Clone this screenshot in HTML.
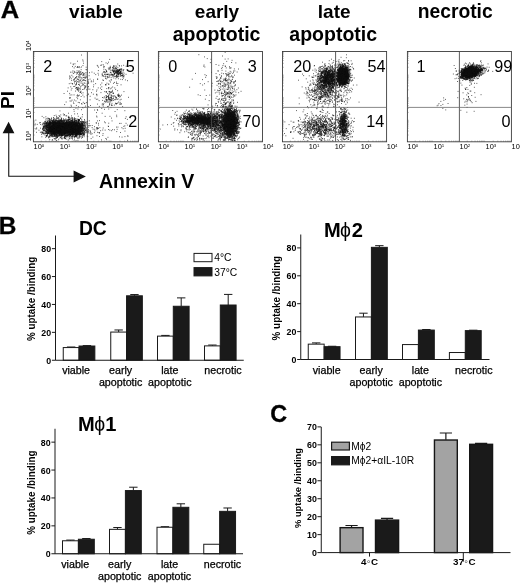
<!DOCTYPE html>
<html lang="en"><head><meta charset="utf-8"><title>Figure</title>
<style>html,body{margin:0;padding:0;background:#fff}svg{display:block}text{font-family:"Liberation Sans", sans-serif;fill:#000}.b{font-weight:bold}</style></head><body>
<svg width="520" height="583" viewBox="0 0 520 583">
<rect width="520" height="583" fill="#fff"/>
<text class="b" x="0.7" y="18" font-size="24.6" textLength="18.4" lengthAdjust="spacingAndGlyphs" stroke="#000" stroke-width="0.3">A</text>
<text class="b" x="-1.3" y="233.8" font-size="24.4" stroke="#000" stroke-width="0.3">B</text>
<text class="b" x="270.2" y="421.8" font-size="23.4" stroke="#000" stroke-width="0.3">C</text>
<text class="b" x="96.00" y="17.60" font-size="19" text-anchor="middle">viable</text>
<text class="b" x="217.00" y="17.60" font-size="19" text-anchor="middle">early</text>
<text class="b" x="216.60" y="41.30" font-size="19.5" text-anchor="middle">apoptotic</text>
<text class="b" x="334.20" y="17.60" font-size="19" text-anchor="middle">late</text>
<text class="b" x="333.20" y="41.30" font-size="19.5" text-anchor="middle">apoptotic</text>
<text class="b" x="455.20" y="17.60" font-size="19.3" text-anchor="middle">necrotic</text>
<path d="M71.8 127.1h.9M77.2 133.9h.9M72.9 128.9h.9M51.2 131.0h.9M61.0 126.4h.9M72.5 123.3h.9M49.5 129.4h.9M69.5 128.8h.9M77.8 126.0h.9M59.2 134.3h.9M60.5 126.1h.9M51.0 134.8h.9M54.3 132.4h.9M66.4 126.3h.9M61.3 120.4h.9M66.0 136.3h.9M78.6 125.6h.9M65.3 130.1h.9M69.1 129.1h.9M81.7 127.2h.9M50.6 119.6h.9M54.9 127.0h.9M64.8 119.6h.9M45.3 131.5h.9M48.7 130.2h.9M62.0 127.3h.9M71.1 128.1h.9M72.2 125.8h.9M70.9 129.7h.9M68.0 124.0h.9M56.8 121.3h.9M49.4 128.5h.9M49.9 133.6h.9M52.1 130.1h.9M71.7 127.8h.9M58.2 130.3h.9M58.4 125.0h.9M43.8 125.6h.9M65.1 135.5h.9M53.3 122.7h.9M53.0 127.8h.9M77.7 131.5h.9M65.2 128.4h.9M70.5 130.0h.9M74.8 134.2h.9M75.9 122.8h.9M53.6 129.5h.9M61.1 125.5h.9M62.8 123.1h.9M74.3 126.0h.9M57.9 132.4h.9M63.2 122.8h.9M51.0 127.3h.9M61.1 125.2h.9M59.5 129.5h.9M50.6 131.1h.9M79.1 132.1h.9M60.7 135.2h.9M69.9 132.4h.9M64.7 128.4h.9M67.3 124.6h.9M72.0 120.1h.9M68.7 126.6h.9M51.6 130.6h.9M59.6 120.1h.9M57.8 131.9h.9M59.2 135.1h.9M48.5 128.6h.9M76.8 123.4h.9M56.6 131.5h.9M67.7 127.2h.9M51.4 126.0h.9M78.6 122.0h.9M66.8 132.2h.9M53.1 123.9h.9M76.7 130.5h.9M83.0 121.8h.9M81.1 123.2h.9M64.2 121.9h.9M51.7 124.9h.9M49.2 123.4h.9M84.2 129.7h.9M67.3 136.8h.9M58.5 132.8h.9M75.5 125.4h.9M61.3 136.2h.9M71.8 131.9h.9M60.3 126.5h.9M61.5 132.6h.9M55.6 120.5h.9M51.1 122.7h.9M78.3 126.3h.9M57.2 127.8h.9M69.5 131.7h.9M56.2 131.7h.9M70.6 125.3h.9M54.6 126.1h.9M63.1 125.4h.9M47.3 133.1h.9M44.9 125.4h.9M80.0 128.2h.9M71.1 122.9h.9M61.3 130.4h.9M60.3 131.7h.9M73.5 127.7h.9M54.3 124.9h.9M67.8 126.7h.9M73.0 132.9h.9M62.9 126.4h.9M62.0 130.0h.9M73.6 127.1h.9M79.5 132.8h.9M50.6 123.6h.9M77.8 132.3h.9M55.3 124.2h.9M73.1 126.2h.9M77.4 133.5h.9M50.4 121.6h.9M61.5 128.7h.9M68.2 125.2h.9M47.9 130.3h.9M72.5 134.0h.9M81.2 121.7h.9M68.7 126.9h.9M73.9 122.2h.9M55.2 122.6h.9M51.9 130.6h.9M58.9 130.3h.9M55.6 129.3h.9M56.1 127.9h.9M82.1 123.4h.9M62.9 132.2h.9M52.3 133.6h.9M52.8 126.5h.9M72.9 122.5h.9M57.2 123.3h.9M83.9 122.9h.9M63.8 132.5h.9M65.5 124.2h.9M81.3 131.9h.9M76.5 125.1h.9M64.8 125.4h.9M66.4 123.6h.9M77.9 134.2h.9M61.1 130.5h.9M79.5 128.7h.9M44.6 135.1h.9M58.9 130.4h.9M64.3 133.4h.9M81.1 130.9h.9M54.4 127.3h.9M73.6 125.9h.9M73.3 127.8h.9M76.2 127.3h.9M71.0 126.1h.9M84.1 131.2h.9M57.0 125.4h.9M59.5 126.8h.9M55.3 124.9h.9M48.1 124.5h.9M52.7 128.0h.9M83.7 128.7h.9M74.5 131.6h.9M47.7 129.6h.9M69.2 134.0h.9M69.9 125.7h.9M67.4 126.5h.9M73.7 131.4h.9M56.0 136.3h.9M77.5 132.2h.9M60.4 135.6h.9M67.7 124.2h.9M75.1 136.0h.9M49.4 129.2h.9M55.4 127.0h.9M57.4 128.8h.9M71.9 134.7h.9M77.4 132.3h.9M73.9 128.4h.9M52.3 130.0h.9M71.7 131.2h.9M75.3 127.5h.9M72.8 121.5h.9M74.0 123.1h.9M76.9 126.3h.9M49.7 131.4h.9M44.4 122.6h.9M46.4 128.1h.9M51.2 133.3h.9M59.2 132.0h.9M52.7 122.7h.9M68.2 132.3h.9M46.3 125.1h.9M65.2 131.9h.9M57.6 121.9h.9M66.4 127.8h.9M41.7 124.9h.9M59.2 123.4h.9M74.4 127.4h.9M63.7 123.7h.9M77.6 130.8h.9M66.3 132.0h.9M70.8 129.3h.9M51.4 128.1h.9M71.8 130.0h.9M53.6 120.6h.9M72.3 134.8h.9M78.4 129.1h.9M72.7 126.8h.9M49.9 126.2h.9M62.8 128.7h.9M52.8 124.9h.9M54.5 131.4h.9M63.4 132.6h.9M70.7 128.7h.9M51.4 133.1h.9M83.6 132.0h.9M74.0 130.2h.9M52.6 132.4h.9M70.4 125.9h.9M80.5 131.0h.9M46.4 123.8h.9M66.5 121.5h.9M76.5 131.1h.9M66.2 131.2h.9M50.7 129.9h.9M71.7 126.7h.9M65.4 131.8h.9M74.8 132.5h.9M77.5 132.1h.9M59.0 127.6h.9M72.7 124.6h.9M74.9 131.4h.9M78.1 122.1h.9M53.0 129.5h.9M53.6 129.5h.9M71.6 128.1h.9M53.7 129.7h.9M57.3 129.0h.9M81.3 125.5h.9M62.7 125.6h.9M52.5 133.6h.9M55.4 133.4h.9M65.1 124.7h.9M54.2 129.1h.9M56.2 126.0h.9M50.3 125.7h.9M70.2 128.1h.9M79.3 128.0h.9M59.9 128.7h.9M59.4 122.9h.9M63.3 131.3h.9M60.5 133.5h.9M59.5 127.6h.9M58.0 132.9h.9M57.6 134.0h.9M47.3 125.5h.9M74.4 131.2h.9M64.0 125.9h.9M60.6 125.3h.9M51.4 123.2h.9M73.7 130.2h.9M54.2 129.2h.9M53.7 128.6h.9M48.7 125.6h.9M49.0 131.2h.9M85.8 122.9h.9M52.0 123.8h.9M55.9 127.0h.9M78.8 120.2h.9M67.4 132.8h.9M50.8 126.8h.9M57.1 128.1h.9M78.6 123.9h.9M63.6 129.7h.9M76.0 124.9h.9M50.9 128.1h.9M75.3 127.2h.9M69.4 130.2h.9M75.4 129.7h.9M67.3 133.3h.9M60.4 124.5h.9M52.3 123.5h.9M68.5 122.3h.9M68.9 129.7h.9M58.4 123.0h.9M54.6 128.9h.9M61.5 133.8h.9M71.6 128.7h.9M71.8 135.0h.9M51.7 135.7h.9M54.6 126.1h.9M73.2 131.4h.9M70.7 133.6h.9M70.2 135.0h.9M80.4 130.3h.9M73.3 130.5h.9M75.5 135.7h.9M70.1 131.5h.9M58.9 127.1h.9M68.3 128.4h.9M54.3 130.1h.9M66.6 133.6h.9M66.9 130.0h.9M70.2 122.6h.9M63.9 128.2h.9M61.3 127.2h.9M64.6 134.5h.9M53.3 126.2h.9M77.1 128.4h.9M65.3 130.0h.9M56.6 131.9h.9M62.2 127.5h.9M69.6 134.2h.9M61.1 129.0h.9M75.7 126.6h.9M77.9 121.4h.9M59.7 127.4h.9M54.3 132.8h.9M73.3 129.5h.9M81.3 128.9h.9M53.5 123.8h.9M69.1 126.9h.9M71.0 121.3h.9M79.6 134.1h.9M53.1 125.4h.9M49.7 120.3h.9M78.6 120.2h.9M59.6 131.6h.9M50.6 126.3h.9M65.7 123.3h.9M63.2 133.2h.9M68.1 132.6h.9M54.2 132.4h.9M84.1 121.9h.9M58.0 126.2h.9M75.2 125.6h.9M51.9 121.7h.9M63.5 134.1h.9M52.0 124.0h.9M57.3 129.9h.9M56.3 129.8h.9M71.6 129.0h.9M65.8 126.5h.9M50.6 131.7h.9M82.8 129.6h.9M69.5 126.7h.9M82.0 126.9h.9M64.1 124.4h.9M65.3 132.0h.9M53.9 131.7h.9M48.6 127.7h.9M49.6 126.1h.9M60.6 137.0h.9M54.2 126.5h.9M51.4 128.3h.9M79.4 127.6h.9M68.4 125.4h.9M46.2 131.8h.9M70.7 126.1h.9M53.8 127.2h.9M59.8 121.4h.9M54.6 130.9h.9M63.7 120.9h.9M72.0 135.0h.9M59.7 126.6h.9M64.3 123.9h.9M80.9 133.7h.9M78.5 126.9h.9M55.4 121.6h.9M51.9 122.6h.9M47.0 130.0h.9M81.8 130.0h.9M80.0 126.9h.9M57.7 127.5h.9M88.8 120.8h.9M57.0 130.7h.9M65.7 127.1h.9M69.5 132.1h.9M72.9 128.2h.9M44.7 126.5h.9M56.6 124.6h.9M64.9 125.9h.9M52.2 128.2h.9M54.2 124.2h.9M69.1 125.4h.9M82.0 131.0h.9M75.4 125.9h.9M73.5 130.0h.9M74.8 128.4h.9M73.8 128.9h.9M71.7 127.5h.9M71.2 130.5h.9M74.3 131.5h.9M58.2 139.3h.9M58.7 120.9h.9M76.8 129.1h.9M50.0 123.0h.9M78.3 130.0h.9M64.2 120.2h.9M60.5 129.0h.9M75.3 131.7h.9M55.9 132.3h.9M65.9 130.8h.9M54.0 128.9h.9M78.8 123.4h.9M61.2 127.1h.9M80.4 128.0h.9M56.2 125.7h.9M78.9 120.3h.9M72.2 127.8h.9M71.2 127.3h.9M85.5 123.8h.9M63.0 126.9h.9M66.2 132.6h.9M65.0 129.5h.9M78.2 132.8h.9M57.7 124.2h.9M69.1 131.2h.9M54.4 128.3h.9M67.0 132.6h.9M78.8 125.9h.9M43.0 133.8h.9M71.7 136.5h.9M45.4 126.1h.9M83.3 134.0h.9M61.4 135.5h.9M62.6 132.9h.9M69.8 122.7h.9M67.2 123.2h.9M75.3 118.5h.9M48.9 128.0h.9M66.2 123.1h.9M60.8 132.9h.9M79.4 125.2h.9M51.9 129.2h.9M60.4 127.2h.9M72.4 126.7h.9M58.2 125.2h.9M43.3 126.2h.9M62.1 120.8h.9M53.1 124.2h.9M54.0 127.2h.9M76.2 133.8h.9M53.8 123.6h.9M65.1 128.8h.9M70.6 131.0h.9M66.3 124.0h.9M61.3 134.4h.9M81.7 124.0h.9M54.4 124.1h.9M67.3 123.1h.9M79.8 131.2h.9M71.6 122.8h.9M65.7 128.1h.9M60.9 130.7h.9M69.0 122.0h.9M64.9 133.4h.9M68.8 124.9h.9M62.8 129.4h.9M63.8 132.8h.9M76.4 125.2h.9M69.1 128.1h.9M57.4 130.5h.9M69.6 132.4h.9M61.5 120.3h.9M81.8 124.1h.9M75.9 123.9h.9M63.1 128.6h.9M79.7 125.1h.9M44.9 133.5h.9M63.6 123.5h.9M73.8 125.6h.9M66.8 129.2h.9M66.2 128.2h.9M74.9 123.9h.9M66.5 128.4h.9M64.8 123.2h.9M55.6 124.4h.9M55.3 127.2h.9M55.5 128.7h.9M58.7 131.4h.9M57.9 130.6h.9M79.2 125.0h.9M62.9 125.4h.9M61.6 126.7h.9M62.0 126.1h.9M68.6 129.8h.9M77.5 131.1h.9M71.2 129.0h.9M63.5 130.6h.9M56.9 137.6h.9M80.2 133.9h.9M56.6 128.4h.9M64.2 133.3h.9M42.2 128.7h.9M72.9 131.5h.9M61.6 126.9h.9M65.9 132.5h.9M53.9 124.7h.9M61.8 130.6h.9M77.6 134.2h.9M73.7 130.6h.9M64.6 129.7h.9M73.3 132.8h.9M54.7 129.5h.9M58.4 131.9h.9M70.4 132.7h.9M52.7 123.1h.9M57.4 132.6h.9M68.6 126.5h.9M71.2 133.3h.9M53.4 131.5h.9M70.7 129.5h.9M70.8 125.0h.9M51.0 133.8h.9M47.5 126.1h.9M63.0 132.7h.9M49.1 126.2h.9M71.6 129.6h.9M62.5 129.7h.9M61.6 129.8h.9M59.1 126.3h.9M64.9 135.8h.9M62.0 126.2h.9M71.0 127.7h.9M48.3 122.9h.9M74.9 129.5h.9M51.9 131.3h.9M53.6 128.7h.9M59.1 125.9h.9M44.9 123.4h.9M57.3 128.8h.9M69.5 132.5h.9M71.6 125.2h.9M52.7 124.3h.9M55.1 125.0h.9M55.5 132.5h.9M68.2 127.3h.9M61.8 127.1h.9M78.1 125.9h.9M65.8 127.6h.9M69.0 121.5h.9M79.4 130.1h.9M70.1 125.9h.9M59.0 123.9h.9M60.8 127.6h.9M59.6 131.0h.9M60.6 128.2h.9M48.2 133.0h.9M63.5 126.8h.9M70.4 134.1h.9M51.4 128.8h.9M52.2 129.9h.9M57.8 124.3h.9M59.9 126.3h.9M74.1 125.7h.9M48.2 137.8h.9M53.9 129.5h.9M55.5 130.0h.9M62.3 129.4h.9M45.6 122.7h.9M60.9 123.1h.9M46.4 135.7h.9M56.2 121.8h.9M71.4 133.7h.9M55.2 123.3h.9M64.1 124.8h.9M59.2 135.6h.9M57.6 130.3h.9M70.5 125.9h.9M55.2 130.0h.9M76.2 123.8h.9M78.5 131.8h.9M65.4 127.1h.9M49.4 131.8h.9M63.2 120.0h.9M65.5 129.8h.9M71.0 126.4h.9M56.5 123.3h.9M79.5 133.9h.9M76.0 131.2h.9M54.1 128.5h.9M58.4 122.1h.9M50.4 127.3h.9M77.5 137.7h.9M77.3 124.2h.9M79.0 129.7h.9M68.7 128.0h.9M67.8 135.7h.9M71.1 127.4h.9M70.1 135.9h.9M81.8 125.6h.9M66.0 130.4h.9M53.8 121.4h.9M64.1 124.5h.9M47.5 130.7h.9M75.2 130.0h.9M68.9 134.8h.9M60.5 129.3h.9M78.1 123.3h.9M70.5 129.8h.9M57.9 128.4h.9M56.0 134.6h.9M57.0 131.6h.9M55.7 130.8h.9M58.3 126.8h.9M58.6 126.3h.9M80.0 125.7h.9M56.7 122.3h.9M77.8 133.6h.9M67.9 125.6h.9M75.5 121.9h.9M60.0 125.5h.9M48.6 133.5h.9M78.4 128.1h.9M56.7 128.9h.9M46.1 135.8h.9M70.2 131.7h.9M64.3 125.3h.9M51.5 120.7h.9M58.2 126.2h.9M79.8 124.8h.9M54.0 127.8h.9M71.5 132.8h.9M48.9 128.0h.9M69.1 134.2h.9M46.2 133.5h.9M61.3 126.6h.9M53.6 133.6h.9M60.7 128.7h.9M79.7 128.1h.9M54.9 136.3h.9M55.7 129.5h.9M72.4 122.6h.9M65.2 128.1h.9M57.6 125.3h.9M70.4 131.2h.9M62.4 123.9h.9M79.4 128.0h.9M61.2 131.2h.9M73.6 130.1h.9M69.5 123.8h.9M71.5 125.9h.9M61.0 130.1h.9M67.2 135.5h.9M71.8 131.4h.9M60.8 126.8h.9M45.1 121.5h.9M86.8 136.0h.9M67.4 135.3h.9M50.9 118.4h.9M72.4 124.5h.9M49.5 126.8h.9M60.0 126.1h.9M70.2 131.6h.9M58.6 123.6h.9M56.3 131.2h.9M58.5 128.5h.9M53.8 130.1h.9M57.4 126.9h.9M60.5 123.6h.9M55.1 121.2h.9M47.7 123.5h.9M66.7 130.3h.9M52.6 121.0h.9M69.5 130.3h.9M83.2 127.3h.9M59.1 130.0h.9M67.0 124.5h.9M66.7 130.3h.9M52.9 130.1h.9M46.5 126.7h.9M76.2 124.9h.9M58.7 129.6h.9M74.3 129.9h.9M47.1 132.3h.9M71.8 118.1h.9M77.7 120.0h.9M73.0 132.0h.9M47.4 122.4h.9M60.2 130.1h.9M59.6 124.9h.9M74.3 119.9h.9M50.7 130.3h.9M49.1 123.7h.9M72.9 131.8h.9M64.6 133.8h.9M63.4 129.2h.9M83.4 135.1h.9M53.2 118.1h.9M50.6 129.6h.9M57.9 123.7h.9M53.1 128.8h.9M51.5 129.6h.9M68.5 129.2h.9M76.7 133.1h.9M67.1 130.9h.9M64.4 128.2h.9M52.9 130.9h.9M68.1 135.1h.9M71.9 122.5h.9M60.9 118.9h.9M70.7 126.2h.9M65.5 133.0h.9M59.4 127.8h.9M70.3 126.9h.9M66.4 125.7h.9M46.3 126.6h.9M67.4 126.9h.9M76.0 132.1h.9M53.2 132.1h.9M66.8 135.0h.9M70.7 130.2h.9M66.9 132.3h.9M61.5 125.8h.9M59.2 129.0h.9M61.6 129.3h.9M77.3 124.7h.9M63.8 137.8h.9M55.1 124.1h.9M81.2 130.9h.9M74.4 124.8h.9M51.7 131.9h.9M54.3 127.6h.9M54.9 133.0h.9M76.5 129.5h.9M84.3 120.7h.9M50.9 129.9h.9M58.2 127.2h.9M57.7 130.9h.9M61.8 128.2h.9M76.4 122.3h.9M57.7 126.0h.9M50.0 130.9h.9M61.6 123.4h.9M64.7 129.3h.9M68.1 131.2h.9M54.1 127.7h.9M55.7 135.5h.9M56.1 133.9h.9M77.7 132.7h.9M70.7 130.2h.9M47.6 120.5h.9M70.1 126.5h.9M58.1 126.9h.9M81.7 123.7h.9M50.4 128.5h.9M78.7 131.4h.9M47.2 134.9h.9M62.2 128.6h.9M64.9 128.7h.9M66.8 122.7h.9M51.9 136.6h.9M52.0 135.2h.9M56.4 130.5h.9M46.9 130.0h.9M49.0 136.1h.9M53.7 127.8h.9M57.6 122.4h.9M54.8 129.9h.9M65.6 121.8h.9M54.0 131.5h.9M49.3 126.6h.9M61.9 130.8h.9M73.1 126.2h.9M56.4 131.6h.9M60.7 132.9h.9M75.3 128.5h.9M54.1 124.1h.9M77.9 124.8h.9M74.2 121.1h.9M53.1 125.2h.9M71.6 127.6h.9M54.2 125.7h.9M54.0 121.3h.9M65.7 132.4h.9M58.8 127.4h.9M77.9 131.8h.9M59.2 125.0h.9M73.9 118.7h.9M68.2 130.8h.9M52.0 130.9h.9M74.2 128.1h.9M66.2 135.2h.9M54.1 133.2h.9M80.6 126.2h.9M48.1 125.0h.9M49.4 125.0h.9M59.2 130.0h.9M71.9 131.8h.9M47.1 124.9h.9M83.4 134.2h.9M75.3 124.1h.9M49.1 133.0h.9M72.6 125.3h.9M60.5 137.0h.9M63.0 124.5h.9M63.6 134.9h.9M73.1 127.3h.9M78.9 124.5h.9M60.9 121.0h.9M75.3 124.9h.9M61.5 128.4h.9M66.6 136.1h.9M82.1 132.9h.9M78.7 122.5h.9M55.5 127.6h.9M54.3 126.6h.9M81.7 124.4h.9M82.1 128.2h.9M57.4 130.4h.9M78.7 129.1h.9M62.1 132.8h.9M63.1 124.6h.9M72.6 129.3h.9M69.0 128.5h.9M61.2 133.6h.9M57.9 133.3h.9M59.9 125.0h.9M42.8 129.3h.9M46.4 129.0h.9M75.8 134.7h.9M66.9 131.3h.9M66.5 124.2h.9M75.0 127.6h.9M47.6 132.8h.9M54.0 132.3h.9M58.4 126.2h.9M59.8 132.2h.9M69.6 125.4h.9M62.9 121.6h.9M64.7 134.3h.9M66.8 130.6h.9M56.1 120.5h.9M45.2 128.2h.9M63.2 124.6h.9M74.5 128.2h.9M57.2 124.8h.9M69.0 125.4h.9M46.3 129.5h.9M59.6 132.6h.9M69.3 130.3h.9M61.9 135.4h.9M58.0 134.0h.9M61.5 128.6h.9M71.4 125.9h.9M54.6 136.1h.9M73.1 125.4h.9M50.6 128.6h.9M87.7 131.2h.9M54.3 126.3h.9M57.5 130.7h.9M47.3 134.8h.9M77.9 119.5h.9M54.3 133.0h.9M67.2 128.8h.9M81.3 123.3h.9M76.0 130.0h.9M54.9 128.7h.9M60.7 129.1h.9M65.5 130.2h.9M71.4 130.1h.9M53.9 130.8h.9M60.2 124.4h.9M49.7 126.3h.9M47.4 124.3h.9M72.3 128.8h.9M50.1 123.2h.9M55.0 132.6h.9M54.9 127.7h.9M43.6 128.2h.9M46.1 123.2h.9M76.7 131.9h.9M60.0 127.8h.9M56.8 126.5h.9M62.1 128.5h.9M43.5 123.4h.9M48.8 124.9h.9M83.9 125.4h.9M74.9 123.0h.9M66.4 123.5h.9M46.4 132.4h.9M61.1 130.4h.9M46.8 119.0h.9M55.3 130.8h.9M40.8 132.2h.9M55.7 133.7h.9M69.6 125.8h.9M52.6 122.7h.9M56.9 128.4h.9M76.4 128.0h.9M57.8 132.7h.9M60.9 127.3h.9M51.7 126.9h.9M72.7 122.2h.9M69.8 122.8h.9M63.6 122.4h.9M70.3 125.0h.9M54.0 126.7h.9M55.9 134.0h.9M73.4 131.6h.9M73.2 134.2h.9M73.4 126.6h.9M74.6 131.7h.9M62.9 131.2h.9M42.1 132.1h.9M81.8 135.4h.9M51.5 130.7h.9M47.3 127.4h.9M73.0 129.2h.9M70.4 127.0h.9M68.4 123.0h.9M61.7 122.6h.9M51.4 134.7h.9M44.5 130.2h.9M74.1 133.1h.9M76.0 120.8h.9M55.6 135.7h.9M75.8 124.0h.9M63.3 120.5h.9M56.0 123.2h.9M59.2 125.1h.9M42.8 126.5h.9M61.1 133.7h.9M59.5 129.1h.9M73.9 125.3h.9M61.6 128.5h.9M79.4 128.1h.9M72.7 124.4h.9M61.4 123.1h.9M55.2 123.3h.9M81.1 121.1h.9M66.2 124.2h.9M49.5 129.3h.9M50.0 122.6h.9M76.2 121.2h.9M66.2 135.4h.9M53.0 123.9h.9M79.0 129.4h.9M66.5 132.4h.9M62.0 128.7h.9M75.1 134.5h.9M82.5 125.1h.9M45.5 122.3h.9M49.4 121.7h.9M62.1 131.2h.9M70.5 125.3h.9M73.5 132.2h.9M75.4 130.6h.9M64.3 132.5h.9M52.3 128.5h.9M69.6 134.6h.9M42.7 132.0h.9M72.0 132.7h.9M56.0 117.0h.9M64.1 137.0h.9M80.5 132.5h.9M63.1 126.2h.9M50.5 128.9h.9M56.2 130.4h.9M69.2 123.7h.9M54.5 122.8h.9M60.4 132.1h.9M46.3 126.7h.9M63.9 121.7h.9M64.9 129.9h.9M70.4 129.7h.9M51.7 125.9h.9M67.5 130.1h.9M53.9 127.7h.9M81.7 125.3h.9M76.0 129.8h.9M65.9 126.6h.9M61.6 128.2h.9M84.3 127.4h.9M58.5 132.4h.9M73.4 132.1h.9M55.6 127.0h.9M74.9 131.5h.9M60.8 124.6h.9M63.3 126.8h.9M78.7 127.6h.9M44.3 121.4h.9M71.2 123.8h.9M60.5 132.0h.9M55.1 131.3h.9M56.4 134.5h.9M46.1 127.1h.9M57.8 130.2h.9M70.8 123.8h.9M49.7 131.3h.9M65.4 133.2h.9M82.0 132.9h.9M72.4 125.8h.9M69.7 124.7h.9M76.6 131.6h.9M55.6 121.5h.9M82.9 130.6h.9M53.2 133.1h.9M71.5 128.5h.9M74.5 124.2h.9M69.9 132.8h.9M61.8 131.9h.9M51.4 123.2h.9M59.4 125.2h.9M52.7 132.7h.9M54.5 124.3h.9M53.2 120.4h.9M69.6 121.9h.9M73.9 131.7h.9M50.0 124.7h.9M49.8 121.3h.9M51.8 128.2h.9M51.2 131.4h.9M45.8 129.1h.9M62.0 132.8h.9M62.8 131.6h.9M64.7 124.7h.9M49.9 127.3h.9M66.5 124.8h.9M59.8 124.2h.9M59.1 129.1h.9M60.7 125.4h.9M79.1 126.0h.9M56.2 128.9h.9M75.1 134.0h.9M60.4 124.2h.9M74.8 135.2h.9M59.9 123.5h.9M63.8 132.3h.9M71.4 132.6h.9M66.0 121.4h.9M54.0 131.9h.9M46.1 130.2h.9M83.6 126.6h.9M49.3 121.3h.9M56.8 126.6h.9M80.9 130.9h.9M49.6 127.4h.9M57.0 132.9h.9M52.9 127.1h.9M49.4 129.7h.9M62.0 126.4h.9M73.7 129.4h.9M61.3 129.9h.9M47.6 125.6h.9M72.9 122.3h.9M71.3 122.1h.9M65.9 127.0h.9M52.7 128.6h.9M73.5 129.6h.9M61.5 133.9h.9M65.2 129.6h.9M77.4 119.1h.9M57.7 126.4h.9M63.7 127.1h.9M49.3 126.8h.9M66.1 131.8h.9M76.3 133.6h.9M66.0 122.9h.9M60.6 130.2h.9M78.7 120.6h.9M76.5 134.5h.9M62.8 130.0h.9M65.5 125.0h.9M75.1 127.4h.9M57.1 125.7h.9M68.7 123.5h.9M68.1 131.4h.9M66.8 123.9h.9M78.8 135.2h.9M70.4 134.0h.9M55.5 137.1h.9M56.1 127.2h.9M81.5 132.3h.9M53.3 124.2h.9M69.5 131.2h.9M68.5 126.5h.9M83.4 129.3h.9M75.5 120.5h.9M53.5 127.6h.9M84.5 123.0h.9M70.1 123.1h.9M51.2 126.0h.9M64.6 123.7h.9M45.9 132.2h.9M63.6 127.9h.9M56.2 127.1h.9M60.0 131.1h.9M64.1 129.6h.9M66.1 122.3h.9M65.9 129.4h.9M77.1 125.7h.9M59.2 130.8h.9M67.6 134.1h.9M47.8 124.1h.9M56.7 133.2h.9M84.5 133.0h.9M48.9 122.6h.9M78.7 133.0h.9M67.9 122.2h.9M52.8 124.8h.9M78.2 128.6h.9M47.9 128.3h.9M73.9 125.5h.9M51.7 130.0h.9M50.0 129.0h.9M74.9 130.1h.9M61.9 125.7h.9M50.6 134.4h.9M72.1 133.3h.9M56.4 129.9h.9M65.0 130.9h.9M68.1 126.9h.9M73.0 133.7h.9M51.7 128.5h.9M69.0 128.3h.9M79.9 123.2h.9M60.1 126.6h.9M75.3 130.0h.9M44.5 128.8h.9M75.0 130.2h.9M65.7 133.4h.9M73.7 131.2h.9M74.0 133.9h.9M73.7 130.0h.9M46.4 123.5h.9M77.5 123.3h.9M56.6 123.6h.9M60.5 128.7h.9M58.3 129.9h.9M70.4 135.2h.9M71.0 125.0h.9M82.6 128.8h.9M56.4 132.7h.9M53.0 133.3h.9M60.3 129.2h.9M74.3 129.1h.9M53.0 126.6h.9M59.3 134.8h.9M72.6 127.4h.9M71.4 130.8h.9M55.0 125.3h.9M54.4 125.6h.9M67.4 132.6h.9M75.0 129.4h.9M72.3 127.5h.9M55.5 122.6h.9M63.7 133.0h.9M56.6 137.5h.9M72.0 130.2h.9M66.3 127.8h.9M77.5 128.2h.9M59.1 133.1h.9M59.0 134.5h.9M71.6 131.1h.9M79.5 134.3h.9M75.2 123.1h.9M65.1 125.9h.9M71.5 136.1h.9M62.9 131.5h.9M82.4 130.7h.9M55.4 122.9h.9M62.2 129.5h.9M74.0 124.4h.9M55.2 128.3h.9M79.6 134.3h.9M70.3 127.9h.9M64.2 131.6h.9M49.5 127.1h.9M75.0 133.8h.9M52.7 129.2h.9M82.1 126.8h.9M75.4 130.7h.9M59.1 124.1h.9M54.8 122.8h.9M79.5 125.1h.9M52.2 125.8h.9M48.4 122.1h.9M61.2 125.2h.9M54.8 122.9h.9M61.6 130.2h.9M71.9 128.3h.9M79.9 118.2h.9M73.5 120.6h.9M52.9 122.1h.9M69.6 131.1h.9M61.5 135.5h.9M81.2 128.4h.9M56.0 125.4h.9M65.6 131.0h.9M70.3 134.5h.9M62.0 135.3h.9M54.7 131.4h.9M65.4 127.6h.9M61.8 128.2h.9M79.8 126.7h.9M49.3 120.4h.9M57.5 129.5h.9M51.8 125.6h.9M71.4 132.0h.9M58.3 129.8h.9M78.1 131.0h.9M75.8 120.7h.9M76.7 129.1h.9M56.0 134.3h.9M44.1 127.3h.9M55.8 129.2h.9M83.9 125.2h.9M71.8 125.3h.9M49.4 127.9h.9M70.2 128.3h.9M77.8 128.4h.9M79.5 133.9h.9M71.4 128.2h.9M73.1 135.0h.9M78.6 123.3h.9M56.8 130.1h.9M54.5 122.4h.9M64.6 128.6h.9M48.2 127.4h.9M63.8 127.4h.9M79.8 121.5h.9M63.6 131.2h.9M66.1 124.8h.9M75.0 135.3h.9M57.2 122.1h.9M72.5 129.7h.9M76.0 132.9h.9M57.2 135.1h.9M60.2 124.7h.9M54.8 125.6h.9M74.6 127.0h.9M59.4 125.1h.9M45.7 123.6h.9M69.5 128.2h.9M58.7 128.9h.9M75.2 132.2h.9M71.4 127.1h.9M46.6 133.8h.9M47.8 123.8h.9M60.1 129.5h.9M54.0 125.3h.9M63.8 126.8h.9M78.2 125.8h.9M68.5 130.8h.9M59.4 123.1h.9M52.1 123.9h.9M54.0 124.2h.9M76.3 134.4h.9M57.2 129.0h.9M64.1 132.0h.9M53.3 131.7h.9M78.5 130.0h.9M50.5 125.3h.9M62.9 130.3h.9M63.4 129.7h.9M75.6 127.7h.9M81.9 130.6h.9M72.0 127.2h.9M61.2 123.5h.9M52.0 133.4h.9M69.9 129.0h.9M82.8 121.6h.9M47.2 127.9h.9M75.3 123.9h.9M49.9 132.3h.9M63.0 123.4h.9M66.2 129.9h.9M64.9 127.4h.9M78.7 128.5h.9M68.3 132.6h.9M63.1 127.1h.9M68.5 120.1h.9M64.5 130.2h.9M66.6 125.2h.9M60.9 131.9h.9M58.0 132.2h.9M57.3 131.0h.9M59.3 129.5h.9M51.4 127.4h.9M66.0 123.4h.9M59.4 124.6h.9M76.7 120.8h.9M74.6 125.0h.9M57.0 123.7h.9M67.0 126.0h.9M77.5 131.4h.9M61.3 138.4h.9M67.4 131.2h.9M61.1 132.7h.9M69.2 132.3h.9M80.6 133.4h.9M46.3 129.0h.9M76.6 130.0h.9M66.6 124.8h.9M73.1 129.2h.9M67.5 135.5h.9M75.3 120.3h.9M55.2 132.8h.9M73.3 127.4h.9M57.3 118.1h.9M58.4 129.5h.9M70.1 129.3h.9M50.1 131.6h.9M55.7 129.0h.9M72.0 128.3h.9M72.8 130.2h.9M69.8 127.7h.9M57.4 128.1h.9M69.1 129.1h.9M55.9 132.4h.9M70.2 130.4h.9M69.6 135.7h.9M72.0 129.9h.9M58.8 132.9h.9M61.1 127.6h.9M74.0 136.5h.9M66.3 125.4h.9M69.1 123.2h.9M62.5 124.5h.9M51.9 131.2h.9M63.5 131.6h.9M76.3 134.5h.9M80.0 134.0h.9M76.0 131.4h.9M50.2 132.5h.9M76.3 133.8h.9M60.3 129.2h.9M72.7 131.6h.9M64.5 133.3h.9M63.5 124.4h.9M59.2 126.2h.9M63.3 135.5h.9M67.1 128.3h.9M69.0 125.6h.9M75.1 135.7h.9M62.6 122.8h.9M66.2 129.6h.9M57.9 125.5h.9M71.3 126.5h.9M60.8 129.9h.9M65.8 124.4h.9M49.2 124.6h.9M57.5 124.9h.9M57.6 130.1h.9M61.5 129.2h.9M52.1 127.6h.9M65.7 130.6h.9M74.3 132.1h.9M57.1 126.9h.9M51.9 134.1h.9M68.3 118.9h.9M52.2 131.1h.9M83.4 125.4h.9M56.3 127.1h.9M56.9 132.1h.9M61.5 126.5h.9M57.6 130.3h.9M56.9 125.8h.9M61.6 127.6h.9M76.9 129.0h.9M78.2 119.8h.9M58.6 131.9h.9M74.0 128.1h.9M49.1 129.6h.9M63.2 132.7h.9M60.4 128.3h.9M60.2 132.0h.9M73.1 127.5h.9M71.5 126.5h.9M50.3 131.5h.9M52.3 126.4h.9M80.0 126.8h.9M71.9 137.3h.9M65.4 129.9h.9M78.3 132.8h.9M75.0 125.1h.9M74.2 132.3h.9M73.4 125.3h.9M51.8 130.8h.9M60.5 133.1h.9M64.2 135.2h.9M80.0 133.6h.9M57.8 130.4h.9M61.4 123.7h.9M53.2 128.1h.9M72.3 124.9h.9M67.1 125.9h.9M76.2 135.2h.9M51.0 123.9h.9M70.3 130.4h.9M71.5 126.6h.9M57.7 133.1h.9M58.6 132.8h.9M61.1 134.3h.9M73.5 132.6h.9M50.6 128.5h.9M50.8 128.3h.9M63.9 125.5h.9M54.1 136.0h.9M74.3 125.1h.9M66.9 124.4h.9M83.7 124.3h.9M71.3 125.9h.9M61.1 123.6h.9M50.3 130.3h.9M71.7 126.6h.9M73.6 132.5h.9M68.9 124.8h.9M71.6 130.9h.9M71.5 133.8h.9M65.3 128.7h.9M71.7 127.4h.9M71.7 129.4h.9M55.1 128.4h.9M60.7 129.8h.9M49.3 123.4h.9M65.9 134.3h.9M62.2 135.4h.9M55.7 124.8h.9M71.6 127.8h.9M65.9 128.2h.9M64.6 125.9h.9M77.4 126.1h.9M51.3 126.2h.9M59.1 129.0h.9M51.0 128.8h.9M62.5 128.2h.9M74.2 127.7h.9M48.4 131.3h.9M72.6 127.6h.9M75.3 130.1h.9M61.8 127.0h.9M76.8 128.5h.9M65.2 130.2h.9M61.7 133.9h.9M63.5 125.4h.9M61.1 125.7h.9M64.0 137.5h.9M56.2 135.0h.9M79.7 123.3h.9M62.9 125.3h.9M52.2 131.7h.9M80.0 125.6h.9M52.3 124.1h.9M76.9 125.6h.9M74.9 131.1h.9M63.2 128.5h.9M59.7 134.1h.9M46.9 133.1h.9M59.2 129.7h.9M56.4 128.6h.9M63.5 134.2h.9M62.1 124.3h.9M81.6 134.8h.9M69.8 131.0h.9M83.9 128.8h.9M74.6 128.8h.9M49.1 123.3h.9M67.3 131.7h.9M50.9 130.0h.9M44.6 122.2h.9M74.6 125.9h.9M60.2 125.7h.9M57.6 121.7h.9M46.0 126.6h.9M75.3 130.0h.9M68.0 130.1h.9M46.5 135.4h.9M69.4 131.2h.9M55.7 127.4h.9M76.8 126.3h.9M62.3 126.8h.9M61.2 129.9h.9M63.8 134.0h.9M62.4 128.9h.9M80.7 131.5h.9M78.0 125.6h.9M50.9 132.1h.9M66.6 121.6h.9M57.0 129.9h.9M53.5 127.6h.9M54.5 134.6h.9M52.7 136.7h.9M78.4 133.2h.9M71.8 121.2h.9M80.2 124.8h.9M76.4 129.3h.9M59.4 121.5h.9M57.7 130.9h.9M59.4 132.2h.9M56.5 127.3h.9M66.4 122.5h.9M74.2 127.6h.9M49.8 131.1h.9M53.9 125.7h.9M66.5 130.2h.9M70.9 131.5h.9M68.6 134.7h.9M71.8 123.3h.9M57.0 130.1h.9M52.9 121.9h.9M63.8 127.8h.9M61.3 134.0h.9M72.6 128.7h.9M83.5 130.0h.9M69.6 134.7h.9M45.6 132.6h.9M56.4 125.1h.9M70.7 130.7h.9M79.8 132.4h.9M67.2 128.2h.9M61.1 126.2h.9M62.2 129.7h.9M57.2 130.6h.9M77.1 129.3h.9M52.3 121.1h.9M54.4 131.9h.9M44.4 133.4h.9M52.4 129.5h.9M80.5 124.1h.9M62.0 131.5h.9M80.9 134.2h.9M49.5 123.3h.9M52.8 128.6h.9M76.1 130.1h.9M69.4 127.1h.9M47.9 133.1h.9M58.1 130.9h.9M80.1 131.3h.9M68.8 129.0h.9M55.9 138.6h.9M50.4 130.1h.9M78.1 126.2h.9M61.5 128.1h.9M70.9 125.9h.9M61.4 131.9h.9M52.1 132.5h.9M53.6 126.3h.9M44.7 126.1h.9M50.9 123.9h.9M52.7 131.9h.9M64.2 133.0h.9M59.9 125.9h.9M58.2 126.3h.9M74.5 129.0h.9M49.0 126.4h.9M58.3 129.9h.9M71.9 127.4h.9M66.8 125.9h.9M64.6 127.5h.9M52.9 133.3h.9M66.1 130.2h.9M55.4 123.7h.9M74.1 134.0h.9M76.7 129.8h.9M61.8 134.1h.9M52.4 132.2h.9M76.1 130.4h.9M58.0 123.3h.9M77.6 133.8h.9M71.8 126.1h.9M74.6 122.1h.9M79.2 125.8h.9M64.2 129.8h.9M77.7 130.2h.9M63.3 127.2h.9M58.9 129.5h.9M68.0 129.7h.9M57.8 130.9h.9M73.5 127.7h.9M74.7 129.6h.9M50.7 119.3h.9M52.9 133.4h.9M56.1 126.7h.9M65.5 124.1h.9M85.2 127.6h.9M84.7 126.1h.9M84.0 119.5h.9M68.1 133.0h.9M75.3 127.6h.9M53.8 123.8h.9M59.6 131.4h.9M54.2 134.5h.9M71.1 120.7h.9M59.6 134.6h.9M51.1 133.8h.9M57.4 134.5h.9M55.0 132.9h.9M72.9 126.0h.9M46.0 124.9h.9M58.9 132.9h.9M81.5 127.9h.9M70.7 130.2h.9M66.4 128.7h.9M64.8 138.5h.9M50.6 130.4h.9M72.4 121.4h.9M72.9 131.7h.9M63.7 128.9h.9M46.9 128.9h.9M52.7 125.6h.9M61.9 125.9h.9M54.1 126.9h.9M46.2 129.1h.9M66.6 129.9h.9M67.0 123.6h.9M51.1 127.2h.9M55.3 128.1h.9M59.8 123.2h.9M55.6 127.9h.9M67.0 135.2h.9M62.3 126.2h.9M56.0 128.3h.9M64.6 130.2h.9M56.5 129.4h.9M58.2 125.3h.9M74.7 128.4h.9M71.8 129.4h.9M69.4 132.7h.9M76.0 122.9h.9M72.1 126.4h.9M70.4 128.8h.9M51.5 128.0h.9M72.2 127.9h.9M60.3 134.8h.9M56.6 125.4h.9M53.4 129.7h.9M60.4 128.9h.9M46.8 122.1h.9M65.9 125.6h.9M73.1 133.3h.9M72.0 133.7h.9M50.9 131.6h.9M72.0 134.1h.9M76.9 127.3h.9M51.8 123.4h.9M48.2 125.9h.9M58.3 124.9h.9M60.6 124.0h.9M50.3 126.7h.9M62.2 129.5h.9M63.2 132.5h.9M72.1 134.0h.9M62.5 126.4h.9M66.1 127.2h.9M55.7 125.9h.9M69.2 127.2h.9M77.7 128.1h.9M66.1 132.0h.9M43.2 127.6h.9M77.8 128.5h.9M66.6 133.3h.9M57.0 130.8h.9M64.5 127.9h.9M72.0 125.3h.9M63.4 119.8h.9M53.7 127.6h.9M49.9 129.1h.9M60.4 131.1h.9M76.3 125.9h.9M61.0 121.8h.9M53.0 122.3h.9M62.5 124.3h.9M59.6 135.0h.9M49.1 125.6h.9M75.9 132.4h.9M54.9 125.8h.9M59.7 128.6h.9M53.1 133.5h.9M50.2 129.7h.9M80.4 127.4h.9M85.4 129.4h.9M53.5 122.8h.9M60.4 126.1h.9M55.8 127.6h.9M56.6 133.4h.9M70.7 122.9h.9M71.2 129.9h.9M75.0 125.5h.9M71.8 128.5h.9M41.3 132.1h.9M57.8 123.9h.9M65.0 128.1h.9M69.3 130.0h.9M58.8 131.2h.9M68.6 125.0h.9M80.8 130.2h.9M54.9 123.8h.9M52.2 122.3h.9M54.7 120.2h.9M83.5 135.1h.9M50.7 124.4h.9M46.5 136.1h.9M54.7 127.8h.9M75.6 129.5h.9M56.4 130.7h.9M76.9 127.9h.9M54.8 130.4h.9M69.2 122.0h.9M51.4 132.2h.9M78.8 120.1h.9M51.6 125.8h.9M76.1 132.0h.9M73.4 130.3h.9M52.8 127.5h.9M55.2 127.6h.9M66.3 125.2h.9M66.0 125.4h.9M61.8 125.5h.9M65.2 123.9h.9M64.8 135.5h.9M59.1 133.1h.9M67.5 124.9h.9M56.9 126.9h.9M54.2 133.6h.9M53.9 131.4h.9M58.8 129.0h.9M56.6 132.7h.9M51.3 129.0h.9M76.5 130.0h.9M46.0 126.2h.9M52.6 121.2h.9M62.0 129.1h.9M56.5 130.0h.9M58.5 123.2h.9M57.5 128.2h.9M66.1 135.9h.9M72.3 129.3h.9M73.4 122.5h.9M71.4 122.2h.9M60.3 131.6h.9M60.3 125.3h.9M62.3 128.3h.9M48.4 126.6h.9M81.5 125.6h.9M52.4 126.0h.9M53.7 128.0h.9M64.4 127.1h.9M67.0 125.6h.9M54.8 123.4h.9M80.5 130.1h.9M60.7 128.0h.9M69.8 126.2h.9M48.9 119.1h.9M82.1 127.3h.9M42.6 124.6h.9M56.8 137.1h.9M78.5 128.7h.9M73.2 124.7h.9M80.0 125.4h.9M70.4 120.7h.9M55.5 126.4h.9M45.3 120.0h.9M60.8 132.1h.9M50.2 123.8h.9M78.8 133.2h.9M46.4 125.7h.9M66.0 132.7h.9M54.2 134.5h.9M44.5 126.7h.9M67.3 128.7h.9M53.0 130.0h.9M81.6 131.3h.9M76.6 125.2h.9M56.3 125.8h.9M79.1 123.7h.9M77.9 129.1h.9M58.3 124.3h.9M76.3 128.4h.9M67.4 128.1h.9M65.9 124.9h.9M65.5 127.0h.9M70.8 124.9h.9M76.7 127.8h.9M60.0 120.5h.9M52.4 128.1h.9M82.0 125.6h.9M63.1 129.2h.9M55.3 133.9h.9M69.3 132.5h.9M52.9 119.9h.9M77.7 132.9h.9M65.6 132.6h.9M58.7 133.4h.9M50.9 122.6h.9M49.4 131.2h.9M79.7 126.8h.9M56.1 124.6h.9M61.5 130.3h.9M79.3 128.6h.9M58.8 127.2h.9M56.5 131.6h.9M71.1 123.1h.9M51.5 128.8h.9M77.0 124.4h.9M73.9 132.8h.9M51.9 124.3h.9M69.8 125.7h.9M66.7 125.7h.9M66.1 130.6h.9M57.1 129.6h.9M61.9 131.0h.9M53.8 119.6h.9M61.3 125.0h.9M56.1 129.1h.9M73.8 125.6h.9M77.9 134.6h.9M66.5 128.5h.9M76.0 131.5h.9M63.5 123.8h.9M60.0 131.7h.9M56.6 124.9h.9M74.1 126.1h.9M60.8 126.2h.9M67.5 124.0h.9M80.5 128.4h.9M57.2 128.2h.9M75.4 135.7h.9M49.4 134.5h.9M73.4 130.4h.9M77.1 132.4h.9M74.9 123.8h.9M82.6 127.6h.9M64.6 124.9h.9M76.9 130.9h.9M61.9 128.5h.9M71.1 123.3h.9M55.5 125.5h.9M49.9 127.7h.9M57.4 126.3h.9M72.6 124.1h.9M76.0 123.8h.9M42.7 127.9h.9M80.6 127.1h.9M57.4 120.5h.9M58.7 128.7h.9M70.9 133.5h.9M79.0 133.0h.9M66.4 128.2h.9M63.8 130.4h.9M63.3 131.2h.9M70.9 127.8h.9M64.1 127.0h.9M78.2 131.0h.9M71.0 123.0h.9M70.9 131.4h.9M73.5 131.0h.9M61.3 131.2h.9M76.5 131.6h.9M60.4 126.2h.9M62.0 123.4h.9M64.8 126.1h.9M67.4 124.7h.9M61.3 132.4h.9M52.3 131.3h.9M76.2 132.4h.9M75.9 129.3h.9M47.1 125.4h.9M74.2 123.8h.9M70.7 131.4h.9M46.9 126.8h.9M71.9 124.4h.9M60.6 128.4h.9M71.0 124.6h.9M77.7 130.6h.9M68.2 125.9h.9M48.0 128.9h.9M73.3 128.3h.9M70.5 129.6h.9M80.5 126.0h.9M58.9 125.1h.9M71.6 127.2h.9M68.9 128.7h.9M66.9 131.8h.9M64.5 131.8h.9M59.5 127.5h.9M48.9 130.5h.9M53.3 128.8h.9M54.8 132.3h.9M49.9 123.7h.9M72.0 132.1h.9M59.3 131.4h.9M61.0 121.6h.9M55.8 137.6h.9M61.5 125.1h.9M70.6 127.3h.9M63.1 124.1h.9M59.7 127.4h.9M60.7 125.4h.9M65.4 129.5h.9M72.7 127.6h.9M50.1 126.7h.9M66.1 130.0h.9M67.3 126.0h.9M52.1 129.1h.9M77.7 126.0h.9M66.2 134.0h.9M54.4 126.2h.9M67.2 132.2h.9M74.1 117.8h.9M67.1 131.5h.9M80.1 125.1h.9M48.8 130.0h.9M63.5 124.6h.9M75.1 131.3h.9M82.0 121.7h.9M71.4 117.6h.9M71.1 133.5h.9M61.9 127.7h.9M69.1 132.8h.9M69.0 130.5h.9M78.8 123.5h.9M75.0 127.2h.9M72.3 127.6h.9M86.6 131.8h.9M49.7 122.2h.9M72.0 132.4h.9M61.5 124.3h.9M72.2 132.5h.9M58.2 129.8h.9M58.9 123.7h.9M67.6 127.5h.9M49.7 128.3h.9M51.3 130.3h.9M64.6 133.2h.9M76.1 126.0h.9M60.6 120.6h.9M80.7 127.2h.9M56.9 125.1h.9M55.5 126.4h.9M61.5 122.8h.9M66.2 126.6h.9M76.7 133.5h.9M69.1 123.9h.9M56.0 131.1h.9M72.1 121.2h.9M70.8 129.8h.9M59.0 132.2h.9M73.5 131.4h.9M74.5 128.1h.9M61.6 128.5h.9M71.3 122.8h.9M52.2 131.4h.9M58.6 124.0h.9M73.3 132.0h.9M58.9 131.8h.9M63.3 125.3h.9M69.1 125.7h.9M49.5 123.4h.9M75.3 128.6h.9M72.4 130.0h.9M48.8 119.0h.9M59.8 125.4h.9M74.0 124.6h.9M78.2 129.6h.9M77.8 131.4h.9M64.0 135.1h.9M58.3 131.3h.9M63.9 132.7h.9M51.9 125.8h.9M64.1 129.1h.9M52.7 126.8h.9M47.5 118.0h.9M57.6 126.1h.9M47.8 127.5h.9M63.1 130.6h.9M74.7 125.9h.9M62.9 130.6h.9M80.1 134.1h.9M68.8 128.4h.9M64.6 123.0h.9M75.3 135.2h.9M54.1 129.1h.9M67.2 130.9h.9M57.4 125.8h.9M65.2 130.6h.9M79.4 123.1h.9M64.4 129.3h.9M72.0 128.1h.9M72.9 131.0h.9M54.7 122.5h.9M81.0 129.1h.9M50.3 122.0h.9M54.0 128.8h.9M57.6 122.0h.9M56.6 126.6h.9M81.0 134.0h.9M49.1 130.8h.9M53.7 122.8h.9M70.0 125.2h.9M71.3 129.4h.9M69.4 128.3h.9M57.4 120.9h.9M58.2 132.1h.9M74.3 125.4h.9M51.7 131.6h.9M52.0 130.5h.9M55.6 132.2h.9M58.3 122.7h.9M80.9 128.9h.9M74.9 126.7h.9M69.2 133.5h.9M70.5 128.2h.9M71.7 128.0h.9M71.0 130.4h.9M64.3 127.0h.9M49.5 129.6h.9M60.4 130.3h.9M79.6 127.2h.9M71.3 131.3h.9M80.4 127.9h.9M52.0 121.3h.9M74.1 122.1h.9M64.2 136.4h.9M79.2 135.0h.9M68.6 131.4h.9M66.1 129.5h.9M79.4 129.4h.9M70.1 126.6h.9M67.3 121.0h.9M54.4 122.8h.9M70.1 127.9h.9M56.7 128.3h.9M48.4 124.9h.9M50.5 123.2h.9M61.1 129.7h.9M57.4 118.3h.9M76.4 130.4h.9M58.4 127.3h.9M52.3 133.5h.9M84.1 128.3h.9M61.9 129.4h.9M69.1 130.2h.9M53.1 132.2h.9M56.9 123.2h.9M61.9 123.4h.9M73.1 128.4h.9M47.1 123.2h.9M73.3 131.1h.9M79.2 124.5h.9M61.5 123.1h.9M61.3 125.1h.9M55.1 127.0h.9M53.9 134.9h.9M59.4 120.8h.9M78.2 125.9h.9M45.5 125.1h.9M73.1 129.0h.9M63.7 131.9h.9M40.1 128.2h.9M42.8 127.9h.9M77.3 128.2h.9M63.1 132.0h.9M59.5 132.4h.9M81.2 126.9h.9M52.8 130.0h.9M67.5 128.1h.9M57.9 122.6h.9M72.2 132.0h.9M58.9 124.4h.9M55.7 126.1h.9M70.2 125.0h.9M65.9 130.9h.9M67.8 132.1h.9M67.0 130.4h.9M62.9 131.1h.9M62.4 129.7h.9M68.6 131.5h.9M51.3 132.4h.9M54.0 130.6h.9M62.8 131.2h.9M50.4 127.9h.9M49.6 130.3h.9M64.7 131.2h.9M66.9 131.9h.9M57.1 131.8h.9M61.5 129.3h.9M61.9 124.4h.9M68.6 125.0h.9M73.3 126.1h.9M80.1 134.2h.9M48.6 120.2h.9M72.8 124.4h.9M80.3 131.8h.9M51.3 135.0h.9M70.4 133.5h.9M80.6 134.4h.9M70.2 131.0h.9M61.2 124.6h.9M66.7 129.6h.9M71.6 127.8h.9M49.4 127.8h.9M62.0 127.2h.9M52.7 120.1h.9M82.6 132.5h.9M70.6 127.6h.9M47.8 132.5h.9M71.7 127.1h.9M69.1 124.2h.9M47.3 129.6h.9M65.3 128.6h.9M71.6 124.6h.9M60.0 122.4h.9M59.9 124.4h.9M79.4 133.9h.9M62.3 131.0h.9M67.4 126.2h.9M46.1 135.4h.9M50.6 129.0h.9M74.1 127.9h.9M70.0 129.1h.9M71.3 131.4h.9M60.3 126.3h.9M72.8 124.6h.9M66.0 125.5h.9M72.8 130.4h.9M66.1 130.7h.9M63.6 128.9h.9M65.1 128.9h.9M69.5 137.7h.9M59.0 122.5h.9M50.2 122.7h.9M51.7 129.4h.9M52.6 131.3h.9M76.9 129.0h.9M75.5 129.8h.9M64.9 125.6h.9M61.8 125.8h.9M49.5 134.8h.9M61.9 130.4h.9M69.0 128.0h.9M67.1 129.3h.9M65.4 129.6h.9M59.1 123.0h.9M50.8 129.5h.9M62.3 126.4h.9M62.0 127.8h.9M52.4 128.1h.9M52.8 125.4h.9M69.5 127.6h.9M58.1 124.7h.9M66.8 130.9h.9M55.7 132.4h.9M80.2 129.5h.9M61.6 138.3h.9M59.0 122.1h.9M76.0 130.3h.9M69.0 124.8h.9M71.3 127.8h.9M56.6 129.8h.9M72.3 127.0h.9M66.3 123.5h.9M80.4 126.7h.9M76.0 132.9h.9M68.5 125.5h.9M74.3 121.6h.9M70.6 134.0h.9M73.5 125.9h.9M55.8 128.5h.9M69.0 136.5h.9M75.2 131.8h.9M56.1 125.7h.9M62.7 131.3h.9M66.7 127.8h.9M66.6 126.5h.9M54.7 127.8h.9M77.2 123.4h.9M52.6 132.1h.9M78.2 129.6h.9M76.3 126.2h.9M68.0 134.1h.9M62.2 130.6h.9M47.0 121.6h.9M59.6 132.4h.9M64.2 121.0h.9M72.9 125.4h.9M72.4 122.5h.9M64.4 133.2h.9M80.2 127.6h.9M60.6 128.2h.9M79.0 125.5h.9M77.7 122.9h.9M53.4 128.7h.9M69.2 128.0h.9M74.4 128.1h.9M74.1 123.2h.9M74.0 119.4h.9M65.3 129.8h.9M65.4 133.9h.9M65.4 128.4h.9M77.8 127.3h.9M77.5 129.7h.9M51.1 132.3h.9M67.7 123.9h.9M54.6 129.1h.9M54.0 129.8h.9M53.3 124.9h.9M66.8 127.3h.9M59.6 130.4h.9M57.2 130.4h.9M51.9 128.1h.9M60.7 124.3h.9M73.9 130.5h.9M48.3 121.2h.9M65.3 129.8h.9M61.3 127.5h.9M53.8 122.1h.9M52.7 130.0h.9M80.6 126.7h.9M80.5 127.7h.9M79.7 136.7h.9M53.4 131.2h.9M69.5 126.4h.9M66.4 128.8h.9M54.0 126.3h.9M64.0 129.9h.9M78.4 127.3h.9M80.2 118.1h.9M63.5 122.3h.9M50.6 127.9h.9M71.8 133.6h.9M78.8 131.6h.9M64.9 135.2h.9M61.6 122.6h.9M67.0 122.6h.9M70.3 134.3h.9M67.9 130.4h.9M58.9 125.8h.9M55.8 130.9h.9M58.1 135.3h.9M43.9 129.6h.9M59.6 133.3h.9M80.7 124.1h.9M46.9 125.0h.9M67.6 129.6h.9M74.5 120.0h.9M66.1 128.0h.9M65.0 128.8h.9M51.2 126.8h.9M71.3 126.9h.9M65.3 129.3h.9M63.9 129.9h.9M62.3 132.6h.9M77.2 124.2h.9M75.3 128.3h.9M64.6 129.4h.9M71.4 131.5h.9M56.0 127.9h.9M76.7 130.9h.9M67.3 131.2h.9M79.5 129.3h.9M60.7 129.4h.9M83.4 128.8h.9M53.7 138.4h.9M53.3 132.9h.9M47.7 129.3h.9M52.8 130.1h.9M73.7 126.0h.9M44.1 124.0h.9M65.5 127.4h.9M55.1 130.0h.9M73.5 129.6h.9M51.0 129.5h.9M57.6 122.5h.9M73.2 119.8h.9M72.2 122.3h.9M69.3 126.8h.9M75.3 130.6h.9M46.2 127.4h.9M69.2 124.9h.9M68.4 129.7h.9M76.9 124.6h.9M67.4 132.0h.9M56.4 134.5h.9M53.7 122.2h.9M69.8 130.9h.9M68.4 132.9h.9M60.6 133.3h.9M47.3 130.5h.9M61.0 127.2h.9M51.1 125.1h.9M79.6 129.9h.9M53.6 127.9h.9M76.4 130.7h.9M50.9 129.0h.9M63.6 132.9h.9M49.6 129.3h.9M72.3 127.5h.9M70.0 124.4h.9M57.6 122.2h.9M75.9 126.0h.9M75.9 125.9h.9M54.2 134.3h.9M78.4 125.5h.9M60.9 124.0h.9M83.2 133.4h.9M58.8 127.4h.9M84.0 133.7h.9M49.7 130.1h.9M75.5 134.5h.9M58.6 124.2h.9M69.5 121.5h.9M66.2 127.3h.9M53.6 132.3h.9M56.8 126.2h.9M51.8 131.2h.9M70.1 131.4h.9M56.7 129.8h.9M58.9 134.6h.9M53.7 127.7h.9M58.1 129.7h.9M73.0 128.6h.9M69.7 126.9h.9M68.2 129.8h.9M71.9 133.6h.9M75.1 131.0h.9M58.0 132.3h.9M49.4 123.8h.9M61.9 127.0h.9M52.9 126.7h.9M52.2 130.3h.9M82.2 126.1h.9M73.0 133.9h.9M62.8 121.2h.9M51.6 121.2h.9M66.8 127.5h.9M67.7 125.6h.9M56.6 123.1h.9M78.7 127.8h.9M82.1 127.3h.9M83.0 125.4h.9M75.4 132.9h.9M69.1 131.0h.9M58.8 134.1h.9M63.0 131.5h.9M51.1 131.5h.9M66.7 130.6h.9M51.9 130.2h.9M45.1 128.0h.9M69.8 130.8h.9M55.6 127.5h.9M70.6 120.6h.9M73.8 131.4h.9M78.8 128.4h.9M71.0 128.9h.9M76.3 126.1h.9M70.4 130.2h.9M78.8 130.5h.9M77.8 132.4h.9M54.8 122.1h.9M47.7 126.6h.9M60.0 130.3h.9M57.2 127.2h.9M57.7 132.0h.9M72.7 131.2h.9M49.9 136.0h.9M56.9 127.9h.9M71.3 129.9h.9M48.3 132.3h.9M55.0 129.9h.9M75.4 133.9h.9M75.3 125.9h.9M59.5 123.9h.9M58.7 124.3h.9M57.2 126.3h.9M77.3 126.1h.9M72.1 134.5h.9M46.2 136.2h.9M72.5 127.1h.9M65.6 125.3h.9M70.8 133.1h.9M60.9 128.8h.9M48.7 123.2h.9M49.5 123.8h.9M65.8 124.9h.9M71.1 126.9h.9M81.6 134.0h.9M74.5 127.8h.9M65.7 125.2h.9M49.0 136.9h.9M56.0 123.6h.9M80.9 127.3h.9M78.8 131.7h.9M61.8 132.8h.9M75.9 132.2h.9M79.0 127.2h.9M81.5 124.4h.9M56.4 131.6h.9M73.4 134.5h.9M57.8 132.3h.9M69.2 130.1h.9M61.8 131.9h.9M54.1 131.4h.9M50.7 130.7h.9M74.7 132.8h.9M63.6 123.7h.9M76.3 123.1h.9M48.0 133.5h.9M52.6 126.2h.9M70.3 126.4h.9M75.6 127.3h.9M64.6 132.1h.9M53.0 122.1h.9M74.3 126.6h.9M79.0 127.6h.9M72.2 125.7h.9M73.4 130.4h.9M58.0 132.7h.9M56.9 122.9h.9M76.5 125.6h.9M77.2 134.0h.9M76.4 130.9h.9M61.1 128.8h.9M58.4 126.5h.9M55.2 123.1h.9M77.5 126.1h.9M80.9 127.8h.9M62.7 127.7h.9M74.6 124.0h.9M54.0 129.9h.9M59.6 132.8h.9M67.4 126.9h.9M46.1 125.0h.9M54.8 130.1h.9M58.1 121.2h.9M54.3 126.6h.9M60.7 123.9h.9M57.4 130.3h.9M78.5 122.3h.9M52.6 131.7h.9M67.1 132.0h.9M73.6 122.5h.9M48.2 137.3h.9M70.9 125.8h.9M62.9 123.4h.9M64.9 136.1h.9M73.2 131.6h.9M73.9 121.7h.9M47.0 130.7h.9M75.2 127.3h.9M69.7 130.1h.9M70.9 137.8h.9M52.0 135.8h.9M68.8 125.5h.9M67.6 132.8h.9M77.5 126.9h.9M73.2 128.5h.9M55.6 130.8h.9M75.3 125.5h.9M66.9 130.5h.9M69.6 123.9h.9M73.0 123.9h.9M59.0 130.5h.9M79.6 131.1h.9M76.4 133.5h.9M70.1 124.7h.9M57.7 130.7h.9M62.6 127.8h.9M53.2 127.1h.9M73.4 124.5h.9M77.4 134.7h.9M50.6 132.4h.9M72.3 128.3h.9M65.6 124.7h.9M38.5 130.2h.9M77.7 127.6h.9M57.5 129.9h.9M53.1 130.4h.9M44.3 124.2h.9M75.7 129.2h.9M54.4 124.8h.9M65.6 132.5h.9M52.3 131.6h.9M63.2 127.4h.9M55.1 130.7h.9M75.9 127.5h.9M71.0 128.2h.9M74.2 127.1h.9M62.5 135.0h.9M50.7 127.5h.9M77.6 131.3h.9M78.0 127.7h.9M69.2 129.8h.9M76.7 133.1h.9M67.7 121.9h.9M74.7 132.0h.9M54.7 120.7h.9M60.2 130.8h.9M65.3 125.0h.9M55.4 131.4h.9M58.2 132.1h.9M63.6 129.6h.9M46.9 127.2h.9M56.7 130.5h.9M56.8 124.8h.9M67.0 132.1h.9M72.3 123.2h.9M70.3 132.1h.9M65.6 130.1h.9M69.4 129.1h.9M53.8 125.4h.9M61.5 127.9h.9M75.6 128.8h.9M79.6 133.5h.9M50.0 129.6h.9M45.1 128.1h.9M76.1 129.4h.9M76.5 119.3h.9M70.2 131.4h.9M78.3 129.7h.9M65.3 132.9h.9M77.6 128.8h.9M49.7 124.1h.9M54.2 126.7h.9M66.5 129.0h.9M52.2 132.1h.9M65.5 124.4h.9M49.7 127.9h.9M72.8 128.6h.9M71.1 133.5h.9M55.4 121.3h.9M88.5 130.7h.9M68.9 129.3h.9M71.3 127.4h.9M50.6 127.6h.9M48.4 123.7h.9M76.6 124.7h.9M73.0 132.9h.9M63.5 126.6h.9M77.1 129.0h.9M46.6 122.4h.9M81.9 128.5h.9M70.6 125.3h.9M65.5 125.5h.9M62.4 126.7h.9M72.7 126.0h.9M59.1 124.1h.9M70.7 130.3h.9M78.2 122.9h.9M63.5 121.2h.9M56.6 125.3h.9M50.5 125.7h.9M52.7 131.7h.9M73.8 118.8h.9M52.7 126.0h.9M47.5 124.6h.9M51.5 130.2h.9M62.5 132.9h.9M61.2 127.6h.9M77.7 129.7h.9M69.9 135.4h.9M86.7 124.6h.9M82.6 128.8h.9M66.2 126.0h.9M51.3 126.7h.9M76.8 130.4h.9M59.3 125.1h.9M68.5 128.1h.9M58.1 128.3h.9M71.7 136.4h.9M57.8 129.6h.9M58.4 128.4h.9M55.0 134.3h.9M69.5 132.2h.9M65.4 122.0h.9M69.9 125.5h.9M56.1 134.9h.9M51.6 133.9h.9M78.4 131.2h.9M72.3 127.8h.9M76.0 132.6h.9M71.6 130.3h.9M67.8 132.1h.9M55.0 133.2h.9M61.9 126.1h.9M52.1 126.6h.9M67.4 127.5h.9M58.6 115.6h.9M63.6 125.9h.9M79.9 132.9h.9M72.9 129.4h.9M62.7 123.0h.9M71.2 129.3h.9M76.8 126.2h.9M76.7 128.7h.9M66.7 127.1h.9M69.1 123.5h.9M65.9 130.1h.9M51.0 129.8h.9M53.0 130.4h.9M74.0 130.0h.9M53.6 124.9h.9M68.0 129.3h.9M58.3 133.3h.9M59.3 127.0h.9M50.2 123.6h.9M44.2 125.2h.9M69.8 126.9h.9M59.2 128.8h.9M64.3 129.8h.9M82.0 124.6h.9M64.8 128.0h.9M75.8 129.0h.9M75.1 131.4h.9M77.8 128.7h.9M46.2 122.6h.9M56.6 130.1h.9M81.3 133.7h.9M65.5 127.6h.9M75.6 131.0h.9M48.6 130.2h.9M53.7 126.3h.9M71.3 127.1h.9M61.4 127.8h.9M61.2 127.7h.9M71.9 124.1h.9M55.0 130.8h.9M78.6 126.8h.9M65.5 123.0h.9M63.6 123.1h.9M54.3 130.2h.9M68.1 134.3h.9M66.5 123.5h.9M74.7 133.7h.9M45.9 129.0h.9M54.5 128.6h.9M51.0 131.4h.9M67.2 129.3h.9M72.0 134.3h.9M62.7 134.7h.9M65.4 124.3h.9M71.2 128.3h.9M52.4 134.3h.9M54.1 132.7h.9M75.3 124.8h.9M58.4 126.9h.9M73.2 128.1h.9M61.3 124.9h.9M59.1 134.7h.9M55.7 128.5h.9M55.8 125.9h.9M54.1 133.5h.9M64.6 127.7h.9M54.0 133.0h.9M62.9 123.1h.9M68.4 124.5h.9M51.1 134.0h.9M51.2 130.7h.9M73.1 127.8h.9M51.3 126.3h.9M71.4 121.7h.9M60.9 128.5h.9M72.1 133.8h.9M56.2 125.4h.9M52.6 128.3h.9M67.2 135.8h.9M75.0 126.8h.9M54.5 122.0h.9M45.4 131.9h.9M49.5 131.7h.9M73.5 132.3h.9M59.9 124.3h.9M50.3 125.7h.9M70.9 133.4h.9M73.8 127.2h.9M64.7 130.9h.9M45.3 127.3h.9M56.8 131.3h.9M58.7 127.6h.9M58.8 126.1h.9M74.7 131.3h.9M58.7 130.0h.9M53.0 123.8h.9M78.2 123.4h.9M77.4 132.6h.9M74.5 132.2h.9M49.9 131.4h.9M52.5 127.9h.9M67.9 122.7h.9M72.4 132.0h.9M75.7 133.2h.9M78.3 129.1h.9M79.0 126.1h.9M62.6 128.7h.9M68.4 126.3h.9M48.7 128.0h.9M65.7 126.9h.9M53.1 131.1h.9M48.4 128.9h.9M46.5 131.6h.9M59.1 125.8h.9M58.8 124.7h.9M74.0 132.5h.9M50.1 122.3h.9M48.7 127.4h.9M67.4 129.5h.9M65.8 131.3h.9M67.4 133.5h.9M69.1 119.8h.9M67.5 134.5h.9M69.5 125.3h.9M67.4 122.0h.9M49.8 133.4h.9M52.2 134.9h.9M77.1 126.6h.9M54.6 133.5h.9M63.5 131.0h.9M58.8 122.1h.9M61.8 130.9h.9M73.1 132.9h.9M74.6 126.5h.9M64.6 125.7h.9M62.5 128.9h.9M78.0 122.3h.9M71.8 127.9h.9M62.3 124.3h.9M72.1 119.4h.9M72.7 123.6h.9M79.9 130.3h.9M71.7 120.3h.9M77.0 126.2h.9M63.0 122.5h.9M67.2 126.8h.9M77.6 121.0h.9M54.9 129.8h.9M62.0 124.1h.9M69.0 122.5h.9M54.2 121.1h.9M70.4 130.9h.9M69.7 134.4h.9M74.2 130.4h.9M63.8 132.5h.9M63.8 129.2h.9M75.8 122.3h.9M55.0 131.9h.9M74.2 129.6h.9M64.8 138.8h.9M57.4 130.8h.9M55.0 131.9h.9M56.7 132.7h.9M57.2 130.6h.9M52.9 126.3h.9M76.8 131.4h.9M76.7 132.9h.9M47.6 126.4h.9M50.1 130.8h.9M47.1 125.5h.9M77.3 127.8h.9M50.5 128.3h.9M70.6 130.3h.9M54.1 125.2h.9M51.5 136.7h.9M57.1 124.0h.9M74.1 121.6h.9M52.8 124.6h.9M72.9 127.6h.9M70.0 134.7h.9M57.9 136.5h.9M54.1 135.9h.9M70.7 123.5h.9M71.1 134.0h.9M64.3 124.1h.9M54.6 129.6h.9M64.8 130.5h.9M76.9 128.8h.9M64.4 124.7h.9M79.2 128.0h.9M71.4 131.3h.9M62.3 127.3h.9M62.5 122.9h.9M70.7 124.3h.9M58.6 131.9h.9M74.4 129.5h.9M53.1 135.8h.9M58.6 126.0h.9M77.4 126.6h.9M66.9 129.4h.9M75.3 127.6h.9M77.1 129.4h.9M72.7 130.5h.9M49.0 127.3h.9M70.5 127.7h.9M64.4 126.0h.9M60.8 124.7h.9M76.8 122.1h.9M65.0 128.9h.9M49.9 123.4h.9M49.2 131.4h.9M52.1 128.8h.9M64.7 123.6h.9M75.8 132.1h.9M51.1 128.8h.9M53.9 135.9h.9M65.2 126.5h.9M59.2 126.0h.9M58.3 129.1h.9M79.4 127.0h.9M73.3 126.3h.9M82.1 136.3h.9M78.2 130.0h.9M47.0 124.7h.9M54.9 126.5h.9M59.2 131.6h.9M77.5 122.1h.9M44.2 126.4h.9M65.0 133.3h.9M60.5 125.2h.9M58.1 129.2h.9M59.6 129.4h.9M57.6 124.3h.9M53.4 127.7h.9M49.0 121.8h.9M60.5 123.5h.9M61.5 125.9h.9M78.5 126.3h.9M66.0 127.7h.9M80.3 128.9h.9M56.7 131.9h.9M79.4 133.1h.9M61.7 128.1h.9M68.4 122.1h.9M67.6 126.2h.9M58.7 129.7h.9M66.4 128.1h.9M67.4 132.7h.9M53.3 125.6h.9M63.2 127.4h.9M43.9 126.4h.9M56.3 129.4h.9M69.1 133.5h.9M77.4 138.5h.9M79.1 127.2h.9M57.0 133.8h.9M50.1 127.2h.9M65.8 132.0h.9M61.3 126.6h.9M51.5 132.9h.9M72.3 126.0h.9M68.7 130.7h.9M63.0 130.4h.9M69.4 130.3h.9M64.9 128.8h.9M71.7 125.7h.9M81.9 124.5h.9M79.2 137.2h.9M74.2 129.9h.9M73.2 123.8h.9M54.1 135.7h.9M61.4 135.9h.9M70.3 126.5h.9M56.8 128.3h.9M69.2 128.9h.9M50.2 127.3h.9M56.4 128.3h.9M57.7 129.4h.9M48.8 132.8h.9M60.5 131.9h.9M54.9 125.4h.9M68.4 132.2h.9M57.1 130.1h.9M55.2 129.9h.9M78.8 133.2h.9M71.4 124.0h.9M55.1 122.8h.9M57.5 128.5h.9M65.9 124.5h.9M57.4 124.1h.9M54.9 129.6h.9M70.2 135.9h.9M60.5 127.7h.9M54.2 133.4h.9M67.5 125.7h.9M74.7 127.5h.9M48.6 124.4h.9M64.5 126.0h.9M67.4 132.6h.9M71.9 130.1h.9M49.0 127.2h.9M55.5 132.9h.9M53.4 127.2h.9M68.5 126.3h.9M74.0 132.2h.9M52.8 128.5h.9M79.3 124.7h.9M71.3 131.3h.9M54.6 128.3h.9M78.1 130.7h.9M57.6 132.9h.9M75.5 136.4h.9M49.9 124.7h.9M64.3 132.7h.9M59.5 124.8h.9M79.9 131.2h.9M81.3 119.6h.9M66.1 131.9h.9M44.1 130.5h.9M66.4 128.7h.9M58.7 123.8h.9M69.7 127.3h.9M69.1 132.7h.9M63.0 124.9h.9M60.9 127.9h.9M77.2 125.7h.9M52.8 133.6h.9M74.9 134.1h.9M62.6 124.7h.9M57.8 117.8h.9M71.5 127.9h.9M63.0 132.0h.9M48.5 126.0h.9M59.0 131.4h.9M50.8 129.1h.9M43.5 123.6h.9M55.0 127.9h.9M73.9 120.3h.9M55.1 133.9h.9M62.3 127.1h.9M71.6 125.5h.9M74.8 136.3h.9M72.5 128.6h.9M72.1 127.4h.9M66.5 131.5h.9M67.6 130.4h.9M69.6 134.8h.9M60.9 125.0h.9M62.3 128.9h.9M59.8 125.9h.9M51.0 132.4h.9M64.4 124.2h.9M70.6 129.7h.9M69.0 127.7h.9M53.8 131.7h.9M70.8 132.7h.9M48.5 131.0h.9M76.3 123.5h.9M67.0 130.0h.9M66.1 128.5h.9M64.9 123.1h.9M73.6 135.1h.9M48.1 129.5h.9M42.8 133.7h.9M65.0 128.3h.9M61.4 121.7h.9M63.6 123.7h.9M66.9 122.3h.9M47.0 133.4h.9M76.4 131.2h.9M69.5 131.7h.9M46.0 126.4h.9M67.4 127.1h.9M68.4 127.3h.9M66.9 133.0h.9M78.2 127.4h.9M75.1 127.7h.9M52.9 124.2h.9M76.2 131.5h.9M63.8 132.4h.9M50.4 128.3h.9M59.9 132.2h.9M58.9 129.6h.9M75.4 130.2h.9M66.6 125.0h.9M55.0 126.1h.9M68.9 122.9h.9M67.0 122.8h.9M74.6 133.5h.9M48.9 128.2h.9M83.8 131.9h.9M69.2 125.2h.9M45.3 130.8h.9M56.7 126.7h.9M50.4 130.9h.9M64.1 123.7h.9M64.0 124.2h.9M78.0 120.6h.9M59.9 126.1h.9M74.1 125.9h.9M67.5 129.5h.9M59.8 133.1h.9M60.5 129.9h.9M78.3 121.4h.9M49.5 137.1h.9M57.6 133.5h.9M52.9 133.0h.9M63.8 128.6h.9M60.8 126.2h.9M53.1 125.7h.9M63.0 128.2h.9M70.2 122.8h.9M70.3 123.1h.9M63.1 132.1h.9M60.1 123.6h.9M48.2 133.5h.9M65.6 126.1h.9M63.1 130.1h.9M58.3 127.3h.9M80.3 121.7h.9M48.4 123.1h.9M75.3 129.3h.9M68.8 119.9h.9M74.2 121.2h.9M80.3 124.4h.9M52.8 125.5h.9M74.8 126.3h.9M58.3 131.2h.9M70.1 126.6h.9M88.7 123.7h.9M59.5 130.5h.9M66.6 128.0h.9M48.9 125.4h.9M70.5 126.7h.9M54.1 129.6h.9M51.4 127.4h.9M64.6 131.5h.9M75.7 133.2h.9M68.3 126.5h.9M66.5 128.8h.9M49.2 126.9h.9M55.7 136.9h.9M79.4 130.4h.9M54.4 132.7h.9M76.7 132.9h.9M63.3 132.8h.9M59.0 127.8h.9M64.8 130.0h.9M62.6 129.3h.9M65.2 133.5h.9M59.2 133.7h.9M70.1 123.3h.9M57.3 122.9h.9M53.2 134.0h.9M58.9 129.6h.9M56.5 134.1h.9M60.5 124.5h.9M66.4 139.2h.9M74.0 121.8h.9M55.4 127.0h.9M52.7 130.3h.9M80.5 134.8h.9M57.8 126.8h.9M70.6 128.5h.9M71.6 126.8h.9M56.8 126.1h.9M61.9 125.6h.9M68.3 127.3h.9M63.1 128.5h.9M74.4 126.0h.9M75.0 129.3h.9M69.0 129.0h.9M64.4 133.0h.9M83.1 126.2h.9M60.5 120.3h.9M52.4 128.6h.9M54.0 123.2h.9M64.1 132.4h.9M82.3 123.1h.9M69.7 129.7h.9M50.6 126.1h.9M82.5 130.3h.9M62.9 127.3h.9M52.7 128.3h.9M66.4 125.9h.9M59.7 128.7h.9M49.3 128.5h.9M68.8 123.9h.9M67.8 120.6h.9M78.5 128.7h.9M47.1 131.9h.9M77.3 128.4h.9M68.3 132.4h.9M56.0 128.2h.9M62.9 128.3h.9M64.5 122.8h.9M60.8 119.6h.9M57.9 126.2h.9M79.7 125.7h.9M47.9 126.9h.9M68.1 123.7h.9M62.6 124.1h.9M77.0 132.3h.9M63.7 125.1h.9M61.4 127.7h.9M84.6 128.4h.9M61.0 129.8h.9M69.9 126.5h.9M52.7 126.7h.9M70.9 122.8h.9M74.3 123.7h.9M81.4 123.0h.9M59.6 135.1h.9M54.7 138.5h.9M66.9 128.9h.9M74.7 136.0h.9M59.0 120.8h.9M50.0 131.6h.9M48.4 136.5h.9M74.5 128.0h.9M51.8 131.2h.9M50.3 129.9h.9M52.5 128.0h.9M75.0 135.6h.9M58.7 131.1h.9M71.8 125.2h.9M68.9 126.4h.9M57.7 131.9h.9M71.5 127.6h.9M65.8 135.6h.9M61.6 127.2h.9M61.3 134.3h.9M49.9 129.4h.9M63.9 128.7h.9M56.2 130.2h.9M56.3 127.7h.9M78.6 128.0h.9M61.7 126.0h.9M46.1 131.4h.9M63.4 126.3h.9M68.8 122.9h.9M49.7 127.7h.9M60.4 128.0h.9M68.7 134.4h.9M62.1 125.3h.9M75.6 134.6h.9M77.6 128.4h.9M61.1 130.9h.9M80.2 133.6h.9M53.3 132.3h.9M49.9 135.2h.9M79.0 130.9h.9M63.2 124.4h.9M52.0 122.2h.9M66.3 121.5h.9M67.7 129.1h.9M63.9 136.9h.9M51.2 131.0h.9M51.6 127.4h.9M58.8 125.0h.9M42.7 128.7h.9M58.4 129.2h.9M72.5 125.9h.9M63.1 129.6h.9M46.5 133.5h.9M74.2 125.3h.9M60.4 129.8h.9M73.1 126.6h.9M73.2 127.5h.9M68.4 130.1h.9M62.8 128.0h.9M65.9 126.3h.9M52.2 127.0h.9M53.1 132.8h.9M77.2 132.4h.9M53.2 123.5h.9M59.1 123.7h.9M73.1 128.6h.9M59.1 128.6h.9M64.7 129.7h.9M76.7 131.4h.9M50.6 128.0h.9M55.3 130.5h.9M81.8 129.8h.9M54.5 123.7h.9M58.5 133.5h.9M75.2 127.8h.9M59.4 126.7h.9M81.2 124.6h.9M71.6 127.8h.9M74.5 127.6h.9M58.2 125.8h.9M58.4 128.2h.9M75.5 131.4h.9M77.7 132.8h.9M53.6 127.4h.9M52.9 127.1h.9M58.7 121.5h.9M47.8 123.3h.9M61.1 118.2h.9M57.4 132.3h.9M66.8 127.5h.9M46.7 127.6h.9M49.5 130.0h.9M53.3 129.2h.9M53.7 125.3h.9M52.2 128.0h.9M77.4 131.6h.9M57.1 127.8h.9M57.0 122.6h.9M67.6 133.1h.9M80.2 129.1h.9M69.0 124.0h.9M67.1 124.5h.9M58.7 127.1h.9M59.6 129.3h.9M55.3 120.5h.9M74.5 134.3h.9M79.4 124.4h.9M63.1 128.4h.9M75.3 133.2h.9M67.5 120.0h.9M79.0 133.8h.9M62.0 133.7h.9M57.3 125.1h.9M57.4 127.1h.9M75.0 127.6h.9M73.3 124.1h.9M77.8 125.3h.9M75.0 128.9h.9M70.9 134.3h.9M59.0 133.0h.9M74.5 131.6h.9M54.0 124.4h.9M61.6 128.1h.9M49.1 128.0h.9M83.7 121.9h.9M74.1 127.6h.9M53.7 135.7h.9M67.6 127.1h.9M77.5 122.4h.9M44.8 124.1h.9M61.6 130.8h.9M60.1 130.8h.9M76.2 131.3h.9M74.5 123.0h.9M66.8 129.3h.9M56.0 123.5h.9M66.5 126.8h.9M71.8 126.3h.9M43.3 130.5h.9M46.1 125.6h.9M58.1 120.9h.9M54.6 121.2h.9M56.5 128.3h.9M73.5 123.0h.9M73.8 131.9h.9M59.6 131.1h.9M68.2 122.9h.9M75.5 126.4h.9M71.3 126.0h.9M67.6 130.4h.9M43.8 128.2h.9M79.2 131.4h.9M56.1 123.8h.9M62.9 129.1h.9M63.6 131.6h.9M72.5 129.7h.9M68.1 129.0h.9M55.1 123.1h.9M76.2 132.8h.9M66.5 127.0h.9M72.2 134.8h.9M61.2 126.2h.9M49.5 124.3h.9M46.2 129.1h.9M70.9 122.9h.9M61.2 132.1h.9M61.9 127.9h.9M63.3 133.8h.9M54.4 131.7h.9M63.6 124.0h.9M55.7 129.1h.9M77.1 126.9h.9M55.3 123.7h.9M76.5 137.2h.9M79.8 128.3h.9M65.6 137.3h.9M77.0 129.3h.9M64.8 127.5h.9M57.2 132.0h.9M72.6 129.9h.9M75.4 128.6h.9M57.0 121.7h.9M76.6 121.8h.9M47.4 131.2h.9M52.9 131.0h.9M61.0 127.0h.9M61.1 134.8h.9M64.5 126.7h.9M58.5 126.9h.9M63.8 123.8h.9M75.4 133.3h.9M74.4 131.2h.9M52.3 130.5h.9M51.4 127.4h.9M70.4 126.6h.9M52.6 125.5h.9M61.6 126.7h.9M67.3 124.0h.9M46.5 135.7h.9M71.9 130.3h.9M66.2 128.0h.9M54.3 118.4h.9M57.1 130.7h.9M65.7 129.7h.9M53.9 132.1h.9M74.1 128.3h.9M69.2 131.8h.9M64.0 127.4h.9M70.9 129.3h.9M69.6 134.1h.9M59.2 119.2h.9M61.3 133.9h.9M68.7 124.6h.9M69.5 123.7h.9M63.1 129.3h.9M62.2 128.1h.9M73.0 132.3h.9M64.2 131.1h.9M78.4 127.2h.9M54.9 127.5h.9M64.6 125.9h.9M53.4 126.7h.9M73.9 124.8h.9M64.0 123.6h.9M54.5 127.6h.9M51.9 130.9h.9M59.6 130.3h.9M50.7 123.0h.9M66.5 127.6h.9M72.6 125.6h.9M65.7 122.2h.9M60.5 124.2h.9M55.3 122.5h.9M50.9 133.0h.9M70.6 129.2h.9M46.5 120.9h.9M73.8 130.2h.9M54.9 122.8h.9M67.7 124.6h.9M71.9 123.1h.9M54.7 130.2h.9M71.1 129.4h.9M77.3 123.9h.9M69.4 134.1h.9M70.3 126.6h.9M59.7 122.7h.9M56.5 129.9h.9M68.4 121.8h.9M75.2 123.1h.9M52.0 131.8h.9M54.8 132.5h.9M61.9 127.6h.9M64.4 127.1h.9M64.2 125.8h.9M75.1 122.0h.9M77.7 131.2h.9M78.4 119.6h.9M64.1 126.5h.9M68.4 134.7h.9M77.7 122.3h.9M48.5 131.7h.9M63.9 134.2h.9M55.6 129.2h.9M68.7 129.1h.9M55.0 130.0h.9M71.9 134.6h.9M51.7 120.9h.9M70.0 123.5h.9M65.3 124.1h.9M68.5 137.0h.9M74.0 127.8h.9M61.0 127.0h.9M73.3 131.2h.9M51.7 126.1h.9M55.8 124.2h.9M76.1 135.7h.9M81.2 128.5h.9M76.7 127.7h.9M65.7 126.3h.9M66.2 131.6h.9M73.8 125.4h.9M69.6 125.6h.9M60.2 126.7h.9M74.6 129.4h.9M54.0 127.2h.9M79.6 129.9h.9M75.0 129.8h.9M68.9 134.0h.9M75.3 122.8h.9M82.5 122.5h.9M79.7 133.5h.9M66.7 126.8h.9M62.5 124.5h.9M66.3 134.8h.9M78.3 120.1h.9M69.9 121.7h.9M51.5 134.4h.9M53.7 134.0h.9M55.9 127.7h.9M73.1 125.9h.9M79.2 132.5h.9M64.1 124.5h.9M70.5 125.5h.9M61.0 125.9h.9M49.2 127.7h.9M43.7 123.3h.9M67.6 130.6h.9M59.3 128.5h.9M80.1 132.1h.9M56.7 127.4h.9M77.3 133.4h.9M48.6 122.8h.9M62.8 125.3h.9M73.4 123.4h.9M47.1 134.1h.9M77.8 121.2h.9M78.6 130.8h.9M82.6 133.6h.9M48.5 130.9h.9M69.6 128.3h.9M68.0 121.2h.9M76.4 132.7h.9M53.6 125.6h.9M54.1 127.0h.9M73.5 131.3h.9M59.7 121.4h.9M43.5 132.6h.9M54.7 135.0h.9M68.1 124.7h.9M69.1 123.0h.9M72.4 133.2h.9M77.1 122.9h.9M52.8 125.0h.9M76.2 132.3h.9M76.7 136.1h.9M77.6 128.7h.9M73.5 127.3h.9M54.3 132.2h.9M55.0 127.7h.9M76.6 124.9h.9M58.5 123.9h.9M62.8 125.2h.9M64.9 129.7h.9M75.1 128.7h.9M71.9 126.9h.9M74.7 126.5h.9M61.1 125.7h.9M68.5 124.0h.9M61.4 126.7h.9M50.1 122.7h.9M78.2 126.7h.9M72.8 126.5h.9M69.9 126.4h.9M53.8 132.0h.9M49.0 119.2h.9M84.4 126.2h.9M80.7 136.7h.9M51.8 127.8h.9M71.6 135.0h.9M43.2 126.4h.9M60.7 130.0h.9M66.2 124.6h.9M56.3 135.6h.9M78.7 136.3h.9M75.5 133.9h.9M49.6 122.3h.9M68.1 133.0h.9M58.7 128.0h.9M58.3 129.5h.9M54.7 130.6h.9M58.9 127.2h.9M79.0 132.0h.9M67.0 128.5h.9M46.2 126.8h.9M53.3 129.2h.9M80.2 126.2h.9M64.0 125.7h.9M65.0 129.3h.9M55.7 125.1h.9M72.7 128.9h.9M66.2 130.0h.9M71.3 124.1h.9M59.0 123.2h.9M71.0 128.5h.9M51.8 127.9h.9M54.3 127.4h.9M60.6 130.4h.9M73.2 123.9h.9M55.9 134.7h.9M53.4 125.9h.9M48.7 128.6h.9M68.5 125.1h.9M66.9 135.3h.9M48.2 124.0h.9M62.7 127.0h.9M65.4 127.3h.9M46.0 123.9h.9M68.7 125.0h.9M55.2 128.6h.9M53.0 130.5h.9M78.5 129.5h.9M47.9 131.6h.9M55.1 133.3h.9M71.8 129.2h.9M61.4 126.5h.9M47.5 130.7h.9M79.4 129.8h.9M52.6 125.9h.9M63.1 118.8h.9M77.3 129.4h.9M76.1 126.6h.9M80.2 126.1h.9M55.5 127.3h.9M74.1 132.7h.9M72.1 128.2h.9M55.2 131.4h.9M84.1 124.0h.9M52.6 126.8h.9M66.8 129.3h.9M55.0 133.2h.9M53.0 126.5h.9M47.6 127.3h.9M74.4 132.2h.9M51.6 130.8h.9M79.3 129.6h.9M46.4 123.0h.9M57.8 121.5h.9M56.0 123.0h.9M80.2 130.1h.9M46.7 128.1h.9M79.3 126.5h.9M52.8 133.8h.9M80.9 129.0h.9M77.6 128.7h.9M48.7 127.8h.9M64.9 130.5h.9M53.6 133.0h.9M61.4 126.5h.9M45.3 123.4h.9M68.6 125.8h.9M61.8 124.4h.9M56.6 126.5h.9M49.5 126.8h.9M75.8 130.9h.9M48.0 130.1h.9M56.3 125.7h.9M48.0 125.6h.9M60.0 133.0h.9M60.1 129.7h.9M65.0 122.3h.9M53.2 127.4h.9M45.8 130.0h.9M75.3 125.4h.9M61.4 123.1h.9M53.1 127.8h.9M61.0 132.1h.9M57.3 129.6h.9M74.5 128.9h.9M52.2 126.4h.9M62.3 133.6h.9M60.9 126.2h.9M57.1 128.0h.9M76.3 130.5h.9M57.3 132.8h.9M65.3 129.4h.9M64.8 123.9h.9M78.0 119.8h.9M53.0 126.9h.9M78.1 131.7h.9M74.7 132.9h.9M57.3 125.6h.9M43.5 130.3h.9M69.6 131.0h.9M60.1 125.2h.9M53.1 120.1h.9M50.3 124.5h.9M61.7 130.1h.9M83.5 123.1h.9M78.3 130.8h.9M66.5 123.1h.9M63.1 132.1h.9M80.5 131.2h.9M73.9 127.4h.9M79.5 133.9h.9M64.7 122.7h.9M69.2 128.5h.9M74.8 129.8h.9M53.3 130.0h.9M54.0 123.2h.9M51.5 124.0h.9M78.3 129.7h.9M82.1 133.1h.9M61.5 122.7h.9M49.1 128.6h.9M53.6 130.0h.9M61.1 127.7h.9M61.3 128.1h.9M60.5 134.9h.9M49.0 129.2h.9M69.4 127.1h.9M71.3 130.3h.9M47.0 130.1h.9M57.1 127.4h.9M51.9 123.7h.9M57.6 125.4h.9M71.9 132.1h.9M60.3 121.7h.9M79.7 126.8h.9M60.5 128.3h.9M57.7 126.5h.9M74.8 129.1h.9M77.5 123.8h.9M71.9 132.9h.9M57.0 133.3h.9M50.2 133.6h.9M63.1 127.2h.9M88.1 129.6h.9M67.9 124.3h.9M73.6 126.6h.9M56.7 129.9h.9M82.0 128.6h.9M53.3 119.3h.9M67.1 131.4h.9M66.4 129.0h.9M70.6 120.8h.9M75.2 123.7h.9M54.4 134.1h.9M53.1 133.8h.9M81.7 126.0h.9M63.2 126.2h.9M53.3 136.3h.9M47.8 127.8h.9M74.2 127.4h.9M73.9 128.5h.9M66.5 135.4h.9M59.2 130.8h.9M75.4 122.8h.9M78.0 127.9h.9M59.3 133.4h.9M73.5 125.3h.9M76.3 123.3h.9M72.7 123.0h.9M57.6 128.1h.9M57.0 137.1h.9M70.0 130.9h.9M74.4 130.0h.9M73.4 126.8h.9M53.8 125.2h.9M50.7 129.0h.9M72.9 130.0h.9M73.0 124.1h.9M45.3 125.0h.9M67.9 130.8h.9M52.7 129.4h.9M81.6 127.4h.9M55.3 135.9h.9M49.4 124.8h.9M72.2 129.1h.9M57.0 130.3h.9M59.2 129.6h.9M48.6 131.1h.9M57.9 123.3h.9M49.5 123.9h.9M56.2 126.8h.9M65.3 130.7h.9M49.1 131.4h.9M69.0 130.5h.9M81.7 131.3h.9M67.2 125.7h.9M50.2 130.6h.9M80.4 128.0h.9M52.0 121.0h.9M53.9 129.8h.9M67.4 127.7h.9M71.3 132.3h.9M60.4 126.6h.9M63.2 127.9h.9M69.2 123.9h.9M62.1 130.7h.9M57.5 123.1h.9M60.7 130.1h.9M61.0 126.8h.9M53.5 130.0h.9M64.8 132.9h.9M66.0 128.9h.9M59.6 125.3h.9M62.1 132.1h.9M74.4 121.9h.9M60.6 135.1h.9M65.1 133.2h.9M80.6 125.2h.9M52.9 130.2h.9M71.4 120.8h.9M57.1 123.2h.9M59.5 138.0h.9M75.1 123.8h.9M66.1 132.9h.9M79.8 131.2h.9M78.5 134.1h.9M53.1 128.4h.9M60.2 133.5h.9M65.0 133.2h.9M49.9 132.6h.9M62.8 135.1h.9M81.5 129.1h.9M60.7 125.6h.9M56.7 129.5h.9M57.7 132.3h.9M62.4 132.9h.9M62.3 134.5h.9M61.6 129.9h.9M75.6 124.0h.9M67.2 129.1h.9M66.5 130.6h.9M49.1 128.0h.9M46.7 131.3h.9M78.6 127.7h.9M56.5 124.5h.9M81.2 125.5h.9M57.1 131.1h.9M73.3 123.7h.9M73.2 129.9h.9M45.9 123.6h.9M53.3 131.7h.9M60.4 120.2h.9M56.1 127.9h.9M58.7 135.9h.9M53.5 127.6h.9M59.9 132.5h.9M60.3 127.2h.9M58.6 135.7h.9M59.6 122.7h.9M62.8 123.9h.9M71.1 130.0h.9M45.2 126.6h.9M82.1 129.2h.9M57.3 125.7h.9M79.8 132.3h.9M49.1 122.0h.9M51.6 131.1h.9M48.6 124.8h.9M87.8 131.8h.9M60.1 120.5h.9M75.7 121.2h.9M67.6 126.0h.9M55.1 127.7h.9M57.6 126.1h.9M61.6 139.1h.9M59.0 132.5h.9M73.2 123.8h.9M48.8 125.2h.9M81.0 123.6h.9M62.0 128.3h.9M56.4 128.6h.9M71.9 124.7h.9M52.3 133.7h.9M67.5 125.2h.9M63.6 130.4h.9M56.7 124.5h.9M56.1 124.4h.9M52.6 125.5h.9M72.6 131.3h.9M67.2 128.4h.9M63.4 134.2h.9M70.9 131.6h.9M76.8 129.7h.9M55.3 135.7h.9M82.8 124.9h.9M47.6 128.0h.9M65.0 131.4h.9M52.8 131.0h.9M53.6 122.7h.9M66.0 128.3h.9M69.3 124.9h.9M62.8 127.4h.9M75.7 132.8h.9M77.7 129.8h.9M51.6 122.4h.9M53.9 122.9h.9M74.0 121.7h.9M53.9 124.8h.9M58.8 129.0h.9M65.5 115.8h.9M70.6 122.5h.9M85.3 130.6h.9M82.4 123.2h.9M77.0 129.8h.9M55.8 122.6h.9M78.2 125.4h.9M69.6 123.7h.9M53.3 121.9h.9M79.5 133.3h.9M53.9 132.9h.9M72.1 121.0h.9M75.9 132.5h.9M80.9 129.7h.9M70.1 131.1h.9M73.3 133.1h.9M53.1 134.2h.9M52.3 131.7h.9M53.2 134.3h.9M64.8 128.1h.9M63.7 134.4h.9M47.4 123.4h.9M56.8 129.1h.9M62.9 128.7h.9M57.6 129.7h.9M72.7 126.2h.9M60.8 129.6h.9M57.0 127.8h.9M55.3 119.4h.9M77.0 127.0h.9M92.4 137.1h.9M81.6 130.8h.9M71.3 134.5h.9M74.4 124.3h.9M60.8 119.8h.9M58.9 124.2h.9M50.6 135.4h.9M82.9 122.5h.9M60.9 123.6h.9M56.2 134.1h.9M57.2 126.6h.9M67.4 126.9h.9M58.3 130.1h.9M65.3 128.5h.9M67.1 126.3h.9M81.6 129.4h.9M49.8 124.1h.9M68.7 127.8h.9M56.5 131.6h.9M59.8 122.2h.9M85.1 126.8h.9M72.8 121.7h.9M60.3 132.1h.9M71.2 131.4h.9M64.8 133.2h.9M78.8 133.7h.9M59.1 133.6h.9M71.1 131.9h.9M62.5 123.7h.9M65.2 133.1h.9M63.2 123.0h.9M66.4 129.6h.9M77.2 131.3h.9M57.6 121.2h.9M60.3 133.9h.9M69.7 134.5h.9M55.8 119.4h.9M75.8 124.9h.9M73.8 125.4h.9M36.8 124.4h.9M57.0 135.6h.9M51.8 139.9h.9M75.3 122.1h.9M76.7 133.8h.9M50.3 126.6h.9M56.6 135.5h.9M64.1 114.5h.9M60.6 125.6h.9M74.0 134.7h.9M77.2 123.8h.9M72.4 134.5h.9M78.6 125.2h.9M76.7 134.3h.9M64.2 131.2h.9M59.8 125.7h.9M56.0 123.8h.9M75.2 127.1h.9M76.1 134.4h.9M77.7 127.9h.9M61.1 124.3h.9M68.4 119.3h.9M80.6 126.7h.9M69.5 131.0h.9M67.9 122.2h.9M55.0 127.9h.9M70.6 125.7h.9M71.8 119.8h.9M53.4 130.5h.9M86.8 121.7h.9M53.8 123.8h.9M76.6 134.8h.9M62.6 121.8h.9M67.1 131.3h.9M55.5 134.5h.9M58.2 133.4h.9M73.8 130.6h.9M62.8 126.7h.9M61.0 120.3h.9M76.1 128.8h.9M73.9 130.4h.9M67.2 125.2h.9M68.0 122.5h.9M86.4 132.7h.9M63.1 122.2h.9M70.0 130.4h.9M70.4 125.3h.9M47.9 118.7h.9M41.4 136.8h.9M66.7 131.3h.9M75.9 130.9h.9M67.7 120.2h.9M58.6 127.2h.9M57.1 129.5h.9M75.2 123.8h.9M61.5 137.0h.9M45.4 116.8h.9M73.6 131.8h.9M68.1 117.5h.9M69.9 119.3h.9M78.0 120.8h.9M81.5 131.0h.9M72.1 123.9h.9M63.0 124.2h.9M39.1 122.9h.9M68.8 119.7h.9M63.3 122.9h.9M81.4 122.4h.9M80.9 126.0h.9M71.0 125.7h.9M82.0 114.6h.9M64.3 124.2h.9M64.6 134.4h.9M54.8 125.1h.9M61.3 127.3h.9M67.8 123.7h.9M78.2 123.9h.9M56.1 127.3h.9M75.0 120.2h.9M94.0 126.7h.9M48.6 118.5h.9M62.0 129.5h.9M65.4 118.9h.9M77.5 131.2h.9M89.6 133.2h.9M80.3 118.6h.9M64.7 131.3h.9M54.7 125.3h.9M64.5 133.9h.9M64.7 124.6h.9M68.2 126.0h.9M54.2 125.9h.9M83.9 134.4h.9M56.3 116.8h.9M73.5 131.7h.9M67.8 128.0h.9M51.7 124.8h.9M66.0 126.2h.9M65.4 132.6h.9M62.8 132.0h.9M75.1 136.8h.9M59.3 123.9h.9M96.5 117.0h.9M79.1 124.4h.9M53.9 126.4h.9M34.5 125.0h.9M80.6 134.2h.9M68.2 140.0h.9M66.1 129.5h.9M53.1 117.6h.9M47.4 133.2h.9M42.2 123.9h.9M96.8 127.7h.9M84.9 132.1h.9M58.3 129.5h.9M88.3 127.1h.9M42.3 129.0h.9M73.7 131.6h.9M73.8 130.9h.9M54.5 138.8h.9M59.5 110.9h.9M52.2 123.1h.9M65.6 124.2h.9M81.3 132.0h.9M77.4 128.6h.9M70.2 132.1h.9M78.9 119.6h.9M43.0 126.2h.9M90.1 131.0h.9M64.5 127.1h.9M48.8 125.2h.9M60.3 128.9h.9M57.0 136.5h.9M66.2 115.8h.9M68.9 136.1h.9M36.2 128.9h.9M80.7 122.7h.9M86.5 131.0h.9M52.2 127.6h.9M83.4 134.1h.9M80.7 123.0h.9M77.6 132.7h.9M85.3 122.4h.9M47.8 129.2h.9M74.1 131.2h.9M52.5 127.0h.9M94.5 130.9h.9M53.0 124.1h.9M49.8 133.2h.9M79.0 124.6h.9M72.8 123.5h.9M65.4 126.8h.9M66.7 127.1h.9M72.7 122.8h.9M86.5 131.8h.9M56.2 126.7h.9M58.1 130.7h.9M57.9 119.2h.9M64.1 120.2h.9M65.2 125.9h.9M49.0 122.0h.9M68.8 126.7h.9M49.3 130.5h.9M61.2 133.5h.9M61.9 135.5h.9M62.0 131.7h.9M83.5 123.5h.9M85.4 130.4h.9M78.5 124.5h.9M84.8 130.4h.9M61.5 121.6h.9M82.6 134.8h.9M64.4 129.7h.9M67.9 125.8h.9M68.4 119.9h.9M48.4 129.0h.9M57.4 124.5h.9M63.0 128.8h.9M69.6 123.5h.9M63.4 124.4h.9M54.4 130.8h.9M50.6 135.6h.9M65.1 120.5h.9M50.3 126.4h.9M50.3 129.6h.9M63.7 126.6h.9M67.2 125.0h.9M54.7 139.3h.9M42.8 122.8h.9M68.6 129.4h.9M75.2 124.8h.9M59.9 126.9h.9M60.3 114.9h.9M36.0 132.3h.9M76.3 126.3h.9M51.3 122.1h.9M74.0 136.6h.9M57.6 125.9h.9M63.2 124.1h.9M62.7 122.8h.9M42.5 133.3h.9M99.4 127.6h.9M45.5 125.7h.9M66.4 120.2h.9M54.8 122.5h.9M62.0 129.3h.9M82.2 127.3h.9M41.7 116.4h.9M63.2 122.6h.9M71.2 128.7h.9M70.0 123.3h.9M55.6 115.2h.9M44.5 131.7h.9M48.6 124.8h.9M59.9 120.2h.9M74.3 130.5h.9M66.0 126.2h.9M85.0 122.1h.9M66.3 120.2h.9M67.4 126.8h.9M67.5 127.9h.9M43.4 117.7h.9M72.2 132.9h.9M51.1 120.5h.9M60.3 135.1h.9M94.3 129.3h.9M49.5 126.4h.9M66.5 129.3h.9M68.6 124.2h.9M66.6 127.1h.9M65.0 136.5h.9M58.0 124.3h.9M89.9 131.9h.9M39.9 122.5h.9M52.2 127.3h.9M83.5 132.7h.9M71.9 120.8h.9M55.4 129.3h.9M53.8 115.6h.9M61.9 121.1h.9M98.0 125.1h.9M71.2 132.3h.9M52.1 131.4h.9M68.0 122.4h.9M57.2 126.7h.9M83.7 128.5h.9M68.7 118.8h.9M80.8 129.8h.9M67.0 134.9h.9M90.5 134.3h.9M70.1 124.2h.9M68.5 125.2h.9M52.3 122.3h.9M59.7 124.7h.9M69.9 126.1h.9M58.8 131.2h.9M96.1 127.9h.9M64.9 122.3h.9M55.5 132.0h.9M77.3 132.3h.9M58.4 124.1h.9M70.1 126.1h.9M63.8 126.9h.9M56.0 118.4h.9M82.4 128.2h.9M66.1 131.1h.9M78.6 138.2h.9M60.8 128.5h.9M47.2 125.9h.9M49.5 126.6h.9M58.5 130.8h.9M62.7 131.8h.9M65.7 122.7h.9M71.4 128.5h.9M49.5 131.1h.9M67.9 116.4h.9M49.8 135.0h.9M56.5 126.3h.9M97.1 132.3h.9M80.9 127.2h.9M60.5 126.1h.9M87.4 127.1h.9M82.7 129.1h.9M76.1 132.3h.9M83.3 126.0h.9M61.9 121.3h.9M63.4 123.6h.9M54.3 122.1h.9M72.3 131.7h.9M49.3 122.2h.9M58.7 135.8h.9M70.7 128.2h.9M58.7 127.0h.9M69.3 134.7h.9M87.8 125.5h.9M52.7 125.9h.9M82.5 131.8h.9M56.5 131.6h.9M53.3 122.0h.9M77.9 130.6h.9M56.1 120.6h.9M55.9 126.6h.9M59.5 132.6h.9M56.0 128.7h.9M67.4 132.2h.9M56.1 140.5h.9M61.8 132.6h.9M69.4 138.6h.9M59.8 131.3h.9M79.4 123.9h.9M56.5 135.9h.9M55.4 123.7h.9M90.5 132.8h.9M83.8 131.2h.9M65.9 122.9h.9M75.4 123.7h.9M69.3 126.6h.9M58.6 129.8h.9M73.4 134.9h.9M68.8 128.0h.9M81.0 138.1h.9M42.0 132.5h.9M75.1 124.1h.9M67.1 124.3h.9M56.4 128.1h.9M59.6 124.8h.9M59.9 127.2h.9M48.5 132.0h.9M57.8 129.2h.9M74.8 133.1h.9M46.0 123.9h.9M60.3 123.0h.9M35.4 120.1h.9M57.8 118.0h.9M69.9 125.3h.9M64.4 128.1h.9M65.6 126.7h.9M51.0 127.8h.9M72.1 139.0h.9M53.7 121.8h.9M76.4 126.3h.9M67.6 125.1h.9M60.2 122.8h.9M83.6 135.2h.9M60.1 127.6h.9M77.8 134.7h.9M66.3 121.6h.9M65.0 138.1h.9M77.5 140.3h.9M70.5 123.0h.9M64.9 127.8h.9M63.5 127.1h.9M67.7 130.9h.9M66.1 120.7h.9M60.9 130.4h.9M52.1 131.8h.9M63.6 115.4h.9M62.0 124.1h.9M80.2 125.7h.9M70.6 132.1h.9M79.3 124.5h.9M86.7 121.5h.9M63.7 131.3h.9M54.5 129.9h.9M75.2 131.9h.9M57.6 128.1h.9M61.8 133.7h.9M83.0 130.7h.9M71.9 118.1h.9M78.7 129.0h.9M48.2 132.1h.9M65.5 128.1h.9M79.0 135.9h.9M49.0 125.4h.9M67.5 131.7h.9M70.1 121.1h.9M36.2 127.9h.9M85.0 124.9h.9M56.1 122.4h.9M63.3 120.7h.9M86.0 129.1h.9M42.7 130.3h.9M70.8 124.4h.9M59.4 121.1h.9M65.6 123.1h.9M54.8 132.1h.9M82.1 121.3h.9M51.0 134.2h.9M69.6 118.7h.9M71.8 129.4h.9M63.9 131.6h.9M61.6 134.6h.9M61.7 125.6h.9M77.8 123.7h.9M70.7 120.1h.9M64.0 132.9h.9M51.4 127.2h.9M67.0 125.4h.9M71.7 125.6h.9M64.6 129.3h.9M83.0 128.1h.9M41.2 134.4h.9M96.2 116.1h.9M62.8 132.6h.9M50.8 125.0h.9M43.2 127.5h.9M75.9 126.2h.9M72.2 127.5h.9M62.3 132.1h.9M64.4 129.2h.9M67.2 120.0h.9M59.8 127.6h.9M79.5 127.4h.9M72.9 130.0h.9M63.6 128.2h.9M44.6 127.5h.9M82.2 133.6h.9M59.1 122.0h.9M52.1 139.9h.9M81.2 124.9h.9M71.3 122.3h.9M39.9 132.3h.9M44.3 133.9h.9M60.1 134.8h.9M49.3 136.0h.9M63.1 130.6h.9M97.8 128.3h.9M102.3 130.0h.9M64.6 128.0h.9M75.1 125.0h.9M76.2 136.8h.9M63.6 138.0h.9M46.6 128.0h.9M78.5 126.7h.9M62.9 125.3h.9M70.8 118.7h.9M74.0 124.3h.9M55.0 125.1h.9M86.2 127.9h.9M66.0 122.5h.9M67.9 117.5h.9M59.7 131.6h.9M74.0 137.5h.9M77.8 116.3h.9M58.1 127.2h.9M72.4 132.7h.9M59.7 121.6h.9M49.7 120.1h.9M61.0 128.2h.9M72.7 126.7h.9M72.0 124.5h.9M78.6 137.1h.9M56.7 136.3h.9M61.3 131.6h.9M66.0 127.7h.9M72.9 126.2h.9M63.7 132.9h.9M53.2 126.8h.9M45.7 136.2h.9M79.9 134.9h.9M78.5 124.7h.9M56.8 132.3h.9M83.7 136.7h.9M64.4 131.7h.9M70.8 122.9h.9M81.0 126.6h.9M59.1 126.3h.9M55.4 128.8h.9M43.4 128.3h.9M69.0 126.2h.9M70.8 132.9h.9M76.0 135.6h.9M72.7 125.1h.9M66.5 120.1h.9M79.6 130.2h.9M52.3 128.2h.9M70.1 130.5h.9M71.6 124.5h.9M63.7 129.8h.9M86.8 123.2h.9M70.7 134.3h.9M82.1 137.5h.9M76.4 123.2h.9M62.9 114.0h.9M89.5 125.6h.9M79.1 125.4h.9M65.4 129.4h.9M63.7 128.4h.9M52.2 131.0h.9M62.2 125.3h.9M67.8 126.3h.9M59.9 130.7h.9M72.4 118.2h.9M64.2 132.7h.9M45.4 124.9h.9M58.8 120.5h.9M53.9 123.7h.9M49.2 131.2h.9M62.0 133.0h.9M76.7 135.3h.9M51.2 130.8h.9M40.1 124.4h.9M63.2 131.5h.9M102.7 128.0h.9M68.6 117.1h.9M60.1 137.3h.9M76.0 132.7h.9M83.3 130.7h.9M63.2 128.0h.9M80.1 125.4h.9M51.6 123.2h.9M67.9 119.9h.9M49.3 139.7h.9M67.6 133.6h.9M57.6 132.2h.9M68.3 130.5h.9M51.2 118.0h.9M68.2 127.0h.9M66.7 129.2h.9M58.1 134.9h.9M55.2 123.0h.9M50.4 130.0h.9M60.3 127.2h.9M70.3 128.7h.9M63.6 124.3h.9M67.2 130.5h.9M81.2 129.0h.9M61.2 118.3h.9M69.0 135.2h.9M75.7 140.7h.9M71.8 123.7h.9M70.1 134.9h.9M66.3 123.2h.9M89.5 125.7h.9M64.3 138.3h.9M60.4 129.7h.9M72.7 136.9h.9M85.8 130.2h.9M83.1 134.2h.9M65.7 127.7h.9M75.8 136.5h.9M71.6 138.5h.9M66.3 132.4h.9M73.5 125.5h.9M73.1 126.6h.9M67.1 123.5h.9M87.0 132.0h.9M60.6 131.5h.9M82.8 124.8h.9M91.7 133.7h.9M91.8 125.5h.9M68.8 138.7h.9M63.0 133.2h.9M45.3 137.4h.9M64.6 124.8h.9M95.9 123.2h.9M45.7 118.7h.9M45.9 132.3h.9M75.8 122.5h.9M73.1 136.1h.9M42.4 129.5h.9M64.6 132.9h.9M69.6 121.7h.9M46.3 125.5h.9M77.4 129.8h.9M48.7 132.8h.9M79.5 121.7h.9M67.9 130.6h.9M56.6 124.2h.9M45.1 133.2h.9M61.0 127.5h.9M64.1 127.1h.9M63.7 131.2h.9M57.9 135.1h.9M62.7 127.4h.9M76.2 135.5h.9M53.9 123.3h.9M62.7 130.3h.9M71.1 122.6h.9M65.0 129.9h.9M76.1 123.8h.9M84.8 129.0h.9M60.9 132.2h.9M68.0 123.5h.9M60.9 127.8h.9M73.7 131.6h.9M51.2 130.0h.9M82.0 123.8h.9M41.7 133.3h.9M82.2 127.2h.9M58.8 132.9h.9M52.5 123.9h.9M59.2 131.2h.9M61.9 135.2h.9M52.5 125.1h.9M47.9 127.1h.9M58.7 132.1h.9M77.1 131.6h.9M70.3 130.7h.9M82.1 128.1h.9M57.6 120.2h.9M60.8 128.7h.9M61.0 121.6h.9M67.0 129.2h.9M71.0 115.9h.9M87.3 136.6h.9M74.0 139.1h.9M67.3 131.1h.9M82.2 124.1h.9M55.4 127.0h.9M48.7 133.5h.9M73.6 132.3h.9M67.3 124.9h.9M66.7 135.2h.9M76.9 132.6h.9M61.0 131.6h.9M63.8 126.8h.9M69.9 128.7h.9M73.3 124.8h.9M77.5 129.7h.9M66.7 125.1h.9M68.5 135.1h.9M34.8 128.9h.9M80.5 129.8h.9M45.5 130.5h.9M64.6 130.4h.9M97.0 120.9h.9M61.1 135.6h.9M45.3 129.2h.9M85.4 125.7h.9M58.2 123.4h.9M63.1 124.9h.9M63.1 125.3h.9M74.4 128.7h.9M74.9 124.0h.9M63.6 129.2h.9M79.1 129.4h.9M53.8 124.9h.9M73.6 140.7h.9M57.3 128.0h.9M73.9 130.5h.9M56.8 129.2h.9M59.6 127.8h.9M83.6 132.3h.9M51.0 136.1h.9M50.4 128.2h.9M72.3 123.9h.9M61.7 131.6h.9M59.7 116.9h.9M63.3 129.4h.9M91.7 127.6h.9M52.1 130.4h.9M61.7 120.3h.9M67.2 126.2h.9M53.3 123.0h.9M64.6 125.6h.9M71.2 131.7h.9M53.7 127.5h.9M79.1 125.3h.9M50.8 135.0h.9M63.3 128.6h.9M69.3 117.5h.9M104.9 122.8h.9M43.2 130.7h.9M68.6 130.8h.9M96.6 129.6h.9M57.6 129.8h.9M78.7 123.5h.9M67.7 127.9h.9M47.2 121.9h.9M70.0 123.8h.9M53.9 123.4h.9M66.1 123.8h.9M46.3 126.5h.9M74.2 127.1h.9M34.8 124.0h.9M62.9 134.2h.9M81.1 125.8h.9M71.5 136.6h.9M60.7 133.7h.9M62.1 121.7h.9M59.7 133.1h.9M99.0 120.6h.9M64.4 136.1h.9M64.9 130.0h.9M55.8 122.8h.9M59.1 116.3h.9M72.6 126.0h.9M57.4 120.8h.9M54.9 134.1h.9M58.1 121.4h.9M60.6 126.9h.9M67.2 130.8h.9M58.9 128.1h.9M62.6 129.5h.9M55.6 126.7h.9M80.5 132.0h.9M66.1 123.0h.9M61.1 131.1h.9M72.5 76.9h.9M80.0 92.4h.9M72.8 64.7h.9M77.9 67.3h.9M82.2 80.7h.9M85.7 67.2h.9M69.2 93.4h.9M74.8 66.4h.9M73.7 67.9h.9M85.6 74.1h.9M74.3 86.5h.9M82.8 84.4h.9M76.2 82.6h.9M71.2 80.4h.9M79.6 88.3h.9M72.8 63.9h.9M82.9 80.3h.9M83.5 89.3h.9M86.2 69.8h.9M73.5 80.6h.9M87.5 87.7h.9M84.2 87.9h.9M69.2 77.0h.9M91.0 92.7h.9M88.1 82.1h.9M73.3 86.5h.9M80.7 69.7h.9M71.7 72.2h.9M78.2 72.2h.9M79.9 91.9h.9M82.3 59.9h.9M74.5 63.8h.9M78.8 84.3h.9M73.9 79.3h.9M81.0 55.0h.9M82.5 75.0h.9M79.3 75.7h.9M85.2 87.6h.9M83.0 63.2h.9M81.0 74.0h.9M85.2 86.4h.9M72.2 84.1h.9M78.7 71.0h.9M69.3 75.9h.9M78.8 66.6h.9M76.4 88.8h.9M83.4 74.8h.9M76.5 88.0h.9M75.5 84.4h.9M78.4 71.2h.9M78.2 77.0h.9M81.7 83.2h.9M74.2 81.6h.9M70.8 90.0h.9M70.3 86.8h.9M85.2 80.7h.9M72.1 83.5h.9M76.4 72.6h.9M72.9 73.5h.9M83.7 82.9h.9M75.9 80.8h.9M85.6 69.6h.9M75.1 77.6h.9M80.6 72.0h.9M83.1 73.9h.9M84.2 88.2h.9M72.5 70.9h.9M76.9 73.1h.9M78.5 82.6h.9M69.0 78.8h.9M82.8 79.5h.9M81.1 67.0h.9M81.7 78.0h.9M71.4 75.3h.9M80.0 71.9h.9M81.3 73.9h.9M84.6 75.9h.9M76.1 84.7h.9M82.6 92.8h.9M89.6 79.1h.9M76.6 89.7h.9M76.7 79.1h.9M77.2 66.7h.9M70.8 78.7h.9M77.0 88.2h.9M87.8 89.1h.9M73.9 71.4h.9M77.9 95.6h.9M85.5 72.6h.9M82.1 72.6h.9M80.2 74.2h.9M77.2 89.5h.9M78.4 81.4h.9M79.0 85.3h.9M82.7 61.1h.9M79.4 77.9h.9M84.1 77.4h.9M68.8 83.7h.9M83.4 74.7h.9M76.1 87.5h.9M79.1 73.0h.9M76.7 67.5h.9M82.5 65.6h.9M78.3 88.1h.9M82.4 84.2h.9M74.6 72.3h.9M80.0 86.9h.9M85.7 77.0h.9M85.1 77.4h.9M77.1 67.0h.9M79.8 74.1h.9M77.0 79.2h.9M78.4 79.9h.9M79.1 74.0h.9M85.6 86.0h.9M82.2 89.5h.9M86.9 72.1h.9M87.4 81.5h.9M72.1 66.6h.9M80.7 81.6h.9M76.6 70.9h.9M70.2 77.2h.9M73.2 79.7h.9M76.3 76.5h.9M88.1 86.5h.9M79.5 72.4h.9M78.0 74.8h.9M78.9 80.9h.9M75.0 78.1h.9M80.0 80.4h.9M78.5 76.8h.9M70.2 72.2h.9M76.1 83.5h.9M97.2 79.0h.9M82.4 85.4h.9M78.5 88.7h.9M82.6 75.7h.9M73.8 72.7h.9M79.5 74.9h.9M83.8 73.4h.9M70.3 63.1h.9M75.1 91.1h.9M76.9 81.6h.9M77.5 96.4h.9M76.3 74.1h.9M80.5 83.0h.9M84.5 80.5h.9M80.9 77.9h.9M84.6 86.0h.9M84.7 78.5h.9M75.8 77.8h.9M80.5 79.7h.9M77.0 61.2h.9M82.6 72.9h.9M77.2 72.8h.9M78.0 91.2h.9M88.2 83.0h.9M78.1 84.5h.9M70.6 83.3h.9M79.7 77.0h.9M80.6 91.2h.9M76.3 76.9h.9M79.4 67.6h.9M84.5 83.3h.9M76.3 87.5h.9M78.0 79.3h.9M75.2 81.3h.9M80.8 85.9h.9M78.4 90.3h.9M74.1 83.0h.9M122.2 75.6h.9M117.9 74.4h.9M123.4 76.9h.9M112.7 75.7h.9M119.9 76.0h.9M117.9 74.0h.9M117.4 72.8h.9M113.1 71.2h.9M120.3 72.3h.9M116.4 69.4h.9M113.9 73.5h.9M115.1 72.1h.9M116.3 66.1h.9M117.3 64.0h.9M114.2 70.1h.9M114.2 70.9h.9M118.3 71.4h.9M116.8 76.3h.9M123.1 70.4h.9M115.7 68.4h.9M119.3 73.5h.9M122.4 75.4h.9M116.4 77.4h.9M120.0 69.2h.9M117.9 71.5h.9M117.2 71.0h.9M121.9 76.9h.9M113.9 74.4h.9M115.1 72.4h.9M111.5 74.5h.9M116.6 71.2h.9M120.0 71.7h.9M116.2 72.2h.9M119.5 70.7h.9M114.7 71.5h.9M120.5 73.4h.9M116.6 73.0h.9M115.5 76.8h.9M122.0 74.9h.9M117.0 72.0h.9M118.8 65.6h.9M117.4 67.7h.9M119.2 70.7h.9M117.4 71.1h.9M113.3 68.2h.9M117.9 71.1h.9M118.5 72.6h.9M118.2 70.3h.9M116.3 71.8h.9M122.6 72.0h.9M114.8 70.1h.9M117.4 69.6h.9M117.6 71.8h.9M113.7 73.1h.9M113.3 69.0h.9M119.0 66.0h.9M119.1 69.3h.9M117.4 73.8h.9M112.1 67.3h.9M116.1 75.1h.9M117.7 70.4h.9M118.9 72.6h.9M120.6 69.9h.9M118.4 74.0h.9M119.9 72.4h.9M122.1 73.3h.9M109.8 66.3h.9M120.0 74.4h.9M115.6 67.1h.9M118.5 71.2h.9M117.6 73.8h.9M113.9 71.6h.9M114.2 73.7h.9M118.3 72.7h.9M116.4 72.5h.9M119.2 69.7h.9M115.8 75.3h.9M123.6 75.6h.9M116.2 70.6h.9M123.3 69.5h.9M114.7 72.8h.9M118.7 69.9h.9M120.4 72.6h.9M113.0 74.7h.9M114.0 74.2h.9M118.2 76.7h.9M120.5 73.6h.9M121.2 69.0h.9M118.7 69.6h.9M120.2 73.8h.9M113.4 78.0h.9M115.7 71.1h.9M121.4 69.4h.9M115.3 76.4h.9M116.2 71.8h.9M111.6 74.3h.9M116.4 75.5h.9M112.1 69.2h.9M118.1 71.1h.9M121.5 70.5h.9M117.9 73.8h.9M117.5 74.2h.9M115.7 70.7h.9M118.7 73.9h.9M113.6 66.8h.9M115.5 73.2h.9M123.6 73.2h.9M113.0 72.2h.9M115.2 67.8h.9M112.7 71.9h.9M120.7 68.9h.9M116.2 76.6h.9M113.1 71.3h.9M113.1 71.6h.9M120.3 71.8h.9M119.0 73.8h.9M119.4 72.4h.9M116.7 73.8h.9M119.7 69.4h.9M121.0 75.5h.9M119.0 70.7h.9M112.0 74.5h.9M110.9 72.9h.9M112.4 75.4h.9M117.7 72.0h.9M112.3 67.7h.9M113.6 68.7h.9M117.0 71.5h.9M114.2 76.3h.9M113.0 70.9h.9M119.8 72.3h.9M118.4 76.0h.9M119.3 70.5h.9M119.7 73.1h.9M121.3 73.0h.9M116.8 70.4h.9M116.3 72.9h.9M111.5 75.3h.9M116.1 75.3h.9M115.0 71.2h.9M132.6 73.2h.9M113.3 71.8h.9M108.6 69.0h.9M105.3 69.5h.9M103.3 67.3h.9M116.8 69.7h.9M89.0 72.7h.9M109.5 75.6h.9M100.4 65.4h.9M109.4 67.9h.9M110.4 69.9h.9M100.9 65.0h.9M103.3 71.4h.9M120.2 71.6h.9M106.5 71.9h.9M110.6 74.8h.9M108.3 77.3h.9M116.9 76.6h.9M119.9 74.1h.9M117.6 75.6h.9M114.8 69.0h.9M114.9 68.3h.9M101.8 75.9h.9M120.5 75.5h.9M106.5 83.2h.9M104.0 71.7h.9M107.9 68.1h.9M104.7 74.2h.9M113.8 70.7h.9M116.1 68.6h.9M120.3 79.3h.9M110.0 82.0h.9M106.2 74.6h.9M108.6 69.7h.9M101.9 74.0h.9M105.2 72.6h.9M125.7 66.2h.9M104.9 76.8h.9M107.2 74.5h.9M115.4 78.8h.9M112.6 70.2h.9M116.4 72.7h.9M104.2 72.3h.9M102.7 64.6h.9M120.6 84.8h.9M105.6 62.9h.9M110.0 67.4h.9M112.3 71.1h.9M96.8 65.4h.9M109.2 74.8h.9M105.8 70.6h.9M114.6 73.2h.9M108.4 74.0h.9M93.8 73.2h.9M116.6 73.3h.9M91.5 72.1h.9M107.6 74.9h.9M105.5 76.7h.9M106.1 71.6h.9M110.6 70.7h.9M117.8 71.0h.9M104.1 74.3h.9M106.1 71.1h.9M116.3 71.1h.9M114.5 65.7h.9M116.1 82.1h.9M113.2 67.0h.9M108.9 80.9h.9M107.0 76.7h.9M107.1 77.8h.9M117.5 74.2h.9M121.9 75.3h.9M125.6 74.3h.9M102.9 75.8h.9M108.9 76.9h.9M110.7 80.2h.9M109.5 68.2h.9M102.2 75.3h.9M127.1 80.7h.9M122.1 79.6h.9M109.5 68.0h.9M107.3 74.5h.9M110.6 74.3h.9M101.6 74.2h.9M108.1 62.2h.9M116.5 77.1h.9M123.2 65.3h.9M117.4 83.5h.9M120.5 76.2h.9M102.8 72.5h.9M86.3 76.1h.9M121.1 73.7h.9M112.1 70.5h.9M110.1 72.6h.9M123.3 74.7h.9M103.4 69.2h.9M103.5 76.5h.9M105.1 78.4h.9M122.9 78.2h.9M117.9 78.7h.9M97.2 79.3h.9M123.2 76.5h.9M110.8 79.4h.9M113.9 73.4h.9M104.9 75.0h.9M124.9 79.9h.9M114.0 82.4h.9M120.7 71.4h.9M103.2 66.1h.9M116.0 83.4h.9M117.4 94.9h.9M121.0 95.1h.9M116.1 103.9h.9M112.6 98.5h.9M107.9 97.2h.9M106.2 92.0h.9M119.0 104.1h.9M116.5 103.5h.9M113.0 100.3h.9M105.4 102.3h.9M108.5 84.2h.9M108.0 96.4h.9M109.7 99.5h.9M95.9 99.3h.9M112.5 96.2h.9M119.6 99.9h.9M108.4 95.5h.9M111.5 95.9h.9M112.8 93.2h.9M106.0 99.4h.9M113.6 95.6h.9M107.0 96.5h.9M109.0 105.0h.9M112.7 98.6h.9M111.0 98.6h.9M111.8 91.9h.9M106.4 96.4h.9M115.2 103.2h.9M105.5 101.3h.9M115.8 99.0h.9M108.7 98.0h.9M105.0 99.1h.9M110.8 100.6h.9M105.7 97.3h.9M108.5 87.6h.9M110.5 107.6h.9M115.5 103.9h.9M115.6 98.1h.9M113.9 105.1h.9M109.8 92.9h.9M103.1 104.6h.9M110.1 99.7h.9M109.6 102.8h.9M110.6 97.2h.9M108.5 99.5h.9M108.5 101.4h.9M115.6 103.5h.9M104.2 101.1h.9M111.4 100.8h.9M118.1 96.1h.9M107.2 106.5h.9M106.0 99.7h.9M110.1 97.8h.9M109.5 97.3h.9M112.7 93.4h.9M118.6 95.5h.9M110.6 91.9h.9M114.3 99.7h.9M108.2 98.4h.9M108.7 99.8h.9M112.9 93.2h.9M107.7 96.9h.9M117.8 95.9h.9M109.1 103.3h.9M110.4 92.1h.9M105.7 92.0h.9M109.0 104.6h.9M105.9 100.4h.9M108.7 91.7h.9M101.8 104.9h.9M111.2 105.5h.9M120.7 103.9h.9M101.2 89.5h.9M120.7 99.3h.9M110.7 94.9h.9M116.1 97.6h.9M105.9 91.7h.9M122.2 106.6h.9M105.5 95.7h.9M110.9 100.0h.9M119.7 102.4h.9M104.4 101.6h.9M98.7 100.6h.9M110.9 97.0h.9M107.1 99.8h.9M106.0 97.8h.9M106.3 88.6h.9M103.4 103.3h.9M118.9 96.0h.9M117.9 96.4h.9M103.9 96.9h.9M110.7 92.5h.9M108.8 93.3h.9M117.2 90.7h.9M106.7 100.9h.9M120.1 104.1h.9M111.3 99.1h.9M107.0 93.6h.9M110.8 104.7h.9M108.1 97.3h.9M123.5 91.6h.9M112.1 90.3h.9M108.7 99.6h.9M111.8 105.3h.9M119.3 97.1h.9M106.0 95.9h.9M102.1 97.5h.9M118.4 95.0h.9M114.6 96.3h.9M108.8 99.9h.9M110.8 95.5h.9M117.3 103.0h.9M96.4 94.4h.9M118.2 102.0h.9M110.3 100.3h.9M114.9 97.0h.9M111.0 97.4h.9M128.1 97.3h.9M107.9 106.3h.9M117.3 95.1h.9M97.0 104.1h.9M111.5 103.3h.9M115.5 97.3h.9M102.8 106.1h.9M100.1 88.1h.9M111.8 99.9h.9M116.8 99.4h.9M117.7 98.9h.9M107.5 102.5h.9M113.1 97.0h.9M103.5 97.9h.9M120.8 103.9h.9M108.1 98.2h.9M118.2 94.1h.9M109.8 101.3h.9M109.4 98.4h.9M120.1 96.2h.9M106.5 101.3h.9M118.3 95.3h.9M109.3 94.4h.9M97.3 66.1h.9M98.0 75.0h.9M100.5 92.6h.9M87.9 94.0h.9M117.1 72.1h.9M106.7 74.0h.9M101.4 86.8h.9M102.2 100.4h.9M74.9 85.1h.9M109.2 59.4h.9M89.7 96.3h.9M105.0 84.7h.9M88.0 79.9h.9M109.8 72.2h.9M94.6 98.1h.9M97.8 87.9h.9M115.2 89.4h.9M109.8 88.8h.9M86.2 89.8h.9M92.9 94.2h.9M101.9 103.8h.9M97.6 73.3h.9M108.0 84.1h.9M93.1 80.0h.9M81.2 103.5h.9M90.8 81.8h.9M98.1 67.2h.9M105.4 84.7h.9M107.4 76.9h.9M112.4 76.8h.9M102.3 80.0h.9M97.9 70.6h.9M107.2 63.7h.9M98.9 106.4h.9M95.2 83.6h.9M95.3 74.6h.9M109.2 91.8h.9M114.8 99.6h.9M113.1 65.7h.9M83.9 80.0h.9M110.9 88.0h.9M88.7 75.7h.9M96.5 89.9h.9M105.8 71.3h.9M86.6 77.6h.9M87.7 83.6h.9M92.4 89.7h.9M116.8 85.4h.9M110.7 77.4h.9M90.9 80.9h.9M101.3 61.6h.9M101.3 108.4h.9M103.1 80.4h.9M92.8 81.7h.9M114.3 87.9h.9M96.1 91.2h.9M108.1 88.7h.9M83.1 77.5h.9M103.9 66.7h.9M101.4 83.0h.9M113.5 76.1h.9M74.0 78.8h.9M105.5 84.9h.9M108.1 87.6h.9M97.3 99.2h.9M113.1 83.3h.9M121.0 65.9h.9M108.8 91.4h.9M108.0 95.1h.9M113.4 66.8h.9M104.3 91.6h.9M112.2 87.0h.9M105.9 78.9h.9M93.1 86.8h.9M89.4 89.2h.9M111.7 91.4h.9M105.9 97.5h.9M93.3 84.8h.9M100.2 84.8h.9M114.6 111.5h.9M71.4 94.9h.9M77.0 94.9h.9M76.5 97.3h.9M84.3 103.4h.9M86.7 95.6h.9M69.7 107.4h.9M87.6 94.6h.9M70.6 105.2h.9M97.2 110.4h.9M74.2 113.9h.9M86.7 84.0h.9M77.1 113.8h.9M83.9 85.8h.9M73.7 111.3h.9M79.9 99.8h.9M79.1 102.7h.9M79.6 92.4h.9M84.5 107.4h.9M75.9 105.4h.9M76.7 95.5h.9M69.7 95.0h.9M78.0 106.8h.9M75.5 108.2h.9M85.1 106.1h.9M83.7 96.9h.9M73.9 100.0h.9M82.1 107.5h.9M88.2 106.7h.9M77.5 109.0h.9M70.7 101.1h.9M96.2 94.3h.9M82.8 102.3h.9M83.9 103.6h.9M96.5 95.7h.9M73.4 103.5h.9M81.1 93.2h.9M65.7 102.0h.9M82.4 95.1h.9M81.7 116.9h.9M73.5 109.5h.9M73.0 102.1h.9M77.7 89.4h.9M77.3 90.1h.9M90.1 105.5h.9M77.2 98.7h.9M77.8 102.4h.9M77.7 87.3h.9M67.7 87.9h.9M75.5 100.9h.9M69.5 98.3h.9M79.8 89.3h.9M63.6 93.5h.9M71.1 106.2h.9M80.7 96.5h.9M64.2 104.6h.9M68.0 113.2h.9M85.9 102.6h.9M69.6 101.0h.9M78.9 95.2h.9M81.1 109.7h.9M71.5 88.4h.9M67.1 91.2h.9M89.6 99.8h.9M75.0 88.2h.9M82.6 107.8h.9M73.6 94.9h.9M81.5 104.2h.9M69.7 97.5h.9M69.3 97.9h.9M71.6 100.1h.9M123.4 126.4h.9M121.6 137.1h.9M126.9 125.1h.9M124.4 110.7h.9M96.4 128.1h.9M126.9 119.4h.9M98.4 132.6h.9M111.1 118.1h.9M112.2 129.6h.9M116.2 115.2h.9M114.1 129.8h.9M97.6 128.3h.9M124.5 131.1h.9M94.2 110.0h.9M119.2 123.4h.9M88.2 132.9h.9M125.6 123.3h.9M124.9 118.4h.9M99.0 133.1h.9M111.2 130.7h.9M108.3 123.2h.9M127.2 135.9h.9M100.2 130.7h.9M104.7 130.1h.9M101.0 139.9h.9M99.0 132.6h.9M120.6 123.4h.9M104.1 109.3h.9M93.9 132.6h.9M95.8 122.7h.9M124.5 136.6h.9M107.5 137.3h.9M96.5 135.7h.9M108.1 126.5h.9M92.6 129.2h.9M108.2 129.5h.9M98.0 123.3h.9M104.1 121.9h.9M127.1 140.3h.9M108.3 109.0h.9M119.0 136.8h.9M101.7 113.2h.9M96.1 112.6h.9M102.6 133.6h.9M96.9 109.5h.9M109.4 130.2h.9M116.3 116.7h.9M99.1 136.5h.9M117.5 127.1h.9M109.5 116.3h.9M121.4 127.7h.9M120.0 132.5h.9M127.6 136.2h.9M116.8 109.6h.9M90.7 138.6h.9M102.4 135.4h.9M104.7 116.4h.9M124.7 128.3h.9M124.4 125.8h.9M97.1 128.4h.9M125.7 116.8h.9M105.4 138.5h.9M116.3 131.6h.9M116.1 127.1h.9M106.1 139.3h.9M111.6 120.9h.9M107.8 126.2h.9M116.7 129.3h.9M122.7 128.7h.9" stroke="#111" stroke-width="0.9" stroke-opacity="0.8" fill="none"/>
<rect x="33.40" y="51.50" width="105.00" height="90.30" fill="none" stroke="#3c3c3c" stroke-width="0.9"/>
<path d="M87.40 51.50V141.80" stroke="#4a4a4a" stroke-width="0.9" fill="none"/><path d="M33.40 107.40H138.40" stroke="#6a6a6a" stroke-width="0.8" fill="none"/>
<path d="M41.30 141.80v-1.2M33.40 135.00h1.2M45.92 141.80v-1.2M33.40 131.03h1.2M49.20 141.80v-1.2M33.40 128.21h1.2M51.75 141.80v-1.2M33.40 126.02h1.2M53.83 141.80v-1.2M33.40 124.23h1.2M55.58 141.80v-1.2M33.40 122.72h1.2M57.11 141.80v-1.2M33.40 121.41h1.2M58.45 141.80v-1.2M33.40 120.26h1.2M67.55 141.80v-1.2M33.40 112.43h1.2M72.17 141.80v-1.2M33.40 108.45h1.2M75.45 141.80v-1.2M33.40 105.63h1.2M78.00 141.80v-1.2M33.40 103.45h1.2M80.08 141.80v-1.2M33.40 101.66h1.2M81.83 141.80v-1.2M33.40 100.15h1.2M83.36 141.80v-1.2M33.40 98.84h1.2M84.70 141.80v-1.2M33.40 97.68h1.2M93.80 141.80v-1.2M33.40 89.85h1.2M98.42 141.80v-1.2M33.40 85.88h1.2M101.70 141.80v-1.2M33.40 83.06h1.2M104.25 141.80v-1.2M33.40 80.87h1.2M106.33 141.80v-1.2M33.40 79.08h1.2M108.08 141.80v-1.2M33.40 77.57h1.2M109.61 141.80v-1.2M33.40 76.26h1.2M110.95 141.80v-1.2M33.40 75.11h1.2M120.05 141.80v-1.2M33.40 67.28h1.2M124.67 141.80v-1.2M33.40 63.30h1.2M127.95 141.80v-1.2M33.40 60.48h1.2M130.50 141.80v-1.2M33.40 58.30h1.2M132.58 141.80v-1.2M33.40 56.51h1.2M134.33 141.80v-1.2M33.40 55.00h1.2M135.86 141.80v-1.2M33.40 53.69h1.2M137.20 141.80v-1.2M33.40 52.53h1.2" stroke="#555" stroke-width="0.5" fill="none"/>
<text x="33.60" y="149.4" font-size="7.4" fill="#222">10<tspan dy="-2.6" font-size="4.4">0</tspan></text>
<text x="59.85" y="149.4" font-size="7.4" fill="#222">10<tspan dy="-2.6" font-size="4.4">1</tspan></text>
<text x="86.10" y="149.4" font-size="7.4" fill="#222">10<tspan dy="-2.6" font-size="4.4">2</tspan></text>
<text x="112.35" y="149.4" font-size="7.4" fill="#222">10<tspan dy="-2.6" font-size="4.4">3</tspan></text>
<text x="138.60" y="149.4" font-size="7.4" fill="#222">10<tspan dy="-2.6" font-size="4.4">4</tspan></text>
<path d="M185.3 118.2h.9M190.3 120.9h.9M193.3 120.3h.9M203.3 116.3h.9M204.0 118.8h.9M199.0 124.6h.9M195.0 118.0h.9M189.4 123.5h.9M192.8 118.1h.9M205.4 119.5h.9M201.5 120.8h.9M197.9 118.3h.9M192.0 122.0h.9M204.7 118.3h.9M199.7 118.4h.9M189.9 114.7h.9M206.6 122.5h.9M202.6 120.8h.9M200.3 124.2h.9M192.3 125.3h.9M209.9 116.4h.9M196.6 120.5h.9M204.6 114.5h.9M201.8 120.2h.9M199.4 121.0h.9M206.1 118.2h.9M197.4 122.9h.9M206.3 119.9h.9M199.7 123.8h.9M201.7 115.9h.9M212.6 118.1h.9M185.9 116.5h.9M201.4 119.0h.9M207.4 112.0h.9M196.6 117.3h.9M199.6 117.7h.9M183.6 118.4h.9M197.6 119.5h.9M183.2 117.3h.9M201.0 119.4h.9M205.3 117.4h.9M204.3 120.3h.9M200.4 122.1h.9M191.3 117.9h.9M193.0 119.9h.9M191.4 120.3h.9M205.1 118.4h.9M195.7 121.9h.9M177.9 123.6h.9M203.1 120.6h.9M206.5 118.3h.9M215.2 120.7h.9M207.7 122.0h.9M202.1 122.5h.9M210.9 117.5h.9M197.6 121.9h.9M204.0 115.8h.9M189.9 118.6h.9M189.3 121.8h.9M204.2 119.3h.9M184.1 118.9h.9M179.4 116.1h.9M193.0 119.5h.9M201.6 116.6h.9M196.8 125.1h.9M202.7 116.2h.9M208.4 119.4h.9M205.5 119.5h.9M207.5 117.8h.9M198.4 119.0h.9M186.7 116.4h.9M201.8 117.5h.9M196.1 116.6h.9M195.6 117.5h.9M200.9 120.3h.9M197.2 117.4h.9M198.8 122.0h.9M200.8 123.9h.9M198.1 119.8h.9M193.9 120.9h.9M204.3 118.8h.9M204.8 116.7h.9M205.9 122.0h.9M200.8 120.9h.9M185.9 121.1h.9M188.7 116.3h.9M183.0 122.9h.9M196.6 124.5h.9M196.5 114.6h.9M193.3 117.8h.9M193.9 121.0h.9M188.5 114.1h.9M202.6 120.1h.9M192.8 121.8h.9M190.9 120.0h.9M192.2 123.3h.9M176.1 115.3h.9M206.9 123.6h.9M192.0 127.0h.9M203.9 115.1h.9M208.3 118.3h.9M187.1 120.1h.9M204.5 118.9h.9M188.1 114.5h.9M205.7 118.9h.9M209.1 118.0h.9M190.2 116.8h.9M188.9 120.9h.9M204.7 122.1h.9M202.2 122.0h.9M193.6 118.6h.9M193.3 116.5h.9M194.9 121.1h.9M197.1 112.1h.9M197.0 118.1h.9M206.4 118.2h.9M197.2 122.3h.9M195.2 119.3h.9M196.9 120.7h.9M194.9 115.0h.9M200.1 115.5h.9M193.1 118.1h.9M197.0 117.9h.9M193.5 120.2h.9M206.4 126.8h.9M206.4 120.2h.9M184.5 118.0h.9M197.2 118.2h.9M190.7 120.0h.9M203.9 118.5h.9M197.6 118.8h.9M189.5 114.6h.9M194.8 121.5h.9M199.7 121.4h.9M182.4 123.1h.9M191.6 118.4h.9M208.0 120.4h.9M197.0 119.9h.9M209.3 116.0h.9M203.9 118.5h.9M197.5 118.6h.9M190.5 117.2h.9M187.9 114.7h.9M198.9 121.7h.9M189.0 115.2h.9M189.0 117.2h.9M200.5 119.6h.9M182.6 126.2h.9M194.9 113.4h.9M205.6 121.9h.9M200.6 111.8h.9M207.3 121.8h.9M186.8 118.4h.9M209.8 113.4h.9M203.9 120.1h.9M207.9 119.5h.9M189.2 115.4h.9M203.0 122.4h.9M208.6 118.5h.9M196.3 119.5h.9M194.0 117.4h.9M207.7 117.5h.9M206.7 115.1h.9M199.8 121.0h.9M208.3 118.4h.9M200.9 117.8h.9M196.5 122.3h.9M208.7 119.9h.9M209.0 121.1h.9M197.6 123.2h.9M198.3 116.7h.9M201.5 116.2h.9M211.4 121.6h.9M195.8 122.8h.9M197.5 123.7h.9M206.6 121.9h.9M196.0 122.1h.9M207.0 118.9h.9M199.1 115.8h.9M203.5 127.8h.9M191.3 124.4h.9M210.0 113.8h.9M190.4 119.0h.9M186.5 122.3h.9M204.7 116.4h.9M205.4 120.1h.9M196.5 121.9h.9M187.5 124.4h.9M197.4 122.9h.9M209.2 118.1h.9M197.5 117.7h.9M197.8 118.1h.9M190.2 120.7h.9M203.1 121.9h.9M200.3 119.0h.9M192.8 120.7h.9M200.1 118.4h.9M189.5 115.9h.9M199.3 117.2h.9M207.7 122.9h.9M181.7 123.0h.9M188.3 123.0h.9M202.8 113.5h.9M199.2 119.1h.9M205.8 128.4h.9M188.1 120.7h.9M204.7 116.0h.9M194.6 122.9h.9M204.7 118.8h.9M202.1 120.5h.9M195.4 121.1h.9M205.4 121.6h.9M189.2 120.6h.9M201.6 117.7h.9M204.2 117.0h.9M200.0 120.9h.9M206.4 119.4h.9M190.5 120.8h.9M210.3 119.2h.9M195.1 114.4h.9M187.4 121.4h.9M190.8 118.7h.9M188.4 123.3h.9M205.7 120.5h.9M193.9 119.9h.9M196.2 123.3h.9M188.6 118.9h.9M214.3 109.4h.9M208.4 115.4h.9M201.1 115.2h.9M191.0 118.4h.9M207.3 118.9h.9M207.3 127.0h.9M202.5 122.4h.9M195.8 119.2h.9M195.8 122.9h.9M201.5 119.4h.9M195.1 120.0h.9M203.9 122.4h.9M190.4 115.7h.9M197.3 123.8h.9M209.8 126.3h.9M192.1 119.4h.9M188.1 122.2h.9M199.0 122.3h.9M188.5 118.4h.9M205.0 120.4h.9M201.8 121.2h.9M201.2 118.4h.9M203.4 118.4h.9M208.5 123.4h.9M196.8 124.1h.9M200.6 123.2h.9M187.5 118.1h.9M199.6 115.5h.9M192.2 121.8h.9M191.9 117.4h.9M195.0 119.2h.9M186.5 120.2h.9M211.1 122.9h.9M185.7 121.3h.9M204.1 117.8h.9M195.7 118.4h.9M193.7 122.1h.9M196.0 115.0h.9M201.6 116.6h.9M187.2 121.7h.9M201.3 121.8h.9M196.0 118.4h.9M191.4 118.8h.9M201.1 118.0h.9M206.2 115.4h.9M193.8 117.1h.9M199.5 124.2h.9M194.8 120.9h.9M207.9 124.9h.9M189.4 119.9h.9M188.5 117.7h.9M198.2 120.6h.9M201.0 118.4h.9M190.3 121.7h.9M191.2 120.5h.9M194.5 118.4h.9M198.1 119.3h.9M202.4 118.4h.9M186.1 121.6h.9M196.4 115.5h.9M188.5 121.0h.9M183.5 117.7h.9M183.9 124.3h.9M193.7 117.2h.9M207.6 122.3h.9M204.8 118.9h.9M206.9 121.8h.9M200.2 118.2h.9M204.1 118.9h.9M193.1 120.0h.9M190.5 119.9h.9M195.9 118.1h.9M196.7 116.8h.9M181.1 117.8h.9M191.6 117.7h.9M199.6 121.5h.9M197.5 113.6h.9M203.7 125.4h.9M202.5 117.5h.9M197.8 120.5h.9M202.3 119.5h.9M196.4 117.4h.9M207.6 122.2h.9M183.2 124.7h.9M199.8 118.1h.9M202.1 120.2h.9M203.4 117.9h.9M200.5 124.6h.9M199.9 122.8h.9M190.9 124.3h.9M179.9 117.6h.9M204.3 112.4h.9M193.1 120.2h.9M195.3 113.8h.9M198.7 117.8h.9M204.1 123.4h.9M196.6 118.0h.9M191.6 117.2h.9M189.0 114.5h.9M189.4 122.6h.9M202.4 122.8h.9M207.7 119.1h.9M201.4 122.6h.9M188.7 113.3h.9M203.9 118.4h.9M202.6 118.6h.9M203.1 120.9h.9M197.9 121.8h.9M191.3 118.4h.9M202.6 117.7h.9M208.1 124.1h.9M185.6 117.9h.9M190.9 118.9h.9M207.6 119.0h.9M210.7 117.6h.9M195.1 118.8h.9M203.4 115.1h.9M207.0 118.7h.9M189.4 121.9h.9M194.4 121.2h.9M188.2 124.3h.9M186.0 119.5h.9M176.0 120.3h.9M196.2 117.4h.9M193.7 118.1h.9M191.3 119.2h.9M213.3 119.1h.9M177.3 118.2h.9M193.5 116.0h.9M212.0 126.1h.9M185.3 121.8h.9M193.1 123.1h.9M199.5 120.9h.9M199.7 125.9h.9M204.1 113.1h.9M197.8 119.5h.9M212.0 118.7h.9M204.1 121.1h.9M192.2 117.7h.9M197.6 116.9h.9M192.4 124.3h.9M189.9 120.5h.9M210.6 120.2h.9M194.6 119.1h.9M199.4 118.4h.9M183.0 118.8h.9M207.9 116.1h.9M190.8 119.5h.9M203.4 119.6h.9M189.5 123.1h.9M202.6 121.3h.9M188.5 118.0h.9M195.0 123.0h.9M201.5 123.1h.9M195.9 116.4h.9M197.4 115.3h.9M215.5 118.6h.9M195.9 121.4h.9M184.3 122.3h.9M203.1 118.1h.9M205.2 119.5h.9M214.0 120.1h.9M207.0 120.6h.9M198.5 119.4h.9M185.9 118.6h.9M203.1 120.9h.9M198.4 125.1h.9M202.9 120.2h.9M204.2 119.8h.9M184.2 124.5h.9M195.2 124.7h.9M193.3 119.0h.9M207.8 121.7h.9M198.8 117.9h.9M198.4 121.4h.9M199.4 119.8h.9M205.5 122.9h.9M186.8 118.1h.9M208.0 114.2h.9M195.9 120.0h.9M204.1 119.5h.9M191.6 115.9h.9M206.9 120.4h.9M210.1 116.5h.9M201.1 117.6h.9M196.8 120.4h.9M205.1 122.1h.9M203.9 116.2h.9M216.3 118.7h.9M205.1 117.0h.9M199.6 123.5h.9M207.7 120.6h.9M200.9 119.2h.9M202.3 121.3h.9M200.4 118.6h.9M195.4 114.8h.9M193.9 113.4h.9M200.9 116.6h.9M190.7 120.1h.9M189.8 120.7h.9M190.6 119.9h.9M190.2 118.0h.9M203.2 114.0h.9M192.2 117.8h.9M193.1 118.7h.9M205.3 116.3h.9M188.2 120.0h.9M189.3 116.2h.9M193.0 116.7h.9M202.4 122.2h.9M191.5 116.6h.9M207.8 121.6h.9M188.8 123.4h.9M202.8 119.3h.9M203.7 119.4h.9M194.1 117.1h.9M203.3 117.8h.9M195.9 117.3h.9M192.1 115.3h.9M199.1 119.2h.9M195.3 118.5h.9M197.9 117.1h.9M191.8 120.1h.9M195.5 120.3h.9M205.6 123.1h.9M189.4 120.0h.9M201.2 121.4h.9M192.5 115.8h.9M195.8 117.8h.9M200.9 122.5h.9M200.9 119.9h.9M203.8 122.5h.9M185.1 117.6h.9M194.3 123.1h.9M187.3 120.6h.9M207.0 123.4h.9M183.9 120.7h.9M207.7 123.6h.9M188.9 118.9h.9M207.8 117.7h.9M187.6 120.6h.9M206.0 117.6h.9M197.5 118.8h.9M201.0 120.7h.9M197.7 121.4h.9M200.7 119.0h.9M196.7 119.9h.9M184.1 114.0h.9M202.9 123.4h.9M194.9 119.4h.9M187.2 117.5h.9M194.8 116.2h.9M180.5 116.5h.9M198.2 123.4h.9M204.9 118.4h.9M194.1 116.4h.9M194.8 122.5h.9M200.8 114.2h.9M197.2 116.5h.9M210.3 123.7h.9M199.8 117.7h.9M208.8 122.4h.9M208.9 119.9h.9M188.5 116.9h.9M194.9 122.5h.9M202.1 116.0h.9M196.5 118.9h.9M205.0 119.6h.9M201.7 117.8h.9M207.6 117.0h.9M195.9 113.5h.9M200.4 122.2h.9M193.0 126.4h.9M198.5 123.4h.9M196.7 117.5h.9M203.7 116.7h.9M199.1 115.4h.9M199.3 119.7h.9M206.5 123.6h.9M182.4 120.7h.9M195.0 120.9h.9M209.4 111.4h.9M198.3 122.4h.9M199.2 116.5h.9M179.6 119.0h.9M204.8 122.5h.9M185.2 121.2h.9M202.6 122.9h.9M206.8 123.1h.9M208.0 113.7h.9M187.5 113.6h.9M210.6 125.4h.9M187.2 119.8h.9M197.2 118.3h.9M198.7 116.7h.9M194.1 118.9h.9M212.3 120.8h.9M206.1 118.1h.9M203.3 120.1h.9M214.7 116.1h.9M200.5 121.5h.9M186.6 120.8h.9M194.3 116.1h.9M195.3 115.7h.9M200.3 120.8h.9M212.3 122.3h.9M199.9 125.2h.9M195.1 125.4h.9M204.4 118.9h.9M188.1 118.0h.9M197.3 116.5h.9M188.7 121.6h.9M203.2 118.2h.9M198.3 121.8h.9M211.2 118.8h.9M193.8 122.7h.9M194.7 118.7h.9M188.9 121.2h.9M190.7 120.3h.9M191.4 115.7h.9M206.3 120.9h.9M197.5 120.1h.9M200.7 120.4h.9M191.8 122.7h.9M191.7 123.5h.9M198.5 126.3h.9M186.0 120.1h.9M185.5 122.8h.9M195.2 112.7h.9M195.6 123.1h.9M199.8 120.2h.9M205.2 122.6h.9M202.4 117.0h.9M207.9 122.4h.9M207.3 122.1h.9M204.3 117.4h.9M202.6 118.9h.9M212.8 114.1h.9M190.5 119.6h.9M203.5 120.3h.9M201.9 121.3h.9M201.2 121.2h.9M191.1 119.4h.9M199.8 119.5h.9M194.1 116.6h.9M191.8 117.9h.9M198.0 119.0h.9M202.0 121.2h.9M208.0 116.8h.9M198.0 114.1h.9M192.8 118.6h.9M210.5 123.8h.9M204.5 116.7h.9M200.4 124.5h.9M205.0 118.9h.9M210.1 113.7h.9M195.5 121.5h.9M194.7 126.0h.9M190.4 121.9h.9M207.4 117.3h.9M200.0 118.8h.9M206.5 119.5h.9M206.2 129.5h.9M209.2 121.9h.9M199.3 114.7h.9M194.2 120.4h.9M183.5 122.9h.9M196.5 118.6h.9M186.8 118.1h.9M198.6 118.3h.9M188.5 124.6h.9M203.1 119.3h.9M197.5 117.8h.9M192.5 122.6h.9M208.9 117.5h.9M200.8 117.4h.9M192.7 120.7h.9M207.3 123.4h.9M186.9 118.8h.9M190.6 120.2h.9M206.2 124.2h.9M195.5 122.7h.9M192.0 117.0h.9M212.6 115.3h.9M199.2 115.5h.9M202.9 120.2h.9M190.9 122.3h.9M199.3 118.6h.9M198.6 119.9h.9M193.5 120.2h.9M197.7 116.7h.9M197.8 115.4h.9M202.8 122.2h.9M196.5 123.8h.9M207.5 121.1h.9M192.1 117.8h.9M187.9 120.8h.9M207.7 116.8h.9M197.2 114.6h.9M179.6 117.3h.9M200.7 122.3h.9M186.5 121.1h.9M199.3 119.4h.9M186.8 117.2h.9M204.9 122.1h.9M203.2 125.1h.9M199.7 119.6h.9M189.7 118.5h.9M187.1 120.9h.9M195.6 119.9h.9M194.6 118.8h.9M206.4 117.1h.9M192.9 122.1h.9M193.5 122.1h.9M189.1 126.1h.9M194.0 122.8h.9M186.4 120.1h.9M195.0 120.4h.9M192.3 119.4h.9M207.5 124.5h.9M210.6 119.7h.9M208.2 118.6h.9M200.9 119.2h.9M189.4 117.5h.9M196.3 116.8h.9M194.8 118.5h.9M182.7 119.4h.9M196.5 120.4h.9M187.9 117.8h.9M189.7 121.9h.9M186.9 117.3h.9M201.6 118.6h.9M190.1 123.0h.9M199.3 115.5h.9M196.9 124.9h.9M191.8 121.0h.9M195.6 121.4h.9M201.2 122.4h.9M188.2 118.6h.9M194.6 119.5h.9M194.1 121.7h.9M189.3 116.0h.9M193.6 116.5h.9M197.7 121.7h.9M207.1 119.6h.9M199.4 118.4h.9M191.6 118.7h.9M195.3 119.8h.9M207.1 114.9h.9M195.7 120.0h.9M200.5 118.1h.9M208.7 114.7h.9M181.1 117.8h.9M191.6 120.6h.9M198.9 126.0h.9M191.3 117.7h.9M191.8 121.7h.9M212.9 116.4h.9M196.7 123.2h.9M204.7 119.6h.9M206.4 123.2h.9M208.8 121.5h.9M200.0 119.0h.9M208.7 114.3h.9M189.2 122.3h.9M216.8 113.9h.9M199.6 118.4h.9M189.4 126.4h.9M201.5 120.0h.9M203.5 119.9h.9M197.2 119.1h.9M198.1 121.9h.9M200.9 120.6h.9M190.8 121.0h.9M201.2 119.0h.9M210.0 117.3h.9M200.2 121.5h.9M204.9 120.0h.9M201.9 119.7h.9M180.8 121.6h.9M201.2 123.7h.9M201.6 125.2h.9M186.3 120.6h.9M205.0 118.5h.9M206.2 124.1h.9M208.3 121.5h.9M200.2 120.7h.9M200.7 119.2h.9M185.1 123.7h.9M192.1 117.3h.9M210.0 119.2h.9M201.6 117.2h.9M206.8 124.6h.9M197.9 119.7h.9M208.9 115.7h.9M190.0 123.4h.9M197.6 122.2h.9M201.9 123.4h.9M198.7 117.5h.9M192.9 122.7h.9M205.5 123.3h.9M191.3 120.0h.9M200.7 121.7h.9M204.2 120.6h.9M196.0 117.2h.9M203.1 123.8h.9M191.6 116.1h.9M208.1 117.8h.9M203.1 119.8h.9M193.8 122.1h.9M194.7 122.6h.9M202.9 115.9h.9M200.7 123.3h.9M204.8 117.3h.9M189.0 118.6h.9M198.9 119.7h.9M193.6 120.1h.9M200.4 119.6h.9M202.4 118.8h.9M195.6 121.9h.9M197.5 123.7h.9M195.2 118.3h.9M190.1 117.1h.9M199.8 116.2h.9M191.2 117.8h.9M200.3 114.9h.9M197.3 120.6h.9M194.0 121.8h.9M191.6 117.9h.9M195.0 115.6h.9M198.5 117.4h.9M207.8 118.6h.9M200.5 127.9h.9M209.1 123.3h.9M183.2 121.5h.9M213.5 114.4h.9M190.7 118.5h.9M198.3 115.8h.9M187.5 116.8h.9M182.8 115.1h.9M190.1 118.1h.9M196.6 117.2h.9M200.5 118.1h.9M197.1 117.9h.9M185.1 121.2h.9M208.8 116.5h.9M205.2 115.6h.9M195.6 115.3h.9M197.8 123.1h.9M202.6 122.7h.9M193.9 116.9h.9M190.0 118.3h.9M183.7 120.2h.9M191.7 120.7h.9M209.6 118.8h.9M206.4 121.6h.9M192.3 116.4h.9M216.8 114.0h.9M192.2 122.2h.9M203.2 121.7h.9M200.1 120.9h.9M194.7 119.4h.9M200.2 117.6h.9M190.4 117.0h.9M200.7 120.8h.9M193.5 114.9h.9M191.1 125.2h.9M190.7 127.1h.9M204.6 114.9h.9M198.5 120.9h.9M195.8 118.3h.9M189.1 119.5h.9M190.0 120.6h.9M198.1 117.9h.9M193.3 123.6h.9M187.8 120.2h.9M194.1 122.5h.9M189.9 121.0h.9M196.3 115.5h.9M194.4 120.1h.9M200.7 121.5h.9M211.7 116.1h.9M204.5 115.5h.9M186.5 126.6h.9M189.9 117.9h.9M206.4 120.0h.9M208.9 117.5h.9M213.0 120.0h.9M186.8 121.3h.9M207.2 121.6h.9M197.4 124.6h.9M188.6 118.9h.9M194.4 116.0h.9M185.9 124.5h.9M205.1 124.1h.9M186.0 118.5h.9M196.7 121.7h.9M194.6 120.9h.9M205.5 119.1h.9M199.9 119.5h.9M198.8 113.4h.9M191.3 119.8h.9M203.5 120.1h.9M208.5 118.1h.9M191.5 117.3h.9M195.5 122.6h.9M182.7 123.5h.9M198.4 120.9h.9M184.1 118.6h.9M182.8 122.1h.9M208.2 117.9h.9M182.5 119.2h.9M201.9 121.1h.9M201.1 119.3h.9M188.6 121.9h.9M199.7 117.5h.9M193.8 115.4h.9M183.1 119.7h.9M201.6 119.3h.9M195.8 123.8h.9M203.4 119.1h.9M185.1 124.5h.9M196.3 122.3h.9M200.6 122.1h.9M201.8 124.4h.9M194.6 122.8h.9M185.3 115.7h.9M200.2 120.9h.9M193.6 122.2h.9M190.4 123.8h.9M196.9 121.1h.9M200.6 127.9h.9M187.4 122.2h.9M201.6 118.3h.9M192.7 119.6h.9M198.2 118.8h.9M184.1 121.7h.9M196.7 120.6h.9M200.2 117.8h.9M202.1 123.6h.9M190.3 118.5h.9M203.4 120.0h.9M214.9 120.5h.9M208.9 122.5h.9M193.5 119.8h.9M198.0 120.3h.9M198.7 119.5h.9M203.3 122.4h.9M201.6 120.2h.9M190.1 115.0h.9M189.0 115.0h.9M188.1 121.6h.9M197.4 116.9h.9M188.8 118.3h.9M195.6 118.3h.9M196.0 116.6h.9M196.9 120.0h.9M210.1 123.3h.9M188.9 115.8h.9M208.8 114.4h.9M205.5 118.4h.9M185.9 122.9h.9M203.4 117.1h.9M198.3 123.3h.9M208.2 118.2h.9M210.7 123.2h.9M196.2 117.0h.9M203.8 119.2h.9M203.3 117.1h.9M210.0 121.8h.9M208.7 118.7h.9M196.4 120.4h.9M190.4 112.6h.9M207.4 117.7h.9M205.7 122.4h.9M185.8 122.0h.9M208.7 117.8h.9M218.7 122.1h.9M200.1 122.1h.9M187.0 117.1h.9M187.2 116.2h.9M190.7 118.6h.9M209.8 118.2h.9M199.2 120.3h.9M191.7 123.1h.9M207.9 118.7h.9M204.5 118.6h.9M193.9 121.3h.9M193.4 124.7h.9M201.9 119.8h.9M211.1 122.8h.9M201.5 117.3h.9M203.4 117.9h.9M207.3 120.7h.9M199.5 116.2h.9M201.6 115.1h.9M189.5 115.2h.9M196.5 116.2h.9M196.9 120.8h.9M196.9 120.2h.9M209.7 123.5h.9M184.9 115.8h.9M204.2 121.4h.9M195.8 115.3h.9M189.2 118.1h.9M199.5 121.2h.9M190.9 117.5h.9M200.1 122.7h.9M200.3 120.5h.9M199.8 117.2h.9M184.5 118.5h.9M200.2 114.7h.9M213.6 125.0h.9M198.2 122.9h.9M193.7 129.6h.9M207.8 124.2h.9M191.5 118.5h.9M204.2 117.5h.9M189.7 113.5h.9M206.1 120.9h.9M192.6 120.5h.9M199.7 113.7h.9M209.7 121.3h.9M203.3 120.5h.9M208.6 114.8h.9M190.0 118.6h.9M196.6 117.9h.9M188.0 120.8h.9M194.7 119.5h.9M213.3 116.4h.9M191.2 113.6h.9M182.3 118.9h.9M208.2 114.2h.9M200.6 121.0h.9M196.1 123.3h.9M205.8 118.3h.9M195.9 118.6h.9M208.5 120.7h.9M206.3 119.8h.9M191.1 118.4h.9M191.1 122.9h.9M199.5 121.3h.9M196.0 123.6h.9M199.5 112.4h.9M190.9 116.4h.9M204.2 120.6h.9M192.1 118.7h.9M197.1 117.0h.9M207.0 116.5h.9M196.8 119.3h.9M193.5 118.0h.9M204.7 123.9h.9M191.9 120.7h.9M200.6 123.5h.9M199.7 112.9h.9M184.9 118.9h.9M204.5 125.2h.9M186.8 126.7h.9M198.3 121.4h.9M195.8 123.7h.9M204.6 117.5h.9M198.8 122.4h.9M191.7 125.1h.9M188.1 120.6h.9M204.7 120.6h.9M190.0 121.0h.9M194.2 120.5h.9M204.8 120.3h.9M191.1 119.0h.9M211.3 121.3h.9M196.0 114.4h.9M208.9 118.1h.9M192.0 118.9h.9M194.9 119.0h.9M203.8 123.6h.9M199.8 123.5h.9M193.1 124.5h.9M204.7 119.5h.9M194.2 121.5h.9M192.3 118.3h.9M197.7 117.3h.9M202.1 120.6h.9M182.7 121.6h.9M204.4 118.9h.9M205.7 120.8h.9M206.1 121.6h.9M189.3 122.9h.9M194.3 124.7h.9M196.6 120.3h.9M204.3 121.8h.9M198.6 118.4h.9M202.2 113.9h.9M183.9 120.1h.9M203.0 108.9h.9M179.3 118.5h.9M198.3 115.4h.9M187.7 121.0h.9M191.9 115.6h.9M188.8 120.6h.9M191.3 117.1h.9M192.1 119.9h.9M187.2 122.0h.9M217.6 118.4h.9M198.6 115.7h.9M190.6 121.5h.9M203.9 123.5h.9M193.3 118.1h.9M207.9 118.1h.9M199.3 119.9h.9M201.5 119.9h.9M195.5 123.5h.9M203.4 117.0h.9M196.2 119.6h.9M204.8 119.7h.9M188.0 118.5h.9M209.4 119.5h.9M193.7 116.1h.9M210.1 116.5h.9M182.4 121.0h.9M209.6 117.4h.9M202.5 122.7h.9M180.9 121.7h.9M190.0 121.7h.9M183.1 113.0h.9M209.1 120.9h.9M193.1 120.2h.9M194.2 113.6h.9M192.7 118.4h.9M194.2 119.9h.9M186.7 116.8h.9M192.3 115.4h.9M198.4 114.3h.9M203.6 118.0h.9M205.2 121.3h.9M203.7 118.9h.9M202.1 126.2h.9M212.3 120.9h.9M199.8 121.7h.9M204.4 115.8h.9M208.5 122.1h.9M198.9 120.6h.9M188.7 115.9h.9M198.8 126.0h.9M198.0 117.6h.9M201.9 118.7h.9M209.7 118.1h.9M193.0 118.2h.9M200.9 113.6h.9M200.0 121.7h.9M207.3 115.5h.9M197.6 121.7h.9M211.9 118.3h.9M209.5 119.7h.9M204.5 125.0h.9M192.4 118.3h.9M193.5 120.4h.9M216.8 117.6h.9M193.8 121.0h.9M212.4 120.6h.9M204.7 123.9h.9M208.5 111.5h.9M179.9 119.5h.9M201.4 123.2h.9M202.2 122.7h.9M210.4 119.0h.9M212.1 121.6h.9M202.6 125.3h.9M198.5 120.9h.9M206.3 124.1h.9M201.1 116.8h.9M208.4 118.3h.9M195.0 117.8h.9M182.2 114.7h.9M212.3 123.6h.9M206.0 114.6h.9M186.1 122.0h.9M184.0 116.2h.9M194.0 118.9h.9M216.6 120.6h.9M191.3 121.6h.9M181.3 115.8h.9M214.8 116.0h.9M201.3 123.0h.9M190.7 115.7h.9M201.1 122.7h.9M203.5 122.1h.9M204.8 122.1h.9M198.7 117.4h.9M206.1 124.5h.9M200.2 121.9h.9M190.4 118.4h.9M208.5 119.9h.9M188.9 125.7h.9M197.2 121.6h.9M208.9 122.8h.9M206.5 122.8h.9M204.6 121.7h.9M195.9 126.3h.9M194.7 123.0h.9M187.0 119.5h.9M199.5 122.2h.9M210.0 121.0h.9M185.3 125.0h.9M200.3 116.1h.9M210.3 124.2h.9M189.5 118.8h.9M203.7 113.4h.9M193.7 122.3h.9M191.4 119.2h.9M200.7 120.7h.9M195.2 120.9h.9M180.0 119.3h.9M205.4 117.5h.9M198.0 121.5h.9M187.5 123.4h.9M194.7 120.5h.9M191.2 121.7h.9M207.8 119.9h.9M200.2 121.1h.9M207.7 122.4h.9M202.0 116.8h.9M204.0 118.6h.9M202.9 120.5h.9M183.1 121.4h.9M185.1 119.2h.9M188.3 124.8h.9M203.8 122.8h.9M187.8 123.4h.9M194.0 118.7h.9M196.1 120.8h.9M205.8 121.3h.9M200.0 120.5h.9M184.3 117.2h.9M192.6 116.8h.9M208.5 117.5h.9M202.2 121.7h.9M194.6 120.5h.9M216.0 125.2h.9M201.3 119.3h.9M202.3 122.3h.9M185.7 117.4h.9M188.7 116.4h.9M203.0 119.4h.9M195.1 120.9h.9M195.2 115.0h.9M178.3 124.3h.9M209.1 124.7h.9M214.2 116.7h.9M212.7 123.3h.9M210.5 120.8h.9M205.8 121.4h.9M210.6 120.6h.9M211.9 124.2h.9M196.1 118.0h.9M197.8 119.9h.9M210.9 120.2h.9M192.1 118.2h.9M203.8 117.5h.9M200.3 122.5h.9M192.3 122.1h.9M189.0 117.3h.9M196.3 119.5h.9M212.7 123.8h.9M190.6 114.2h.9M197.2 116.2h.9M193.9 117.5h.9M207.8 119.2h.9M189.1 117.7h.9M202.0 114.6h.9M193.6 120.0h.9M204.7 126.7h.9M192.6 117.5h.9M193.1 124.9h.9M203.6 122.0h.9M205.6 121.5h.9M196.7 121.6h.9M205.0 117.8h.9M216.9 122.3h.9M197.7 115.5h.9M198.8 119.2h.9M190.8 120.4h.9M192.1 122.6h.9M198.5 114.6h.9M200.6 114.1h.9M203.9 122.9h.9M195.4 119.2h.9M209.3 120.0h.9M197.6 117.7h.9M210.0 114.1h.9M187.7 121.3h.9M188.3 120.1h.9M202.5 118.8h.9M206.9 125.4h.9M206.5 121.4h.9M190.4 125.4h.9M202.1 119.8h.9M192.4 110.2h.9M185.5 118.2h.9M204.2 113.1h.9M204.3 120.7h.9M207.3 124.2h.9M200.0 113.9h.9M207.3 123.9h.9M214.3 120.4h.9M200.3 121.6h.9M211.3 122.1h.9M189.3 116.8h.9M188.3 119.7h.9M193.6 120.4h.9M195.6 124.5h.9M209.2 125.9h.9M205.4 121.2h.9M189.5 123.0h.9M193.4 119.6h.9M190.3 120.6h.9M205.3 122.4h.9M187.1 116.5h.9M202.9 118.1h.9M190.0 118.8h.9M204.7 121.1h.9M189.1 115.7h.9M204.6 119.2h.9M207.1 121.3h.9M210.1 120.2h.9M184.3 122.2h.9M201.3 123.6h.9M207.1 122.4h.9M191.8 122.4h.9M194.8 120.4h.9M197.9 119.3h.9M196.2 121.5h.9M183.7 118.6h.9M199.8 116.4h.9M196.9 117.1h.9M195.8 121.2h.9M211.9 118.4h.9M197.6 123.3h.9M202.3 123.2h.9M207.1 120.4h.9M197.7 121.7h.9M191.9 117.5h.9M189.1 120.9h.9M206.2 119.9h.9M205.0 122.7h.9M192.1 119.2h.9M212.3 117.5h.9M198.4 117.4h.9M202.6 122.1h.9M196.5 116.4h.9M208.0 121.1h.9M201.8 120.5h.9M202.0 122.4h.9M188.8 128.3h.9M203.5 119.9h.9M197.5 120.7h.9M194.0 118.1h.9M208.7 124.4h.9M204.6 127.3h.9M197.5 125.2h.9M182.6 122.6h.9M205.0 114.4h.9M204.9 119.3h.9M205.3 115.9h.9M201.7 119.8h.9M192.7 120.3h.9M202.3 117.5h.9M188.5 118.2h.9M204.8 119.2h.9M188.1 118.4h.9M199.2 122.2h.9M196.6 120.1h.9M188.0 124.6h.9M189.8 121.7h.9M197.8 119.9h.9M192.4 120.4h.9M205.3 117.9h.9M193.2 118.3h.9M200.4 122.1h.9M201.9 117.7h.9M195.6 120.2h.9M192.1 125.8h.9M193.5 112.6h.9M196.0 128.7h.9M186.3 114.0h.9M194.1 114.2h.9M202.8 116.1h.9M195.8 117.5h.9M190.1 118.6h.9M202.7 112.8h.9M190.9 119.0h.9M192.8 121.8h.9M207.2 118.6h.9M201.2 120.1h.9M190.0 120.5h.9M198.3 124.7h.9M200.4 119.1h.9M203.2 123.3h.9M194.3 121.1h.9M195.4 119.8h.9M201.0 119.9h.9M192.5 121.0h.9M191.6 121.5h.9M203.9 114.4h.9M194.4 118.7h.9M197.9 122.4h.9M197.6 122.8h.9M207.3 122.4h.9M194.7 122.6h.9M198.9 124.5h.9M214.8 116.4h.9M206.0 125.1h.9M194.1 118.5h.9M187.0 117.6h.9M201.3 121.5h.9M198.4 118.3h.9M194.2 114.5h.9M206.5 122.8h.9M195.2 119.5h.9M198.0 119.4h.9M202.1 117.5h.9M186.9 122.8h.9M195.2 118.4h.9M206.7 120.7h.9M193.6 114.7h.9M190.5 117.9h.9M198.0 112.8h.9M202.0 119.3h.9M189.2 121.3h.9M192.8 121.0h.9M208.2 117.1h.9M205.6 122.8h.9M194.3 119.6h.9M209.3 119.8h.9M197.5 120.4h.9M197.6 121.2h.9M202.8 120.2h.9M206.6 119.6h.9M200.5 123.0h.9M193.9 123.4h.9M187.6 122.1h.9M196.2 116.7h.9M207.2 115.9h.9M202.7 118.7h.9M197.7 119.4h.9M188.9 120.6h.9M200.1 116.2h.9M187.9 120.4h.9M202.8 118.1h.9M200.2 119.6h.9M192.0 120.9h.9M194.8 119.1h.9M187.2 122.4h.9M198.2 117.6h.9M186.5 119.5h.9M208.2 122.6h.9M209.3 121.8h.9M197.1 122.7h.9M201.2 121.8h.9M185.1 120.8h.9M203.7 122.7h.9M197.0 123.8h.9M193.3 117.9h.9M198.0 123.1h.9M203.2 121.1h.9M204.8 126.0h.9M195.5 115.2h.9M184.0 118.1h.9M184.0 113.6h.9M192.2 125.6h.9M212.2 119.3h.9M201.6 121.9h.9M190.2 119.6h.9M183.0 122.3h.9M197.3 122.1h.9M197.6 118.8h.9M198.0 115.8h.9M210.4 121.5h.9M202.2 120.2h.9M192.8 119.0h.9M204.7 119.9h.9M206.8 123.0h.9M193.9 118.7h.9M187.1 116.2h.9M198.4 122.4h.9M204.6 124.0h.9M203.1 117.4h.9M193.6 117.3h.9M198.4 116.9h.9M192.2 119.0h.9M202.4 119.3h.9M203.0 125.3h.9M206.5 119.4h.9M196.6 121.2h.9M196.1 117.9h.9M202.2 121.1h.9M192.6 119.2h.9M201.1 116.7h.9M198.4 119.7h.9M197.3 117.6h.9M202.6 122.7h.9M201.4 116.6h.9M195.4 124.0h.9M202.3 124.7h.9M212.1 116.8h.9M179.1 122.1h.9M208.2 118.7h.9M195.9 118.5h.9M193.4 115.8h.9M209.0 120.1h.9M197.5 119.8h.9M199.4 119.0h.9M197.4 118.1h.9M204.6 115.4h.9M195.5 114.3h.9M195.5 121.8h.9M192.2 119.3h.9M196.7 119.6h.9M192.0 122.9h.9M195.7 117.4h.9M202.2 119.4h.9M198.5 116.9h.9M209.2 120.5h.9M204.1 114.2h.9M205.2 118.3h.9M196.5 120.3h.9M200.2 118.2h.9M195.5 117.0h.9M205.4 121.1h.9M192.5 124.1h.9M184.7 121.2h.9M197.9 120.1h.9M190.8 120.7h.9M179.3 118.6h.9M199.8 117.0h.9M202.7 118.5h.9M197.3 115.2h.9M203.0 123.5h.9M200.5 121.1h.9M204.4 122.2h.9M191.5 124.8h.9M200.2 119.9h.9M199.4 119.2h.9M212.5 121.0h.9M209.1 122.0h.9M197.2 122.8h.9M207.7 118.8h.9M206.9 115.7h.9M183.3 116.9h.9M205.8 122.8h.9M199.1 120.7h.9M194.8 119.0h.9M203.1 115.3h.9M189.0 119.9h.9M192.9 114.3h.9M191.0 115.9h.9M194.5 119.4h.9M210.9 116.4h.9M190.9 124.5h.9M192.2 116.8h.9M195.2 119.4h.9M196.5 119.5h.9M185.3 121.5h.9M192.1 120.4h.9M196.0 118.8h.9M201.6 115.6h.9M209.4 118.2h.9M183.7 118.8h.9M202.9 117.2h.9M185.0 122.1h.9M210.5 117.8h.9M200.0 118.4h.9M189.3 116.9h.9M203.1 126.0h.9M210.5 121.2h.9M204.8 118.2h.9M186.6 116.5h.9M185.2 121.1h.9M190.7 118.4h.9M221.4 116.2h.9M217.4 120.3h.9M202.0 122.0h.9M190.7 123.8h.9M176.6 111.3h.9M194.0 119.3h.9M207.0 128.9h.9M207.5 113.1h.9M205.3 122.6h.9M190.7 118.8h.9M206.8 128.3h.9M197.9 129.2h.9M211.7 123.4h.9M203.4 118.8h.9M210.3 112.3h.9M204.5 118.6h.9M193.8 116.7h.9M215.7 122.0h.9M186.3 131.1h.9M209.0 133.3h.9M194.2 123.6h.9M195.2 122.6h.9M203.7 121.0h.9M193.1 123.6h.9M186.5 120.6h.9M187.8 132.4h.9M185.1 117.3h.9M200.4 122.5h.9M204.3 118.1h.9M198.9 127.5h.9M179.4 132.7h.9M201.8 125.8h.9M212.6 123.0h.9M185.0 122.2h.9M188.1 125.3h.9M212.2 119.1h.9M197.8 131.8h.9M214.4 132.5h.9M195.6 128.0h.9M181.1 126.8h.9M199.6 119.5h.9M199.4 132.9h.9M204.0 113.7h.9M188.8 117.6h.9M194.0 134.7h.9M227.0 119.5h.9M192.7 117.1h.9M221.1 112.1h.9M185.2 128.2h.9M203.1 129.1h.9M205.0 123.3h.9M211.6 112.3h.9M200.0 121.5h.9M191.5 117.4h.9M201.5 127.5h.9M180.5 130.8h.9M167.1 124.7h.9M179.7 124.6h.9M220.9 131.3h.9M211.1 132.2h.9M224.5 115.0h.9M206.6 124.8h.9M180.7 115.1h.9M187.0 117.6h.9M204.2 128.9h.9M189.1 115.5h.9M187.5 121.2h.9M185.8 129.6h.9M190.0 124.9h.9M174.9 112.4h.9M205.7 121.6h.9M190.6 120.8h.9M216.8 116.8h.9M221.9 134.4h.9M199.2 122.6h.9M213.9 122.5h.9M214.6 128.4h.9M202.8 123.2h.9M197.7 114.4h.9M217.0 122.3h.9M208.8 124.8h.9M197.7 123.2h.9M193.5 128.6h.9M200.1 127.5h.9M212.4 125.4h.9M209.1 121.4h.9M192.3 122.6h.9M198.1 133.8h.9M202.3 112.6h.9M194.7 129.1h.9M198.9 125.0h.9M187.2 118.3h.9M189.5 122.3h.9M203.9 126.0h.9M203.2 114.1h.9M196.1 123.4h.9M228.6 125.8h.9M197.9 117.1h.9M209.3 123.2h.9M203.8 130.7h.9M193.9 123.6h.9M209.1 117.3h.9M214.5 113.0h.9M200.3 112.0h.9M206.7 128.3h.9M237.3 121.3h.9M188.6 121.9h.9M197.5 121.2h.9M207.6 118.1h.9M200.2 132.8h.9M189.5 126.6h.9M193.8 131.2h.9M197.1 115.3h.9M196.6 126.0h.9M200.9 126.3h.9M220.9 115.7h.9M203.1 117.3h.9M195.3 117.6h.9M209.2 128.5h.9M208.6 123.8h.9M186.3 118.2h.9M192.3 126.6h.9M185.9 118.5h.9M204.6 123.2h.9M211.5 122.0h.9M197.3 117.4h.9M216.3 128.1h.9M192.8 122.8h.9M196.1 108.9h.9M199.4 121.3h.9M202.6 131.3h.9M221.9 109.2h.9M185.8 127.8h.9M207.6 123.8h.9M201.3 115.2h.9M215.6 122.3h.9M182.9 115.7h.9M185.2 113.4h.9M222.5 124.7h.9M216.7 124.1h.9M214.3 111.8h.9M198.7 119.3h.9M214.1 122.6h.9M200.4 113.1h.9M186.1 128.8h.9M198.5 118.1h.9M196.8 124.8h.9M186.8 126.2h.9M192.8 116.9h.9M191.2 124.5h.9M207.1 123.1h.9M212.9 124.8h.9M214.8 119.9h.9M214.5 128.2h.9M186.4 126.6h.9M207.7 131.5h.9M210.8 128.7h.9M205.6 114.4h.9M188.0 119.1h.9M162.4 125.0h.9M202.3 128.3h.9M189.5 118.3h.9M211.9 122.5h.9M181.1 124.3h.9M207.3 121.8h.9M194.6 128.4h.9M183.0 116.6h.9M194.4 125.4h.9M198.3 117.8h.9M211.0 125.0h.9M210.6 117.0h.9M216.3 120.8h.9M210.0 127.9h.9M194.3 116.8h.9M194.5 122.9h.9M202.3 126.2h.9M195.7 121.8h.9M178.7 120.8h.9M173.4 122.5h.9M210.1 117.2h.9M201.7 126.9h.9M225.8 126.7h.9M193.5 132.6h.9M213.7 124.1h.9M202.1 128.8h.9M206.5 119.5h.9M201.1 125.3h.9M214.5 117.0h.9M206.9 123.9h.9M194.0 120.6h.9M198.8 128.1h.9M197.2 110.5h.9M201.2 121.4h.9M203.1 120.7h.9M194.6 126.3h.9M192.6 118.2h.9M200.0 119.9h.9M177.1 129.8h.9M205.4 118.8h.9M205.0 120.2h.9M159.8 129.1h.9M185.9 110.1h.9M199.9 124.8h.9M170.9 124.4h.9M205.8 124.0h.9M213.0 112.0h.9M206.3 114.1h.9M212.4 117.6h.9M198.8 117.4h.9M211.2 126.3h.9M209.2 119.8h.9M198.5 130.7h.9M201.2 122.3h.9M178.4 126.0h.9M182.5 118.5h.9M213.2 118.9h.9M213.6 125.0h.9M189.4 127.6h.9M180.2 118.6h.9M174.3 130.0h.9M215.1 121.0h.9M204.5 131.6h.9M224.9 115.2h.9M216.6 120.4h.9M226.5 126.2h.9M210.9 122.0h.9M192.8 119.1h.9M195.6 126.2h.9M214.5 128.0h.9M181.5 120.1h.9M207.5 126.9h.9M194.7 119.9h.9M216.8 117.8h.9M192.8 130.0h.9M190.5 119.1h.9M212.5 119.6h.9M213.9 116.7h.9M203.8 116.9h.9M192.2 120.9h.9M208.7 123.0h.9M193.7 127.9h.9M208.2 121.3h.9M201.2 118.6h.9M209.9 114.9h.9M187.6 120.6h.9M191.2 119.7h.9M224.0 128.9h.9M204.0 113.0h.9M197.6 112.0h.9M188.2 111.5h.9M193.2 121.0h.9M203.0 124.9h.9M184.2 131.8h.9M199.4 112.9h.9M196.6 123.3h.9M174.4 118.8h.9M200.1 131.8h.9M215.9 124.4h.9M194.3 131.3h.9M197.2 122.2h.9M203.3 128.6h.9M192.1 124.5h.9M177.2 118.6h.9M200.3 127.9h.9M194.1 120.6h.9M191.5 109.2h.9M218.0 121.7h.9M201.4 115.2h.9M190.2 125.4h.9M191.0 131.4h.9M220.7 124.1h.9M210.5 125.6h.9M176.7 115.1h.9M207.8 117.7h.9M193.4 118.9h.9M192.3 133.8h.9M214.6 119.9h.9M209.3 124.0h.9M188.9 111.6h.9M199.7 119.4h.9M208.2 123.1h.9M198.4 121.5h.9M205.3 120.6h.9M190.8 124.9h.9M216.8 125.2h.9M218.9 115.2h.9M191.3 114.5h.9M181.4 125.6h.9M193.8 127.1h.9M211.2 114.3h.9M202.6 126.3h.9M199.2 114.1h.9M202.3 121.3h.9M180.6 129.8h.9M199.4 112.7h.9M198.6 122.3h.9M191.7 121.0h.9M210.3 115.6h.9M191.4 126.8h.9M191.6 116.7h.9M209.1 118.3h.9M208.2 115.8h.9M200.9 124.8h.9M203.0 125.5h.9M205.1 130.3h.9M204.4 120.8h.9M187.2 117.3h.9M210.9 131.0h.9M226.3 118.6h.9M205.0 126.2h.9M196.5 131.8h.9M215.3 126.9h.9M208.2 111.5h.9M190.2 116.0h.9M198.7 117.6h.9M192.5 127.1h.9M213.4 117.6h.9M182.9 126.7h.9M216.4 123.5h.9M191.1 123.1h.9M203.9 122.0h.9M194.3 117.7h.9M205.0 130.3h.9M215.1 122.9h.9M208.2 131.1h.9M184.1 116.8h.9M196.6 112.1h.9M201.8 130.4h.9M224.6 115.2h.9M193.3 122.8h.9M194.8 119.9h.9M189.9 121.2h.9M199.3 120.1h.9M208.6 115.6h.9M187.1 115.0h.9M218.3 123.3h.9M216.5 117.8h.9M210.5 132.2h.9M208.2 122.5h.9M231.9 130.3h.9M186.2 119.2h.9M192.8 126.8h.9M228.1 118.5h.9M184.0 116.4h.9M204.1 120.6h.9M197.8 120.8h.9M187.8 137.4h.9M187.6 114.1h.9M197.2 118.1h.9M203.5 126.2h.9M206.4 121.0h.9M207.7 122.8h.9M200.9 126.6h.9M200.4 121.1h.9M208.0 117.7h.9M191.7 113.9h.9M182.6 121.5h.9M210.9 125.2h.9M172.8 123.2h.9M207.3 128.9h.9M216.7 119.5h.9M183.7 123.6h.9M170.8 117.0h.9M188.8 110.5h.9M204.0 125.4h.9M187.3 119.1h.9M213.5 125.7h.9M208.4 118.2h.9M187.0 112.7h.9M210.0 116.5h.9M181.1 120.1h.9M194.0 117.8h.9M202.9 120.2h.9M217.3 125.2h.9M210.3 121.8h.9M219.6 124.7h.9M181.0 121.0h.9M188.4 116.0h.9M203.6 108.8h.9M220.5 125.4h.9M206.7 128.4h.9M215.8 116.0h.9M183.9 116.2h.9M185.2 116.7h.9M194.1 123.8h.9M192.5 122.4h.9M201.4 120.4h.9M195.7 121.5h.9M184.7 111.9h.9M202.9 121.1h.9M181.5 120.7h.9M190.8 124.7h.9M204.1 117.6h.9M188.1 118.7h.9M199.7 123.1h.9M208.5 137.7h.9M219.4 118.2h.9M215.7 133.9h.9M211.6 116.3h.9M206.5 122.2h.9M183.4 116.3h.9M188.7 130.0h.9M188.5 122.6h.9M192.8 123.0h.9M198.1 128.0h.9M187.4 129.6h.9M194.2 118.0h.9M214.6 123.4h.9M194.1 119.0h.9M174.4 128.8h.9M196.2 109.4h.9M197.9 134.9h.9M195.1 120.5h.9M228.0 109.6h.9M212.1 123.6h.9M222.1 116.9h.9M191.8 122.1h.9M209.8 122.6h.9M203.1 128.3h.9M198.7 111.0h.9M188.8 124.3h.9M202.6 128.8h.9M174.4 114.2h.9M212.4 126.4h.9M236.4 126.7h.9M219.3 118.7h.9M172.3 110.5h.9M202.3 122.8h.9M189.9 119.1h.9M191.7 131.2h.9M196.2 120.5h.9M215.2 126.1h.9M209.3 124.0h.9M188.7 123.1h.9M207.1 114.6h.9M201.8 117.6h.9M226.4 122.5h.9M180.5 121.4h.9M198.2 121.3h.9M187.3 126.5h.9M199.3 122.2h.9M173.2 126.2h.9M187.5 122.5h.9M231.1 125.4h.9M227.9 130.9h.9M224.4 126.2h.9M232.8 122.2h.9M232.8 115.6h.9M232.1 129.4h.9M226.9 131.2h.9M233.7 116.5h.9M230.1 122.1h.9M230.4 125.8h.9M227.4 121.6h.9M228.0 125.2h.9M227.5 119.9h.9M231.1 118.1h.9M227.3 131.0h.9M229.7 110.8h.9M227.8 127.0h.9M225.2 117.1h.9M229.9 122.8h.9M230.2 117.9h.9M230.0 123.6h.9M219.2 118.2h.9M233.4 124.4h.9M229.7 112.7h.9M226.3 115.1h.9M236.6 121.6h.9M229.8 126.8h.9M232.4 116.7h.9M230.2 136.0h.9M221.5 119.9h.9M234.0 127.9h.9M225.7 109.9h.9M233.6 115.6h.9M229.3 115.5h.9M226.7 114.4h.9M221.0 111.5h.9M228.1 119.5h.9M226.2 116.6h.9M229.9 133.7h.9M225.8 122.0h.9M232.3 124.4h.9M227.9 108.0h.9M228.1 132.8h.9M236.8 133.1h.9M232.5 114.8h.9M227.4 115.1h.9M231.1 117.1h.9M224.0 132.3h.9M227.1 113.2h.9M229.1 115.3h.9M227.1 111.4h.9M226.2 124.4h.9M232.0 128.3h.9M227.6 115.7h.9M226.9 130.4h.9M227.6 123.5h.9M227.4 116.6h.9M232.5 126.3h.9M230.8 131.3h.9M224.4 131.3h.9M234.5 126.1h.9M233.6 131.7h.9M228.7 122.5h.9M226.2 124.7h.9M229.8 134.9h.9M227.7 121.7h.9M231.6 116.9h.9M229.6 114.1h.9M234.2 118.9h.9M224.0 109.5h.9M227.5 116.0h.9M230.7 114.6h.9M228.0 121.3h.9M228.2 113.0h.9M225.6 121.7h.9M236.5 122.5h.9M229.1 128.0h.9M232.2 129.7h.9M227.0 133.4h.9M228.1 120.8h.9M229.5 113.0h.9M235.5 127.9h.9M234.6 125.4h.9M237.1 119.5h.9M235.1 128.3h.9M235.0 136.2h.9M229.0 125.2h.9M227.3 119.7h.9M234.3 124.1h.9M227.2 116.3h.9M231.6 136.4h.9M227.6 114.2h.9M226.0 115.5h.9M229.9 129.7h.9M226.6 121.3h.9M228.6 114.1h.9M232.8 129.1h.9M229.0 130.6h.9M233.2 111.3h.9M228.1 127.1h.9M230.9 129.5h.9M226.2 135.5h.9M234.4 126.0h.9M222.5 127.9h.9M230.7 123.4h.9M231.7 127.6h.9M220.5 134.6h.9M223.9 127.7h.9M224.3 118.4h.9M229.4 122.2h.9M228.8 136.3h.9M228.5 114.0h.9M231.9 118.5h.9M237.7 118.1h.9M226.1 131.8h.9M231.0 116.6h.9M229.9 119.8h.9M233.5 122.3h.9M222.2 126.6h.9M224.0 127.0h.9M225.9 114.8h.9M225.9 114.8h.9M230.5 112.8h.9M228.0 130.6h.9M222.6 120.9h.9M227.1 123.9h.9M224.0 122.7h.9M227.0 112.4h.9M229.0 111.3h.9M226.9 114.9h.9M234.0 136.1h.9M237.6 120.0h.9M231.4 126.1h.9M224.2 115.6h.9M234.7 140.6h.9M237.1 123.3h.9M229.0 111.8h.9M231.0 119.3h.9M233.5 124.9h.9M230.4 129.6h.9M234.1 120.2h.9M231.6 127.2h.9M227.5 124.6h.9M228.0 124.1h.9M228.8 119.8h.9M227.3 125.3h.9M234.3 130.3h.9M230.8 122.6h.9M229.0 120.3h.9M229.9 127.4h.9M233.3 127.2h.9M235.4 112.6h.9M230.3 130.2h.9M227.6 111.6h.9M225.5 130.8h.9M235.9 124.9h.9M231.0 119.3h.9M227.6 117.9h.9M229.3 123.8h.9M225.7 119.9h.9M234.4 110.8h.9M230.8 130.0h.9M228.4 112.1h.9M224.5 121.4h.9M237.1 119.3h.9M230.1 133.3h.9M221.8 112.0h.9M227.6 129.4h.9M229.6 125.8h.9M230.2 102.6h.9M225.8 112.8h.9M233.7 117.8h.9M231.7 115.3h.9M229.8 124.0h.9M227.3 126.4h.9M223.4 129.8h.9M228.0 117.5h.9M228.9 126.1h.9M225.5 120.9h.9M230.7 126.1h.9M232.5 122.1h.9M228.0 122.4h.9M228.2 120.3h.9M229.6 126.1h.9M235.5 123.3h.9M234.7 115.9h.9M223.8 108.2h.9M227.9 129.4h.9M238.6 127.8h.9M228.5 122.0h.9M235.8 130.6h.9M231.4 122.2h.9M234.1 121.7h.9M228.4 119.6h.9M230.0 131.4h.9M231.6 135.0h.9M229.6 121.2h.9M229.5 118.3h.9M234.7 129.9h.9M229.1 128.8h.9M234.3 127.0h.9M227.6 112.8h.9M228.6 124.7h.9M232.2 123.9h.9M231.5 120.6h.9M233.1 125.8h.9M229.8 121.6h.9M229.6 125.4h.9M228.0 122.6h.9M224.1 120.7h.9M228.2 134.4h.9M233.3 122.4h.9M229.5 126.9h.9M230.4 129.1h.9M234.1 116.2h.9M226.5 121.4h.9M230.9 116.7h.9M227.7 121.5h.9M233.7 114.6h.9M224.5 128.7h.9M228.5 122.7h.9M227.9 114.3h.9M228.5 125.9h.9M227.7 115.9h.9M236.3 112.9h.9M228.9 125.6h.9M229.2 123.0h.9M224.6 117.7h.9M225.0 127.6h.9M227.0 125.8h.9M225.4 123.9h.9M231.5 129.7h.9M227.6 124.8h.9M228.1 131.3h.9M229.2 125.1h.9M226.5 125.0h.9M225.3 103.4h.9M227.3 120.4h.9M230.4 135.8h.9M229.3 118.8h.9M226.7 121.8h.9M235.3 119.7h.9M231.0 110.4h.9M232.0 126.8h.9M235.1 135.6h.9M226.5 134.1h.9M233.0 121.2h.9M230.6 116.6h.9M230.7 119.0h.9M224.4 126.2h.9M226.9 120.0h.9M229.7 128.1h.9M229.5 124.7h.9M235.1 114.3h.9M228.4 114.9h.9M230.6 128.5h.9M228.6 128.5h.9M225.2 122.8h.9M228.5 132.8h.9M230.1 122.3h.9M235.8 120.7h.9M234.0 122.4h.9M227.8 126.5h.9M226.6 107.1h.9M229.6 123.7h.9M227.7 123.7h.9M238.3 117.0h.9M232.7 116.9h.9M229.5 131.1h.9M227.9 119.5h.9M226.0 120.7h.9M229.4 129.0h.9M220.8 114.3h.9M228.4 139.6h.9M228.1 117.6h.9M235.0 118.4h.9M223.6 112.8h.9M232.9 118.5h.9M228.6 116.2h.9M232.5 119.5h.9M227.2 115.1h.9M231.2 106.3h.9M232.7 130.7h.9M238.6 127.8h.9M226.9 127.1h.9M229.3 126.3h.9M229.4 126.7h.9M227.7 117.8h.9M229.9 118.6h.9M228.6 114.4h.9M223.8 136.6h.9M230.7 119.9h.9M224.7 123.0h.9M229.5 115.7h.9M233.3 120.9h.9M225.3 125.9h.9M229.3 124.9h.9M230.5 114.3h.9M229.6 127.8h.9M228.1 117.3h.9M229.8 111.9h.9M232.1 128.8h.9M226.3 124.9h.9M229.2 121.0h.9M232.3 117.3h.9M227.7 127.8h.9M225.6 120.8h.9M232.4 117.9h.9M232.2 126.4h.9M233.1 124.5h.9M229.7 114.4h.9M227.5 131.1h.9M235.0 111.2h.9M234.1 117.1h.9M232.6 125.1h.9M228.1 122.0h.9M230.2 128.0h.9M226.7 126.5h.9M226.2 106.4h.9M230.1 131.7h.9M230.9 119.2h.9M231.7 122.6h.9M230.1 117.4h.9M236.9 115.2h.9M226.4 127.0h.9M234.3 125.9h.9M228.4 124.3h.9M233.0 118.2h.9M226.6 133.4h.9M237.4 125.2h.9M234.8 126.7h.9M224.3 123.2h.9M234.3 124.7h.9M230.5 130.6h.9M233.0 129.8h.9M229.8 130.3h.9M229.4 123.5h.9M225.0 123.6h.9M228.2 114.8h.9M229.8 121.4h.9M224.0 118.9h.9M226.4 117.0h.9M229.9 122.7h.9M231.4 123.2h.9M228.3 117.8h.9M234.7 111.1h.9M228.1 120.9h.9M232.0 122.7h.9M234.4 124.8h.9M227.2 116.6h.9M233.9 113.7h.9M229.4 110.1h.9M226.9 122.5h.9M235.5 118.6h.9M235.6 126.6h.9M228.8 112.9h.9M233.6 131.6h.9M233.4 121.3h.9M229.9 121.1h.9M237.6 123.6h.9M229.5 127.3h.9M227.7 128.0h.9M230.0 110.0h.9M229.6 118.7h.9M228.4 125.6h.9M229.0 126.5h.9M225.3 124.1h.9M232.1 116.5h.9M225.2 125.4h.9M233.8 121.3h.9M232.4 122.6h.9M228.6 130.9h.9M228.6 121.8h.9M227.7 125.7h.9M230.0 132.5h.9M236.1 129.4h.9M231.1 114.1h.9M228.5 115.3h.9M236.1 109.0h.9M228.6 129.8h.9M228.8 121.4h.9M237.5 118.9h.9M232.3 122.0h.9M234.2 114.6h.9M232.2 126.4h.9M231.9 116.5h.9M232.4 128.7h.9M232.7 124.3h.9M237.7 122.1h.9M225.9 126.3h.9M221.7 120.9h.9M229.0 122.4h.9M224.8 130.8h.9M230.6 134.0h.9M225.9 126.3h.9M230.1 132.1h.9M233.9 111.9h.9M228.2 123.5h.9M227.4 122.5h.9M232.8 119.4h.9M227.4 126.2h.9M229.7 135.7h.9M229.5 126.2h.9M225.5 130.3h.9M233.3 132.0h.9M226.2 131.7h.9M233.1 123.2h.9M231.3 118.6h.9M226.3 130.5h.9M228.8 128.7h.9M233.0 119.7h.9M229.0 133.7h.9M237.7 117.2h.9M226.5 114.5h.9M234.2 122.4h.9M224.2 113.9h.9M229.1 121.8h.9M233.5 122.4h.9M223.3 118.9h.9M230.9 123.3h.9M226.1 114.3h.9M225.3 107.5h.9M227.4 128.3h.9M228.0 129.0h.9M228.2 128.6h.9M227.9 120.0h.9M226.9 125.9h.9M220.8 120.6h.9M234.7 130.8h.9M237.3 114.9h.9M231.5 124.7h.9M229.0 119.7h.9M226.5 127.6h.9M230.9 123.3h.9M230.9 110.9h.9M226.8 120.7h.9M229.3 116.2h.9M232.5 125.9h.9M231.0 128.6h.9M229.8 114.8h.9M230.4 125.7h.9M227.4 116.0h.9M229.7 119.4h.9M230.2 123.9h.9M227.3 131.0h.9M229.5 126.0h.9M233.1 127.2h.9M233.6 119.6h.9M222.2 121.8h.9M224.9 127.0h.9M233.4 123.9h.9M231.4 123.9h.9M231.5 125.5h.9M225.0 133.9h.9M230.2 132.0h.9M232.0 132.4h.9M231.4 125.5h.9M227.4 117.7h.9M227.9 115.0h.9M231.0 123.9h.9M230.6 116.2h.9M234.5 109.9h.9M222.0 120.9h.9M227.8 137.8h.9M234.3 123.0h.9M225.9 123.9h.9M230.3 122.5h.9M235.0 124.0h.9M226.4 114.0h.9M231.1 124.7h.9M236.7 128.3h.9M225.4 124.7h.9M222.9 124.9h.9M233.6 123.2h.9M228.2 127.8h.9M229.7 115.4h.9M230.2 109.7h.9M234.3 119.7h.9M228.9 122.8h.9M233.4 127.1h.9M232.6 118.0h.9M229.9 124.1h.9M233.6 122.7h.9M231.0 127.8h.9M229.6 119.8h.9M222.9 127.9h.9M225.8 121.1h.9M226.3 121.9h.9M228.4 119.9h.9M230.5 118.2h.9M229.1 118.7h.9M237.9 115.7h.9M228.1 127.7h.9M226.1 125.6h.9M229.9 122.1h.9M228.4 123.6h.9M228.2 123.1h.9M233.1 132.9h.9M231.0 128.8h.9M233.9 120.7h.9M226.1 127.5h.9M232.0 111.9h.9M229.9 119.6h.9M227.7 117.7h.9M224.3 125.0h.9M229.6 119.2h.9M225.8 117.6h.9M232.4 118.0h.9M231.5 113.3h.9M231.6 114.0h.9M239.7 116.3h.9M234.3 125.3h.9M222.7 124.5h.9M232.0 127.8h.9M230.6 133.9h.9M230.6 128.8h.9M228.1 110.7h.9M233.1 118.6h.9M219.9 132.8h.9M225.1 123.8h.9M232.0 125.3h.9M230.5 124.2h.9M233.1 113.6h.9M228.5 125.5h.9M227.9 121.7h.9M232.6 116.2h.9M230.4 125.2h.9M223.7 134.1h.9M233.2 121.5h.9M226.0 114.2h.9M233.0 121.9h.9M230.5 116.7h.9M231.9 106.6h.9M233.5 119.4h.9M226.2 125.2h.9M232.2 116.3h.9M229.6 122.0h.9M228.9 121.7h.9M229.9 119.6h.9M228.0 120.0h.9M230.0 120.5h.9M230.7 120.8h.9M227.6 121.7h.9M233.7 126.0h.9M230.2 119.3h.9M225.9 117.1h.9M231.5 125.8h.9M231.7 118.1h.9M224.8 136.7h.9M230.9 120.9h.9M228.5 135.7h.9M230.7 124.3h.9M229.2 124.6h.9M231.2 128.5h.9M230.5 125.4h.9M221.8 121.7h.9M230.1 120.3h.9M231.8 116.5h.9M232.4 116.2h.9M234.2 128.2h.9M231.0 106.5h.9M234.5 133.9h.9M232.9 128.7h.9M228.2 120.5h.9M227.4 134.0h.9M234.4 135.0h.9M232.3 129.9h.9M223.6 106.5h.9M226.1 109.2h.9M234.0 126.8h.9M230.4 114.6h.9M223.7 125.1h.9M231.4 119.7h.9M233.4 125.0h.9M232.2 120.2h.9M229.7 122.4h.9M229.1 111.1h.9M228.0 122.0h.9M228.0 116.4h.9M230.8 129.2h.9M238.8 117.8h.9M229.2 126.1h.9M224.6 121.2h.9M229.5 116.7h.9M228.8 123.1h.9M228.9 121.3h.9M223.9 127.3h.9M229.6 116.0h.9M227.5 114.4h.9M230.0 126.8h.9M224.3 123.8h.9M230.0 130.0h.9M225.5 131.1h.9M226.9 109.8h.9M227.5 123.8h.9M227.9 123.1h.9M227.9 122.6h.9M227.8 128.3h.9M227.6 135.0h.9M227.3 120.9h.9M227.8 121.2h.9M228.6 126.4h.9M236.5 127.0h.9M233.1 121.2h.9M227.7 127.8h.9M225.0 131.1h.9M233.9 118.5h.9M229.8 130.4h.9M231.1 116.8h.9M234.0 130.5h.9M223.0 116.1h.9M227.7 116.3h.9M230.5 112.9h.9M234.8 119.9h.9M229.5 121.6h.9M230.1 120.9h.9M229.7 119.4h.9M229.7 120.2h.9M230.4 118.6h.9M227.8 119.3h.9M227.3 122.8h.9M228.5 118.1h.9M232.0 122.8h.9M234.0 114.6h.9M230.3 112.9h.9M228.9 126.9h.9M234.2 116.5h.9M231.8 122.4h.9M232.4 115.1h.9M229.4 111.8h.9M228.3 112.7h.9M231.6 115.8h.9M229.3 130.3h.9M234.0 117.0h.9M226.7 123.2h.9M231.0 119.1h.9M229.9 122.4h.9M226.2 113.6h.9M228.6 128.9h.9M226.1 123.0h.9M228.6 118.6h.9M228.9 127.0h.9M239.2 111.4h.9M226.1 116.9h.9M232.1 124.0h.9M228.2 132.1h.9M231.1 118.3h.9M228.6 133.7h.9M227.0 129.6h.9M234.9 115.8h.9M233.8 125.1h.9M223.7 129.3h.9M229.3 115.3h.9M228.6 131.7h.9M224.2 111.4h.9M230.4 131.0h.9M231.6 129.4h.9M230.0 132.9h.9M231.5 127.4h.9M236.1 123.7h.9M228.2 111.3h.9M234.3 133.6h.9M237.6 126.2h.9M219.5 127.5h.9M229.0 118.0h.9M234.7 107.0h.9M231.1 125.1h.9M227.7 116.0h.9M234.9 121.7h.9M233.0 125.6h.9M224.2 113.2h.9M232.8 124.9h.9M229.2 116.8h.9M230.6 118.1h.9M225.7 127.0h.9M231.8 112.1h.9M230.4 118.0h.9M226.5 120.2h.9M228.7 128.6h.9M234.9 121.3h.9M235.3 126.3h.9M224.6 114.5h.9M231.7 111.8h.9M228.8 120.8h.9M228.1 132.3h.9M230.8 125.3h.9M235.3 118.9h.9M231.8 117.6h.9M226.5 130.8h.9M230.1 126.1h.9M231.5 112.2h.9M233.8 108.7h.9M229.7 134.7h.9M230.4 122.9h.9M230.7 121.9h.9M232.2 124.2h.9M223.2 121.2h.9M234.8 120.8h.9M231.0 121.4h.9M229.9 108.5h.9M226.0 119.6h.9M230.8 118.7h.9M236.9 129.0h.9M227.8 128.4h.9M224.1 119.3h.9M231.5 121.0h.9M230.0 122.3h.9M229.7 135.0h.9M224.5 129.0h.9M231.4 117.3h.9M232.2 131.5h.9M214.6 115.6h.9M230.5 129.4h.9M232.6 122.5h.9M226.7 114.0h.9M222.3 118.9h.9M230.2 120.6h.9M237.5 129.0h.9M231.2 130.6h.9M237.9 110.1h.9M231.1 118.6h.9M229.1 129.0h.9M227.1 125.2h.9M235.0 125.3h.9M225.2 126.2h.9M227.7 126.9h.9M228.4 130.5h.9M231.0 119.2h.9M230.1 106.9h.9M224.6 125.1h.9M225.7 117.6h.9M236.0 110.7h.9M230.2 122.2h.9M229.9 116.8h.9M228.7 121.4h.9M230.9 108.1h.9M227.2 125.3h.9M233.9 121.4h.9M233.0 123.0h.9M229.9 116.9h.9M233.2 116.4h.9M229.3 128.1h.9M228.4 126.0h.9M233.5 120.0h.9M229.6 113.7h.9M227.0 125.2h.9M235.6 118.4h.9M229.3 127.4h.9M231.5 117.1h.9M235.3 122.9h.9M225.4 124.1h.9M228.8 118.1h.9M233.4 125.3h.9M228.9 112.6h.9M228.3 130.5h.9M229.4 118.9h.9M228.9 118.9h.9M228.8 120.5h.9M231.4 119.3h.9M230.3 117.0h.9M236.1 123.0h.9M231.1 117.6h.9M235.9 119.7h.9M230.4 122.8h.9M236.2 120.3h.9M229.5 116.4h.9M234.3 127.0h.9M230.5 134.7h.9M235.7 117.7h.9M227.2 127.5h.9M228.3 117.0h.9M231.4 119.9h.9M226.5 114.5h.9M235.2 117.9h.9M229.3 116.7h.9M231.9 121.0h.9M233.6 119.5h.9M232.1 136.1h.9M227.4 116.0h.9M225.2 125.8h.9M224.0 127.2h.9M226.8 110.1h.9M227.3 110.5h.9M227.1 127.5h.9M231.6 114.0h.9M225.1 119.7h.9M224.2 104.3h.9M230.6 114.7h.9M236.3 120.2h.9M226.7 129.3h.9M229.5 135.3h.9M229.8 117.8h.9M233.8 131.5h.9M233.0 121.9h.9M228.4 120.4h.9M233.2 120.5h.9M230.2 120.4h.9M232.8 111.9h.9M236.4 121.4h.9M222.2 114.5h.9M224.9 124.2h.9M225.1 140.0h.9M225.5 113.3h.9M230.3 133.0h.9M230.4 114.5h.9M236.1 119.8h.9M235.0 128.8h.9M231.0 125.4h.9M229.5 129.9h.9M232.3 131.0h.9M231.4 120.2h.9M228.2 118.5h.9M232.4 126.2h.9M228.1 125.4h.9M229.6 133.4h.9M229.4 107.8h.9M227.8 128.8h.9M227.6 125.4h.9M230.1 120.1h.9M229.5 116.7h.9M225.5 116.8h.9M235.8 116.9h.9M235.9 132.8h.9M235.7 122.2h.9M234.1 120.3h.9M229.5 122.4h.9M226.5 125.8h.9M226.3 127.1h.9M223.7 122.0h.9M228.7 120.8h.9M223.8 117.0h.9M230.3 121.8h.9M230.8 121.2h.9M228.0 118.0h.9M227.9 120.0h.9M229.6 130.4h.9M231.9 127.4h.9M228.7 124.0h.9M235.8 130.1h.9M226.7 122.9h.9M227.7 129.8h.9M228.1 122.0h.9M229.1 131.7h.9M230.6 125.7h.9M231.8 120.1h.9M228.7 114.3h.9M235.4 123.0h.9M223.3 123.1h.9M230.8 114.9h.9M230.0 120.7h.9M225.0 118.2h.9M224.8 124.0h.9M230.2 113.6h.9M233.8 122.0h.9M231.2 134.9h.9M229.5 128.6h.9M228.7 122.0h.9M228.0 132.3h.9M228.4 119.7h.9M232.0 127.7h.9M233.5 124.2h.9M231.7 119.3h.9M227.3 125.5h.9M231.8 137.9h.9M233.4 116.5h.9M223.3 116.3h.9M230.9 133.5h.9M227.8 117.9h.9M230.1 121.4h.9M225.3 119.2h.9M226.0 117.2h.9M229.3 125.4h.9M227.8 115.5h.9M228.0 115.3h.9M226.6 120.5h.9M231.2 125.8h.9M233.5 131.7h.9M226.3 122.0h.9M230.6 128.3h.9M228.2 131.3h.9M230.6 125.3h.9M233.6 127.8h.9M230.6 120.8h.9M229.3 111.5h.9M226.0 127.4h.9M233.6 114.7h.9M235.4 125.9h.9M223.0 116.7h.9M231.7 114.4h.9M229.1 121.4h.9M225.2 113.7h.9M235.7 122.7h.9M231.5 120.9h.9M237.0 120.7h.9M226.9 132.3h.9M228.1 127.6h.9M224.5 120.6h.9M229.9 127.6h.9M223.8 124.9h.9M228.6 120.0h.9M233.7 113.2h.9M231.5 117.4h.9M233.1 135.2h.9M230.1 122.5h.9M232.4 125.9h.9M229.3 133.6h.9M225.3 117.4h.9M231.4 129.4h.9M229.5 105.2h.9M226.9 115.3h.9M225.8 107.7h.9M233.9 122.1h.9M223.9 122.3h.9M226.8 117.3h.9M230.9 117.9h.9M230.5 124.9h.9M224.4 125.7h.9M233.5 116.2h.9M229.3 116.9h.9M224.5 123.5h.9M233.4 120.0h.9M229.3 121.0h.9M223.2 120.2h.9M220.4 110.6h.9M229.1 124.7h.9M227.5 123.7h.9M230.6 125.9h.9M230.2 126.9h.9M226.9 134.4h.9M231.2 119.5h.9M230.4 123.6h.9M226.0 131.3h.9M232.4 119.7h.9M230.4 129.9h.9M229.0 118.9h.9M230.9 119.2h.9M226.8 115.0h.9M226.9 121.3h.9M229.3 136.1h.9M226.4 134.5h.9M235.0 122.8h.9M230.5 125.7h.9M232.2 130.0h.9M235.9 115.1h.9M234.7 119.5h.9M237.0 121.0h.9M226.7 109.7h.9M235.5 117.0h.9M228.3 118.0h.9M229.0 120.0h.9M230.5 120.8h.9M230.0 106.9h.9M229.7 125.1h.9M230.8 118.8h.9M235.1 125.3h.9M222.1 126.1h.9M224.7 120.9h.9M225.2 134.1h.9M230.8 110.6h.9M230.2 121.7h.9M231.1 122.6h.9M236.4 131.7h.9M229.9 121.4h.9M224.8 125.7h.9M231.3 123.3h.9M236.1 135.8h.9M236.7 119.8h.9M229.6 116.0h.9M230.3 118.7h.9M231.0 124.9h.9M231.9 131.6h.9M229.3 106.2h.9M228.1 113.4h.9M235.2 131.6h.9M235.2 119.2h.9M229.9 117.1h.9M227.8 118.9h.9M227.6 116.1h.9M225.8 114.8h.9M225.5 122.6h.9M228.8 116.9h.9M227.3 133.6h.9M230.8 105.2h.9M228.0 125.6h.9M226.6 117.3h.9M228.4 133.3h.9M221.0 115.4h.9M231.1 125.4h.9M228.9 133.0h.9M234.6 125.8h.9M228.2 117.8h.9M229.3 120.8h.9M226.6 123.4h.9M237.1 131.9h.9M230.8 123.0h.9M234.1 126.2h.9M228.6 114.6h.9M231.8 122.5h.9M226.5 130.5h.9M227.6 120.1h.9M228.7 118.8h.9M226.7 119.5h.9M232.3 129.8h.9M232.7 125.5h.9M233.9 124.7h.9M226.6 117.1h.9M227.7 110.1h.9M229.6 129.2h.9M232.0 119.1h.9M225.3 127.8h.9M228.8 125.5h.9M233.3 118.1h.9M230.1 114.6h.9M229.4 128.3h.9M225.8 107.7h.9M228.6 106.3h.9M232.2 132.6h.9M233.3 116.4h.9M223.9 123.2h.9M231.1 129.2h.9M228.4 136.1h.9M226.4 115.1h.9M236.1 120.8h.9M232.0 128.1h.9M225.9 121.9h.9M226.1 116.6h.9M230.3 128.4h.9M224.5 110.4h.9M228.9 128.6h.9M231.4 121.6h.9M225.0 121.9h.9M230.3 117.3h.9M231.2 120.2h.9M227.3 129.0h.9M230.9 123.6h.9M231.9 129.5h.9M231.1 125.9h.9M227.3 119.3h.9M232.6 120.1h.9M228.5 122.2h.9M230.3 118.9h.9M229.8 131.4h.9M229.6 114.1h.9M222.6 133.5h.9M233.2 117.2h.9M231.3 115.9h.9M230.1 121.7h.9M231.7 113.2h.9M228.1 133.1h.9M229.1 133.0h.9M231.4 131.6h.9M222.1 133.8h.9M227.0 130.4h.9M227.5 109.5h.9M228.5 126.4h.9M227.7 117.1h.9M226.9 127.7h.9M230.4 120.0h.9M232.3 118.9h.9M231.2 115.7h.9M233.2 125.8h.9M231.4 129.3h.9M234.7 114.6h.9M235.1 124.4h.9M228.0 125.0h.9M226.8 121.2h.9M227.5 120.6h.9M228.4 129.9h.9M232.1 130.8h.9M231.4 126.9h.9M230.3 126.7h.9M227.3 127.1h.9M228.1 118.0h.9M228.9 121.5h.9M230.4 122.2h.9M219.1 115.7h.9M230.5 127.3h.9M231.3 134.7h.9M227.1 135.7h.9M234.6 120.4h.9M232.3 118.7h.9M232.0 116.5h.9M224.1 126.5h.9M232.4 121.4h.9M230.1 129.8h.9M230.3 114.6h.9M221.6 123.0h.9M224.2 117.9h.9M228.5 123.7h.9M224.9 120.5h.9M234.2 109.5h.9M225.7 127.5h.9M232.2 122.3h.9M230.9 123.1h.9M239.5 121.4h.9M229.8 115.6h.9M234.8 122.2h.9M228.1 127.2h.9M225.6 133.2h.9M230.9 123.4h.9M234.1 118.3h.9M227.7 129.9h.9M233.3 120.6h.9M231.7 120.4h.9M229.7 121.9h.9M230.4 126.1h.9M230.1 113.8h.9M227.5 122.7h.9M230.2 121.6h.9M231.1 119.1h.9M227.1 133.3h.9M220.5 111.4h.9M231.9 121.8h.9M227.3 123.3h.9M231.6 123.4h.9M226.7 131.9h.9M231.0 107.9h.9M228.9 119.7h.9M228.5 116.1h.9M229.5 112.5h.9M230.9 117.9h.9M223.5 124.7h.9M234.0 120.1h.9M233.2 135.0h.9M230.8 111.8h.9M223.9 124.2h.9M232.6 124.0h.9M229.7 122.8h.9M235.4 126.3h.9M228.0 120.4h.9M229.0 125.5h.9M233.1 120.5h.9M222.1 118.9h.9M228.3 116.0h.9M229.0 119.3h.9M221.5 127.0h.9M226.3 118.9h.9M230.5 127.0h.9M230.8 120.9h.9M235.5 122.2h.9M233.0 130.9h.9M225.0 114.5h.9M232.4 121.7h.9M231.0 128.3h.9M230.1 126.1h.9M225.7 124.9h.9M236.2 131.7h.9M235.9 119.4h.9M230.7 123.2h.9M226.8 134.2h.9M225.7 114.7h.9M225.7 126.1h.9M232.8 126.5h.9M223.7 124.7h.9M233.7 125.4h.9M229.1 117.0h.9M230.9 123.6h.9M232.4 121.8h.9M238.1 125.1h.9M232.3 123.7h.9M229.1 134.9h.9M231.0 129.3h.9M230.2 136.7h.9M229.8 129.4h.9M230.1 125.6h.9M226.2 127.7h.9M230.8 131.5h.9M224.9 117.4h.9M233.7 112.8h.9M228.4 113.3h.9M225.6 127.8h.9M232.0 120.5h.9M232.1 120.8h.9M230.1 123.5h.9M224.4 128.0h.9M225.1 120.1h.9M231.6 117.4h.9M237.7 119.5h.9M230.6 127.8h.9M230.8 121.5h.9M231.8 126.7h.9M226.7 129.4h.9M233.6 121.0h.9M227.5 117.3h.9M229.9 114.6h.9M226.9 119.2h.9M225.5 115.8h.9M227.0 123.9h.9M226.5 114.0h.9M228.3 123.7h.9M235.2 119.8h.9M230.8 127.8h.9M227.8 115.3h.9M231.2 123.2h.9M227.7 127.2h.9M233.7 111.9h.9M232.5 124.8h.9M228.5 118.8h.9M229.6 116.3h.9M230.0 112.4h.9M226.2 122.8h.9M225.7 118.4h.9M229.3 119.9h.9M226.6 127.2h.9M229.7 102.3h.9M232.8 128.2h.9M229.0 137.4h.9M231.8 121.8h.9M236.0 119.7h.9M228.3 121.6h.9M234.8 128.2h.9M226.9 138.5h.9M225.8 116.8h.9M230.4 102.1h.9M229.2 124.2h.9M224.6 121.7h.9M234.3 121.2h.9M232.8 120.8h.9M226.4 107.8h.9M229.1 124.3h.9M229.5 117.4h.9M225.4 124.1h.9M230.9 119.0h.9M225.0 116.2h.9M223.7 110.1h.9M234.9 131.4h.9M227.6 121.7h.9M227.1 124.5h.9M229.0 132.5h.9M227.3 125.6h.9M237.4 123.8h.9M231.4 106.9h.9M232.7 129.8h.9M232.9 128.1h.9M237.3 114.8h.9M221.9 112.1h.9M232.5 124.7h.9M230.4 121.1h.9M230.1 131.8h.9M233.9 113.4h.9M232.0 121.7h.9M223.7 126.4h.9M230.7 125.2h.9M229.2 113.9h.9M233.7 112.7h.9M222.5 119.1h.9M232.1 136.3h.9M230.3 116.8h.9M232.1 119.1h.9M231.2 127.9h.9M222.4 125.2h.9M232.2 131.3h.9M229.7 117.6h.9M227.0 117.7h.9M233.1 127.6h.9M229.6 120.6h.9M235.6 122.1h.9M233.6 115.4h.9M225.9 117.0h.9M232.6 116.9h.9M229.8 118.0h.9M229.7 117.4h.9M229.3 120.0h.9M233.4 119.8h.9M227.0 129.3h.9M231.3 133.9h.9M224.4 119.9h.9M230.9 132.5h.9M225.3 125.4h.9M225.3 107.3h.9M229.6 124.0h.9M225.8 112.6h.9M233.7 129.4h.9M225.9 118.7h.9M235.5 132.6h.9M232.7 131.6h.9M230.1 118.9h.9M232.0 115.7h.9M230.5 129.3h.9M238.2 116.4h.9M231.6 121.6h.9M227.7 128.7h.9M231.2 121.4h.9M228.6 126.9h.9M229.6 135.0h.9M227.7 124.5h.9M227.9 126.9h.9M232.8 118.4h.9M229.7 104.5h.9M232.5 123.3h.9M228.7 122.4h.9M229.5 125.8h.9M228.1 122.5h.9M234.4 118.2h.9M235.6 118.3h.9M229.5 122.8h.9M233.0 116.3h.9M224.7 113.2h.9M225.3 124.0h.9M232.4 122.1h.9M223.7 126.0h.9M233.4 121.3h.9M236.0 116.1h.9M229.5 119.6h.9M225.1 127.8h.9M226.7 133.6h.9M226.8 120.4h.9M232.9 125.2h.9M226.2 117.4h.9M227.0 112.6h.9M235.4 118.5h.9M225.5 120.7h.9M227.6 120.2h.9M234.7 117.0h.9M238.7 123.4h.9M224.0 129.8h.9M221.3 118.7h.9M227.4 124.9h.9M230.6 126.1h.9M229.7 128.9h.9M227.9 126.6h.9M225.3 128.8h.9M232.9 122.8h.9M228.0 113.9h.9M227.5 115.2h.9M230.0 119.4h.9M235.1 115.9h.9M230.5 117.3h.9M239.1 121.0h.9M228.7 122.1h.9M232.1 119.6h.9M222.2 124.6h.9M227.6 135.0h.9M229.8 115.9h.9M227.4 118.7h.9M227.1 114.7h.9M227.9 129.7h.9M226.4 128.1h.9M228.0 113.6h.9M230.2 125.5h.9M231.2 113.2h.9M226.0 124.9h.9M229.2 122.5h.9M227.0 122.8h.9M233.2 110.8h.9M236.1 123.6h.9M230.6 123.6h.9M231.4 131.1h.9M229.0 123.2h.9M231.7 122.1h.9M229.2 117.8h.9M225.4 126.0h.9M234.4 127.8h.9M238.0 127.4h.9M232.2 128.4h.9M229.9 121.4h.9M231.6 113.2h.9M236.0 123.0h.9M228.3 132.0h.9M232.6 130.7h.9M230.6 118.0h.9M222.1 136.1h.9M228.7 131.6h.9M232.0 128.1h.9M231.2 116.1h.9M229.5 127.0h.9M225.5 128.8h.9M230.9 137.1h.9M230.6 119.7h.9M231.9 120.8h.9M236.4 130.4h.9M230.1 130.2h.9M233.9 128.5h.9M231.7 119.3h.9M239.9 118.4h.9M231.8 124.3h.9M226.4 128.6h.9M225.6 117.9h.9M231.8 112.3h.9M229.5 129.9h.9M234.8 122.0h.9M233.0 121.7h.9M233.0 129.0h.9M227.2 113.2h.9M230.0 122.5h.9M233.1 120.3h.9M228.0 125.7h.9M230.2 122.4h.9M234.5 127.1h.9M230.0 114.2h.9M231.0 119.8h.9M234.5 116.9h.9M231.8 129.7h.9M224.9 131.0h.9M230.6 123.2h.9M230.2 127.3h.9M231.4 121.3h.9M238.4 118.5h.9M234.3 131.7h.9M230.7 122.0h.9M227.8 131.6h.9M233.2 138.5h.9M230.8 115.0h.9M234.9 126.6h.9M231.3 120.6h.9M233.8 125.4h.9M227.3 107.5h.9M229.5 126.7h.9M230.3 117.1h.9M227.2 124.7h.9M231.6 125.6h.9M228.8 128.3h.9M228.8 122.9h.9M227.6 124.8h.9M229.8 120.9h.9M224.2 112.8h.9M233.4 118.7h.9M231.6 119.5h.9M232.2 120.6h.9M234.6 123.8h.9M231.1 124.3h.9M229.0 129.8h.9M234.9 135.8h.9M228.7 115.9h.9M230.7 123.8h.9M222.3 125.7h.9M228.1 121.2h.9M230.0 127.3h.9M232.4 107.9h.9M232.0 127.2h.9M233.5 121.4h.9M228.0 110.3h.9M228.0 121.1h.9M230.8 135.5h.9M227.2 122.1h.9M228.6 136.4h.9M230.2 137.4h.9M222.8 124.8h.9M224.3 120.8h.9M231.5 127.4h.9M227.4 132.5h.9M232.7 134.8h.9M228.2 125.2h.9M226.2 117.1h.9M232.2 133.0h.9M229.0 110.9h.9M231.3 121.4h.9M227.5 123.4h.9M227.0 126.3h.9M228.7 119.0h.9M227.1 123.9h.9M229.2 128.9h.9M226.3 123.2h.9M231.1 117.4h.9M232.7 128.1h.9M231.6 124.0h.9M225.3 116.4h.9M234.3 118.2h.9M223.6 135.4h.9M230.6 121.8h.9M230.2 126.5h.9M232.6 119.8h.9M227.4 121.9h.9M228.1 122.6h.9M234.0 119.6h.9M233.9 128.0h.9M226.2 130.0h.9M228.9 128.4h.9M227.0 120.3h.9M220.5 118.8h.9M233.9 109.7h.9M227.5 130.1h.9M230.1 120.9h.9M230.8 114.9h.9M225.2 115.3h.9M233.1 128.3h.9M227.5 121.0h.9M224.6 128.0h.9M231.1 124.2h.9M230.4 129.2h.9M227.9 124.7h.9M229.7 103.9h.9M235.9 132.0h.9M232.4 114.4h.9M229.9 133.0h.9M228.6 123.9h.9M236.5 117.8h.9M228.3 119.5h.9M222.8 117.4h.9M234.2 125.4h.9M228.1 126.4h.9M222.0 114.1h.9M224.8 110.6h.9M225.0 131.5h.9M221.9 125.5h.9M227.1 114.1h.9M227.7 129.7h.9M235.7 130.9h.9M229.5 126.1h.9M227.7 126.4h.9M229.2 119.3h.9M230.5 103.3h.9M233.4 127.8h.9M234.6 117.6h.9M222.8 136.3h.9M224.5 120.2h.9M229.8 126.7h.9M236.7 117.8h.9M228.1 113.2h.9M233.7 119.4h.9M227.8 137.1h.9M227.8 123.0h.9M228.9 109.6h.9M234.8 129.9h.9M228.1 130.9h.9M230.1 117.4h.9M231.0 123.6h.9M233.2 122.8h.9M230.1 117.7h.9M233.1 123.5h.9M236.0 112.2h.9M232.7 125.3h.9M228.5 129.6h.9M229.4 117.1h.9M230.9 127.3h.9M228.9 128.0h.9M225.8 126.7h.9M226.5 132.6h.9M227.9 122.8h.9M222.8 117.7h.9M240.4 128.1h.9M233.0 126.3h.9M227.8 108.2h.9M227.2 123.3h.9M234.3 117.7h.9M224.8 120.2h.9M226.2 123.4h.9M233.6 133.1h.9M229.6 125.6h.9M232.7 118.2h.9M230.3 118.9h.9M229.9 124.2h.9M227.6 125.5h.9M230.8 116.3h.9M230.7 118.9h.9M228.4 129.3h.9M234.2 120.4h.9M230.1 124.0h.9M232.1 111.8h.9M225.7 111.7h.9M223.9 127.4h.9M232.5 115.9h.9M227.5 127.9h.9M226.9 119.5h.9M231.2 124.9h.9M234.7 130.8h.9M228.9 117.3h.9M228.8 117.4h.9M231.5 130.5h.9M231.9 122.9h.9M230.1 121.7h.9M223.4 128.8h.9M232.7 116.1h.9M227.1 122.5h.9M237.4 114.2h.9M227.4 113.7h.9M230.7 127.2h.9M229.7 130.9h.9M230.6 124.0h.9M238.9 112.8h.9M229.0 121.8h.9M233.6 124.9h.9M229.9 122.5h.9M228.6 130.6h.9M232.7 117.1h.9M231.1 124.8h.9M229.3 120.3h.9M226.4 122.1h.9M231.4 120.3h.9M229.4 114.5h.9M232.2 120.6h.9M227.8 125.0h.9M224.8 129.9h.9M227.8 123.9h.9M223.1 130.4h.9M232.4 131.3h.9M230.5 121.8h.9M231.5 136.0h.9M229.9 133.0h.9M235.6 120.7h.9M234.9 121.9h.9M234.2 119.5h.9M220.2 121.9h.9M226.6 125.0h.9M230.3 124.5h.9M233.1 120.0h.9M220.0 126.0h.9M235.7 130.8h.9M231.2 128.8h.9M235.7 127.1h.9M225.7 120.4h.9M227.2 120.6h.9M226.2 133.9h.9M227.7 123.0h.9M227.1 117.6h.9M223.6 128.8h.9M234.6 133.8h.9M231.9 112.6h.9M226.9 133.8h.9M222.5 116.1h.9M234.1 128.5h.9M221.6 123.2h.9M225.9 118.6h.9M225.3 116.3h.9M227.2 115.8h.9M231.5 114.3h.9M233.0 120.2h.9M231.0 129.5h.9M225.7 120.9h.9M234.6 135.7h.9M234.2 121.0h.9M232.7 118.0h.9M238.5 122.6h.9M226.0 133.7h.9M227.1 117.7h.9M227.0 122.6h.9M227.6 129.4h.9M232.2 119.3h.9M230.6 126.1h.9M228.4 121.5h.9M234.0 121.3h.9M229.6 121.7h.9M227.8 120.9h.9M227.6 127.7h.9M225.1 112.1h.9M229.0 114.0h.9M226.7 119.4h.9M229.4 112.3h.9M231.2 116.2h.9M231.5 114.4h.9M228.2 121.7h.9M236.7 111.1h.9M225.6 120.5h.9M232.4 118.0h.9M229.9 129.3h.9M230.8 111.7h.9M227.3 111.3h.9M227.0 111.8h.9M232.1 114.8h.9M223.5 116.2h.9M230.3 126.2h.9M224.5 116.7h.9M223.1 120.8h.9M230.0 121.2h.9M227.7 125.8h.9M236.8 112.7h.9M223.4 116.6h.9M230.3 121.9h.9M230.2 131.1h.9M230.4 117.5h.9M228.1 117.1h.9M223.9 126.9h.9M232.4 122.6h.9M232.5 122.0h.9M231.2 134.2h.9M230.8 117.2h.9M234.1 127.1h.9M233.3 134.8h.9M232.3 119.1h.9M227.5 137.4h.9M233.5 127.0h.9M226.6 124.4h.9M231.2 132.0h.9M226.2 123.7h.9M229.2 105.6h.9M232.7 124.1h.9M228.7 121.2h.9M233.2 112.6h.9M228.1 127.1h.9M235.8 118.7h.9M229.2 116.5h.9M239.2 137.0h.9M232.4 130.1h.9M229.7 132.7h.9M225.7 134.3h.9M228.3 113.8h.9M236.9 134.9h.9M225.3 115.5h.9M224.1 115.5h.9M230.9 124.8h.9M234.3 120.1h.9M228.4 133.9h.9M226.7 120.1h.9M229.0 126.8h.9M229.0 122.4h.9M233.9 117.5h.9M236.6 120.7h.9M229.3 119.6h.9M226.8 123.6h.9M225.5 121.5h.9M223.5 128.2h.9M229.5 120.6h.9M224.1 124.4h.9M232.4 133.5h.9M228.9 125.8h.9M235.0 123.4h.9M223.5 124.7h.9M233.1 126.6h.9M230.2 130.4h.9M230.7 127.8h.9M229.7 122.4h.9M225.7 121.3h.9M232.0 120.0h.9M234.1 122.6h.9M222.4 112.4h.9M230.1 114.4h.9M229.3 114.9h.9M228.7 132.1h.9M231.2 124.3h.9M229.0 129.4h.9M228.3 121.0h.9M234.1 124.8h.9M226.2 117.1h.9M228.3 109.6h.9M228.2 120.9h.9M226.8 119.2h.9M227.8 118.4h.9M234.8 113.3h.9M226.7 126.4h.9M238.8 127.7h.9M224.0 126.1h.9M220.9 129.7h.9M227.2 117.0h.9M225.1 126.5h.9M234.2 122.1h.9M231.4 119.3h.9M225.8 122.6h.9M229.0 116.2h.9M228.6 120.3h.9M239.2 122.4h.9M230.2 110.7h.9M230.7 132.5h.9M231.6 129.0h.9M230.5 127.8h.9M229.7 134.0h.9M226.6 127.0h.9M230.0 126.5h.9M230.4 133.5h.9M224.8 119.3h.9M230.0 113.6h.9M225.1 128.8h.9M223.6 120.9h.9M229.4 129.4h.9M231.6 126.9h.9M233.1 117.9h.9M227.6 122.1h.9M224.4 115.2h.9M226.4 122.8h.9M228.7 121.4h.9M229.3 127.9h.9M231.4 135.1h.9M229.0 124.4h.9M233.5 120.7h.9M227.3 123.4h.9M231.4 122.0h.9M232.0 119.5h.9M231.1 124.2h.9M231.6 115.1h.9M225.7 117.0h.9M232.9 124.2h.9M227.8 128.9h.9M229.0 126.0h.9M226.0 120.7h.9M231.0 130.0h.9M228.1 124.7h.9M227.2 134.1h.9M232.2 126.0h.9M226.9 122.5h.9M231.0 114.6h.9M230.4 131.1h.9M231.6 129.2h.9M229.9 131.7h.9M225.3 119.0h.9M230.2 115.4h.9M231.0 131.7h.9M236.5 122.6h.9M236.5 106.3h.9M232.9 126.9h.9M233.3 114.1h.9M220.4 131.9h.9M227.8 129.8h.9M225.8 109.4h.9M231.9 124.8h.9M231.7 122.5h.9M231.7 126.7h.9M231.9 114.5h.9M231.1 113.1h.9M229.4 128.6h.9M227.6 109.4h.9M232.3 121.9h.9M229.8 125.5h.9M233.6 127.5h.9M228.1 124.9h.9M228.8 137.8h.9M226.9 130.6h.9M232.2 121.5h.9M226.8 121.6h.9M221.2 117.7h.9M226.8 123.9h.9M227.2 136.7h.9M229.7 127.3h.9M228.5 121.9h.9M234.4 114.6h.9M230.9 105.9h.9M233.3 122.0h.9M234.8 117.4h.9M233.6 125.0h.9M233.1 115.1h.9M228.1 127.5h.9M231.4 121.0h.9M229.4 118.4h.9M232.6 124.6h.9M227.7 119.4h.9M232.2 122.2h.9M228.0 117.6h.9M232.5 125.6h.9M234.3 111.2h.9M234.3 121.8h.9M228.3 126.3h.9M234.6 128.3h.9M223.6 126.2h.9M230.4 131.2h.9M224.7 124.2h.9M229.9 139.8h.9M225.5 119.1h.9M229.7 109.0h.9M227.3 107.9h.9M234.5 109.8h.9M237.7 122.3h.9M233.0 111.0h.9M233.6 112.6h.9M231.6 127.1h.9M229.6 110.4h.9M229.1 122.9h.9M225.6 128.2h.9M227.0 130.3h.9M232.8 124.0h.9M228.4 113.1h.9M231.3 115.8h.9M226.6 132.0h.9M238.2 133.0h.9M234.8 119.5h.9M229.6 128.3h.9M236.7 127.5h.9M231.8 120.1h.9M233.9 129.4h.9M229.4 116.4h.9M228.3 126.4h.9M235.1 126.5h.9M232.6 121.4h.9M233.0 118.6h.9M233.6 132.8h.9M230.4 117.1h.9M228.3 116.5h.9M231.3 113.0h.9M223.6 120.9h.9M230.3 121.2h.9M234.0 117.0h.9M229.1 130.0h.9M236.7 123.3h.9M228.7 126.4h.9M226.2 113.1h.9M232.1 120.3h.9M229.3 133.0h.9M232.2 129.6h.9M227.6 125.7h.9M232.0 130.3h.9M230.4 127.5h.9M230.9 124.7h.9M233.4 125.4h.9M227.2 125.9h.9M229.4 120.0h.9M234.0 134.5h.9M234.4 139.0h.9M232.6 123.9h.9M225.9 122.6h.9M230.7 138.7h.9M228.5 125.9h.9M228.8 126.8h.9M224.4 126.1h.9M222.4 123.5h.9M233.5 120.6h.9M232.9 128.3h.9M224.7 113.1h.9M228.7 130.1h.9M230.2 133.1h.9M227.8 121.5h.9M231.7 120.4h.9M228.5 136.3h.9M224.9 121.9h.9M228.4 119.3h.9M231.5 129.4h.9M226.6 115.6h.9M232.6 109.0h.9M233.7 123.1h.9M232.1 119.5h.9M231.9 117.8h.9M229.6 118.0h.9M231.9 118.8h.9M227.3 121.0h.9M221.5 107.6h.9M227.4 128.3h.9M235.1 120.7h.9M233.6 120.4h.9M226.0 120.9h.9M229.1 128.5h.9M227.3 125.0h.9M225.6 138.0h.9M228.7 108.3h.9M232.7 128.5h.9M230.1 129.5h.9M229.0 103.3h.9M222.0 126.7h.9M237.7 122.1h.9M225.7 122.0h.9M229.9 122.8h.9M232.8 125.6h.9M230.5 120.3h.9M232.8 118.0h.9M221.5 129.4h.9M226.7 122.8h.9M227.4 128.5h.9M224.1 113.6h.9M233.0 116.7h.9M225.2 118.0h.9M233.7 122.1h.9M233.0 134.2h.9M228.5 125.8h.9M224.8 130.2h.9M227.7 135.7h.9M227.2 109.3h.9M227.4 120.4h.9M227.0 118.1h.9M230.0 125.6h.9M228.7 115.8h.9M229.6 133.8h.9M229.7 119.3h.9M234.2 117.5h.9M237.0 115.6h.9M229.8 113.8h.9M229.5 122.4h.9M229.2 118.7h.9M233.2 124.8h.9M232.3 119.4h.9M230.2 125.8h.9M229.3 124.1h.9M231.9 130.1h.9M233.5 127.6h.9M228.2 119.0h.9M231.3 131.1h.9M223.3 118.8h.9M227.4 116.5h.9M231.5 128.6h.9M224.1 114.1h.9M224.4 118.0h.9M230.7 112.3h.9M222.7 112.5h.9M228.6 124.6h.9M237.3 116.3h.9M231.0 134.0h.9M236.1 132.4h.9M235.4 125.0h.9M227.1 118.1h.9M229.1 122.4h.9M231.1 120.8h.9M233.8 130.2h.9M235.0 109.7h.9M232.6 121.4h.9M231.0 123.1h.9M226.0 125.3h.9M233.6 127.3h.9M227.7 119.9h.9M233.4 126.7h.9M234.6 114.5h.9M224.6 130.1h.9M237.1 125.1h.9M229.1 121.7h.9M233.7 130.1h.9M233.2 117.7h.9M236.5 111.0h.9M234.1 125.9h.9M235.7 123.1h.9M232.9 120.2h.9M227.0 117.9h.9M229.2 125.6h.9M232.3 128.5h.9M233.3 116.3h.9M230.4 113.0h.9M227.3 127.1h.9M225.3 115.2h.9M230.2 131.1h.9M229.4 118.6h.9M228.1 138.2h.9M232.0 120.7h.9M232.5 121.9h.9M230.3 121.8h.9M222.6 125.5h.9M227.4 128.2h.9M227.6 124.9h.9M232.1 117.8h.9M227.6 120.3h.9M229.0 112.0h.9M225.9 115.6h.9M227.9 123.7h.9M237.8 122.5h.9M232.8 118.7h.9M231.4 124.0h.9M226.8 117.5h.9M225.5 122.3h.9M233.6 122.9h.9M229.8 129.2h.9M232.0 129.4h.9M230.9 115.7h.9M230.3 119.9h.9M220.9 110.6h.9M233.1 136.0h.9M236.2 108.1h.9M230.2 122.0h.9M229.3 111.9h.9M230.7 122.8h.9M229.0 123.9h.9M223.3 126.6h.9M228.6 118.2h.9M229.9 127.2h.9M233.7 117.7h.9M226.4 116.0h.9M228.8 117.0h.9M230.0 117.2h.9M231.6 133.8h.9M236.9 128.4h.9M232.2 126.7h.9M232.3 108.8h.9M225.6 121.8h.9M235.7 126.7h.9M223.7 110.5h.9M234.8 129.0h.9M233.1 115.1h.9M230.3 122.3h.9M226.1 124.1h.9M231.9 121.6h.9M228.2 122.3h.9M234.8 125.6h.9M219.4 130.3h.9M230.2 132.8h.9M220.5 131.7h.9M230.2 123.4h.9M228.8 108.8h.9M232.9 114.9h.9M225.8 119.2h.9M226.4 126.7h.9M222.1 130.5h.9M228.3 119.9h.9M230.5 117.9h.9M229.0 123.1h.9M226.4 123.8h.9M229.1 127.1h.9M231.9 127.7h.9M231.0 121.0h.9M222.8 105.7h.9M228.1 119.6h.9M226.7 102.3h.9M219.8 121.3h.9M232.0 140.7h.9M231.0 130.8h.9M226.1 124.9h.9M231.8 137.6h.9M230.7 115.4h.9M228.1 125.2h.9M231.0 126.1h.9M229.1 117.8h.9M227.4 118.6h.9M233.6 127.2h.9M224.2 124.2h.9M236.7 118.6h.9M230.8 121.6h.9M228.3 127.0h.9M231.4 121.1h.9M226.5 117.5h.9M228.4 125.2h.9M237.1 121.6h.9M231.6 123.4h.9M229.3 114.5h.9M229.3 122.2h.9M233.2 120.0h.9M233.2 112.7h.9M228.7 133.0h.9M234.2 123.5h.9M229.8 124.2h.9M229.7 128.4h.9M232.6 132.0h.9M227.2 129.5h.9M224.2 117.9h.9M229.3 124.1h.9M233.1 118.5h.9M228.8 121.0h.9M233.1 125.2h.9M234.3 130.6h.9M228.6 115.3h.9M229.9 127.8h.9M229.4 125.2h.9M232.3 115.6h.9M230.6 121.8h.9M234.9 130.7h.9M231.3 122.2h.9M230.9 125.1h.9M227.3 128.7h.9M230.2 123.0h.9M234.8 122.7h.9M232.5 131.1h.9M230.3 130.2h.9M229.6 139.4h.9M226.6 124.7h.9M227.3 110.6h.9M233.6 112.9h.9M230.0 126.2h.9M230.3 115.8h.9M234.5 112.9h.9M228.5 130.5h.9M228.2 111.6h.9M235.1 111.5h.9M232.2 123.8h.9M224.3 130.8h.9M229.9 128.2h.9M227.2 114.8h.9M228.1 127.8h.9M229.1 115.7h.9M224.1 124.7h.9M227.4 101.7h.9M236.5 113.9h.9M229.2 125.1h.9M228.3 121.5h.9M233.4 125.3h.9M225.1 96.0h.9M229.2 132.1h.9M234.6 128.5h.9M230.0 136.9h.9M231.2 118.8h.9M229.2 129.0h.9M231.2 126.8h.9M232.5 121.2h.9M229.4 126.1h.9M230.4 123.3h.9M230.9 127.3h.9M223.2 121.4h.9M233.3 123.2h.9M236.5 117.5h.9M233.0 119.8h.9M230.9 124.1h.9M228.7 124.8h.9M231.3 125.3h.9M237.0 128.8h.9M235.4 117.6h.9M227.5 117.4h.9M235.5 111.2h.9M227.5 131.5h.9M227.7 135.9h.9M229.5 125.2h.9M232.3 127.0h.9M229.2 117.4h.9M233.6 123.6h.9M231.2 132.4h.9M235.7 124.9h.9M225.1 113.0h.9M230.5 124.7h.9M232.4 122.7h.9M235.6 128.7h.9M222.6 134.1h.9M229.2 123.1h.9M223.0 126.2h.9M231.6 129.5h.9M228.1 116.8h.9M231.3 121.3h.9M233.7 111.4h.9M233.2 124.6h.9M229.4 127.8h.9M232.3 125.2h.9M228.4 117.6h.9M232.1 117.1h.9M228.4 131.6h.9M233.1 127.4h.9M227.3 120.4h.9M232.3 127.0h.9M224.8 117.6h.9M230.8 116.1h.9M226.1 122.2h.9M228.1 124.9h.9M233.4 139.1h.9M226.2 125.7h.9M221.8 124.0h.9M224.2 136.9h.9M230.8 117.4h.9M234.1 121.9h.9M230.5 119.6h.9M230.4 122.3h.9M234.0 138.5h.9M230.0 109.6h.9M235.0 131.6h.9M235.5 113.8h.9M229.0 112.0h.9M234.7 121.8h.9M232.7 122.2h.9M229.7 120.7h.9M230.1 115.2h.9M234.0 127.4h.9M225.7 114.0h.9M224.5 127.2h.9M237.2 113.9h.9M231.1 124.7h.9M233.9 123.7h.9M224.3 112.3h.9M225.4 123.0h.9M228.2 129.7h.9M228.8 129.4h.9M230.7 127.7h.9M228.4 119.0h.9M229.9 122.2h.9M229.4 116.9h.9M232.3 131.0h.9M234.0 117.9h.9M233.3 115.5h.9M235.1 119.0h.9M229.4 134.7h.9M228.5 111.9h.9M223.3 129.1h.9M224.1 128.3h.9M233.0 119.2h.9M231.8 124.5h.9M230.2 112.7h.9M228.9 125.7h.9M225.6 126.2h.9M222.1 117.8h.9M227.9 124.3h.9M229.1 123.2h.9M220.8 127.0h.9M234.8 127.9h.9M227.6 130.5h.9M231.6 122.3h.9M234.7 127.1h.9M235.4 129.2h.9M228.9 134.6h.9M233.5 123.8h.9M233.3 119.9h.9M230.2 118.6h.9M231.2 122.4h.9M226.8 111.2h.9M231.0 115.7h.9M227.6 127.8h.9M229.2 137.1h.9M230.4 132.6h.9M233.4 118.9h.9M229.2 131.6h.9M229.1 125.6h.9M228.5 119.6h.9M228.5 129.5h.9M231.7 129.4h.9M224.6 127.2h.9M230.2 130.0h.9M225.7 121.2h.9M228.0 121.2h.9M232.7 119.2h.9M236.3 129.4h.9M230.6 126.6h.9M232.2 130.0h.9M230.7 121.0h.9M228.4 121.4h.9M230.3 123.2h.9M233.5 123.4h.9M230.7 121.7h.9M228.6 133.1h.9M228.3 124.6h.9M231.8 105.3h.9M228.8 119.1h.9M233.4 125.0h.9M224.9 124.4h.9M232.8 123.7h.9M227.1 121.8h.9M229.7 133.8h.9M237.7 117.8h.9M233.8 128.6h.9M228.2 129.8h.9M228.6 130.1h.9M233.3 138.5h.9M233.4 117.3h.9M229.9 119.0h.9M232.7 126.1h.9M228.5 127.1h.9M220.0 127.4h.9M234.0 118.8h.9M228.2 120.8h.9M232.2 134.3h.9M229.4 128.1h.9M229.0 128.1h.9M226.8 129.3h.9M232.8 135.9h.9M233.1 122.5h.9M234.6 125.7h.9M232.6 112.6h.9M231.6 121.2h.9M228.1 125.7h.9M230.2 127.9h.9M231.6 118.5h.9M221.0 114.2h.9M225.8 117.7h.9M229.4 109.0h.9M233.0 116.1h.9M235.1 122.4h.9M236.2 126.6h.9M227.3 133.4h.9M230.3 124.5h.9M228.1 118.1h.9M227.1 124.8h.9M228.7 120.8h.9M230.4 130.5h.9M233.0 130.6h.9M224.6 111.9h.9M229.5 121.4h.9M226.4 137.5h.9M235.1 131.6h.9M236.2 121.9h.9M228.3 102.1h.9M227.4 128.0h.9M232.2 125.9h.9M233.5 122.2h.9M226.4 128.8h.9M228.4 125.2h.9M231.0 127.2h.9M226.2 121.5h.9M235.4 122.0h.9M230.1 125.8h.9M230.2 120.9h.9M225.7 115.0h.9M234.4 114.6h.9M225.1 125.0h.9M227.3 117.3h.9M227.8 117.1h.9M229.5 118.4h.9M224.7 127.7h.9M227.1 108.5h.9M232.1 105.9h.9M229.8 124.2h.9M230.4 121.4h.9M233.5 133.1h.9M231.6 120.8h.9M233.6 112.8h.9M230.0 124.7h.9M226.7 125.0h.9M236.0 125.2h.9M223.8 125.2h.9M225.0 137.6h.9M225.8 120.4h.9M238.5 125.5h.9M230.2 122.4h.9M233.9 110.9h.9M224.3 114.4h.9M225.9 116.4h.9M231.1 120.5h.9M228.3 114.3h.9M230.4 132.3h.9M232.1 121.9h.9M230.3 115.9h.9M230.3 117.5h.9M230.7 122.9h.9M229.2 118.2h.9M231.1 115.2h.9M233.5 114.1h.9M226.6 122.3h.9M231.0 134.4h.9M233.2 103.5h.9M229.3 119.8h.9M229.6 122.6h.9M236.7 116.8h.9M234.0 137.5h.9M238.3 123.5h.9M236.7 110.7h.9M228.8 124.1h.9M227.5 114.2h.9M228.9 127.7h.9M233.1 122.4h.9M217.6 130.4h.9M230.2 115.7h.9M234.4 124.9h.9M230.2 133.4h.9M231.2 120.6h.9M229.2 115.3h.9M223.9 119.8h.9M233.4 123.8h.9M229.0 119.7h.9M231.7 125.3h.9M230.1 130.1h.9M237.1 116.5h.9M231.7 111.6h.9M231.6 116.1h.9M229.7 111.2h.9M227.1 116.9h.9M231.5 120.4h.9M233.9 110.5h.9M230.0 122.4h.9M222.2 121.6h.9M227.2 111.1h.9M237.0 119.0h.9M228.0 110.6h.9M230.7 125.8h.9M223.1 119.7h.9M227.9 124.8h.9M226.9 131.1h.9M232.9 126.1h.9M232.3 121.5h.9M232.0 123.6h.9M233.7 118.3h.9M228.3 121.2h.9M236.2 133.3h.9M229.1 117.5h.9M233.3 120.7h.9M237.7 123.0h.9M228.1 123.8h.9M231.4 126.4h.9M229.6 113.6h.9M230.5 118.0h.9M231.1 120.8h.9M229.7 123.3h.9M230.1 125.6h.9M232.6 124.1h.9M225.2 121.8h.9M227.3 115.2h.9M228.2 113.6h.9M225.0 113.4h.9M231.2 126.9h.9M228.4 131.9h.9M226.9 115.6h.9M225.1 112.0h.9M226.8 118.8h.9M231.6 122.8h.9M225.4 117.6h.9M233.3 119.7h.9M232.3 125.7h.9M231.0 123.7h.9M223.9 118.2h.9M227.2 112.6h.9M233.8 120.2h.9M228.6 128.4h.9M227.2 109.9h.9M227.4 131.5h.9M231.4 122.4h.9M223.4 131.4h.9M233.7 116.8h.9M230.8 115.9h.9M226.2 112.2h.9M232.2 122.8h.9M220.2 122.1h.9M225.5 119.9h.9M231.1 121.9h.9M235.4 124.3h.9M225.7 115.9h.9M224.8 127.5h.9M229.7 110.7h.9M230.3 118.1h.9M227.2 123.6h.9M227.1 119.5h.9M235.6 122.4h.9M226.6 110.7h.9M224.1 119.2h.9M228.4 120.9h.9M234.6 111.7h.9M232.4 125.0h.9M229.8 112.9h.9M225.2 115.6h.9M229.6 112.5h.9M232.1 115.9h.9M233.7 125.1h.9M224.2 126.7h.9M228.4 118.8h.9M227.9 124.8h.9M236.2 132.9h.9M228.9 110.0h.9M229.7 109.6h.9M228.2 133.0h.9M219.6 115.2h.9M234.0 140.4h.9M223.1 127.0h.9M227.8 105.8h.9M224.2 127.1h.9M227.7 120.3h.9M228.2 121.9h.9M228.0 126.9h.9M235.1 117.2h.9M225.6 119.2h.9M228.8 122.3h.9M231.8 109.8h.9M228.4 119.4h.9M228.0 123.1h.9M236.9 121.5h.9M232.7 122.3h.9M226.9 121.4h.9M230.8 108.2h.9M226.6 115.4h.9M231.5 108.3h.9M224.7 123.5h.9M232.8 127.9h.9M231.2 122.5h.9M231.1 107.8h.9M229.9 118.9h.9M230.7 126.8h.9M226.7 124.7h.9M230.1 126.6h.9M232.0 127.0h.9M231.4 114.3h.9M226.5 123.2h.9M231.9 123.6h.9M225.5 114.8h.9M227.2 117.7h.9M226.8 120.8h.9M227.7 134.7h.9M229.4 128.7h.9M232.3 121.8h.9M233.7 122.1h.9M231.5 111.0h.9M227.2 122.0h.9M232.6 128.4h.9M233.4 119.0h.9M227.1 125.3h.9M225.5 131.0h.9M229.3 119.7h.9M236.9 111.4h.9M228.7 121.1h.9M229.2 120.7h.9M232.4 139.9h.9M225.6 121.1h.9M225.9 121.0h.9M229.4 128.6h.9M232.9 116.8h.9M228.7 119.5h.9M227.5 120.7h.9M223.8 120.5h.9M235.6 124.3h.9M225.3 122.8h.9M234.6 106.0h.9M227.2 129.2h.9M234.0 118.7h.9M236.0 126.4h.9M226.7 122.3h.9M231.9 125.8h.9M232.5 130.7h.9M234.4 120.5h.9M228.7 118.8h.9M234.3 124.4h.9M230.2 121.1h.9M226.2 133.8h.9M233.5 120.3h.9M234.4 117.9h.9M229.8 135.2h.9M229.4 117.3h.9M232.6 127.2h.9M235.9 117.9h.9M225.3 126.4h.9M233.7 132.6h.9M237.2 131.3h.9M226.6 119.3h.9M231.9 125.8h.9M230.0 130.1h.9M231.1 122.9h.9M234.4 134.6h.9M224.0 132.6h.9M228.0 133.7h.9M224.8 122.3h.9M228.7 124.9h.9M236.6 114.0h.9M226.0 116.2h.9M228.1 126.1h.9M227.6 117.4h.9M231.3 122.5h.9M228.7 115.0h.9M227.0 117.5h.9M227.0 114.0h.9M229.2 124.3h.9M225.4 117.3h.9M221.1 123.2h.9M234.0 126.2h.9M230.3 119.8h.9M227.6 122.4h.9M229.2 137.8h.9M232.5 126.0h.9M226.7 133.0h.9M229.9 132.4h.9M227.9 128.2h.9M234.3 125.9h.9M221.0 111.3h.9M224.7 125.6h.9M234.9 115.6h.9M225.5 113.2h.9M226.9 121.8h.9M225.4 130.0h.9M221.4 126.3h.9M229.4 127.2h.9M232.3 127.6h.9M230.9 127.6h.9M225.3 115.2h.9M227.9 114.9h.9M235.7 122.9h.9M229.1 129.4h.9M226.4 122.1h.9M233.0 117.3h.9M228.7 118.7h.9M223.0 119.1h.9M226.7 117.9h.9M233.1 115.0h.9M229.2 133.2h.9M229.4 123.6h.9M232.1 111.2h.9M227.0 123.6h.9M224.3 125.9h.9M229.7 128.0h.9M227.5 115.4h.9M229.7 109.7h.9M227.1 137.9h.9M227.0 113.5h.9M224.6 112.7h.9M230.8 123.5h.9M236.8 129.8h.9M225.3 129.1h.9M234.0 116.7h.9M232.2 122.5h.9M227.4 117.3h.9M226.1 122.3h.9M231.7 117.7h.9M228.5 139.3h.9M228.7 130.4h.9M228.1 121.0h.9M236.7 121.3h.9M223.9 131.7h.9M231.4 117.6h.9M236.7 120.5h.9M230.4 119.1h.9M237.6 122.4h.9M229.8 133.9h.9M230.4 117.9h.9M232.7 113.8h.9M227.2 114.6h.9M229.9 118.0h.9M231.9 112.8h.9M227.4 113.8h.9M231.5 116.5h.9M233.8 125.6h.9M225.6 124.0h.9M229.4 119.8h.9M231.3 124.8h.9M227.2 122.5h.9M233.5 121.5h.9M234.3 116.2h.9M227.8 127.7h.9M230.8 122.0h.9M227.6 120.8h.9M229.4 119.7h.9M231.6 123.2h.9M229.3 121.6h.9M230.5 113.9h.9M228.3 118.1h.9M234.2 114.1h.9M233.3 102.3h.9M227.6 113.3h.9M231.9 139.7h.9M239.5 110.1h.9M228.2 121.4h.9M234.9 127.3h.9M229.2 121.4h.9M232.8 115.2h.9M222.0 117.2h.9M234.9 117.3h.9M232.3 114.2h.9M233.0 121.2h.9M230.7 126.5h.9M233.5 128.4h.9M234.0 133.9h.9M232.5 126.3h.9M229.4 123.5h.9M230.1 114.8h.9M229.2 112.5h.9M227.0 124.1h.9M225.4 128.2h.9M229.6 128.8h.9M226.6 122.7h.9M228.6 131.5h.9M225.3 122.9h.9M225.0 119.8h.9M228.4 121.4h.9M229.1 123.1h.9M237.8 126.7h.9M229.7 114.1h.9M233.8 115.3h.9M231.8 130.5h.9M231.1 120.0h.9M228.9 130.6h.9M232.3 127.0h.9M231.9 124.6h.9M224.9 130.8h.9M232.4 121.5h.9M229.2 127.1h.9M224.2 128.2h.9M227.2 129.8h.9M232.5 116.1h.9M233.4 122.4h.9M229.5 133.0h.9M234.4 127.5h.9M232.8 132.0h.9M224.4 133.2h.9M226.0 118.6h.9M231.2 122.5h.9M226.7 132.6h.9M227.7 126.4h.9M231.0 116.7h.9M228.9 125.8h.9M227.4 125.4h.9M224.9 119.1h.9M237.4 120.0h.9M224.9 129.0h.9M228.4 127.5h.9M233.9 115.1h.9M229.6 116.4h.9M226.5 120.5h.9M225.8 122.7h.9M234.1 122.1h.9M232.7 116.9h.9M222.8 124.8h.9M224.9 108.7h.9M232.2 116.8h.9M235.8 122.7h.9M227.9 122.5h.9M233.4 121.8h.9M224.1 125.0h.9M223.8 123.8h.9M225.4 120.4h.9M231.7 133.5h.9M230.6 121.8h.9M232.5 140.5h.9M223.5 111.1h.9M236.0 128.6h.9M228.4 113.9h.9M239.6 110.8h.9M230.8 115.8h.9M223.3 102.5h.9M229.8 118.9h.9M226.8 121.8h.9M235.5 115.5h.9M230.7 119.3h.9M234.5 125.6h.9M227.0 118.1h.9M227.1 128.9h.9M230.4 117.4h.9M230.2 135.2h.9M226.5 122.3h.9M231.8 113.3h.9M234.2 127.4h.9M228.6 124.1h.9M228.1 112.2h.9M228.1 135.9h.9M231.8 119.5h.9M229.4 126.4h.9M233.9 117.8h.9M228.8 117.6h.9M228.9 125.7h.9M228.8 106.1h.9M235.3 130.0h.9M229.4 116.5h.9M230.1 132.4h.9M228.7 131.0h.9M233.1 114.8h.9M231.3 113.5h.9M225.6 131.2h.9M233.3 114.1h.9M227.2 121.2h.9M229.9 125.7h.9M232.4 120.7h.9M227.4 110.5h.9M222.2 124.1h.9M232.2 120.8h.9M230.0 115.9h.9M233.8 124.3h.9M220.8 123.3h.9M236.6 127.2h.9M230.3 126.0h.9M225.2 127.3h.9M230.9 124.0h.9M226.5 119.9h.9M215.8 125.0h.9M223.1 125.7h.9M229.2 133.5h.9M228.8 126.2h.9M228.5 120.3h.9M222.4 132.3h.9M220.7 125.6h.9M224.4 132.4h.9M226.4 132.3h.9M229.1 115.6h.9M222.9 118.4h.9M223.4 129.9h.9M223.3 112.5h.9M225.2 122.0h.9M223.3 127.5h.9M226.6 121.8h.9M224.1 118.9h.9M235.1 125.3h.9M222.6 122.7h.9M221.2 121.5h.9M229.5 129.9h.9M237.1 120.4h.9M226.0 123.8h.9M219.6 135.7h.9M231.6 132.7h.9M220.6 125.9h.9M226.6 124.2h.9M225.3 127.8h.9M219.8 127.6h.9M231.9 115.4h.9M229.0 119.6h.9M226.0 134.6h.9M228.6 118.1h.9M219.8 139.0h.9M225.1 131.3h.9M228.9 125.6h.9M231.2 122.0h.9M215.7 126.8h.9M229.7 132.2h.9M220.5 129.6h.9M214.0 136.6h.9M231.8 129.7h.9M233.6 120.8h.9M220.6 130.4h.9M231.8 132.0h.9M227.3 125.2h.9M231.7 118.7h.9M238.4 119.8h.9M234.5 130.5h.9M228.0 118.9h.9M219.9 140.2h.9M222.6 132.0h.9M225.0 111.6h.9M223.2 117.4h.9M229.2 126.6h.9M230.6 115.9h.9M238.2 124.8h.9M234.0 133.2h.9M219.1 131.1h.9M226.9 132.0h.9M224.4 134.0h.9M216.2 120.3h.9M227.8 131.0h.9M227.0 115.3h.9M230.4 135.5h.9M229.7 135.1h.9M233.5 118.5h.9M222.6 104.9h.9M222.1 134.1h.9M231.1 121.0h.9M233.0 128.9h.9M223.0 115.3h.9M229.6 129.9h.9M233.3 134.6h.9M229.4 127.0h.9M224.5 132.4h.9M240.1 128.4h.9M236.1 133.7h.9M231.1 121.6h.9M226.2 121.3h.9M219.4 110.2h.9M224.4 122.3h.9M227.4 123.4h.9M221.2 116.7h.9M233.5 134.0h.9M219.5 123.7h.9M224.7 130.6h.9M222.3 119.3h.9M225.4 125.8h.9M230.2 131.7h.9M233.6 134.5h.9M220.4 137.9h.9M231.1 122.2h.9M224.3 133.9h.9M218.8 125.5h.9M220.0 133.5h.9M234.5 124.9h.9M218.7 125.6h.9M223.2 128.6h.9M227.2 120.7h.9M236.3 125.9h.9M213.9 129.0h.9M227.9 111.3h.9M228.0 121.7h.9M216.7 122.1h.9M224.2 134.0h.9M224.9 127.1h.9M230.4 125.8h.9M225.0 120.0h.9M223.6 129.4h.9M228.2 123.5h.9M233.6 133.7h.9M218.8 123.7h.9M227.2 125.6h.9M225.5 130.7h.9M226.5 129.6h.9M232.6 113.5h.9M223.2 127.5h.9M217.7 125.5h.9M225.5 111.1h.9M219.0 116.1h.9M237.0 133.5h.9M235.4 128.7h.9M220.2 122.2h.9M226.9 133.4h.9M216.8 112.0h.9M225.8 136.9h.9M223.9 121.3h.9M238.6 137.9h.9M229.9 122.7h.9M228.3 121.8h.9M233.8 128.3h.9M224.4 123.9h.9M231.1 134.1h.9M222.7 132.4h.9M223.2 123.2h.9M238.9 124.5h.9M209.5 126.0h.9M230.7 139.8h.9M222.3 125.7h.9M232.7 134.2h.9M222.2 125.7h.9M227.9 119.3h.9M218.6 112.8h.9M233.7 127.8h.9M222.3 129.8h.9M217.9 127.9h.9M206.9 136.2h.9M215.5 131.8h.9M231.3 140.6h.9M219.0 131.0h.9M218.6 118.7h.9M226.9 135.0h.9M225.8 117.5h.9M227.6 124.9h.9M224.9 115.6h.9M238.2 133.3h.9M219.6 137.4h.9M222.6 115.0h.9M225.2 118.7h.9M230.2 120.2h.9M236.0 110.6h.9M227.0 124.8h.9M231.8 123.5h.9M229.4 114.5h.9M222.8 113.6h.9M235.5 127.5h.9M226.7 113.2h.9M228.4 125.4h.9M231.2 127.2h.9M234.7 131.0h.9M222.7 124.8h.9M226.0 127.1h.9M221.0 137.2h.9M210.1 120.6h.9M227.8 135.6h.9M226.5 116.0h.9M221.8 130.5h.9M225.3 104.5h.9M229.1 112.5h.9M234.5 112.6h.9M228.7 123.8h.9M227.7 125.3h.9M220.1 106.9h.9M223.0 140.3h.9M215.1 135.7h.9M223.6 123.9h.9M227.0 129.4h.9M236.8 120.0h.9M216.1 121.1h.9M218.4 119.5h.9M231.8 128.1h.9M211.6 121.5h.9M240.7 121.9h.9M228.1 140.0h.9M232.5 123.0h.9M230.5 130.6h.9M216.3 128.9h.9M230.5 122.1h.9M220.9 122.4h.9M225.5 134.9h.9M226.9 121.6h.9M228.2 131.2h.9M231.7 122.4h.9M227.1 122.8h.9M233.9 137.7h.9M228.8 111.9h.9M223.4 120.1h.9M229.6 120.9h.9M224.2 129.1h.9M231.9 120.3h.9M224.5 126.6h.9M224.7 131.1h.9M215.5 133.5h.9M229.7 114.5h.9M223.7 139.6h.9M231.2 125.7h.9M230.7 117.9h.9M221.0 127.5h.9M229.7 117.8h.9M236.9 122.5h.9M224.4 118.4h.9M231.6 121.7h.9M215.0 135.8h.9M225.5 126.1h.9M238.3 132.3h.9M225.9 128.7h.9M226.0 124.8h.9M220.4 136.4h.9M209.8 136.1h.9M231.5 122.7h.9M230.8 132.1h.9M234.8 122.8h.9M230.4 121.6h.9M220.6 129.1h.9M214.9 126.2h.9M228.4 124.6h.9M235.9 109.3h.9M229.4 118.7h.9M230.2 126.3h.9M237.7 131.1h.9M223.7 130.8h.9M225.7 121.1h.9M232.7 129.3h.9M224.2 115.5h.9M222.2 129.1h.9M224.2 140.5h.9M230.9 123.7h.9M222.0 117.3h.9M224.7 134.0h.9M228.6 124.5h.9M221.4 125.6h.9M223.3 129.9h.9M228.0 122.9h.9M228.3 131.3h.9M222.0 119.8h.9M223.3 119.5h.9M232.4 127.8h.9M223.9 129.1h.9M226.6 127.3h.9M225.9 130.9h.9M222.7 125.1h.9M231.1 120.3h.9M225.0 129.3h.9M216.0 113.0h.9M236.8 125.5h.9M225.2 133.2h.9M227.6 130.0h.9M228.6 134.7h.9M224.1 123.6h.9M220.0 123.6h.9M220.9 121.8h.9M223.0 121.6h.9M230.9 127.3h.9M224.7 133.5h.9M229.6 125.3h.9M212.3 138.2h.9M220.5 129.4h.9M227.3 109.4h.9M219.7 130.9h.9M231.2 121.9h.9M225.3 126.4h.9M224.8 119.9h.9M220.4 121.4h.9M217.5 134.1h.9M232.2 122.9h.9M228.5 119.8h.9M224.7 122.8h.9M219.9 120.8h.9M229.3 130.8h.9M221.4 135.0h.9M232.9 113.4h.9M230.8 129.4h.9M222.2 125.3h.9M225.3 123.7h.9M237.5 132.2h.9M230.4 119.8h.9M232.6 119.1h.9M223.4 125.1h.9M231.3 120.1h.9M218.6 121.7h.9M230.6 132.4h.9M232.5 115.6h.9M225.2 135.9h.9M229.3 136.9h.9M224.3 123.4h.9M224.9 131.3h.9M228.1 117.6h.9M229.3 123.9h.9M227.6 122.5h.9M229.5 119.5h.9M220.4 133.8h.9M217.7 129.1h.9M229.3 133.9h.9M211.9 113.8h.9M216.5 125.3h.9M218.4 122.8h.9M231.2 114.1h.9M230.6 134.9h.9M224.8 129.3h.9M224.5 138.5h.9M225.8 122.1h.9M218.1 139.1h.9M232.7 111.8h.9M221.0 137.6h.9M221.7 132.9h.9M227.7 117.1h.9M223.4 116.3h.9M231.1 121.8h.9M231.3 136.2h.9M226.4 129.8h.9M221.3 127.6h.9M226.5 125.4h.9M219.9 116.6h.9M217.3 117.3h.9M216.9 120.0h.9M232.7 134.0h.9M218.0 111.1h.9M233.6 117.9h.9M226.1 129.9h.9M224.4 125.6h.9M226.9 122.5h.9M236.3 118.4h.9M217.8 112.3h.9M229.3 120.1h.9M223.6 116.9h.9M220.1 122.1h.9M213.8 118.5h.9M220.6 113.9h.9M220.6 136.9h.9M226.7 109.4h.9M231.8 132.4h.9M229.0 122.6h.9M225.0 121.3h.9M237.0 116.1h.9M222.8 118.3h.9M226.9 122.3h.9M224.5 109.2h.9M230.7 134.0h.9M229.5 127.1h.9M226.5 125.6h.9M230.4 125.4h.9M228.4 134.6h.9M222.6 125.6h.9M232.5 131.9h.9M223.6 120.5h.9M222.8 139.7h.9M231.1 120.4h.9M223.7 117.2h.9M226.9 120.3h.9M232.1 138.4h.9M223.6 128.7h.9M232.8 117.5h.9M229.0 119.8h.9M221.2 121.9h.9M230.8 136.3h.9M217.0 118.2h.9M234.7 125.7h.9M234.5 116.2h.9M236.9 127.3h.9M219.0 118.8h.9M238.9 132.0h.9M229.5 121.5h.9M225.8 132.5h.9M235.0 125.2h.9M218.3 120.7h.9M226.4 129.8h.9M229.6 113.7h.9M224.1 137.7h.9M227.3 135.8h.9M232.5 116.7h.9M232.0 124.6h.9M226.6 110.4h.9M219.6 130.1h.9M217.7 128.2h.9M221.4 127.5h.9M223.7 121.4h.9M222.3 125.2h.9M225.7 123.8h.9M226.1 120.2h.9M230.8 120.4h.9M219.0 120.1h.9M223.4 105.0h.9M230.5 119.1h.9M222.6 132.7h.9M233.0 137.3h.9M223.0 121.0h.9M228.3 126.0h.9M235.7 136.0h.9M233.6 112.6h.9M227.8 128.7h.9M227.8 111.8h.9M231.4 128.8h.9M224.5 123.8h.9M220.4 124.7h.9M233.0 123.7h.9M228.7 104.1h.9M225.6 114.0h.9M220.1 127.4h.9M223.2 127.6h.9M224.9 119.6h.9M228.6 128.4h.9M232.1 125.5h.9M227.3 126.4h.9M229.4 134.9h.9M219.2 118.5h.9M227.7 127.3h.9M234.0 133.1h.9M222.9 121.1h.9M215.6 135.7h.9M231.1 118.6h.9M235.9 112.1h.9M231.3 116.7h.9M224.0 126.3h.9M230.6 133.8h.9M214.4 122.4h.9M227.4 125.1h.9M222.5 125.3h.9M233.7 130.6h.9M221.0 117.5h.9M239.2 124.5h.9M238.7 129.2h.9M232.9 132.3h.9M222.5 107.0h.9M225.2 127.2h.9M232.8 123.9h.9M229.3 131.4h.9M223.2 119.5h.9M225.6 125.7h.9M222.0 115.5h.9M229.3 131.9h.9M234.7 127.6h.9M231.3 138.1h.9M224.8 138.2h.9M235.3 123.4h.9M213.1 126.3h.9M218.3 126.9h.9M223.4 134.1h.9M230.2 120.1h.9M238.4 131.6h.9M231.8 118.6h.9M228.7 130.9h.9M226.9 125.4h.9M216.3 111.6h.9M223.4 122.4h.9M233.4 129.5h.9M228.9 124.3h.9M215.3 118.4h.9M228.5 116.1h.9M205.1 119.9h.9M208.9 117.0h.9M208.6 119.5h.9M213.7 109.8h.9M210.5 121.8h.9M212.2 118.7h.9M208.2 125.8h.9M208.6 127.0h.9M226.3 125.1h.9M230.4 114.1h.9M212.6 123.1h.9M214.3 123.6h.9M202.6 116.5h.9M211.0 124.5h.9M218.6 117.9h.9M216.4 114.4h.9M212.3 124.2h.9M225.8 119.5h.9M233.3 132.7h.9M212.5 123.1h.9M206.9 119.4h.9M217.8 122.8h.9M219.5 122.1h.9M208.0 121.3h.9M213.3 117.5h.9M221.0 118.1h.9M216.4 129.9h.9M208.0 118.1h.9M219.7 130.3h.9M208.3 118.1h.9M224.0 126.2h.9M213.7 122.1h.9M201.3 129.1h.9M208.0 122.7h.9M219.0 122.4h.9M225.8 119.5h.9M216.2 123.3h.9M211.8 125.2h.9M229.1 126.6h.9M205.0 121.2h.9M220.7 121.9h.9M203.6 121.4h.9M202.1 111.7h.9M206.6 123.2h.9M219.2 116.0h.9M215.5 122.2h.9M212.5 119.2h.9M216.6 119.6h.9M209.0 121.7h.9M223.9 115.8h.9M214.5 122.1h.9M217.3 130.0h.9M205.1 130.1h.9M213.3 131.1h.9M205.7 128.0h.9M218.3 124.4h.9M203.0 131.9h.9M218.7 122.1h.9M220.7 126.8h.9M217.5 125.1h.9M222.2 123.2h.9M224.0 118.0h.9M211.8 123.8h.9M210.6 131.7h.9M210.6 124.0h.9M213.7 120.7h.9M212.4 123.4h.9M212.2 120.5h.9M225.2 122.0h.9M214.2 118.2h.9M210.9 126.0h.9M223.6 120.5h.9M206.3 121.5h.9M213.3 122.0h.9M217.4 114.2h.9M218.1 129.5h.9M205.4 130.9h.9M204.6 119.0h.9M205.7 135.1h.9M208.2 122.7h.9M221.5 120.1h.9M213.1 123.8h.9M216.0 124.5h.9M208.1 119.5h.9M210.2 124.3h.9M217.9 115.8h.9M216.0 126.0h.9M211.8 119.1h.9M220.1 114.8h.9M209.8 122.0h.9M210.0 115.8h.9M210.8 126.9h.9M209.7 129.9h.9M219.0 116.4h.9M203.9 119.6h.9M216.5 116.2h.9M201.4 116.2h.9M202.2 117.6h.9M213.6 121.6h.9M215.5 114.9h.9M212.7 126.0h.9M200.1 133.3h.9M221.4 117.1h.9M220.8 122.2h.9M208.0 119.3h.9M222.3 109.3h.9M209.6 112.2h.9M213.9 131.0h.9M208.5 121.8h.9M206.9 130.1h.9M203.6 122.5h.9M211.7 126.5h.9M218.0 127.7h.9M211.2 119.6h.9M217.7 129.2h.9M219.3 128.8h.9M223.5 120.8h.9M220.4 122.5h.9M214.0 116.4h.9M215.4 130.3h.9M212.8 117.5h.9M208.2 122.5h.9M205.8 119.4h.9M224.9 120.1h.9M207.9 126.9h.9M217.4 123.1h.9M223.4 128.0h.9M215.1 122.2h.9M210.1 127.9h.9M216.3 116.9h.9M224.0 118.5h.9M207.6 104.9h.9M207.9 128.3h.9M210.5 127.4h.9M218.9 115.4h.9M219.1 117.3h.9M210.1 121.7h.9M214.3 116.9h.9M219.7 128.7h.9M206.0 131.0h.9M212.9 123.5h.9M216.6 123.7h.9M218.3 121.0h.9M218.3 115.5h.9M204.5 114.4h.9M213.3 118.4h.9M210.0 121.5h.9M215.3 128.1h.9M216.6 118.6h.9M213.1 124.2h.9M215.4 131.9h.9M228.1 131.6h.9M225.9 127.3h.9M220.0 127.0h.9M214.2 110.1h.9M227.2 119.8h.9M209.7 123.5h.9M202.2 122.2h.9M212.6 126.1h.9M207.7 127.3h.9M198.6 124.9h.9M206.7 116.9h.9M211.1 119.8h.9M210.8 117.4h.9M216.2 127.7h.9M217.8 124.1h.9M217.7 128.6h.9M206.2 123.0h.9M218.5 116.8h.9M224.3 121.5h.9M212.1 117.1h.9M212.2 114.8h.9M216.8 113.9h.9M217.7 126.8h.9M213.9 120.5h.9M216.4 116.6h.9M207.5 118.9h.9M202.1 121.9h.9M209.8 121.2h.9M211.0 120.5h.9M213.1 119.1h.9M210.1 125.9h.9M207.5 120.1h.9M215.0 131.1h.9M216.8 117.6h.9M211.9 108.0h.9M211.1 117.6h.9M214.0 124.8h.9M210.0 123.6h.9M216.8 125.4h.9M210.1 125.9h.9M200.9 130.9h.9M225.5 119.4h.9M216.2 127.8h.9M219.5 123.1h.9M212.4 121.1h.9M212.7 130.2h.9M214.2 129.6h.9M214.6 114.3h.9M212.8 127.0h.9M208.2 126.5h.9M217.7 115.9h.9M214.1 118.5h.9M226.4 121.0h.9M208.5 121.2h.9M211.3 127.3h.9M213.4 128.2h.9M201.2 115.5h.9M208.1 108.6h.9M200.8 117.9h.9M209.5 124.0h.9M214.7 123.9h.9M214.6 129.2h.9M220.6 128.8h.9M215.2 128.2h.9M220.3 116.7h.9M217.2 129.2h.9M199.4 117.7h.9M214.8 130.7h.9M203.8 127.3h.9M218.0 125.2h.9M222.1 126.2h.9M222.7 125.4h.9M216.0 121.6h.9M213.9 115.6h.9M204.9 126.9h.9M218.7 125.3h.9M215.3 125.4h.9M212.0 121.0h.9M205.3 127.3h.9M204.9 119.3h.9M210.6 115.7h.9M219.1 127.9h.9M213.6 121.1h.9M208.1 119.1h.9M218.9 120.1h.9M220.8 130.2h.9M215.4 124.1h.9M212.2 120.1h.9M215.5 117.2h.9M212.9 118.0h.9M217.4 121.6h.9M206.7 114.8h.9M221.8 120.5h.9M214.1 120.6h.9M228.9 116.1h.9M200.1 120.2h.9M208.1 117.6h.9M204.0 122.6h.9M214.0 130.0h.9M216.4 131.3h.9M209.9 117.0h.9M215.0 121.5h.9M215.1 125.0h.9M208.6 120.4h.9M213.5 114.6h.9M206.2 118.6h.9M210.8 117.3h.9M209.9 116.5h.9M209.1 122.9h.9M206.7 121.8h.9M215.9 117.7h.9M213.5 130.0h.9M225.4 120.9h.9M199.9 130.6h.9M213.0 120.4h.9M214.2 123.2h.9M217.2 120.1h.9M215.3 120.8h.9M228.8 117.0h.9M208.8 115.5h.9M203.0 117.1h.9M217.3 125.6h.9M208.2 126.1h.9M214.7 126.2h.9M211.7 115.4h.9M227.2 129.3h.9M207.2 124.1h.9M224.1 117.1h.9M216.6 120.6h.9M214.9 121.4h.9M214.5 123.0h.9M207.0 111.8h.9M214.0 114.3h.9M214.6 125.0h.9M211.4 124.6h.9M205.6 117.1h.9M210.2 121.5h.9M212.2 126.5h.9M212.6 122.1h.9M204.4 120.4h.9M214.7 113.3h.9M221.1 116.3h.9M212.7 124.1h.9M223.1 122.1h.9M215.5 123.9h.9M210.8 116.5h.9M207.1 109.7h.9M205.8 118.7h.9M209.0 119.6h.9M212.5 120.3h.9M206.7 128.8h.9M211.9 128.5h.9M225.1 123.5h.9M201.0 122.2h.9M215.4 123.4h.9M214.7 121.0h.9M216.1 127.4h.9M215.8 113.8h.9M213.6 125.9h.9M211.5 123.6h.9M212.3 120.5h.9M207.9 114.0h.9M209.1 123.4h.9M214.3 116.3h.9M214.2 115.8h.9M214.9 121.1h.9M209.1 120.7h.9M205.9 121.7h.9M227.5 118.0h.9M217.0 121.5h.9M219.6 130.3h.9M215.4 121.7h.9M218.6 117.1h.9M220.4 117.7h.9M222.8 118.6h.9M213.5 129.1h.9M217.3 124.3h.9M219.4 129.0h.9M203.8 123.8h.9M213.9 130.2h.9M216.3 112.8h.9M208.0 113.8h.9M210.0 122.8h.9M221.3 124.3h.9M216.7 116.0h.9M213.5 119.8h.9M210.5 119.4h.9M215.1 125.1h.9M235.7 117.5h.9M214.8 116.4h.9M207.5 118.8h.9M203.2 117.5h.9M220.9 122.3h.9M217.2 121.4h.9M207.9 125.9h.9M223.0 118.9h.9M222.3 119.8h.9M209.0 117.4h.9M209.3 132.3h.9M216.6 117.8h.9M213.8 124.9h.9M217.2 124.5h.9M221.0 116.7h.9M210.1 125.7h.9M215.8 124.0h.9M205.5 118.0h.9M218.1 114.1h.9M220.9 119.8h.9M195.9 119.2h.9M206.1 116.7h.9M216.2 117.3h.9M203.5 124.1h.9M214.1 117.8h.9M217.7 116.3h.9M214.7 122.4h.9M218.4 128.5h.9M213.3 116.5h.9M220.9 115.9h.9M212.0 128.5h.9M210.8 111.3h.9M207.8 120.2h.9M202.3 128.2h.9M213.0 121.1h.9M214.1 118.7h.9M212.5 121.9h.9M207.5 125.1h.9M211.1 118.1h.9M220.2 121.6h.9M215.1 119.2h.9M221.7 124.0h.9M216.7 123.2h.9M211.0 118.4h.9M228.3 121.3h.9M207.9 122.7h.9M203.1 128.0h.9M209.8 121.6h.9M215.4 117.8h.9M219.0 122.3h.9M215.6 131.9h.9M210.2 128.3h.9M223.1 128.8h.9M216.3 115.0h.9M215.2 131.7h.9M210.8 124.4h.9M225.1 123.5h.9M222.3 122.3h.9M208.5 124.6h.9M221.9 112.0h.9M215.8 126.9h.9M212.4 115.0h.9M221.7 130.4h.9M210.0 123.4h.9M214.8 118.6h.9M222.3 116.9h.9M215.4 120.6h.9M205.2 129.6h.9M209.9 121.8h.9M215.7 122.5h.9M209.5 117.8h.9M214.3 129.7h.9M218.7 120.5h.9M210.5 118.6h.9M206.0 123.6h.9M216.4 118.8h.9M225.0 120.7h.9M213.3 113.5h.9M217.0 113.7h.9M217.8 124.5h.9M216.4 117.8h.9M206.2 124.4h.9M217.3 124.0h.9M217.9 125.3h.9M209.2 125.1h.9M217.0 127.2h.9M209.1 121.1h.9M207.3 120.1h.9M208.6 127.2h.9M221.4 116.2h.9M220.1 117.2h.9M215.3 115.5h.9M225.0 117.8h.9M209.4 128.0h.9M220.1 128.6h.9M211.3 119.6h.9M200.7 114.5h.9M219.6 118.0h.9M216.1 122.8h.9M204.9 129.7h.9M211.7 120.8h.9M217.3 126.6h.9M211.8 125.8h.9M219.2 114.6h.9M204.2 127.6h.9M228.3 128.4h.9M213.3 124.7h.9M209.3 121.5h.9M210.7 128.0h.9M209.7 124.8h.9M203.6 122.8h.9M206.7 124.2h.9M215.2 129.3h.9M219.3 117.1h.9M206.2 120.9h.9M216.6 119.6h.9M211.3 123.3h.9M228.5 122.8h.9M218.2 120.1h.9M219.0 123.3h.9M216.3 121.4h.9M217.2 128.4h.9M212.7 127.5h.9M209.0 121.8h.9M224.8 122.5h.9M223.3 120.4h.9M221.2 117.7h.9M207.3 124.2h.9M214.1 126.9h.9M218.7 112.5h.9M214.7 117.0h.9M202.6 127.4h.9M213.9 129.0h.9M205.4 117.3h.9M206.8 116.3h.9M217.6 114.8h.9M193.5 127.2h.9M221.5 122.7h.9M207.2 121.3h.9M210.8 117.8h.9M212.9 125.6h.9M211.4 119.6h.9M212.3 128.8h.9M209.0 120.9h.9M214.8 126.1h.9M206.9 124.6h.9M213.4 122.6h.9M214.0 120.4h.9M212.3 130.5h.9M221.8 128.3h.9M212.9 117.0h.9M210.4 130.3h.9M228.0 115.5h.9M223.4 124.8h.9M217.8 125.4h.9M212.2 122.0h.9M224.0 117.0h.9M216.2 117.4h.9M213.1 126.4h.9M213.2 118.1h.9M220.1 122.0h.9M216.0 123.0h.9M210.2 118.7h.9M200.1 116.6h.9M219.0 115.7h.9M214.5 119.9h.9M219.5 127.1h.9M215.6 121.4h.9M220.5 120.6h.9M217.4 130.6h.9M213.9 128.9h.9M212.9 126.2h.9M201.7 124.1h.9M204.0 124.8h.9M227.5 127.0h.9M208.4 123.4h.9M209.6 126.8h.9M227.4 123.2h.9M215.8 127.0h.9M201.0 115.2h.9M197.4 116.7h.9M202.8 129.4h.9M211.2 128.5h.9M219.3 117.9h.9M216.8 116.7h.9M210.4 127.2h.9M219.3 120.8h.9M204.7 122.4h.9M211.5 128.8h.9M221.2 124.8h.9M231.9 122.5h.9M209.5 128.5h.9M207.1 113.7h.9M215.4 118.9h.9M215.6 137.1h.9M219.0 125.8h.9M217.7 129.9h.9M224.7 117.8h.9M226.6 131.9h.9M218.6 115.6h.9M207.7 125.0h.9M212.4 123.7h.9M215.3 117.5h.9M212.7 124.9h.9M222.1 106.7h.9M218.6 126.0h.9M216.0 121.9h.9M214.4 118.7h.9M220.5 114.7h.9M218.7 92.3h.9M219.6 80.6h.9M220.1 84.4h.9M225.8 102.8h.9M217.6 70.7h.9M221.9 85.5h.9M215.9 103.5h.9M237.1 102.3h.9M228.5 73.0h.9M211.4 86.0h.9M229.5 92.7h.9M240.6 91.3h.9M227.4 84.3h.9M228.6 79.5h.9M228.8 83.8h.9M236.4 89.7h.9M237.9 88.0h.9M227.5 111.1h.9M214.9 92.9h.9M225.4 98.2h.9M216.6 96.4h.9M217.9 83.4h.9M231.5 99.8h.9M224.8 79.7h.9M223.8 102.6h.9M228.7 97.0h.9M230.4 80.6h.9M221.2 99.5h.9M234.2 81.7h.9M221.2 99.2h.9M229.7 73.5h.9M224.4 90.8h.9M225.1 106.6h.9M224.2 80.0h.9M231.6 60.3h.9M230.8 76.6h.9M226.1 94.7h.9M232.5 86.4h.9M218.4 65.3h.9M228.4 80.1h.9M218.5 80.8h.9M210.6 59.3h.9M216.9 81.2h.9M230.5 85.2h.9M225.2 80.9h.9M226.5 80.7h.9M221.0 105.6h.9M221.9 67.3h.9M219.3 79.4h.9M225.2 103.2h.9M226.9 89.4h.9M225.8 67.9h.9M225.5 93.3h.9M224.7 52.4h.9M226.4 80.2h.9M229.6 95.0h.9M221.2 68.4h.9M228.7 96.8h.9M232.0 88.2h.9M218.4 86.8h.9M221.6 123.7h.9M223.9 98.3h.9M220.1 89.3h.9M223.2 63.7h.9M222.5 65.5h.9M234.9 81.5h.9M227.5 88.0h.9M234.4 96.0h.9M225.0 73.7h.9M225.9 80.8h.9M225.1 94.3h.9M224.7 66.1h.9M232.9 100.6h.9M226.8 82.0h.9M214.4 90.1h.9M223.5 88.9h.9M231.3 93.8h.9M227.7 93.5h.9M224.4 85.1h.9M230.5 81.9h.9M227.6 83.0h.9M221.8 95.5h.9M227.1 75.0h.9M230.1 106.2h.9M225.1 95.3h.9M222.8 111.3h.9M225.6 89.2h.9M229.3 96.6h.9M227.6 92.9h.9M232.3 126.5h.9M224.0 101.1h.9M225.7 108.9h.9M225.0 80.0h.9M228.2 89.0h.9M220.0 81.5h.9M233.1 83.0h.9M224.5 78.7h.9M233.8 89.6h.9M234.1 75.2h.9M218.5 99.3h.9M227.4 89.6h.9M229.2 97.3h.9M225.8 78.3h.9M229.3 93.9h.9M221.3 122.8h.9M231.4 101.1h.9M227.5 96.9h.9M224.8 100.5h.9M212.2 106.2h.9M230.4 107.6h.9M218.1 81.1h.9M233.9 82.9h.9M231.9 92.5h.9M218.7 109.6h.9M217.8 101.3h.9M228.4 82.3h.9M233.1 96.9h.9M227.3 96.2h.9M227.6 83.0h.9M226.9 79.9h.9M235.4 62.9h.9M229.0 68.0h.9M219.2 74.7h.9M233.7 112.0h.9M231.7 90.9h.9M226.0 103.1h.9M225.2 92.0h.9M234.2 86.0h.9M229.5 110.5h.9M224.9 86.7h.9M232.9 99.9h.9M224.2 92.3h.9M225.0 79.2h.9M216.4 81.5h.9M224.1 96.9h.9M217.1 106.0h.9M218.7 83.4h.9M231.5 97.5h.9M221.8 89.1h.9M231.2 86.9h.9M235.5 94.9h.9M224.2 84.0h.9M222.9 79.2h.9M232.1 79.5h.9M229.3 91.2h.9M234.5 90.9h.9M225.1 104.8h.9M228.7 93.0h.9M222.6 100.0h.9M219.9 101.1h.9M220.4 86.2h.9M220.7 103.4h.9M235.0 80.6h.9M231.2 62.5h.9M225.4 85.5h.9M225.2 103.5h.9M233.0 82.0h.9M216.6 107.4h.9M225.3 107.1h.9M215.8 76.7h.9M223.3 93.7h.9M221.4 107.3h.9M216.1 78.2h.9M216.4 78.2h.9M225.9 92.2h.9M228.8 99.6h.9M228.5 87.3h.9M221.0 93.8h.9M220.8 93.0h.9M226.7 94.3h.9M231.2 93.9h.9M231.3 75.4h.9M226.3 61.4h.9M220.6 81.2h.9M229.6 76.9h.9M227.7 58.9h.9M222.9 107.1h.9M220.0 77.9h.9M223.0 100.7h.9M232.3 76.8h.9M233.2 91.8h.9M224.1 92.2h.9M227.0 92.6h.9M234.7 85.3h.9M218.3 84.1h.9M223.1 87.0h.9M224.7 126.5h.9M227.9 106.9h.9M216.7 77.2h.9M228.3 85.5h.9M217.7 71.2h.9M230.9 111.3h.9M225.4 99.4h.9M223.1 85.2h.9M230.6 72.1h.9M226.1 73.9h.9M220.7 82.1h.9M230.9 81.4h.9M224.3 83.0h.9M227.5 84.9h.9M233.2 71.0h.9M217.9 90.7h.9M229.8 86.9h.9M230.8 96.8h.9M238.1 69.0h.9M215.6 98.3h.9M230.3 102.5h.9M238.2 92.7h.9M228.0 76.2h.9M226.1 76.1h.9M224.0 86.3h.9M216.5 92.2h.9M233.3 94.6h.9M218.9 88.5h.9M215.6 64.5h.9M230.2 83.5h.9M231.6 87.2h.9M230.7 80.1h.9M230.5 93.2h.9M220.5 103.1h.9M225.4 71.1h.9M223.9 94.6h.9M221.0 76.0h.9M227.9 74.6h.9M220.0 83.6h.9M224.9 113.8h.9M233.9 95.8h.9M225.3 84.6h.9M224.9 103.9h.9M230.2 88.8h.9M218.9 94.0h.9M227.6 73.0h.9M232.3 73.4h.9M229.1 66.7h.9M221.6 100.3h.9M230.5 67.8h.9M223.4 107.1h.9M230.2 68.1h.9M220.3 87.2h.9M219.6 90.3h.9M234.4 70.9h.9M224.7 59.1h.9M224.7 79.8h.9M218.6 109.7h.9M222.9 107.2h.9M233.9 68.9h.9M228.6 87.9h.9M225.6 84.1h.9M215.3 103.4h.9M230.3 92.5h.9M228.1 74.9h.9M232.2 119.2h.9M223.3 98.6h.9M228.7 76.1h.9M222.4 104.4h.9M217.6 99.4h.9M215.0 105.1h.9M229.7 71.3h.9M223.7 90.2h.9M225.1 78.1h.9M216.6 85.3h.9M235.0 84.8h.9M222.4 93.5h.9M215.6 73.6h.9M218.1 102.2h.9M222.2 81.6h.9M231.0 93.4h.9M228.1 86.3h.9M228.3 91.9h.9M221.7 98.4h.9M230.2 82.6h.9M225.4 100.1h.9M231.4 81.7h.9M221.1 93.3h.9M222.0 86.2h.9M220.7 78.0h.9M222.0 56.0h.9M220.9 76.1h.9M228.4 78.2h.9M223.1 80.7h.9M216.9 105.5h.9M223.0 73.7h.9M221.7 96.1h.9M216.1 124.7h.9M226.4 74.8h.9M226.3 93.8h.9M225.3 98.1h.9M233.7 88.3h.9M217.0 90.2h.9M229.1 97.3h.9M227.0 122.1h.9M220.0 78.1h.9M232.7 95.1h.9M218.9 90.6h.9M226.5 117.7h.9M228.8 109.6h.9M223.6 115.5h.9M221.7 96.0h.9M230.6 93.6h.9M232.0 88.7h.9M222.7 83.0h.9M232.8 77.1h.9M227.4 93.2h.9M219.0 98.9h.9M230.0 92.6h.9M225.0 66.3h.9M223.2 95.5h.9M227.8 126.8h.9M227.7 87.1h.9M221.3 73.2h.9M222.6 106.4h.9M229.2 74.0h.9M229.8 89.9h.9M235.5 92.2h.9M225.5 80.6h.9M226.6 75.1h.9M221.4 92.1h.9M236.7 72.0h.9M227.2 93.4h.9M228.4 94.9h.9M233.0 72.3h.9M229.9 98.2h.9M221.6 70.3h.9M224.1 91.3h.9M232.2 77.8h.9M197.7 94.8h.9M202.0 79.6h.9M205.9 75.6h.9M209.3 95.1h.9M208.7 100.6h.9M199.8 83.6h.9M204.4 67.0h.9M189.2 87.2h.9M209.9 62.6h.9M204.9 99.2h.9M204.0 83.7h.9M203.3 66.2h.9M193.5 107.7h.9M206.8 58.6h.9M205.8 95.5h.9M204.5 74.7h.9M211.1 72.3h.9M204.1 56.9h.9M211.8 83.3h.9M203.6 65.0h.9M199.8 95.5h.9M191.8 79.2h.9M202.2 85.0h.9M202.4 108.5h.9M198.4 54.7h.9M207.7 81.7h.9M195.0 73.4h.9M204.3 90.0h.9M205.2 77.3h.9M218.8 125.6h.9M198.0 136.6h.9M226.3 138.4h.9M230.5 134.1h.9M217.1 132.1h.9M237.8 138.5h.9M235.6 132.2h.9M199.6 132.0h.9M195.4 134.6h.9M195.3 138.9h.9M198.7 131.1h.9M204.3 124.6h.9M193.5 137.3h.9M196.9 134.8h.9M232.9 133.2h.9M220.4 135.7h.9M215.3 126.6h.9M223.5 135.5h.9M218.2 124.8h.9M223.6 131.8h.9M191.7 138.8h.9M219.1 138.0h.9M194.2 139.6h.9M207.7 133.6h.9M205.0 125.3h.9M214.2 127.1h.9M222.5 134.1h.9M189.9 124.9h.9M223.3 127.3h.9M215.7 123.2h.9M195.9 126.4h.9M199.5 138.9h.9M216.2 129.2h.9M223.8 139.7h.9M219.6 126.9h.9M205.4 123.7h.9M218.6 134.2h.9M227.9 133.0h.9M230.2 123.7h.9M216.1 133.4h.9M217.5 134.3h.9M237.0 135.8h.9M220.0 139.0h.9M221.0 133.2h.9M205.5 132.4h.9M229.4 130.4h.9M203.1 131.5h.9M232.3 126.0h.9M200.9 132.4h.9M225.3 129.1h.9M201.5 138.4h.9M191.3 140.0h.9M237.2 126.0h.9M221.6 123.9h.9M199.6 126.8h.9M196.4 137.9h.9M231.5 137.3h.9M204.8 124.0h.9M225.4 138.5h.9M222.5 123.8h.9M221.3 137.0h.9M222.7 126.6h.9M228.2 134.4h.9M226.3 130.3h.9M232.4 132.4h.9M199.3 135.3h.9M194.7 135.7h.9M189.6 124.2h.9M220.6 135.9h.9M232.9 134.3h.9M206.1 124.1h.9M232.7 129.7h.9M227.8 136.5h.9M192.9 127.2h.9M212.0 127.0h.9M211.9 134.3h.9M212.6 133.8h.9M223.4 137.6h.9M206.6 133.6h.9M216.9 133.6h.9M195.8 134.2h.9M235.6 130.0h.9M210.8 126.4h.9M218.0 131.6h.9M203.9 124.3h.9M234.1 140.3h.9M234.4 138.6h.9M234.5 135.6h.9M228.0 129.3h.9M226.1 131.7h.9M193.4 138.0h.9M199.5 133.4h.9M203.2 123.0h.9M226.6 131.6h.9M193.8 139.9h.9M197.0 137.9h.9M218.2 136.6h.9M206.9 126.3h.9M234.6 138.6h.9M206.2 138.0h.9M233.8 136.0h.9M213.4 124.6h.9M202.9 130.7h.9M209.7 133.1h.9M205.8 131.6h.9M229.1 139.3h.9M232.8 132.5h.9M204.6 138.6h.9M194.7 127.4h.9M231.5 127.6h.9M207.9 135.2h.9M219.6 127.3h.9M237.2 139.8h.9M197.8 136.4h.9M209.5 125.1h.9M218.5 130.3h.9M203.0 139.0h.9M223.0 134.9h.9M212.0 130.0h.9M227.1 134.6h.9M229.4 125.6h.9M234.2 128.6h.9M200.7 131.9h.9M232.8 133.3h.9M192.1 133.0h.9M197.1 139.4h.9M210.4 126.8h.9M210.1 125.2h.9M231.2 125.7h.9M221.5 128.5h.9M214.3 124.4h.9M237.5 123.2h.9M232.8 129.0h.9M191.6 138.8h.9M220.0 126.6h.9M205.8 127.7h.9M228.5 123.6h.9M203.6 140.6h.9M234.3 137.8h.9M230.0 135.5h.9M188.7 126.9h.9M216.2 131.7h.9M209.4 132.7h.9M227.1 125.7h.9M218.7 132.7h.9M224.8 139.4h.9M217.5 132.7h.9M236.3 124.3h.9M190.3 134.6h.9M217.5 140.2h.9M227.7 126.9h.9M234.2 140.4h.9M201.5 131.4h.9M201.2 138.7h.9M212.9 138.3h.9M229.3 128.2h.9M207.4 128.2h.9M207.7 136.5h.9M202.7 139.0h.9M199.9 134.8h.9M193.4 131.4h.9M224.4 129.4h.9M192.5 138.4h.9M203.2 126.9h.9M222.3 127.9h.9M214.1 126.2h.9M209.4 125.8h.9M232.3 127.6h.9M204.1 133.6h.9M218.9 138.9h.9M232.5 129.3h.9M203.1 129.8h.9M229.6 137.1h.9M189.9 132.7h.9M217.5 136.3h.9M211.7 126.1h.9M201.6 128.1h.9M203.8 126.0h.9M191.7 138.2h.9M214.9 126.6h.9M221.4 137.5h.9M236.6 123.1h.9M219.6 131.2h.9M213.9 134.9h.9M233.0 129.9h.9M222.1 135.5h.9M208.2 129.7h.9M195.3 123.5h.9M190.4 134.4h.9M207.2 125.5h.9M228.0 132.5h.9M199.0 138.3h.9M227.8 132.2h.9M229.9 136.1h.9M219.1 135.2h.9M188.7 132.9h.9M202.9 125.7h.9M234.4 133.3h.9M234.4 128.2h.9M224.9 123.0h.9M229.7 129.4h.9M224.6 133.5h.9M211.1 129.9h.9M188.0 136.9h.9M230.0 132.9h.9M192.9 137.6h.9M197.4 135.7h.9M212.7 124.4h.9M235.7 126.6h.9M207.9 126.8h.9M214.4 136.4h.9M232.4 127.7h.9M215.4 129.5h.9M190.7 133.3h.9M216.6 137.5h.9M225.8 124.5h.9M202.0 128.3h.9M199.2 139.9h.9M236.7 132.9h.9M194.7 128.9h.9M197.2 130.2h.9M224.7 136.8h.9M228.9 129.1h.9M205.6 124.2h.9M218.9 132.4h.9M198.8 129.1h.9M199.3 138.2h.9M224.7 125.4h.9M235.9 130.9h.9M231.4 133.5h.9M219.0 136.2h.9M212.6 124.5h.9M204.1 125.0h.9M189.7 129.5h.9M220.3 134.0h.9M191.9 134.9h.9M208.1 132.6h.9M208.6 123.5h.9M211.9 135.4h.9M201.5 139.4h.9M200.8 129.1h.9M194.9 128.4h.9M204.6 133.4h.9M210.3 125.8h.9M191.5 135.5h.9M200.3 128.3h.9M219.1 135.9h.9M229.7 125.1h.9M199.8 128.2h.9M236.1 136.9h.9M227.1 137.0h.9M196.7 131.8h.9M212.9 136.9h.9M203.1 124.5h.9M202.7 135.9h.9M196.4 140.2h.9M236.0 128.6h.9M213.2 134.8h.9M223.8 129.1h.9M195.0 127.3h.9M221.2 130.9h.9M205.4 134.9h.9M203.1 126.4h.9M233.6 134.8h.9M213.8 130.3h.9M224.0 125.5h.9M192.6 124.4h.9M230.8 139.5h.9" stroke="#111" stroke-width="0.9" stroke-opacity="0.8" fill="none"/>
<rect x="158.40" y="51.50" width="104.10" height="90.30" fill="none" stroke="#3c3c3c" stroke-width="0.9"/>
<path d="M211.60 51.50V141.80" stroke="#4a4a4a" stroke-width="0.9" fill="none"/><path d="M158.40 107.40H262.50" stroke="#6a6a6a" stroke-width="0.8" fill="none"/>
<path d="M166.23 141.80v-1.2M158.40 135.00h1.2M170.82 141.80v-1.2M158.40 131.03h1.2M174.07 141.80v-1.2M158.40 128.21h1.2M176.59 141.80v-1.2M158.40 126.02h1.2M178.65 141.80v-1.2M158.40 124.23h1.2M180.39 141.80v-1.2M158.40 122.72h1.2M181.90 141.80v-1.2M158.40 121.41h1.2M183.23 141.80v-1.2M158.40 120.26h1.2M192.26 141.80v-1.2M158.40 112.43h1.2M196.84 141.80v-1.2M158.40 108.45h1.2M200.09 141.80v-1.2M158.40 105.63h1.2M202.62 141.80v-1.2M158.40 103.45h1.2M204.68 141.80v-1.2M158.40 101.66h1.2M206.42 141.80v-1.2M158.40 100.15h1.2M207.93 141.80v-1.2M158.40 98.84h1.2M209.26 141.80v-1.2M158.40 97.68h1.2M218.28 141.80v-1.2M158.40 89.85h1.2M222.87 141.80v-1.2M158.40 85.88h1.2M226.12 141.80v-1.2M158.40 83.06h1.2M228.64 141.80v-1.2M158.40 80.87h1.2M230.70 141.80v-1.2M158.40 79.08h1.2M232.44 141.80v-1.2M158.40 77.57h1.2M233.95 141.80v-1.2M158.40 76.26h1.2M235.28 141.80v-1.2M158.40 75.11h1.2M244.31 141.80v-1.2M158.40 67.28h1.2M248.89 141.80v-1.2M158.40 63.30h1.2M252.14 141.80v-1.2M158.40 60.48h1.2M254.67 141.80v-1.2M158.40 58.30h1.2M256.73 141.80v-1.2M158.40 56.51h1.2M258.47 141.80v-1.2M158.40 55.00h1.2M259.98 141.80v-1.2M158.40 53.69h1.2M261.31 141.80v-1.2M158.40 52.53h1.2" stroke="#555" stroke-width="0.5" fill="none"/>
<text x="158.60" y="149.4" font-size="7.4" fill="#222">10<tspan dy="-2.6" font-size="4.4">0</tspan></text>
<text x="184.62" y="149.4" font-size="7.4" fill="#222">10<tspan dy="-2.6" font-size="4.4">1</tspan></text>
<text x="210.65" y="149.4" font-size="7.4" fill="#222">10<tspan dy="-2.6" font-size="4.4">2</tspan></text>
<text x="236.67" y="149.4" font-size="7.4" fill="#222">10<tspan dy="-2.6" font-size="4.4">3</tspan></text>
<text x="262.70" y="149.4" font-size="7.4" fill="#222">10<tspan dy="-2.6" font-size="4.4">4</tspan></text>
<path d="M340.6 71.2h.9M341.8 78.7h.9M339.8 78.7h.9M341.9 78.7h.9M341.9 77.6h.9M343.4 72.2h.9M345.5 78.1h.9M340.0 69.8h.9M345.8 77.8h.9M345.9 78.5h.9M341.9 71.6h.9M342.7 78.3h.9M345.4 77.3h.9M340.8 69.0h.9M343.3 80.5h.9M346.3 72.7h.9M347.8 76.9h.9M340.4 80.0h.9M344.5 72.1h.9M346.7 74.4h.9M345.8 67.4h.9M342.1 75.1h.9M338.4 79.4h.9M343.4 73.0h.9M343.1 79.8h.9M342.9 79.5h.9M347.0 78.5h.9M342.3 81.2h.9M340.4 67.7h.9M339.1 68.5h.9M340.8 74.1h.9M341.4 80.4h.9M339.0 80.7h.9M344.6 80.1h.9M345.3 71.5h.9M344.4 76.5h.9M343.0 69.1h.9M339.6 84.3h.9M344.1 82.3h.9M338.7 83.1h.9M340.8 73.7h.9M339.6 82.5h.9M344.2 70.2h.9M341.5 75.3h.9M341.5 77.2h.9M345.3 75.4h.9M343.4 81.5h.9M341.0 71.9h.9M342.9 80.5h.9M340.6 71.1h.9M338.7 71.1h.9M344.7 78.4h.9M342.7 75.4h.9M342.8 79.6h.9M341.6 72.3h.9M348.2 75.5h.9M341.2 79.7h.9M341.6 73.0h.9M343.5 69.3h.9M343.9 69.1h.9M339.3 77.0h.9M347.1 73.5h.9M343.3 74.2h.9M345.3 74.8h.9M337.1 73.0h.9M349.7 74.8h.9M339.4 70.0h.9M341.8 80.0h.9M338.9 71.0h.9M343.0 85.1h.9M343.0 76.5h.9M345.1 73.8h.9M349.3 75.5h.9M345.3 75.6h.9M345.7 74.1h.9M338.7 78.1h.9M341.1 74.0h.9M345.1 78.6h.9M340.5 78.5h.9M339.5 69.7h.9M340.8 74.2h.9M345.4 79.6h.9M342.2 71.2h.9M341.3 70.8h.9M343.1 79.1h.9M344.6 71.7h.9M344.6 82.8h.9M338.2 74.5h.9M347.3 69.7h.9M342.3 79.2h.9M341.9 79.3h.9M344.4 78.7h.9M339.2 70.1h.9M345.4 71.9h.9M339.1 70.1h.9M340.6 69.3h.9M343.2 72.2h.9M347.5 75.8h.9M344.1 78.2h.9M345.1 80.4h.9M341.9 71.1h.9M348.0 74.6h.9M341.3 72.3h.9M343.5 83.4h.9M336.9 85.5h.9M344.2 81.6h.9M340.1 74.0h.9M342.2 80.6h.9M339.4 76.6h.9M338.0 79.3h.9M342.0 80.4h.9M342.8 75.5h.9M339.9 72.4h.9M344.7 78.4h.9M339.8 77.7h.9M346.1 74.6h.9M345.3 77.4h.9M341.0 82.8h.9M346.5 70.9h.9M340.8 71.5h.9M345.5 74.9h.9M344.3 76.9h.9M342.9 77.9h.9M345.0 77.1h.9M341.1 79.7h.9M341.9 67.2h.9M347.5 73.1h.9M341.1 84.5h.9M345.7 79.3h.9M343.8 77.3h.9M341.0 70.2h.9M342.9 71.4h.9M344.6 74.4h.9M342.0 71.5h.9M346.0 79.0h.9M345.7 74.2h.9M345.8 79.4h.9M341.7 74.4h.9M345.1 68.6h.9M343.7 75.2h.9M345.8 70.3h.9M341.0 75.8h.9M339.6 67.9h.9M345.7 68.8h.9M340.9 81.2h.9M340.1 76.7h.9M338.9 76.0h.9M343.6 76.0h.9M342.1 79.5h.9M344.7 81.5h.9M345.1 74.8h.9M349.0 70.1h.9M343.0 72.5h.9M341.2 82.0h.9M343.9 78.3h.9M341.4 73.8h.9M338.8 75.9h.9M342.5 73.7h.9M342.2 73.8h.9M341.6 85.2h.9M345.0 77.8h.9M339.8 70.9h.9M344.8 69.4h.9M338.9 82.9h.9M341.6 74.3h.9M339.1 79.6h.9M343.9 68.3h.9M344.3 77.0h.9M342.1 81.0h.9M347.0 78.1h.9M343.3 81.2h.9M342.8 75.3h.9M340.1 66.7h.9M341.4 74.1h.9M341.9 70.2h.9M346.5 67.2h.9M339.9 71.9h.9M339.8 76.0h.9M343.8 69.5h.9M340.4 72.8h.9M344.0 77.7h.9M345.1 73.0h.9M341.2 73.7h.9M339.5 78.9h.9M337.3 79.8h.9M343.3 71.9h.9M347.2 80.5h.9M340.8 78.0h.9M340.1 84.0h.9M345.3 71.9h.9M340.6 80.6h.9M343.5 80.6h.9M337.4 71.9h.9M343.3 72.7h.9M345.5 69.3h.9M347.5 76.9h.9M344.5 74.2h.9M342.3 85.9h.9M343.8 86.3h.9M341.5 76.0h.9M343.8 69.0h.9M341.9 73.2h.9M338.6 82.4h.9M342.8 77.8h.9M341.6 77.8h.9M344.6 80.0h.9M345.0 77.9h.9M339.3 74.2h.9M347.2 67.0h.9M339.4 73.8h.9M344.3 75.3h.9M342.7 84.0h.9M343.5 73.7h.9M341.6 71.9h.9M339.2 69.7h.9M338.1 79.6h.9M341.3 69.5h.9M343.6 83.1h.9M342.2 75.6h.9M343.3 77.8h.9M344.1 75.4h.9M344.3 75.2h.9M341.5 75.4h.9M340.2 82.5h.9M348.3 79.8h.9M339.5 75.6h.9M342.0 78.7h.9M343.4 72.0h.9M346.0 69.2h.9M337.9 81.0h.9M343.9 81.8h.9M343.3 74.9h.9M347.0 74.4h.9M344.3 73.6h.9M342.2 78.0h.9M336.8 75.2h.9M345.5 78.5h.9M340.6 80.0h.9M341.1 80.6h.9M340.4 75.4h.9M339.5 67.1h.9M337.6 70.7h.9M344.7 81.7h.9M340.6 79.6h.9M343.8 77.8h.9M343.3 78.7h.9M340.8 71.5h.9M345.5 70.7h.9M343.4 72.9h.9M341.9 70.3h.9M342.4 77.3h.9M341.1 73.5h.9M341.0 80.4h.9M343.6 71.4h.9M343.1 69.3h.9M342.5 71.4h.9M341.0 72.8h.9M344.5 75.8h.9M344.6 72.9h.9M345.9 70.5h.9M347.4 82.0h.9M337.5 80.4h.9M346.5 72.9h.9M341.5 76.6h.9M346.9 72.3h.9M348.7 74.6h.9M340.2 77.5h.9M340.3 85.3h.9M338.5 69.7h.9M340.0 79.6h.9M338.6 76.3h.9M343.9 75.9h.9M343.4 78.6h.9M341.5 69.8h.9M347.3 77.3h.9M343.7 77.7h.9M339.0 75.0h.9M343.6 69.2h.9M343.9 84.1h.9M347.2 80.6h.9M342.2 77.1h.9M347.5 75.6h.9M346.9 76.7h.9M346.0 80.3h.9M342.8 78.6h.9M341.9 72.0h.9M341.7 76.2h.9M345.0 82.3h.9M339.1 80.1h.9M346.4 73.2h.9M338.9 72.7h.9M342.0 72.2h.9M339.1 80.4h.9M340.6 76.1h.9M341.7 73.7h.9M340.6 76.8h.9M337.8 75.9h.9M344.6 81.4h.9M341.2 81.3h.9M342.5 72.5h.9M344.2 75.6h.9M343.3 81.0h.9M343.9 76.3h.9M343.7 78.4h.9M342.2 73.4h.9M338.7 74.9h.9M340.4 74.4h.9M344.6 70.6h.9M343.6 81.0h.9M346.5 71.5h.9M340.4 83.8h.9M343.6 80.2h.9M343.3 79.0h.9M348.8 83.3h.9M344.3 82.2h.9M344.1 69.6h.9M344.6 73.1h.9M344.1 80.0h.9M338.4 74.9h.9M343.1 72.5h.9M342.3 66.8h.9M344.6 74.5h.9M340.8 82.2h.9M339.6 68.8h.9M344.1 77.8h.9M339.9 69.8h.9M342.8 77.0h.9M343.9 69.8h.9M342.8 71.5h.9M339.6 73.2h.9M337.6 77.4h.9M341.7 80.9h.9M339.9 75.5h.9M343.2 70.8h.9M344.4 72.7h.9M339.8 76.4h.9M342.8 78.5h.9M339.5 77.8h.9M345.2 78.4h.9M346.2 79.1h.9M344.4 72.1h.9M347.7 73.5h.9M345.2 71.3h.9M344.5 77.3h.9M344.1 76.7h.9M342.1 72.8h.9M339.4 83.9h.9M345.4 77.5h.9M338.6 76.7h.9M339.9 81.5h.9M343.9 76.9h.9M341.8 77.3h.9M344.9 74.8h.9M341.1 81.5h.9M339.8 71.4h.9M343.0 72.9h.9M339.4 72.0h.9M340.9 77.3h.9M342.4 70.1h.9M346.1 74.8h.9M344.2 80.7h.9M343.5 75.9h.9M338.8 76.0h.9M340.6 76.1h.9M341.7 68.9h.9M346.9 72.6h.9M338.6 73.5h.9M342.1 73.6h.9M337.7 74.1h.9M342.7 76.3h.9M346.9 78.2h.9M343.8 81.4h.9M341.9 82.5h.9M343.0 77.8h.9M342.5 69.3h.9M346.3 80.8h.9M343.5 84.0h.9M345.0 71.8h.9M341.0 81.2h.9M343.9 74.1h.9M343.7 84.8h.9M338.9 78.1h.9M344.7 76.9h.9M344.5 84.4h.9M347.4 77.7h.9M343.0 78.8h.9M344.2 74.0h.9M343.5 75.5h.9M343.5 79.1h.9M343.4 69.9h.9M344.5 72.4h.9M338.9 81.3h.9M348.0 83.5h.9M337.6 75.7h.9M344.0 75.3h.9M347.5 83.1h.9M343.6 83.5h.9M347.1 81.6h.9M341.0 76.4h.9M339.4 77.6h.9M341.1 74.8h.9M339.3 76.5h.9M343.2 81.4h.9M341.3 82.1h.9M344.3 68.8h.9M340.1 77.2h.9M346.0 73.2h.9M341.4 81.6h.9M340.8 68.9h.9M338.4 70.6h.9M344.9 78.4h.9M347.3 70.2h.9M338.2 74.2h.9M342.2 67.9h.9M340.0 81.2h.9M346.1 77.7h.9M343.9 74.9h.9M342.6 66.7h.9M346.3 75.2h.9M341.6 76.7h.9M341.0 79.9h.9M340.8 70.8h.9M340.0 77.5h.9M343.7 68.4h.9M343.7 76.7h.9M340.1 82.7h.9M339.8 75.0h.9M342.2 67.3h.9M342.7 79.8h.9M344.1 81.4h.9M343.1 76.7h.9M340.8 67.0h.9M344.0 79.3h.9M343.6 71.0h.9M342.7 73.8h.9M341.3 76.7h.9M346.2 76.3h.9M345.4 79.9h.9M343.7 72.1h.9M344.7 70.7h.9M338.9 76.1h.9M343.2 71.7h.9M338.4 79.9h.9M344.7 72.8h.9M343.6 69.9h.9M345.4 71.5h.9M340.4 69.4h.9M347.0 76.4h.9M344.1 77.6h.9M341.6 69.7h.9M338.5 75.2h.9M345.7 75.9h.9M344.5 77.6h.9M340.8 75.5h.9M342.7 78.2h.9M346.4 71.8h.9M344.5 80.4h.9M340.2 66.5h.9M345.6 81.0h.9M346.7 75.1h.9M342.2 70.1h.9M340.5 77.1h.9M341.5 74.9h.9M340.9 81.6h.9M339.4 77.7h.9M343.3 76.8h.9M343.5 80.0h.9M340.7 79.2h.9M343.8 73.7h.9M346.2 76.4h.9M340.8 79.2h.9M341.7 71.0h.9M341.3 82.0h.9M343.8 73.0h.9M342.4 72.3h.9M343.9 72.8h.9M346.3 78.1h.9M347.6 73.5h.9M341.1 77.8h.9M346.8 83.0h.9M344.2 77.3h.9M340.9 81.8h.9M342.6 74.1h.9M344.7 75.8h.9M337.3 76.1h.9M338.3 70.0h.9M340.1 77.6h.9M341.5 72.5h.9M343.1 83.1h.9M347.0 69.6h.9M341.8 70.6h.9M343.9 79.2h.9M343.1 75.2h.9M340.6 77.4h.9M339.4 79.4h.9M343.5 82.6h.9M346.2 82.9h.9M341.4 68.3h.9M339.5 78.5h.9M342.0 76.2h.9M341.6 72.5h.9M340.8 74.9h.9M345.5 72.8h.9M346.7 80.9h.9M340.7 81.0h.9M345.6 71.4h.9M344.4 71.8h.9M343.8 75.8h.9M342.3 69.1h.9M346.7 71.8h.9M342.2 78.2h.9M338.2 72.7h.9M345.6 77.5h.9M342.1 75.9h.9M343.5 78.3h.9M339.5 70.7h.9M341.7 71.0h.9M337.9 75.1h.9M335.7 78.4h.9M337.0 72.7h.9M346.7 78.1h.9M339.5 73.2h.9M343.9 72.0h.9M338.8 74.3h.9M338.4 73.2h.9M343.8 77.0h.9M338.3 81.3h.9M342.3 67.8h.9M340.8 76.5h.9M348.0 77.3h.9M343.4 78.0h.9M345.6 77.6h.9M343.8 72.3h.9M339.5 74.1h.9M343.1 82.3h.9M343.0 82.8h.9M341.8 71.2h.9M343.6 71.6h.9M341.3 73.4h.9M344.7 69.4h.9M345.4 80.0h.9M338.8 80.5h.9M339.6 79.9h.9M340.0 74.4h.9M338.5 82.7h.9M337.1 69.1h.9M343.0 74.3h.9M338.7 74.8h.9M346.0 78.2h.9M340.6 79.3h.9M342.3 78.9h.9M344.9 72.0h.9M342.1 80.8h.9M341.0 76.8h.9M342.1 70.7h.9M342.2 68.3h.9M341.5 83.3h.9M339.7 74.0h.9M344.0 72.0h.9M340.5 84.8h.9M347.7 70.0h.9M345.4 76.0h.9M344.6 87.3h.9M342.0 77.3h.9M340.9 72.6h.9M337.9 75.1h.9M347.0 73.9h.9M343.4 80.1h.9M342.5 84.5h.9M348.5 71.3h.9M340.0 72.2h.9M343.6 74.1h.9M339.0 83.5h.9M341.6 77.6h.9M345.0 78.5h.9M341.9 78.6h.9M341.8 79.6h.9M342.9 71.3h.9M341.1 75.7h.9M344.1 76.5h.9M341.5 76.0h.9M344.1 73.5h.9M340.3 71.0h.9M344.7 78.9h.9M339.8 78.2h.9M341.4 76.0h.9M342.0 81.8h.9M339.5 80.7h.9M345.7 74.5h.9M344.2 72.4h.9M343.3 74.3h.9M343.0 80.5h.9M348.6 82.6h.9M339.6 70.8h.9M339.4 81.6h.9M341.7 73.8h.9M341.0 78.3h.9M343.2 71.3h.9M340.9 76.9h.9M341.4 72.1h.9M345.2 75.4h.9M340.5 77.2h.9M342.1 74.1h.9M347.0 77.6h.9M340.7 74.5h.9M345.4 78.7h.9M340.9 67.7h.9M343.6 81.1h.9M338.7 68.1h.9M341.6 77.3h.9M343.4 77.0h.9M338.7 72.6h.9M342.6 74.9h.9M343.9 70.5h.9M342.3 73.5h.9M343.0 77.9h.9M343.6 78.1h.9M342.4 77.3h.9M342.3 73.5h.9M340.9 69.4h.9M341.0 70.7h.9M337.9 75.7h.9M338.4 76.9h.9M342.6 72.6h.9M342.8 73.6h.9M341.8 77.7h.9M343.6 70.8h.9M340.7 73.5h.9M342.4 74.3h.9M342.0 72.5h.9M347.3 70.4h.9M342.9 68.4h.9M342.1 81.6h.9M344.3 78.5h.9M345.7 73.8h.9M345.1 82.4h.9M339.1 65.1h.9M340.5 75.1h.9M340.4 79.0h.9M338.5 74.9h.9M342.1 78.5h.9M342.2 79.5h.9M344.0 80.9h.9M340.9 71.1h.9M338.8 76.0h.9M340.5 81.2h.9M347.0 82.0h.9M345.5 70.7h.9M347.1 78.2h.9M340.0 83.3h.9M342.0 79.7h.9M341.8 71.1h.9M344.8 72.0h.9M341.0 71.7h.9M340.6 68.4h.9M342.1 71.8h.9M344.1 70.4h.9M345.5 75.9h.9M341.7 76.0h.9M345.7 78.8h.9M343.1 73.2h.9M342.0 84.0h.9M341.4 70.5h.9M345.3 78.1h.9M339.3 72.3h.9M343.5 81.3h.9M340.8 74.3h.9M343.8 77.9h.9M344.4 70.4h.9M341.6 74.4h.9M342.6 73.5h.9M337.0 69.6h.9M344.2 73.0h.9M341.0 77.1h.9M342.0 73.7h.9M344.4 74.6h.9M345.9 74.9h.9M340.4 80.3h.9M342.2 72.3h.9M348.4 80.0h.9M338.5 77.2h.9M342.0 76.1h.9M341.2 71.6h.9M343.9 82.1h.9M346.2 77.6h.9M340.7 74.1h.9M343.1 74.7h.9M344.4 78.6h.9M342.6 79.5h.9M346.2 78.1h.9M340.7 81.8h.9M340.2 84.1h.9M346.8 76.6h.9M340.0 82.4h.9M344.4 76.1h.9M345.7 74.8h.9M341.5 66.0h.9M342.2 84.3h.9M342.5 82.9h.9M342.9 75.6h.9M337.8 69.5h.9M341.6 66.1h.9M339.8 79.2h.9M343.0 80.4h.9M340.6 66.0h.9M342.4 70.0h.9M342.3 70.9h.9M342.7 76.9h.9M340.5 82.1h.9M340.0 70.0h.9M343.4 75.6h.9M349.3 76.8h.9M338.6 84.2h.9M347.6 77.8h.9M340.8 79.7h.9M346.0 82.7h.9M345.3 80.5h.9M345.6 81.8h.9M344.7 73.9h.9M341.3 78.1h.9M336.1 78.4h.9M346.4 79.5h.9M340.1 66.6h.9M346.9 78.6h.9M342.5 66.2h.9M344.5 71.8h.9M338.6 70.8h.9M342.1 70.0h.9M341.5 80.4h.9M343.9 69.4h.9M340.1 73.1h.9M341.4 81.4h.9M344.7 74.5h.9M340.9 78.6h.9M342.0 66.2h.9M344.1 77.5h.9M340.2 73.1h.9M344.6 81.7h.9M347.7 76.1h.9M341.5 70.6h.9M343.3 69.5h.9M340.0 80.6h.9M343.8 70.3h.9M341.7 75.0h.9M341.2 72.4h.9M346.1 77.7h.9M339.1 83.6h.9M342.6 77.7h.9M339.8 77.0h.9M338.8 80.7h.9M338.9 77.1h.9M341.3 78.4h.9M341.3 77.1h.9M343.0 71.6h.9M339.1 70.6h.9M342.3 74.9h.9M340.6 84.6h.9M344.0 78.7h.9M337.3 79.6h.9M343.4 78.6h.9M346.3 72.7h.9M345.8 75.4h.9M344.0 72.9h.9M348.3 81.2h.9M338.5 77.8h.9M342.8 76.5h.9M337.4 80.9h.9M343.5 81.8h.9M347.2 79.7h.9M342.5 82.6h.9M344.8 76.8h.9M344.3 77.2h.9M342.1 73.7h.9M342.4 75.3h.9M340.3 79.2h.9M344.8 69.7h.9M341.0 70.4h.9M344.5 79.4h.9M344.3 72.9h.9M343.2 72.7h.9M340.4 70.6h.9M340.1 76.6h.9M344.1 74.7h.9M342.9 71.0h.9M343.2 82.2h.9M344.1 71.6h.9M345.3 74.4h.9M343.0 71.8h.9M344.6 74.0h.9M344.0 79.5h.9M337.7 76.6h.9M343.4 83.7h.9M346.5 73.2h.9M337.8 75.1h.9M344.2 67.9h.9M342.0 73.6h.9M341.6 81.8h.9M341.8 72.8h.9M339.4 69.2h.9M338.9 76.9h.9M346.6 75.9h.9M340.5 82.9h.9M338.2 66.7h.9M340.5 77.2h.9M345.8 72.4h.9M342.7 80.3h.9M341.0 74.1h.9M343.2 73.1h.9M342.8 74.0h.9M341.4 80.6h.9M340.5 69.8h.9M342.6 72.7h.9M343.8 69.3h.9M344.4 77.1h.9M343.7 80.9h.9M340.8 71.3h.9M346.2 71.5h.9M341.0 75.1h.9M345.0 76.4h.9M339.6 73.5h.9M346.0 80.6h.9M341.6 70.4h.9M345.2 84.4h.9M343.7 72.7h.9M345.8 70.7h.9M345.2 81.1h.9M343.3 76.5h.9M339.5 79.5h.9M337.8 81.0h.9M345.4 72.6h.9M347.7 76.2h.9M343.0 70.3h.9M342.1 70.9h.9M344.7 70.2h.9M344.6 82.4h.9M338.4 75.9h.9M343.0 70.8h.9M343.8 72.7h.9M348.0 68.0h.9M343.2 83.2h.9M343.1 76.5h.9M342.9 70.4h.9M346.1 74.3h.9M339.8 79.7h.9M341.1 75.7h.9M342.6 76.1h.9M346.1 83.6h.9M339.1 85.6h.9M340.9 75.5h.9M341.5 72.6h.9M340.1 66.5h.9M343.0 74.1h.9M343.4 71.6h.9M340.4 72.1h.9M342.4 82.1h.9M344.0 83.7h.9M344.0 78.7h.9M343.3 71.3h.9M341.5 70.6h.9M341.5 76.8h.9M342.5 80.5h.9M344.9 80.0h.9M341.0 73.7h.9M340.3 71.7h.9M338.3 77.2h.9M347.4 83.3h.9M342.9 80.9h.9M343.9 69.2h.9M344.2 70.5h.9M341.3 74.5h.9M346.9 70.9h.9M344.7 69.8h.9M345.2 74.2h.9M342.3 74.3h.9M343.8 67.0h.9M344.9 73.0h.9M339.7 75.4h.9M346.8 75.6h.9M344.3 81.8h.9M343.6 74.4h.9M340.8 77.8h.9M345.1 74.0h.9M342.2 74.6h.9M339.8 79.1h.9M340.5 74.6h.9M339.2 82.9h.9M346.4 70.6h.9M340.8 77.2h.9M346.8 72.1h.9M347.4 75.5h.9M341.3 68.1h.9M343.6 76.6h.9M338.4 73.1h.9M340.3 79.6h.9M347.4 82.8h.9M343.1 77.3h.9M341.2 79.6h.9M344.9 72.1h.9M340.5 75.7h.9M342.2 75.7h.9M342.3 72.8h.9M344.5 77.8h.9M341.0 68.7h.9M345.9 74.5h.9M345.5 72.2h.9M342.1 69.3h.9M347.0 68.1h.9M346.0 76.5h.9M339.7 78.4h.9M344.1 70.5h.9M337.3 73.7h.9M349.7 80.6h.9M347.3 72.4h.9M339.3 77.4h.9M346.5 77.6h.9M340.0 75.9h.9M346.5 77.9h.9M343.7 84.5h.9M343.8 71.8h.9M339.9 76.0h.9M340.2 77.5h.9M343.9 73.5h.9M344.7 74.6h.9M347.1 76.5h.9M345.5 81.6h.9M343.7 76.0h.9M340.1 73.0h.9M345.1 78.3h.9M340.9 70.4h.9M339.9 74.7h.9M342.4 73.8h.9M345.1 70.8h.9M345.8 77.5h.9M343.4 78.5h.9M344.3 78.7h.9M342.7 75.1h.9M339.8 77.1h.9M340.3 73.3h.9M345.9 69.0h.9M339.8 73.0h.9M344.2 69.5h.9M338.6 75.6h.9M340.8 67.9h.9M343.2 75.0h.9M340.8 76.3h.9M348.2 76.6h.9M344.1 77.9h.9M339.3 81.5h.9M344.2 83.8h.9M343.6 73.0h.9M343.3 69.0h.9M343.0 78.8h.9M338.5 70.1h.9M342.2 75.2h.9M343.6 74.8h.9M339.5 71.6h.9M339.3 72.3h.9M347.8 71.0h.9M342.7 74.4h.9M341.6 67.1h.9M344.8 79.9h.9M341.0 72.3h.9M341.2 71.4h.9M343.5 75.6h.9M341.3 74.5h.9M343.2 77.1h.9M340.3 83.3h.9M338.9 75.6h.9M341.4 78.5h.9M342.0 77.7h.9M341.8 73.9h.9M344.5 77.6h.9M341.3 70.9h.9M342.0 72.5h.9M342.5 80.2h.9M341.3 72.7h.9M340.9 77.7h.9M348.5 69.6h.9M345.1 79.6h.9M341.3 70.0h.9M347.1 72.6h.9M340.6 80.3h.9M340.6 72.3h.9M338.8 74.2h.9M338.7 83.3h.9M344.5 80.0h.9M337.4 72.3h.9M343.7 68.4h.9M345.3 79.1h.9M347.5 70.8h.9M344.5 76.0h.9M341.3 72.3h.9M344.3 73.4h.9M337.9 73.4h.9M341.1 69.0h.9M341.4 74.1h.9M341.9 78.1h.9M347.9 83.9h.9M341.4 80.9h.9M344.8 77.5h.9M345.7 76.3h.9M343.9 76.7h.9M342.6 73.2h.9M338.8 79.4h.9M339.4 80.2h.9M344.1 81.0h.9M340.4 82.2h.9M341.7 66.0h.9M338.5 75.0h.9M342.5 76.6h.9M341.9 73.4h.9M342.2 73.1h.9M340.8 77.5h.9M346.2 82.4h.9M340.6 69.0h.9M343.1 74.8h.9M346.9 73.4h.9M342.1 70.9h.9M344.6 74.7h.9M340.3 78.9h.9M344.3 76.7h.9M343.7 64.8h.9M346.9 69.2h.9M340.1 70.2h.9M342.8 75.0h.9M341.5 70.8h.9M342.6 69.5h.9M344.6 75.0h.9M342.3 72.6h.9M342.7 81.7h.9M344.3 74.4h.9M339.3 71.3h.9M344.5 73.1h.9M342.7 77.0h.9M345.9 76.9h.9M348.2 74.6h.9M340.0 66.1h.9M344.8 70.9h.9M345.8 75.4h.9M345.6 69.6h.9M345.9 66.1h.9M344.1 77.3h.9M339.3 69.6h.9M339.9 68.3h.9M339.5 81.6h.9M343.8 76.9h.9M341.7 70.6h.9M337.6 81.5h.9M342.5 76.2h.9M342.8 77.2h.9M343.8 79.8h.9M341.1 75.5h.9M341.8 76.4h.9M345.2 76.6h.9M345.3 74.2h.9M339.5 76.1h.9M341.1 83.0h.9M344.6 73.5h.9M343.0 73.8h.9M344.6 75.7h.9M345.9 73.5h.9M345.9 73.1h.9M344.3 77.7h.9M342.7 80.2h.9M339.1 72.3h.9M345.5 76.6h.9M342.4 79.6h.9M343.5 69.9h.9M343.5 68.5h.9M344.0 71.1h.9M344.3 77.9h.9M345.3 84.5h.9M344.1 74.2h.9M343.9 68.8h.9M345.5 77.5h.9M341.8 75.4h.9M345.3 74.6h.9M345.1 67.7h.9M346.0 74.3h.9M347.2 72.1h.9M343.7 80.1h.9M342.3 69.2h.9M340.5 65.5h.9M345.4 78.2h.9M346.0 67.7h.9M340.1 72.3h.9M346.6 73.3h.9M343.6 70.2h.9M342.9 76.9h.9M345.7 82.6h.9M345.1 68.5h.9M342.1 85.3h.9M346.3 68.6h.9M339.5 76.4h.9M343.0 71.0h.9M341.2 82.3h.9M342.2 74.1h.9M341.7 79.5h.9M344.7 84.1h.9M344.6 83.9h.9M341.1 72.5h.9M342.2 78.1h.9M345.6 77.3h.9M347.9 71.9h.9M346.5 74.3h.9M340.1 71.6h.9M339.2 73.6h.9M341.3 76.2h.9M342.1 79.4h.9M344.2 84.7h.9M342.7 77.0h.9M342.7 73.6h.9M338.2 75.6h.9M345.7 74.2h.9M338.2 67.9h.9M341.1 82.1h.9M340.2 76.8h.9M340.2 77.5h.9M341.2 80.4h.9M341.4 77.8h.9M345.2 81.9h.9M345.1 65.0h.9M344.3 73.9h.9M341.3 71.1h.9M348.1 66.9h.9M345.1 78.4h.9M343.5 69.7h.9M345.9 70.2h.9M342.7 71.0h.9M346.4 70.1h.9M341.2 70.4h.9M340.0 76.8h.9M346.6 78.5h.9M337.7 80.6h.9M340.6 76.4h.9M342.7 78.0h.9M344.8 76.8h.9M344.7 80.9h.9M342.9 74.1h.9M339.4 75.9h.9M340.8 80.0h.9M342.1 70.2h.9M345.5 81.9h.9M345.4 79.8h.9M347.0 75.6h.9M339.0 77.5h.9M338.9 78.0h.9M347.5 79.4h.9M343.2 71.5h.9M348.3 79.1h.9M345.8 76.9h.9M347.4 72.6h.9M339.1 80.8h.9M342.8 72.5h.9M344.3 71.7h.9M342.9 69.4h.9M343.7 74.6h.9M339.5 74.8h.9M342.3 72.3h.9M339.2 81.0h.9M344.9 74.8h.9M341.5 79.0h.9M344.4 73.3h.9M343.2 72.4h.9M346.3 75.9h.9M338.7 72.8h.9M342.5 70.5h.9M342.1 73.0h.9M343.2 78.7h.9M340.8 74.7h.9M339.9 90.6h.9M344.0 70.0h.9M338.6 71.5h.9M342.7 72.1h.9M342.3 74.4h.9M342.8 70.1h.9M342.2 74.5h.9M343.8 78.2h.9M342.0 75.0h.9M341.4 74.3h.9M344.9 75.0h.9M341.3 75.6h.9M345.7 71.0h.9M342.3 81.2h.9M340.3 82.4h.9M341.5 64.4h.9M347.2 75.1h.9M340.7 69.8h.9M346.3 79.8h.9M341.9 75.5h.9M343.5 77.2h.9M339.0 77.9h.9M341.5 71.1h.9M343.4 81.3h.9M342.4 72.0h.9M339.2 77.3h.9M339.4 79.4h.9M343.9 79.7h.9M343.5 76.5h.9M344.1 68.9h.9M343.3 71.6h.9M345.7 67.3h.9M342.3 79.6h.9M341.4 77.7h.9M343.5 71.2h.9M341.4 72.1h.9M341.6 80.6h.9M340.2 80.5h.9M341.9 69.1h.9M343.2 81.0h.9M339.9 70.6h.9M340.0 73.8h.9M343.4 75.1h.9M343.9 83.9h.9M340.2 75.9h.9M342.5 66.7h.9M343.9 84.0h.9M343.2 75.5h.9M340.2 69.5h.9M341.2 82.7h.9M340.2 75.8h.9M344.2 77.4h.9M341.4 70.9h.9M338.4 81.2h.9M344.2 70.7h.9M340.5 77.8h.9M341.0 76.0h.9M342.6 76.9h.9M342.6 83.9h.9M342.5 73.1h.9M340.9 83.5h.9M342.5 74.8h.9M342.3 69.1h.9M343.8 78.4h.9M339.4 71.7h.9M342.3 78.5h.9M345.5 81.4h.9M344.8 74.5h.9M347.4 68.0h.9M334.9 75.1h.9M344.1 77.8h.9M339.5 84.7h.9M340.9 76.0h.9M341.6 76.7h.9M340.9 77.9h.9M342.0 70.6h.9M340.5 71.9h.9M343.0 70.8h.9M341.6 75.7h.9M339.4 74.0h.9M342.1 72.9h.9M338.1 73.8h.9M340.1 76.0h.9M343.7 78.4h.9M339.5 76.9h.9M339.6 67.5h.9M345.7 72.8h.9M342.0 73.4h.9M349.2 81.7h.9M346.2 79.8h.9M344.9 76.5h.9M342.5 81.2h.9M339.3 73.4h.9M346.3 75.3h.9M339.0 71.9h.9M341.3 81.3h.9M348.1 78.3h.9M343.7 80.5h.9M342.2 81.5h.9M342.9 73.4h.9M344.2 76.0h.9M341.8 75.9h.9M341.9 74.8h.9M341.3 68.5h.9M337.6 76.7h.9M342.5 70.0h.9M347.6 72.5h.9M347.6 71.1h.9M347.0 71.6h.9M341.6 72.2h.9M343.4 73.7h.9M342.3 79.6h.9M341.3 77.2h.9M344.9 77.5h.9M340.2 69.7h.9M339.3 78.5h.9M338.6 77.6h.9M345.5 78.6h.9M339.1 77.0h.9M339.5 79.4h.9M338.6 80.5h.9M344.4 75.1h.9M343.6 74.1h.9M341.1 80.7h.9M338.3 72.2h.9M342.0 69.9h.9M337.8 74.4h.9M344.9 77.9h.9M340.6 70.8h.9M345.3 72.5h.9M342.4 75.5h.9M346.8 71.6h.9M337.4 80.4h.9M343.7 79.4h.9M341.3 73.8h.9M340.5 75.2h.9M344.5 70.9h.9M343.6 71.2h.9M348.4 76.6h.9M341.0 76.4h.9M343.8 70.8h.9M345.0 80.8h.9M343.5 72.9h.9M343.6 75.0h.9M343.7 69.2h.9M345.5 75.9h.9M338.3 83.3h.9M337.8 76.6h.9M340.7 70.1h.9M343.0 71.6h.9M340.4 79.0h.9M338.8 71.3h.9M345.6 75.7h.9M339.8 79.2h.9M342.4 75.0h.9M340.5 78.5h.9M338.1 75.3h.9M345.2 81.8h.9M336.0 75.6h.9M339.3 67.9h.9M342.6 72.7h.9M343.0 67.6h.9M340.6 73.4h.9M343.4 74.2h.9M345.3 75.3h.9M346.8 76.9h.9M343.6 71.8h.9M343.3 69.5h.9M343.4 75.1h.9M342.8 80.2h.9M345.3 79.0h.9M340.1 73.2h.9M343.3 80.4h.9M343.6 80.6h.9M347.1 73.9h.9M342.4 69.8h.9M346.3 69.6h.9M343.4 80.4h.9M344.6 80.4h.9M344.4 82.3h.9M344.2 86.7h.9M345.2 70.4h.9M342.7 80.3h.9M338.9 83.8h.9M340.0 73.4h.9M349.5 72.1h.9M341.4 75.8h.9M340.6 80.0h.9M341.9 76.6h.9M347.4 77.1h.9M340.9 67.2h.9M341.8 81.3h.9M339.6 69.3h.9M346.6 73.6h.9M342.2 76.0h.9M341.1 71.0h.9M341.7 74.0h.9M341.8 79.7h.9M346.0 74.3h.9M341.9 72.8h.9M342.0 69.5h.9M343.7 76.7h.9M341.3 73.2h.9M344.5 79.7h.9M339.7 73.3h.9M345.0 79.4h.9M341.1 74.3h.9M340.7 73.5h.9M345.2 76.3h.9M345.0 73.8h.9M338.9 73.9h.9M339.6 78.6h.9M343.2 68.4h.9M344.3 78.7h.9M344.1 74.4h.9M345.3 68.8h.9M343.0 84.6h.9M341.5 76.2h.9M340.7 69.3h.9M342.2 72.1h.9M345.4 75.6h.9M341.2 76.3h.9M345.1 74.3h.9M337.0 79.2h.9M348.2 78.1h.9M340.4 69.8h.9M339.0 74.7h.9M338.2 70.4h.9M342.3 68.6h.9M345.0 72.9h.9M341.3 78.5h.9M344.7 71.4h.9M341.1 73.2h.9M342.4 79.8h.9M341.8 82.3h.9M341.1 83.2h.9M339.0 68.9h.9M344.9 71.2h.9M344.4 76.7h.9M345.6 73.7h.9M344.9 70.9h.9M340.6 74.1h.9M341.0 80.4h.9M342.8 72.4h.9M345.8 87.5h.9M338.2 74.2h.9M341.0 82.4h.9M347.9 81.7h.9M342.2 65.1h.9M342.9 73.3h.9M346.3 78.5h.9M341.5 80.7h.9M346.3 81.4h.9M342.1 73.8h.9M339.6 79.8h.9M340.9 78.3h.9M344.6 71.5h.9M344.6 70.3h.9M342.6 76.6h.9M339.0 79.5h.9M346.8 78.3h.9M343.2 71.1h.9M344.5 73.8h.9M341.3 73.4h.9M341.2 76.9h.9M343.9 83.2h.9M343.6 80.6h.9M345.4 72.2h.9M340.3 81.8h.9M344.8 78.6h.9M346.2 71.2h.9M338.1 74.6h.9M342.6 78.3h.9M343.9 74.3h.9M343.2 69.1h.9M342.8 66.5h.9M343.7 77.0h.9M343.2 74.7h.9M343.5 72.9h.9M337.8 79.3h.9M345.0 80.6h.9M347.1 79.1h.9M342.1 75.7h.9M339.8 74.2h.9M346.6 74.9h.9M344.2 80.7h.9M343.2 80.4h.9M343.7 76.9h.9M339.1 79.5h.9M344.0 77.5h.9M340.9 72.6h.9M347.6 70.5h.9M339.4 73.1h.9M344.7 70.4h.9M343.0 74.1h.9M344.9 74.6h.9M342.9 72.3h.9M345.2 82.4h.9M341.2 68.4h.9M344.5 75.0h.9M345.5 71.5h.9M344.4 75.0h.9M341.1 75.4h.9M345.3 84.4h.9M345.1 72.5h.9M345.1 76.0h.9M342.5 69.4h.9M342.1 75.3h.9M347.7 75.9h.9M342.8 72.4h.9M341.0 74.8h.9M347.6 77.0h.9M341.7 69.5h.9M338.9 76.6h.9M344.1 82.1h.9M344.5 75.9h.9M342.3 79.5h.9M340.8 71.1h.9M345.2 71.6h.9M342.9 77.9h.9M343.9 71.8h.9M339.0 77.4h.9M342.3 73.3h.9M342.1 76.7h.9M341.9 77.9h.9M345.9 79.7h.9M341.7 77.3h.9M342.7 77.3h.9M345.5 69.1h.9M343.5 74.1h.9M343.7 82.7h.9M346.7 72.3h.9M337.8 76.0h.9M344.2 76.2h.9M341.5 68.2h.9M346.8 71.6h.9M341.4 72.9h.9M348.3 75.4h.9M345.3 83.8h.9M344.4 80.7h.9M341.0 80.3h.9M342.6 77.3h.9M344.7 76.4h.9M343.2 70.4h.9M340.2 74.5h.9M346.9 76.4h.9M339.9 68.1h.9M339.4 76.4h.9M342.6 70.3h.9M341.7 78.1h.9M340.5 76.4h.9M343.4 73.8h.9M339.3 71.4h.9M338.2 75.4h.9M344.8 81.3h.9M340.5 76.3h.9M345.3 67.6h.9M345.4 82.4h.9M339.6 77.7h.9M342.8 78.5h.9M341.0 78.7h.9M343.9 76.2h.9M344.6 81.0h.9M342.7 76.2h.9M343.7 71.1h.9M342.5 77.6h.9M348.1 77.4h.9M342.9 79.3h.9M342.6 69.0h.9M340.5 75.5h.9M339.2 79.8h.9M337.7 74.8h.9M340.8 79.8h.9M345.3 82.0h.9M348.1 78.3h.9M342.6 76.0h.9M346.6 77.8h.9M347.0 70.9h.9M342.0 70.5h.9M344.4 77.5h.9M345.3 71.4h.9M344.6 74.0h.9M342.0 81.3h.9M341.1 75.1h.9M344.1 78.0h.9M342.8 81.1h.9M347.0 67.5h.9M341.0 68.7h.9M341.6 78.1h.9M343.1 65.5h.9M343.3 72.9h.9M341.7 86.3h.9M343.6 79.7h.9M342.0 72.5h.9M340.3 71.8h.9M340.0 71.0h.9M343.7 79.2h.9M341.9 68.9h.9M339.1 70.9h.9M345.0 75.3h.9M345.6 77.3h.9M344.8 70.1h.9M339.8 76.2h.9M344.7 79.5h.9M347.8 77.6h.9M343.9 73.5h.9M343.4 71.3h.9M338.9 81.4h.9M339.8 75.8h.9M345.7 79.2h.9M337.7 70.5h.9M344.6 76.7h.9M343.3 68.0h.9M339.9 68.7h.9M340.9 82.4h.9M345.7 82.8h.9M340.3 81.6h.9M345.5 76.3h.9M342.1 69.1h.9M342.4 76.9h.9M343.3 79.5h.9M342.7 70.5h.9M340.5 76.6h.9M340.4 69.8h.9M341.3 74.4h.9M339.7 74.6h.9M345.8 82.1h.9M342.8 85.0h.9M346.5 79.0h.9M344.9 70.3h.9M343.3 70.8h.9M344.6 74.6h.9M344.5 74.0h.9M348.3 73.9h.9M345.6 76.6h.9M341.4 76.0h.9M341.2 74.1h.9M339.4 79.8h.9M345.5 78.8h.9M343.6 77.5h.9M343.2 83.4h.9M344.4 72.4h.9M347.0 73.6h.9M340.4 70.1h.9M343.7 76.7h.9M344.7 82.8h.9M342.7 75.3h.9M338.0 78.4h.9M343.9 78.6h.9M337.9 72.0h.9M339.2 69.4h.9M340.9 78.9h.9M343.0 76.4h.9M345.4 75.4h.9M345.2 79.4h.9M340.8 76.7h.9M342.0 77.0h.9M339.8 80.5h.9M342.4 83.6h.9M340.0 71.9h.9M341.3 81.1h.9M341.2 86.9h.9M340.6 74.5h.9M342.6 72.9h.9M342.5 78.6h.9M345.3 72.5h.9M340.7 82.0h.9M348.0 75.8h.9M339.2 75.1h.9M345.3 74.1h.9M343.2 74.9h.9M344.8 74.0h.9M345.9 70.6h.9M344.3 75.1h.9M344.8 80.8h.9M346.2 71.8h.9M339.9 71.3h.9M340.7 73.4h.9M340.9 74.5h.9M345.6 77.6h.9M343.0 78.3h.9M341.8 78.5h.9M340.6 77.5h.9M346.2 70.6h.9M343.7 75.1h.9M341.8 72.4h.9M343.3 76.7h.9M342.4 82.0h.9M340.4 77.7h.9M344.9 68.3h.9M337.5 77.0h.9M345.7 77.3h.9M340.3 71.8h.9M340.1 79.0h.9M340.3 74.4h.9M338.8 73.9h.9M344.3 73.0h.9M340.5 75.6h.9M344.5 75.2h.9M347.1 73.9h.9M343.6 71.2h.9M347.2 83.5h.9M341.7 73.9h.9M339.9 77.8h.9M342.3 83.7h.9M344.0 78.7h.9M343.6 72.6h.9M345.7 80.4h.9M339.8 78.8h.9M341.8 73.0h.9M339.8 69.4h.9M341.7 70.9h.9M342.5 74.2h.9M343.8 78.9h.9M345.3 72.5h.9M339.4 77.2h.9M344.3 77.7h.9M339.9 72.1h.9M343.3 75.6h.9M343.0 78.7h.9M344.2 71.2h.9M342.6 70.9h.9M342.9 80.6h.9M341.5 72.7h.9M341.3 73.7h.9M344.5 73.4h.9M344.3 72.5h.9M340.9 77.3h.9M346.3 75.7h.9M340.6 73.7h.9M342.2 80.9h.9M345.8 72.5h.9M341.9 80.3h.9M346.9 75.9h.9M341.9 75.0h.9M346.0 73.8h.9M345.5 83.0h.9M340.8 78.8h.9M343.5 74.3h.9M340.1 74.3h.9M341.7 76.9h.9M348.2 78.8h.9M341.8 76.9h.9M348.8 72.2h.9M346.1 67.7h.9M337.5 81.7h.9M342.9 79.1h.9M341.4 76.4h.9M346.9 76.1h.9M345.4 78.4h.9M345.8 71.0h.9M345.2 77.0h.9M342.0 74.9h.9M347.0 74.7h.9M344.0 77.5h.9M346.4 74.8h.9M342.9 72.1h.9M347.6 75.0h.9M344.3 68.7h.9M340.0 76.6h.9M341.5 74.2h.9M345.7 81.1h.9M342.2 71.0h.9M345.0 85.0h.9M339.3 66.9h.9M341.2 77.6h.9M344.7 71.0h.9M345.2 72.5h.9M343.7 63.8h.9M344.8 75.4h.9M340.1 76.3h.9M340.4 69.3h.9M343.8 73.9h.9M341.0 71.0h.9M345.5 77.9h.9M345.4 75.4h.9M341.5 75.2h.9M338.2 78.7h.9M342.5 75.3h.9M343.1 74.3h.9M337.8 77.6h.9M342.8 70.7h.9M343.6 76.0h.9M341.7 75.5h.9M343.4 76.4h.9M339.9 73.6h.9M342.7 84.1h.9M345.4 74.4h.9M341.7 82.1h.9M345.8 75.8h.9M341.3 80.8h.9M347.5 75.9h.9M340.1 82.3h.9M343.9 79.5h.9M339.1 81.4h.9M341.6 72.1h.9M344.2 79.3h.9M340.3 75.2h.9M344.9 78.5h.9M344.8 68.0h.9M344.0 74.5h.9M345.3 79.3h.9M341.6 84.4h.9M342.9 81.5h.9M342.8 84.1h.9M343.4 82.7h.9M344.8 86.5h.9M343.1 78.0h.9M338.5 78.8h.9M342.6 80.5h.9M340.5 74.1h.9M343.5 78.2h.9M345.8 67.8h.9M341.5 72.6h.9M341.8 87.0h.9M342.0 78.6h.9M339.8 79.7h.9M344.0 75.1h.9M341.7 76.7h.9M346.5 78.3h.9M341.4 82.3h.9M342.5 69.0h.9M341.0 84.0h.9M337.8 78.4h.9M347.3 82.7h.9M341.2 81.5h.9M339.0 84.1h.9M339.3 76.0h.9M342.4 79.5h.9M340.5 81.0h.9M340.5 71.0h.9M346.3 73.9h.9M341.2 70.2h.9M340.3 79.0h.9M344.5 74.2h.9M337.9 73.7h.9M348.1 74.5h.9M346.4 74.4h.9M342.8 79.3h.9M337.4 75.7h.9M343.1 80.2h.9M339.3 79.8h.9M349.1 73.2h.9M347.7 75.7h.9M338.3 74.3h.9M341.8 68.9h.9M341.6 72.2h.9M346.4 77.7h.9M338.9 79.7h.9M343.4 80.1h.9M345.2 74.3h.9M347.6 86.6h.9M342.3 75.0h.9M342.1 73.4h.9M340.2 74.1h.9M342.2 83.2h.9M344.0 73.1h.9M344.5 82.3h.9M340.1 75.3h.9M341.1 75.7h.9M342.5 79.2h.9M341.7 77.6h.9M341.4 76.4h.9M341.0 83.1h.9M344.5 70.9h.9M342.5 71.9h.9M342.3 70.8h.9M346.2 76.1h.9M342.8 78.2h.9M340.6 74.6h.9M341.7 74.0h.9M345.3 74.4h.9M340.2 68.9h.9M345.3 72.8h.9M346.1 71.1h.9M340.0 74.7h.9M345.0 67.8h.9M340.1 71.9h.9M343.0 77.8h.9M339.6 84.6h.9M344.7 77.7h.9M341.4 78.7h.9M339.3 74.6h.9M345.2 73.9h.9M341.2 77.0h.9M347.2 74.7h.9M339.1 80.7h.9M341.5 73.4h.9M342.4 71.2h.9M340.6 77.4h.9M346.2 72.6h.9M341.1 79.7h.9M341.8 68.2h.9M340.5 78.5h.9M342.9 78.6h.9M341.6 71.6h.9M340.4 73.9h.9M342.4 72.1h.9M342.3 79.3h.9M345.3 78.9h.9M343.0 78.7h.9M342.2 83.6h.9M342.3 69.1h.9M343.9 80.6h.9M338.2 75.6h.9M346.4 79.6h.9M344.7 78.2h.9M336.9 76.7h.9M349.2 76.5h.9M343.5 77.7h.9M343.2 70.9h.9M341.5 71.9h.9M339.5 70.2h.9M339.1 75.6h.9M342.9 73.2h.9M339.7 71.7h.9M342.6 78.6h.9M340.3 69.6h.9M339.1 79.3h.9M345.1 77.4h.9M340.5 69.1h.9M340.6 76.9h.9M338.1 82.5h.9M340.4 74.9h.9M341.3 68.0h.9M343.2 75.2h.9M345.3 79.7h.9M336.7 80.8h.9M341.6 68.7h.9M338.2 73.8h.9M344.8 75.1h.9M343.7 75.0h.9M345.6 70.9h.9M338.2 74.6h.9M337.0 81.1h.9M341.1 83.2h.9M344.9 70.6h.9M337.7 76.7h.9M339.6 72.0h.9M346.0 71.3h.9M338.0 72.7h.9M340.6 68.7h.9M345.4 77.6h.9M345.3 78.9h.9M344.2 81.9h.9M339.0 70.7h.9M346.3 75.7h.9M341.7 78.9h.9M341.2 77.7h.9M346.7 73.9h.9M340.3 72.3h.9M343.8 77.6h.9M344.0 78.2h.9M339.0 75.7h.9M339.8 70.3h.9M339.4 73.9h.9M341.7 80.1h.9M339.2 71.2h.9M338.7 79.8h.9M343.4 82.5h.9M343.6 69.8h.9M344.5 77.4h.9M342.1 77.0h.9M339.1 80.0h.9M340.6 80.3h.9M341.1 78.4h.9M340.4 76.3h.9M346.8 71.8h.9M345.0 77.1h.9M345.1 70.6h.9M341.6 69.7h.9M338.7 76.6h.9M343.5 77.4h.9M339.2 76.9h.9M343.8 73.6h.9M339.3 75.0h.9M342.1 68.6h.9M344.0 75.0h.9M338.5 79.2h.9M337.7 71.2h.9M347.7 83.7h.9M349.7 69.4h.9M339.5 80.3h.9M344.9 77.4h.9M344.5 81.0h.9M345.3 74.4h.9M338.7 75.4h.9M346.9 76.0h.9M341.2 78.0h.9M344.6 69.0h.9M342.1 75.1h.9M340.9 72.9h.9M339.5 74.6h.9M340.9 73.2h.9M343.1 74.8h.9M341.7 75.0h.9M345.4 70.4h.9M340.8 75.3h.9M340.0 74.1h.9M344.3 78.5h.9M340.0 71.5h.9M340.9 74.4h.9M340.5 71.0h.9M343.4 72.9h.9M344.1 72.4h.9M345.3 82.1h.9M344.0 68.8h.9M341.0 83.3h.9M344.0 74.0h.9M342.7 82.5h.9M343.5 77.1h.9M345.5 81.2h.9M342.2 70.7h.9M340.8 71.1h.9M346.1 71.0h.9M340.9 72.4h.9M341.2 78.1h.9M344.6 72.1h.9M344.2 75.9h.9M340.7 79.9h.9M345.9 73.9h.9M338.8 78.1h.9M340.5 77.2h.9M343.0 75.4h.9M340.6 72.4h.9M341.3 78.5h.9M339.5 73.9h.9M337.2 81.2h.9M341.9 74.2h.9M345.3 76.9h.9M344.1 70.6h.9M345.9 72.6h.9M342.3 78.2h.9M340.9 76.1h.9M341.6 77.2h.9M339.7 74.8h.9M341.4 79.6h.9M343.4 81.9h.9M341.1 80.4h.9M339.9 73.9h.9M343.1 72.6h.9M341.9 82.5h.9M342.7 66.8h.9M342.8 84.9h.9M343.9 76.7h.9M344.5 72.8h.9M345.5 80.3h.9M343.6 68.0h.9M339.0 74.8h.9M341.5 82.1h.9M346.3 85.2h.9M338.9 78.5h.9M343.9 79.0h.9M345.5 76.6h.9M338.7 72.1h.9M343.1 74.0h.9M344.4 78.7h.9M342.9 80.5h.9M339.1 82.9h.9M343.5 74.3h.9M344.0 76.4h.9M340.9 73.2h.9M343.1 71.2h.9M340.9 74.2h.9M340.6 77.8h.9M344.8 79.4h.9M345.4 80.9h.9M338.9 78.0h.9M340.2 79.7h.9M340.3 81.0h.9M345.4 77.4h.9M342.7 79.4h.9M338.8 70.7h.9M343.7 78.9h.9M347.5 69.1h.9M344.4 72.2h.9M341.7 70.9h.9M345.6 73.3h.9M347.7 79.8h.9M345.4 81.2h.9M339.4 75.8h.9M344.0 74.4h.9M341.3 71.3h.9M347.3 70.8h.9M346.1 74.1h.9M339.3 82.7h.9M343.9 76.3h.9M341.2 76.9h.9M344.4 83.4h.9M346.1 69.8h.9M343.3 72.0h.9M341.4 71.5h.9M344.9 70.1h.9M340.1 73.0h.9M339.4 79.7h.9M340.0 76.2h.9M341.9 79.1h.9M339.5 79.7h.9M341.9 74.5h.9M343.7 77.8h.9M338.2 75.1h.9M342.6 74.1h.9M341.3 82.9h.9M342.6 74.5h.9M343.0 75.9h.9M346.5 79.0h.9M345.3 75.6h.9M342.2 65.0h.9M343.1 80.9h.9M344.6 82.1h.9M340.7 83.2h.9M342.7 81.8h.9M338.1 76.4h.9M343.4 72.7h.9M342.9 73.5h.9M340.3 72.9h.9M339.4 70.4h.9M342.3 75.7h.9M339.3 79.4h.9M345.3 66.6h.9M344.9 65.2h.9M342.3 76.3h.9M339.1 71.7h.9M342.5 81.2h.9M339.7 76.7h.9M342.3 77.7h.9M338.8 71.6h.9M343.1 70.9h.9M344.6 74.9h.9M344.8 75.3h.9M343.0 73.8h.9M345.3 73.4h.9M340.9 74.0h.9M345.8 79.0h.9M338.3 73.4h.9M347.4 71.1h.9M340.0 77.1h.9M341.8 76.6h.9M345.2 73.3h.9M341.9 74.4h.9M339.7 80.2h.9M342.8 78.5h.9M343.1 78.2h.9M337.3 72.8h.9M335.4 80.3h.9M342.1 81.5h.9M338.5 78.0h.9M343.6 72.3h.9M341.3 72.2h.9M345.1 74.5h.9M340.6 77.9h.9M345.0 78.6h.9M339.8 72.6h.9M342.0 68.3h.9M342.8 76.9h.9M341.2 76.5h.9M343.0 80.9h.9M341.3 75.2h.9M346.3 73.6h.9M340.6 75.6h.9M338.1 74.5h.9M341.0 74.8h.9M339.7 69.4h.9M342.0 82.9h.9M343.1 74.0h.9M344.0 75.8h.9M342.2 74.7h.9M344.6 66.0h.9M346.7 79.3h.9M341.2 72.8h.9M342.8 73.3h.9M339.9 74.1h.9M343.4 77.2h.9M344.3 69.1h.9M341.0 76.7h.9M342.7 69.9h.9M348.9 80.0h.9M344.2 74.1h.9M338.5 79.8h.9M341.8 75.3h.9M339.2 63.8h.9M342.4 74.5h.9M346.1 82.1h.9M341.2 74.2h.9M344.7 66.2h.9M340.8 74.6h.9M347.4 83.0h.9M344.0 78.4h.9M344.5 67.9h.9M341.7 74.5h.9M341.7 82.0h.9M340.9 75.1h.9M341.1 68.4h.9M344.1 77.4h.9M343.6 82.3h.9M342.8 71.2h.9M346.7 77.9h.9M341.4 79.3h.9M338.8 77.3h.9M342.1 74.4h.9M344.3 72.0h.9M336.8 72.6h.9M341.5 69.7h.9M343.3 78.3h.9M343.6 76.8h.9M343.3 71.0h.9M341.7 72.0h.9M348.0 77.9h.9M342.4 83.1h.9M343.3 80.4h.9M343.5 69.4h.9M343.3 74.7h.9M344.6 74.3h.9M346.6 72.4h.9M343.6 80.6h.9M339.2 74.3h.9M341.5 75.9h.9M338.7 72.0h.9M341.9 74.0h.9M345.5 68.5h.9M342.6 74.7h.9M341.7 78.5h.9M344.5 79.1h.9M341.0 87.1h.9M341.9 74.9h.9M343.9 75.7h.9M342.4 71.1h.9M343.0 75.7h.9M344.8 81.7h.9M345.9 77.7h.9M345.9 73.3h.9M342.2 71.8h.9M343.3 82.4h.9M349.3 71.1h.9M346.8 77.2h.9M342.4 82.6h.9M340.7 83.5h.9M338.2 68.4h.9M340.4 67.9h.9M346.5 74.6h.9M346.1 78.3h.9M343.0 68.8h.9M345.7 76.0h.9M344.7 82.6h.9M339.2 70.4h.9M340.4 75.9h.9M344.3 81.6h.9M346.5 70.3h.9M342.9 71.6h.9M339.4 73.1h.9M343.4 75.9h.9M344.1 73.5h.9M338.3 78.1h.9M340.9 73.8h.9M343.5 70.5h.9M345.9 73.7h.9M342.4 70.5h.9M344.4 66.6h.9M345.6 73.6h.9M344.4 73.4h.9M342.4 70.7h.9M345.4 70.3h.9M340.6 74.5h.9M345.2 72.9h.9M339.4 71.9h.9M341.5 83.3h.9M341.1 75.5h.9M346.9 74.3h.9M343.7 71.9h.9M341.0 74.6h.9M338.8 77.2h.9M341.4 70.9h.9M341.7 67.8h.9M346.6 69.1h.9M344.0 75.9h.9M341.6 75.6h.9M341.0 76.3h.9M344.8 77.0h.9M343.1 69.0h.9M340.3 79.6h.9M343.0 71.2h.9M345.8 81.3h.9M343.3 74.7h.9M338.5 78.9h.9M337.1 73.5h.9M346.4 76.8h.9M342.8 70.2h.9M340.2 85.6h.9M342.1 79.8h.9M345.1 79.1h.9M338.5 84.3h.9M341.7 77.6h.9M339.9 74.2h.9M342.9 73.3h.9M342.0 74.5h.9M337.6 69.2h.9M339.8 76.9h.9M341.1 76.1h.9M341.7 75.6h.9M337.1 79.6h.9M340.6 79.9h.9M340.3 75.7h.9M340.8 68.5h.9M344.9 65.4h.9M345.4 72.9h.9M343.8 79.2h.9M344.1 77.1h.9M346.8 74.3h.9M350.0 77.5h.9M344.7 80.2h.9M343.4 70.2h.9M347.1 76.3h.9M344.2 75.7h.9M339.2 80.6h.9M344.1 79.2h.9M343.5 75.8h.9M342.5 78.8h.9M343.2 81.7h.9M342.7 73.5h.9M347.1 78.1h.9M342.0 83.0h.9M344.9 74.2h.9M339.2 69.0h.9M346.0 79.0h.9M351.6 80.5h.9M345.2 74.3h.9M348.3 70.1h.9M346.2 72.1h.9M351.9 75.2h.9M343.1 76.2h.9M333.3 81.4h.9M346.4 77.6h.9M342.5 80.5h.9M338.1 70.4h.9M341.8 68.3h.9M340.7 68.2h.9M345.6 71.8h.9M346.5 62.6h.9M339.9 68.0h.9M340.0 76.3h.9M348.8 69.2h.9M339.5 64.5h.9M347.6 63.3h.9M342.9 65.9h.9M339.9 65.9h.9M345.4 84.9h.9M342.9 83.9h.9M332.2 86.4h.9M344.0 70.4h.9M338.1 65.7h.9M339.6 67.8h.9M331.8 63.2h.9M349.7 73.5h.9M344.6 67.2h.9M340.6 79.5h.9M346.4 66.0h.9M344.4 74.2h.9M340.4 70.4h.9M343.2 72.2h.9M345.5 73.2h.9M347.7 68.9h.9M342.5 73.0h.9M344.2 73.3h.9M346.6 73.5h.9M347.8 83.5h.9M346.1 70.6h.9M342.2 79.5h.9M345.1 83.5h.9M344.0 80.8h.9M349.3 77.3h.9M340.4 77.0h.9M346.6 82.8h.9M345.2 83.3h.9M343.4 69.2h.9M345.3 72.6h.9M341.9 84.7h.9M338.6 76.6h.9M351.4 64.5h.9M349.3 74.5h.9M343.6 79.2h.9M350.8 77.3h.9M348.3 74.0h.9M340.8 72.2h.9M346.6 71.2h.9M344.2 64.8h.9M342.0 77.2h.9M342.9 76.1h.9M345.3 68.0h.9M346.8 67.7h.9M345.4 68.1h.9M343.4 70.9h.9M338.8 86.6h.9M341.5 74.4h.9M346.6 77.4h.9M343.6 73.8h.9M343.0 74.4h.9M342.3 72.5h.9M344.3 60.6h.9M339.5 81.6h.9M342.2 78.3h.9M337.9 77.7h.9M351.5 77.4h.9M345.5 81.4h.9M341.4 70.3h.9M344.5 79.0h.9M347.3 92.9h.9M352.9 85.1h.9M348.1 76.0h.9M339.3 62.1h.9M346.0 54.8h.9M348.9 70.0h.9M345.1 78.1h.9M337.4 70.7h.9M338.5 76.6h.9M353.8 78.0h.9M345.8 80.9h.9M340.0 83.9h.9M339.0 76.8h.9M336.5 71.1h.9M341.6 72.0h.9M340.9 67.8h.9M340.5 95.4h.9M351.0 81.2h.9M351.9 79.8h.9M342.4 63.8h.9M334.5 64.7h.9M337.6 75.7h.9M345.9 78.8h.9M349.8 79.0h.9M339.0 85.2h.9M342.1 78.5h.9M343.4 72.4h.9M348.2 73.2h.9M345.3 80.0h.9M343.2 83.2h.9M339.4 84.3h.9M347.4 79.1h.9M345.3 90.3h.9M339.3 70.5h.9M336.8 76.9h.9M352.9 68.4h.9M345.5 87.5h.9M340.7 64.9h.9M340.7 73.2h.9M343.5 72.6h.9M350.7 75.4h.9M345.8 78.7h.9M341.9 67.9h.9M350.4 69.8h.9M338.7 68.9h.9M347.9 65.8h.9M348.6 72.8h.9M343.8 69.1h.9M344.8 69.8h.9M346.9 65.9h.9M351.7 63.4h.9M348.7 64.6h.9M341.8 64.5h.9M342.5 66.2h.9M341.1 62.8h.9M338.7 65.0h.9M341.3 86.2h.9M339.9 64.1h.9M339.6 77.7h.9M346.2 94.9h.9M345.3 82.9h.9M345.4 78.1h.9M346.3 71.4h.9M346.7 89.7h.9M344.5 73.1h.9M346.5 74.5h.9M337.7 61.1h.9M344.1 75.5h.9M343.0 77.4h.9M348.1 60.5h.9M343.9 75.5h.9M339.3 77.0h.9M349.4 76.1h.9M342.3 64.1h.9M346.9 70.5h.9M346.9 83.3h.9M346.8 78.6h.9M347.7 63.6h.9M340.6 75.5h.9M338.6 59.7h.9M343.2 77.8h.9M336.0 83.1h.9M348.6 90.6h.9M345.2 69.8h.9M342.8 73.1h.9M340.0 72.5h.9M337.2 66.8h.9M350.1 66.5h.9M346.3 77.2h.9M340.1 68.9h.9M340.3 72.5h.9M349.6 69.3h.9M345.2 68.9h.9M342.8 65.5h.9M345.6 70.0h.9M344.3 80.6h.9M339.0 83.5h.9M350.7 88.2h.9M348.2 61.2h.9M344.7 63.9h.9M336.2 79.6h.9M346.9 77.8h.9M342.0 68.1h.9M346.2 78.3h.9M345.9 73.7h.9M338.1 62.0h.9M345.8 76.9h.9M342.7 75.1h.9M340.3 73.6h.9M346.8 75.6h.9M343.1 60.8h.9M349.2 79.9h.9M346.1 73.7h.9M339.0 83.3h.9M344.7 75.3h.9M340.1 75.7h.9M345.7 67.8h.9M344.0 64.1h.9M349.0 75.9h.9M343.0 66.2h.9M339.0 76.2h.9M342.0 72.3h.9M340.6 57.3h.9M334.5 76.2h.9M340.2 79.9h.9M349.2 67.0h.9M337.7 65.8h.9M345.9 74.9h.9M341.0 69.4h.9M346.3 72.6h.9M344.5 63.7h.9M342.6 68.9h.9M337.1 70.2h.9M338.9 69.8h.9M340.9 82.9h.9M351.8 67.2h.9M350.7 60.8h.9M337.7 64.2h.9M344.2 66.2h.9M337.5 76.3h.9M342.3 83.3h.9M350.3 73.3h.9M347.9 81.1h.9M345.4 67.0h.9M336.3 79.6h.9M340.3 72.5h.9M339.3 72.4h.9M353.2 69.1h.9M343.5 71.6h.9M349.2 80.7h.9M345.5 70.0h.9M343.3 76.2h.9M341.3 71.2h.9M350.2 69.8h.9M343.5 73.0h.9M345.9 57.7h.9M344.3 74.8h.9M340.7 75.4h.9M346.8 63.4h.9M340.2 71.4h.9M344.6 73.9h.9M339.8 64.6h.9M348.5 78.7h.9M347.7 78.4h.9M344.5 73.7h.9M336.9 85.3h.9M338.9 80.1h.9M345.3 68.5h.9M337.8 73.8h.9M356.4 85.0h.9M339.6 77.5h.9M341.9 72.0h.9M349.3 79.6h.9M347.9 74.3h.9M346.6 68.5h.9M325.2 90.9h.9M326.6 75.2h.9M317.8 76.1h.9M326.4 94.5h.9M323.5 80.9h.9M326.5 75.2h.9M326.3 77.5h.9M330.5 71.4h.9M327.9 83.6h.9M326.9 77.8h.9M328.9 70.3h.9M330.0 70.4h.9M325.2 73.6h.9M325.4 71.5h.9M327.9 79.5h.9M330.1 65.7h.9M330.6 85.6h.9M319.3 83.8h.9M324.5 65.3h.9M326.0 71.1h.9M319.3 78.5h.9M327.9 81.7h.9M333.0 83.7h.9M323.1 77.9h.9M324.7 78.8h.9M334.2 71.7h.9M325.3 80.9h.9M326.5 73.1h.9M328.7 76.1h.9M327.6 73.9h.9M331.1 79.1h.9M330.1 87.2h.9M321.3 81.3h.9M332.0 71.9h.9M329.3 84.8h.9M336.2 84.2h.9M331.6 70.7h.9M325.3 74.5h.9M334.6 83.8h.9M326.7 74.6h.9M325.7 76.2h.9M328.2 84.9h.9M328.0 83.3h.9M325.9 85.8h.9M328.7 73.2h.9M324.5 88.8h.9M324.3 64.6h.9M338.3 80.2h.9M320.5 79.8h.9M334.5 73.6h.9M329.6 69.5h.9M321.3 77.5h.9M324.3 82.0h.9M317.9 73.1h.9M324.1 80.3h.9M334.6 80.0h.9M313.5 75.8h.9M331.4 73.8h.9M328.2 85.9h.9M321.4 72.5h.9M324.9 83.8h.9M324.8 76.9h.9M328.6 78.3h.9M322.9 85.8h.9M326.0 75.4h.9M329.6 82.9h.9M331.9 74.6h.9M320.8 86.4h.9M332.2 72.9h.9M333.8 84.5h.9M325.3 84.8h.9M331.7 71.3h.9M323.9 85.1h.9M331.6 73.3h.9M329.4 73.9h.9M327.6 71.9h.9M333.1 73.1h.9M333.4 76.7h.9M329.5 82.5h.9M327.6 90.1h.9M333.3 79.2h.9M328.1 70.6h.9M341.5 82.7h.9M314.6 69.1h.9M334.0 81.1h.9M335.9 73.7h.9M328.6 74.0h.9M318.4 70.0h.9M332.0 83.4h.9M328.5 79.3h.9M332.0 77.5h.9M336.0 67.4h.9M328.2 74.0h.9M327.1 73.4h.9M332.3 84.6h.9M325.7 86.6h.9M325.5 83.5h.9M329.5 87.0h.9M329.6 85.1h.9M333.5 75.7h.9M335.5 78.9h.9M329.6 68.3h.9M324.5 81.8h.9M340.0 81.8h.9M341.1 70.5h.9M334.1 83.1h.9M320.4 76.6h.9M319.6 66.6h.9M329.7 77.2h.9M320.4 82.6h.9M332.6 74.7h.9M330.5 78.3h.9M332.6 80.5h.9M329.2 75.2h.9M327.2 74.6h.9M322.2 68.6h.9M318.5 79.7h.9M337.4 78.5h.9M333.2 88.0h.9M318.3 81.0h.9M330.0 77.1h.9M326.3 70.0h.9M332.0 66.1h.9M331.2 75.0h.9M338.7 75.2h.9M321.6 80.8h.9M325.3 78.0h.9M326.1 84.8h.9M334.0 79.9h.9M335.0 80.4h.9M327.2 79.2h.9M327.5 80.6h.9M333.2 77.3h.9M322.1 87.3h.9M317.5 78.7h.9M330.4 81.7h.9M321.7 85.7h.9M326.7 76.4h.9M334.1 74.4h.9M334.3 81.6h.9M338.8 85.7h.9M331.4 88.4h.9M330.1 78.1h.9M323.8 88.0h.9M324.3 77.0h.9M312.1 77.5h.9M336.9 81.9h.9M325.3 77.4h.9M324.5 72.7h.9M320.8 75.5h.9M325.4 94.6h.9M326.4 81.3h.9M322.7 82.0h.9M329.8 71.9h.9M326.4 75.9h.9M326.3 77.1h.9M317.1 78.9h.9M322.7 81.9h.9M333.5 69.9h.9M324.9 79.6h.9M317.7 84.4h.9M320.8 84.9h.9M335.6 61.5h.9M332.6 84.4h.9M327.7 75.4h.9M332.5 73.7h.9M324.4 86.4h.9M331.1 87.4h.9M329.6 75.5h.9M324.8 77.9h.9M324.9 73.9h.9M329.1 75.0h.9M320.2 75.6h.9M333.9 67.2h.9M330.3 76.5h.9M318.8 86.5h.9M320.1 73.2h.9M316.7 75.0h.9M321.9 76.6h.9M328.6 76.4h.9M318.3 76.9h.9M322.1 80.1h.9M326.2 81.0h.9M326.2 79.4h.9M326.5 80.7h.9M324.2 82.2h.9M336.7 85.3h.9M324.0 76.1h.9M332.0 70.9h.9M321.2 84.7h.9M330.4 72.0h.9M337.6 72.9h.9M330.9 80.6h.9M315.8 72.3h.9M332.6 74.7h.9M331.0 81.7h.9M324.5 79.2h.9M332.8 85.2h.9M333.0 80.6h.9M325.3 70.4h.9M331.4 85.3h.9M328.9 82.4h.9M331.5 67.9h.9M328.9 74.3h.9M318.0 76.7h.9M329.5 88.3h.9M321.4 77.7h.9M321.4 78.5h.9M335.6 83.5h.9M327.8 79.4h.9M326.8 76.0h.9M312.4 79.8h.9M325.4 79.5h.9M329.9 81.8h.9M325.0 75.9h.9M323.7 78.9h.9M329.2 82.1h.9M324.7 71.6h.9M322.7 70.3h.9M320.3 87.4h.9M322.0 62.2h.9M328.2 82.5h.9M335.0 71.2h.9M325.9 80.9h.9M322.5 81.3h.9M327.3 72.2h.9M320.1 76.5h.9M324.2 75.9h.9M324.7 76.8h.9M329.7 79.8h.9M329.2 80.6h.9M329.8 80.1h.9M324.3 77.7h.9M328.2 86.0h.9M324.4 73.9h.9M328.9 89.4h.9M324.5 83.0h.9M331.4 78.2h.9M324.3 80.9h.9M328.4 78.8h.9M337.6 64.1h.9M334.3 73.4h.9M332.2 70.9h.9M326.6 82.5h.9M324.6 82.6h.9M326.2 89.1h.9M332.3 85.7h.9M333.3 83.5h.9M329.9 84.3h.9M333.5 77.5h.9M322.4 79.4h.9M334.0 84.3h.9M316.4 87.8h.9M322.4 78.9h.9M324.6 76.3h.9M325.0 82.2h.9M328.3 83.9h.9M345.0 75.0h.9M326.2 69.1h.9M338.1 74.9h.9M324.1 80.7h.9M324.6 79.6h.9M333.2 88.3h.9M329.7 67.5h.9M332.4 73.2h.9M328.3 80.9h.9M320.1 85.9h.9M323.4 67.8h.9M328.5 91.1h.9M332.7 77.0h.9M325.6 74.4h.9M326.6 73.2h.9M332.3 83.1h.9M323.5 93.8h.9M329.1 76.8h.9M328.3 88.1h.9M332.4 75.9h.9M318.5 82.6h.9M326.4 83.3h.9M336.8 78.2h.9M318.8 71.4h.9M326.9 76.7h.9M326.7 68.2h.9M323.9 75.6h.9M324.1 88.4h.9M323.1 80.4h.9M338.6 74.9h.9M328.9 72.8h.9M331.4 74.4h.9M324.9 66.0h.9M319.8 77.9h.9M333.4 74.5h.9M332.7 77.7h.9M323.2 79.6h.9M321.9 72.6h.9M336.8 86.8h.9M331.8 76.5h.9M327.7 66.4h.9M332.2 83.6h.9M338.1 76.6h.9M333.2 69.2h.9M334.6 81.6h.9M332.9 77.3h.9M327.8 79.9h.9M324.4 69.0h.9M338.8 74.2h.9M315.5 76.0h.9M324.9 72.6h.9M330.1 78.3h.9M324.8 80.6h.9M328.0 81.1h.9M328.5 83.3h.9M329.7 77.8h.9M332.0 74.8h.9M336.2 74.2h.9M339.6 73.5h.9M331.7 76.0h.9M329.8 84.7h.9M330.2 74.3h.9M325.6 87.5h.9M326.0 75.2h.9M329.1 73.7h.9M332.6 75.9h.9M334.5 71.8h.9M325.4 69.1h.9M331.3 71.0h.9M330.4 83.6h.9M339.6 84.2h.9M334.5 65.5h.9M334.7 83.0h.9M322.4 77.2h.9M322.8 77.7h.9M328.6 82.7h.9M332.0 83.2h.9M320.6 83.5h.9M330.8 79.1h.9M331.0 70.6h.9M331.6 83.6h.9M337.1 67.5h.9M320.6 81.0h.9M322.8 73.2h.9M331.5 68.4h.9M326.0 80.1h.9M331.2 76.8h.9M332.7 71.5h.9M318.6 79.8h.9M338.8 74.0h.9M337.8 80.0h.9M320.3 71.0h.9M325.6 80.0h.9M333.6 80.8h.9M326.3 71.0h.9M331.2 85.6h.9M323.7 69.2h.9M335.8 80.7h.9M321.4 73.3h.9M327.7 74.2h.9M329.8 71.3h.9M320.8 76.9h.9M330.0 76.4h.9M329.8 73.1h.9M332.3 80.1h.9M320.3 80.9h.9M336.0 76.5h.9M323.9 80.4h.9M324.2 70.0h.9M325.6 79.3h.9M332.1 78.5h.9M327.0 93.4h.9M327.2 72.6h.9M331.3 80.2h.9M327.2 74.8h.9M325.3 83.9h.9M324.7 80.4h.9M326.7 82.2h.9M329.5 80.4h.9M328.9 74.4h.9M334.4 76.8h.9M332.8 74.3h.9M336.7 74.4h.9M329.9 92.6h.9M326.6 73.4h.9M316.9 83.2h.9M327.4 78.3h.9M331.1 77.3h.9M332.1 86.8h.9M319.9 78.1h.9M324.3 70.9h.9M323.8 78.9h.9M325.8 73.9h.9M332.8 87.5h.9M331.7 81.2h.9M335.2 77.5h.9M320.3 80.5h.9M319.5 83.7h.9M328.4 72.9h.9M324.5 77.8h.9M328.4 75.7h.9M328.5 79.6h.9M333.0 77.0h.9M334.5 85.8h.9M325.4 72.8h.9M330.5 83.8h.9M331.4 75.6h.9M336.4 72.4h.9M330.3 77.9h.9M319.3 80.1h.9M330.6 75.3h.9M326.7 71.2h.9M320.7 74.2h.9M334.2 84.8h.9M325.2 80.9h.9M328.8 60.7h.9M325.4 73.0h.9M328.9 77.8h.9M330.4 76.5h.9M331.2 82.2h.9M339.8 78.8h.9M339.0 73.8h.9M325.5 76.7h.9M334.0 73.2h.9M336.1 85.6h.9M333.5 79.1h.9M331.7 74.3h.9M329.4 72.3h.9M327.0 75.9h.9M324.5 79.8h.9M324.9 80.4h.9M331.9 77.8h.9M325.8 87.4h.9M334.0 75.8h.9M323.4 85.9h.9M334.0 89.2h.9M323.9 80.5h.9M323.2 71.7h.9M326.1 82.0h.9M338.2 71.6h.9M334.8 77.3h.9M320.8 74.5h.9M337.0 77.4h.9M327.1 85.1h.9M318.8 75.9h.9M339.2 90.1h.9M327.1 78.0h.9M324.0 72.1h.9M334.4 79.5h.9M320.4 78.3h.9M333.1 90.1h.9M323.5 88.3h.9M321.6 71.2h.9M327.5 72.4h.9M329.2 71.3h.9M325.8 77.2h.9M322.9 76.1h.9M328.2 79.8h.9M326.6 77.1h.9M335.6 72.5h.9M325.5 71.0h.9M329.7 83.2h.9M329.6 74.3h.9M323.3 88.5h.9M337.8 70.8h.9M331.2 80.1h.9M329.9 79.9h.9M329.2 87.2h.9M330.2 92.2h.9M333.3 91.9h.9M330.4 83.9h.9M330.4 84.1h.9M327.1 83.6h.9M322.9 72.4h.9M331.6 67.1h.9M321.0 72.6h.9M334.2 71.3h.9M329.3 81.6h.9M322.8 82.7h.9M329.6 76.5h.9M320.7 74.1h.9M324.2 82.4h.9M317.4 84.2h.9M337.4 80.3h.9M327.0 83.4h.9M321.6 72.7h.9M331.3 73.5h.9M323.7 85.9h.9M324.3 74.4h.9M329.2 86.5h.9M334.5 92.6h.9M334.1 79.2h.9M329.7 84.4h.9M324.9 80.3h.9M326.0 79.7h.9M325.5 77.0h.9M329.7 84.2h.9M326.0 79.9h.9M322.9 79.6h.9M331.9 67.4h.9M324.7 76.5h.9M320.6 76.6h.9M335.5 75.5h.9M334.2 71.5h.9M319.6 76.3h.9M327.3 87.0h.9M323.6 78.2h.9M334.9 69.3h.9M327.1 69.5h.9M331.1 79.1h.9M321.0 81.7h.9M330.5 79.9h.9M343.2 81.7h.9M336.9 76.4h.9M335.5 82.6h.9M337.0 80.6h.9M327.2 68.1h.9M331.8 86.1h.9M330.3 82.0h.9M326.4 70.6h.9M328.6 78.8h.9M337.4 79.2h.9M334.6 72.9h.9M328.0 75.5h.9M334.2 84.1h.9M341.2 75.4h.9M325.2 78.4h.9M327.5 76.7h.9M325.5 74.8h.9M338.7 76.9h.9M325.6 81.2h.9M327.3 79.1h.9M321.1 73.5h.9M327.2 83.4h.9M331.1 76.5h.9M324.7 70.5h.9M324.3 80.8h.9M324.4 85.3h.9M336.5 78.3h.9M337.4 84.7h.9M346.9 83.5h.9M320.8 77.7h.9M333.1 83.1h.9M320.1 75.3h.9M326.3 80.3h.9M325.1 71.5h.9M326.6 78.3h.9M318.9 79.5h.9M338.7 84.6h.9M331.7 77.5h.9M328.5 77.5h.9M327.5 92.6h.9M325.7 77.7h.9M337.3 80.3h.9M330.6 79.1h.9M325.9 68.6h.9M336.4 76.7h.9M335.4 83.1h.9M327.2 78.0h.9M330.3 83.7h.9M328.3 71.4h.9M339.1 76.6h.9M337.6 81.3h.9M339.4 75.9h.9M331.8 76.6h.9M331.3 73.6h.9M333.2 86.2h.9M320.6 79.0h.9M334.5 79.4h.9M327.5 83.0h.9M331.3 73.8h.9M325.8 83.4h.9M330.8 69.9h.9M337.8 75.5h.9M331.7 83.3h.9M321.2 66.5h.9M326.6 68.9h.9M330.4 76.8h.9M331.8 83.3h.9M327.9 82.2h.9M326.2 82.1h.9M333.0 73.6h.9M328.6 76.4h.9M328.1 77.7h.9M332.0 82.3h.9M329.2 79.1h.9M325.7 75.6h.9M322.6 73.4h.9M333.6 80.6h.9M324.2 78.8h.9M334.0 73.5h.9M324.0 79.5h.9M331.3 76.1h.9M328.5 87.8h.9M323.2 72.3h.9M318.6 74.6h.9M331.7 78.0h.9M325.0 70.4h.9M332.4 72.0h.9M334.1 70.2h.9M336.3 73.4h.9M327.4 75.7h.9M331.3 90.3h.9M322.6 86.0h.9M332.4 69.9h.9M332.0 72.7h.9M332.6 84.7h.9M324.7 75.2h.9M333.2 80.3h.9M321.5 78.6h.9M332.8 86.7h.9M332.0 87.7h.9M335.9 84.3h.9M324.8 78.8h.9M336.9 79.6h.9M319.6 79.7h.9M334.3 78.5h.9M333.5 68.5h.9M330.1 74.5h.9M338.1 69.4h.9M332.4 78.4h.9M317.4 81.3h.9M333.5 81.6h.9M333.7 72.3h.9M330.2 83.3h.9M329.2 70.5h.9M326.1 80.0h.9M333.1 77.4h.9M330.3 77.2h.9M324.3 82.8h.9M330.8 83.9h.9M329.9 73.9h.9M321.6 77.6h.9M327.3 78.0h.9M325.9 81.4h.9M326.8 68.1h.9M331.1 70.1h.9M316.9 91.4h.9M336.5 82.4h.9M328.6 78.4h.9M330.2 77.7h.9M320.4 77.8h.9M327.9 71.9h.9M325.1 76.1h.9M333.8 77.4h.9M331.7 74.8h.9M327.0 74.3h.9M324.3 74.6h.9M331.1 94.9h.9M326.2 82.8h.9M323.8 71.4h.9M336.6 75.5h.9M330.4 79.4h.9M330.7 81.4h.9M330.3 89.8h.9M329.7 64.8h.9M327.9 84.3h.9M326.6 78.3h.9M337.5 70.3h.9M325.3 73.8h.9M328.5 63.6h.9M333.7 70.6h.9M338.0 87.5h.9M338.5 71.5h.9M325.2 65.8h.9M331.3 80.0h.9M329.5 85.8h.9M322.8 86.8h.9M330.3 69.5h.9M321.0 73.6h.9M322.6 76.7h.9M325.3 81.0h.9M337.5 72.4h.9M320.3 81.8h.9M311.4 77.0h.9M329.8 80.9h.9M326.7 86.7h.9M330.0 76.5h.9M328.4 84.5h.9M324.2 75.5h.9M326.5 78.4h.9M325.9 77.9h.9M324.5 76.4h.9M322.8 80.5h.9M336.8 79.8h.9M327.6 78.2h.9M337.8 79.2h.9M326.5 81.5h.9M327.4 71.7h.9M325.9 72.4h.9M325.6 77.7h.9M325.2 81.7h.9M329.0 72.8h.9M328.4 81.4h.9M327.4 75.4h.9M317.8 76.5h.9M340.6 81.2h.9M327.8 78.1h.9M328.9 75.4h.9M332.6 81.1h.9M330.7 78.8h.9M313.0 73.7h.9M324.5 63.6h.9M328.4 85.7h.9M324.6 74.4h.9M332.5 79.7h.9M321.2 68.8h.9M330.1 82.1h.9M335.9 83.4h.9M328.1 74.7h.9M319.1 78.0h.9M331.4 90.4h.9M326.0 71.3h.9M318.7 71.5h.9M324.5 77.1h.9M327.1 76.6h.9M327.8 72.2h.9M332.5 78.1h.9M330.7 74.6h.9M321.5 84.7h.9M328.2 84.7h.9M332.6 87.7h.9M324.9 89.3h.9M325.7 76.9h.9M327.0 75.7h.9M325.5 86.9h.9M321.3 84.1h.9M330.3 83.5h.9M330.0 71.7h.9M331.5 84.7h.9M327.2 82.3h.9M324.6 73.9h.9M330.8 81.6h.9M329.8 75.9h.9M327.0 79.6h.9M335.1 80.3h.9M333.5 75.0h.9M319.8 78.7h.9M327.1 74.9h.9M326.4 81.3h.9M322.5 91.6h.9M326.3 75.4h.9M328.7 76.8h.9M339.6 69.5h.9M319.8 70.3h.9M321.2 75.5h.9M321.7 80.6h.9M318.6 67.7h.9M320.1 71.8h.9M324.0 85.4h.9M323.5 87.4h.9M327.4 77.2h.9M324.6 82.7h.9M319.3 71.6h.9M331.0 89.0h.9M331.7 78.8h.9M322.1 85.0h.9M336.1 78.5h.9M323.1 76.6h.9M329.9 68.3h.9M321.8 75.9h.9M324.4 95.2h.9M330.6 82.2h.9M328.9 83.3h.9M334.2 79.0h.9M330.4 79.7h.9M325.4 85.0h.9M336.9 74.5h.9M324.0 74.6h.9M323.4 81.4h.9M330.9 81.3h.9M327.1 77.1h.9M325.1 81.2h.9M328.5 81.8h.9M320.9 77.9h.9M332.7 79.3h.9M326.2 80.2h.9M326.0 77.7h.9M331.1 78.2h.9M318.5 80.6h.9M331.8 69.5h.9M329.2 76.8h.9M330.7 79.3h.9M334.5 80.3h.9M326.7 81.9h.9M329.5 75.0h.9M330.9 83.6h.9M325.7 78.2h.9M321.5 72.6h.9M327.0 76.1h.9M333.8 76.8h.9M329.5 84.3h.9M332.3 76.1h.9M333.0 81.0h.9M326.7 74.1h.9M317.0 86.5h.9M321.3 75.0h.9M335.5 76.3h.9M323.1 82.6h.9M332.8 79.5h.9M332.0 66.0h.9M325.1 77.6h.9M320.5 85.8h.9M335.6 65.1h.9M327.7 79.8h.9M335.2 68.1h.9M327.0 72.4h.9M322.1 66.2h.9M327.4 82.9h.9M328.8 83.2h.9M328.2 82.1h.9M334.9 95.3h.9M330.2 75.4h.9M325.2 77.3h.9M323.5 83.0h.9M322.6 69.6h.9M328.1 70.0h.9M334.8 83.2h.9M331.4 83.3h.9M333.2 79.4h.9M333.2 72.6h.9M323.9 66.3h.9M322.1 73.1h.9M324.1 82.5h.9M323.3 71.1h.9M326.9 77.6h.9M324.0 74.8h.9M326.3 85.8h.9M338.4 71.7h.9M325.9 84.5h.9M331.9 71.8h.9M321.5 75.5h.9M321.8 82.3h.9M341.9 76.5h.9M330.3 74.8h.9M325.6 77.8h.9M322.6 76.5h.9M325.4 81.7h.9M340.1 80.0h.9M323.9 77.9h.9M322.7 81.1h.9M325.9 71.7h.9M327.6 75.1h.9M327.9 66.6h.9M326.4 72.1h.9M324.0 74.3h.9M325.9 68.0h.9M342.7 77.9h.9M332.6 90.9h.9M319.4 87.6h.9M336.9 78.2h.9M336.0 82.6h.9M332.4 72.9h.9M330.5 81.4h.9M339.9 75.6h.9M320.0 80.6h.9M327.8 74.0h.9M323.7 83.5h.9M336.2 84.0h.9M323.1 85.8h.9M333.0 75.8h.9M320.5 74.0h.9M336.3 84.1h.9M326.4 79.9h.9M322.8 82.8h.9M322.7 87.2h.9M324.9 72.9h.9M326.8 80.4h.9M328.9 77.0h.9M321.7 77.1h.9M337.0 80.7h.9M330.9 82.2h.9M324.2 87.2h.9M332.9 84.9h.9M330.8 80.6h.9M320.2 67.2h.9M328.3 79.3h.9M326.4 71.4h.9M320.1 78.5h.9M328.8 79.7h.9M323.0 78.0h.9M324.4 89.1h.9M330.9 73.8h.9M317.4 73.9h.9M331.9 81.1h.9M322.3 81.1h.9M325.5 78.5h.9M320.8 80.0h.9M342.6 82.9h.9M343.1 80.1h.9M315.8 80.7h.9M331.6 75.1h.9M314.0 65.5h.9M330.3 76.7h.9M325.5 81.9h.9M328.2 72.2h.9M327.5 74.4h.9M325.3 85.8h.9M321.2 82.6h.9M329.4 80.8h.9M332.0 77.2h.9M326.0 75.2h.9M336.0 79.1h.9M324.0 68.2h.9M332.8 75.1h.9M321.2 82.6h.9M331.4 72.2h.9M324.5 80.8h.9M325.4 82.7h.9M343.2 75.3h.9M332.0 80.8h.9M328.5 70.4h.9M321.5 75.3h.9M330.3 74.6h.9M326.1 86.2h.9M327.6 76.9h.9M327.4 74.9h.9M341.8 74.4h.9M332.5 78.0h.9M330.0 88.2h.9M331.5 81.8h.9M322.6 77.4h.9M332.4 78.0h.9M328.8 85.2h.9M323.0 67.2h.9M333.3 60.6h.9M315.0 75.8h.9M327.2 73.1h.9M325.0 76.6h.9M321.6 79.9h.9M325.2 68.2h.9M327.4 83.4h.9M332.5 77.4h.9M333.9 69.8h.9M331.8 79.1h.9M336.1 75.6h.9M316.0 82.1h.9M319.6 67.5h.9M329.7 70.2h.9M322.0 91.1h.9M327.9 73.5h.9M331.8 79.8h.9M337.4 85.2h.9M332.4 88.0h.9M331.5 84.6h.9M330.6 73.9h.9M323.9 80.9h.9M325.8 81.6h.9M321.3 85.9h.9M328.3 83.6h.9M329.7 74.0h.9M322.5 72.2h.9M332.2 86.8h.9M323.9 70.9h.9M337.5 81.6h.9M328.6 82.2h.9M324.1 70.9h.9M332.8 76.3h.9M336.7 72.6h.9M329.7 86.7h.9M328.3 72.5h.9M322.7 81.3h.9M322.7 76.7h.9M320.4 85.3h.9M326.9 81.4h.9M338.7 82.5h.9M326.9 79.2h.9M319.7 87.0h.9M330.0 74.8h.9M328.4 83.9h.9M334.3 80.6h.9M331.6 79.3h.9M318.8 78.6h.9M329.5 66.7h.9M329.2 83.7h.9M323.4 81.4h.9M335.6 88.1h.9M328.7 80.6h.9M325.3 73.9h.9M327.4 83.2h.9M332.4 71.8h.9M335.3 73.7h.9M331.2 80.2h.9M328.6 70.7h.9M331.5 86.1h.9M322.8 80.7h.9M327.5 76.0h.9M325.7 71.7h.9M325.9 85.5h.9M340.1 78.3h.9M332.6 91.4h.9M328.5 74.3h.9M317.6 77.2h.9M333.8 74.6h.9M329.0 71.9h.9M325.1 78.1h.9M325.2 77.6h.9M330.0 91.4h.9M317.2 76.5h.9M322.0 81.6h.9M331.5 79.0h.9M325.1 71.5h.9M324.6 75.6h.9M323.1 89.2h.9M336.7 82.9h.9M324.4 83.7h.9M329.3 72.8h.9M332.6 87.1h.9M325.6 78.2h.9M324.0 72.8h.9M340.7 74.3h.9M331.9 77.8h.9M333.3 79.9h.9M325.3 80.2h.9M344.1 86.1h.9M332.3 82.5h.9M322.8 70.5h.9M319.4 82.4h.9M335.0 63.6h.9M322.2 80.2h.9M318.5 73.5h.9M325.4 85.3h.9M336.9 78.6h.9M326.1 79.3h.9M332.3 73.5h.9M328.1 81.8h.9M334.8 74.3h.9M329.0 71.0h.9M328.4 76.4h.9M334.5 83.0h.9M327.1 75.3h.9M331.0 89.3h.9M343.0 76.7h.9M328.0 84.4h.9M335.4 82.0h.9M325.5 85.9h.9M323.9 75.6h.9M327.6 83.1h.9M334.3 85.6h.9M331.9 74.3h.9M326.4 68.1h.9M331.7 76.2h.9M328.3 72.7h.9M339.0 84.7h.9M332.5 68.5h.9M329.9 71.8h.9M328.6 67.6h.9M326.2 69.6h.9M329.0 82.3h.9M339.3 72.9h.9M321.0 75.2h.9M331.5 85.8h.9M332.0 83.0h.9M321.6 80.4h.9M333.3 80.6h.9M332.6 78.7h.9M320.1 91.5h.9M334.5 83.9h.9M327.0 81.8h.9M325.8 84.4h.9M323.7 86.0h.9M328.9 80.7h.9M335.3 79.0h.9M324.9 74.2h.9M336.4 81.8h.9M340.7 75.0h.9M324.0 77.4h.9M331.3 78.8h.9M325.9 78.2h.9M320.4 68.8h.9M330.0 69.9h.9M317.0 84.1h.9M328.8 81.0h.9M322.1 82.0h.9M319.5 69.5h.9M326.3 80.2h.9M324.7 74.8h.9M335.3 77.1h.9M340.6 76.1h.9M329.7 76.3h.9M326.5 81.3h.9M328.7 82.8h.9M334.8 68.9h.9M328.3 75.4h.9M335.8 71.9h.9M326.9 72.4h.9M325.6 81.4h.9M332.8 62.4h.9M332.1 78.8h.9M328.3 81.3h.9M327.1 93.8h.9M329.8 77.5h.9M323.0 78.4h.9M327.0 94.8h.9M323.1 82.9h.9M330.4 76.4h.9M322.8 83.8h.9M319.2 77.7h.9M325.8 76.3h.9M323.2 71.5h.9M325.1 90.1h.9M320.8 82.0h.9M343.3 77.0h.9M328.0 70.7h.9M338.2 74.6h.9M331.1 59.2h.9M328.0 88.8h.9M321.9 72.1h.9M333.8 79.3h.9M331.0 81.2h.9M329.6 83.0h.9M328.8 77.7h.9M322.9 74.7h.9M322.4 85.4h.9M329.2 88.3h.9M331.5 72.8h.9M338.2 81.2h.9M317.4 81.6h.9M331.2 75.2h.9M328.1 81.3h.9M323.9 80.9h.9M327.0 73.5h.9M332.3 78.2h.9M326.3 77.2h.9M327.6 76.5h.9M326.7 81.6h.9M327.8 82.6h.9M343.8 88.3h.9M341.7 66.2h.9M335.2 72.6h.9M318.8 76.1h.9M339.3 79.7h.9M326.9 84.2h.9M330.4 66.7h.9M325.7 78.8h.9M331.4 66.4h.9M322.5 86.3h.9M334.9 79.1h.9M331.8 75.3h.9M325.7 72.8h.9M327.9 74.7h.9M323.4 78.0h.9M328.6 77.8h.9M327.6 72.9h.9M325.7 76.1h.9M323.5 85.1h.9M328.2 84.6h.9M326.6 75.2h.9M328.1 72.4h.9M324.6 73.9h.9M336.9 87.8h.9M325.7 87.0h.9M335.6 72.7h.9M329.1 77.7h.9M333.1 83.9h.9M316.9 77.9h.9M339.2 77.6h.9M318.5 68.5h.9M326.0 79.3h.9M324.5 84.3h.9M334.3 76.5h.9M333.2 71.7h.9M322.8 81.1h.9M332.3 82.8h.9M333.6 74.5h.9M325.3 68.9h.9M326.9 79.4h.9M327.5 71.5h.9M328.3 83.1h.9M331.9 81.1h.9M332.6 76.5h.9M325.2 79.1h.9M328.8 71.0h.9M330.1 75.6h.9M328.6 68.3h.9M319.8 84.7h.9M321.9 71.6h.9M324.4 73.0h.9M326.0 70.2h.9M332.4 77.9h.9M323.2 85.7h.9M341.8 80.2h.9M321.7 77.3h.9M328.5 79.6h.9M328.3 88.3h.9M322.1 73.7h.9M333.7 75.9h.9M330.3 76.5h.9M325.4 81.6h.9M326.5 75.5h.9M321.8 77.4h.9M334.1 79.5h.9M328.9 83.2h.9M324.1 85.2h.9M333.3 73.8h.9M317.6 74.4h.9M330.7 74.9h.9M331.6 80.4h.9M328.3 77.4h.9M330.8 81.0h.9M334.0 82.5h.9M334.3 70.2h.9M324.5 81.1h.9M333.6 75.6h.9M326.0 80.3h.9M325.5 77.6h.9M330.9 76.1h.9M325.6 81.1h.9M332.5 84.3h.9M332.0 75.2h.9M332.5 80.4h.9M323.5 84.9h.9M329.9 74.9h.9M333.5 82.6h.9M334.3 82.0h.9M339.2 70.5h.9M334.9 71.4h.9M321.2 74.7h.9M328.0 74.8h.9M329.4 86.0h.9M321.3 71.7h.9M325.6 85.6h.9M321.6 72.4h.9M326.0 69.7h.9M337.0 74.9h.9M328.7 72.5h.9M322.7 76.6h.9M319.9 79.2h.9M325.2 70.8h.9M318.7 98.8h.9M330.0 90.0h.9M316.3 97.5h.9M337.7 96.4h.9M320.6 81.3h.9M314.2 100.2h.9M336.2 98.8h.9M313.8 91.0h.9M327.7 97.0h.9M331.0 89.9h.9M332.1 101.1h.9M320.4 82.1h.9M310.4 92.4h.9M328.7 87.2h.9M322.0 88.1h.9M310.3 104.7h.9M324.1 100.9h.9M314.7 90.9h.9M324.2 87.3h.9M320.3 98.1h.9M328.6 83.7h.9M324.9 85.1h.9M314.7 84.1h.9M329.7 93.2h.9M329.2 91.7h.9M340.7 81.4h.9M326.8 86.2h.9M323.4 92.0h.9M326.5 92.2h.9M320.8 97.6h.9M327.4 90.9h.9M321.0 92.7h.9M332.9 87.8h.9M320.7 89.9h.9M313.4 102.2h.9M317.6 94.9h.9M338.2 96.6h.9M331.7 86.8h.9M313.3 77.4h.9M322.2 84.4h.9M321.1 89.1h.9M340.8 99.7h.9M324.3 93.0h.9M323.2 88.5h.9M325.0 92.3h.9M309.2 94.5h.9M321.1 94.2h.9M319.4 99.0h.9M319.6 93.8h.9M310.5 85.0h.9M327.1 80.4h.9M327.3 83.7h.9M320.2 98.5h.9M326.6 103.2h.9M329.3 86.9h.9M328.2 105.0h.9M321.3 93.6h.9M306.4 91.4h.9M306.3 92.9h.9M321.9 95.3h.9M314.2 87.1h.9M326.0 91.8h.9M312.5 90.4h.9M322.4 71.4h.9M331.4 88.9h.9M321.8 103.1h.9M308.0 97.1h.9M314.8 86.9h.9M328.6 92.4h.9M320.9 96.2h.9M305.3 87.7h.9M325.4 96.3h.9M314.4 89.5h.9M331.3 81.3h.9M328.5 90.3h.9M332.3 75.8h.9M322.8 88.2h.9M320.9 81.3h.9M312.0 99.6h.9M312.4 77.1h.9M325.6 92.2h.9M319.6 97.0h.9M321.9 95.9h.9M325.5 81.3h.9M305.8 78.8h.9M319.3 98.8h.9M329.7 88.2h.9M332.0 87.5h.9M329.1 92.8h.9M343.5 88.8h.9M319.6 89.7h.9M320.5 87.2h.9M319.3 88.6h.9M320.9 71.9h.9M319.5 86.1h.9M314.9 93.4h.9M315.2 84.9h.9M321.9 87.7h.9M315.9 97.7h.9M321.4 84.7h.9M324.2 96.8h.9M321.3 97.7h.9M322.3 97.3h.9M329.1 96.1h.9M309.8 83.9h.9M319.5 82.4h.9M318.1 98.5h.9M336.1 92.3h.9M326.9 107.6h.9M327.7 100.6h.9M323.3 95.9h.9M320.1 92.8h.9M325.6 90.4h.9M307.1 92.5h.9M331.3 89.1h.9M309.1 90.8h.9M316.8 95.7h.9M330.0 94.4h.9M314.4 93.4h.9M325.5 80.4h.9M325.5 80.2h.9M313.6 84.2h.9M330.4 76.3h.9M307.3 82.2h.9M322.7 85.7h.9M315.6 79.7h.9M319.8 86.6h.9M324.0 85.8h.9M318.3 78.6h.9M340.4 90.2h.9M332.2 81.3h.9M337.5 91.4h.9M329.7 80.5h.9M322.0 86.1h.9M320.7 96.1h.9M329.0 83.3h.9M310.5 95.5h.9M313.6 104.2h.9M311.3 98.7h.9M328.0 80.8h.9M314.8 100.5h.9M324.9 104.1h.9M321.6 93.7h.9M317.3 104.2h.9M320.7 103.6h.9M324.3 78.5h.9M328.2 95.7h.9M327.1 95.0h.9M308.5 89.2h.9M320.0 88.9h.9M334.2 96.0h.9M338.5 111.7h.9M327.6 89.9h.9M331.1 100.0h.9M329.3 85.3h.9M312.0 96.4h.9M314.4 97.8h.9M321.1 81.6h.9M318.3 82.0h.9M325.1 99.5h.9M317.8 96.5h.9M306.5 98.0h.9M313.8 105.0h.9M312.0 90.7h.9M342.0 101.4h.9M330.3 93.2h.9M321.0 87.0h.9M316.7 89.2h.9M330.6 97.0h.9M319.4 86.5h.9M305.6 89.0h.9M312.6 105.6h.9M320.6 89.7h.9M319.0 97.2h.9M317.5 99.2h.9M310.8 90.3h.9M317.6 91.0h.9M327.6 86.5h.9M323.4 83.3h.9M328.5 97.8h.9M313.2 99.6h.9M319.7 87.6h.9M317.3 102.9h.9M323.7 93.0h.9M332.0 81.1h.9M317.9 85.2h.9M322.5 97.2h.9M308.8 75.8h.9M326.2 96.1h.9M321.3 95.8h.9M325.9 101.1h.9M323.6 80.2h.9M328.3 100.0h.9M326.9 100.4h.9M313.1 84.5h.9M322.6 95.8h.9M324.1 92.6h.9M331.8 80.9h.9M313.7 95.5h.9M322.2 90.8h.9M323.1 80.3h.9M320.5 94.2h.9M314.3 90.8h.9M312.6 96.3h.9M329.8 94.8h.9M318.3 87.7h.9M311.8 83.0h.9M317.7 100.4h.9M309.1 101.8h.9M316.1 85.0h.9M318.2 97.3h.9M318.0 94.0h.9M313.6 91.6h.9M321.7 97.2h.9M317.4 90.7h.9M319.7 111.5h.9M318.1 86.9h.9M316.8 94.0h.9M324.5 77.6h.9M325.1 94.3h.9M321.9 84.7h.9M312.4 70.2h.9M327.5 89.4h.9M306.7 95.7h.9M333.0 86.1h.9M324.6 92.1h.9M331.1 88.1h.9M332.4 92.0h.9M302.1 74.1h.9M316.5 94.5h.9M328.8 82.1h.9M331.4 91.0h.9M309.6 90.7h.9M316.1 89.1h.9M329.9 96.9h.9M318.0 83.6h.9M323.0 87.8h.9M321.8 109.1h.9M329.3 102.1h.9M326.9 95.7h.9M326.9 94.3h.9M324.4 99.6h.9M320.3 87.7h.9M334.8 82.0h.9M316.5 89.8h.9M309.7 84.8h.9M311.2 94.7h.9M332.0 81.4h.9M311.3 90.8h.9M328.5 90.8h.9M309.7 99.7h.9M323.6 94.6h.9M322.3 90.1h.9M316.8 84.8h.9M322.3 105.9h.9M336.6 91.7h.9M329.4 93.9h.9M329.4 92.6h.9M332.0 87.2h.9M329.5 101.5h.9M318.8 103.1h.9M326.5 90.7h.9M334.1 99.9h.9M323.4 91.2h.9M324.5 85.6h.9M325.8 93.7h.9M333.7 104.6h.9M312.5 96.8h.9M335.5 82.3h.9M315.9 100.3h.9M320.2 97.3h.9M328.3 93.9h.9M315.7 98.8h.9M330.6 86.1h.9M324.9 93.8h.9M328.1 96.7h.9M318.0 87.9h.9M315.4 85.1h.9M323.2 96.3h.9M316.5 108.6h.9M323.1 77.4h.9M340.4 89.1h.9M328.1 78.1h.9M322.1 89.3h.9M323.7 80.6h.9M331.8 90.5h.9M313.6 82.5h.9M301.7 86.9h.9M318.6 82.5h.9M322.6 101.9h.9M323.8 90.3h.9M321.2 92.1h.9M312.4 88.2h.9M322.2 91.5h.9M339.1 86.3h.9M319.5 91.5h.9M326.5 80.7h.9M313.2 99.5h.9M318.5 89.6h.9M320.7 87.9h.9M328.1 95.3h.9M323.6 93.7h.9M320.4 99.5h.9M325.2 84.1h.9M317.2 86.1h.9M323.5 73.9h.9M322.5 87.0h.9M317.3 79.7h.9M326.1 92.5h.9M323.6 73.2h.9M316.4 93.8h.9M319.3 96.1h.9M298.1 80.2h.9M320.3 96.5h.9M321.0 88.6h.9M307.6 93.3h.9M316.8 87.5h.9M332.2 67.8h.9M317.0 81.5h.9M331.9 102.4h.9M306.7 93.9h.9M324.0 86.8h.9M314.1 89.8h.9M313.4 90.9h.9M325.2 94.3h.9M326.1 92.8h.9M308.2 88.0h.9M309.8 99.0h.9M326.6 96.4h.9M318.6 85.4h.9M328.8 89.5h.9M323.4 83.4h.9M331.4 91.3h.9M331.0 78.5h.9M313.6 93.7h.9M327.3 111.9h.9M322.7 95.0h.9M322.6 89.0h.9M325.3 82.5h.9M327.2 75.8h.9M303.2 75.6h.9M325.6 83.0h.9M319.1 83.8h.9M331.5 95.8h.9M338.1 81.4h.9M321.8 85.3h.9M320.6 85.0h.9M325.0 96.1h.9M317.6 89.2h.9M332.0 93.0h.9M326.8 95.7h.9M320.2 101.5h.9M312.4 91.8h.9M331.1 87.7h.9M324.6 92.1h.9M332.2 98.2h.9M307.8 89.7h.9M327.7 103.5h.9M320.1 97.9h.9M317.8 87.2h.9M325.9 93.0h.9M335.8 86.9h.9M318.9 93.2h.9M321.5 96.7h.9M311.4 89.5h.9M324.8 98.0h.9M316.0 70.2h.9M324.3 90.0h.9M329.9 90.6h.9M328.3 75.2h.9M327.9 88.2h.9M342.3 82.0h.9M317.2 86.0h.9M314.3 88.3h.9M329.3 103.8h.9M323.5 83.9h.9M309.9 81.0h.9M326.9 98.0h.9M337.2 98.9h.9M309.1 97.7h.9M323.6 77.6h.9M314.0 92.0h.9M333.0 91.6h.9M329.0 99.9h.9M324.4 86.5h.9M329.8 94.5h.9M313.8 65.9h.9M323.5 83.2h.9M318.7 89.1h.9M312.8 83.7h.9M336.7 95.5h.9M317.2 84.2h.9M317.3 88.6h.9M315.5 94.8h.9M327.7 89.9h.9M318.3 70.7h.9M327.1 88.4h.9M320.3 90.2h.9M315.5 90.6h.9M310.8 111.9h.9M311.8 89.6h.9M298.7 98.0h.9M316.4 91.9h.9M326.8 89.8h.9M327.9 107.3h.9M329.2 86.6h.9M314.5 97.9h.9M309.2 85.6h.9M323.3 92.4h.9M319.1 88.8h.9M326.3 97.6h.9M321.3 90.9h.9M324.5 102.1h.9M314.7 91.8h.9M325.4 87.6h.9M313.3 91.1h.9M336.7 101.6h.9M319.9 97.3h.9M319.8 81.5h.9M314.1 100.2h.9M314.6 71.0h.9M324.1 94.9h.9M333.5 96.0h.9M323.0 91.7h.9M320.4 93.3h.9M315.7 90.7h.9M319.7 86.9h.9M336.5 80.2h.9M315.4 85.0h.9M322.8 87.4h.9M320.9 88.8h.9M325.9 76.0h.9M317.1 102.0h.9M308.7 100.5h.9M316.9 107.0h.9M315.8 92.6h.9M317.9 101.1h.9M307.8 87.3h.9M323.8 94.3h.9M309.3 92.1h.9M334.3 82.5h.9M330.0 89.0h.9M327.8 90.6h.9M324.9 82.9h.9M320.4 94.5h.9M334.1 92.8h.9M323.9 84.9h.9M324.2 81.3h.9M319.8 99.4h.9M315.5 97.3h.9M321.8 88.9h.9M308.5 95.7h.9M305.6 94.0h.9M319.4 82.8h.9M311.9 92.2h.9M319.4 89.1h.9M314.5 94.8h.9M334.5 85.1h.9M312.8 80.9h.9M323.6 83.3h.9M328.9 81.6h.9M303.8 93.0h.9M330.4 78.9h.9M320.8 96.4h.9M327.2 90.9h.9M329.9 101.3h.9M314.3 99.4h.9M316.3 85.8h.9M332.1 98.0h.9M322.8 101.0h.9M316.0 96.9h.9M332.4 95.5h.9M317.7 88.8h.9M332.5 92.1h.9M333.5 106.6h.9M325.7 84.1h.9M334.2 97.7h.9M323.8 90.1h.9M318.4 80.5h.9M319.1 97.1h.9M321.7 106.5h.9M323.7 101.4h.9M321.9 109.9h.9M337.6 101.4h.9M317.7 104.0h.9M319.3 92.1h.9M328.8 90.5h.9M318.2 92.1h.9M329.7 92.4h.9M331.2 90.4h.9M314.9 90.5h.9M315.8 92.6h.9M321.2 90.3h.9M324.2 81.8h.9M317.5 80.6h.9M315.2 89.8h.9M307.9 107.8h.9M320.0 101.4h.9M327.9 91.6h.9M325.0 91.9h.9M319.2 99.2h.9M335.2 76.1h.9M317.1 105.0h.9M327.5 74.4h.9M325.1 94.3h.9M319.9 82.1h.9M333.3 106.3h.9M324.9 95.6h.9M323.5 101.4h.9M322.5 76.2h.9M330.3 89.1h.9M329.1 101.2h.9M327.8 79.5h.9M324.3 103.8h.9M335.9 93.8h.9M327.9 90.8h.9M316.3 108.7h.9M319.0 85.1h.9M341.5 98.4h.9M338.9 101.2h.9M335.6 95.4h.9M350.1 97.9h.9M330.1 86.2h.9M340.6 95.8h.9M344.4 95.8h.9M331.9 94.4h.9M340.3 86.0h.9M339.0 87.6h.9M338.2 91.2h.9M352.0 89.3h.9M341.0 91.2h.9M342.3 100.9h.9M325.2 102.0h.9M334.6 96.8h.9M334.0 86.1h.9M338.3 92.9h.9M347.7 90.4h.9M338.1 97.4h.9M341.0 101.1h.9M343.0 96.8h.9M358.6 102.1h.9M337.5 97.2h.9M338.6 94.0h.9M351.2 91.8h.9M343.8 101.9h.9M337.2 96.5h.9M341.8 99.7h.9M337.4 97.7h.9M344.4 91.1h.9M333.4 115.6h.9M337.0 102.1h.9M330.4 99.8h.9M346.2 92.7h.9M347.6 85.4h.9M348.5 99.7h.9M337.1 104.7h.9M335.7 98.3h.9M340.9 99.6h.9M339.0 97.1h.9M347.0 88.2h.9M346.9 102.7h.9M328.0 96.3h.9M341.0 101.0h.9M338.8 106.8h.9M335.0 105.7h.9M338.1 94.9h.9M340.7 100.7h.9M340.7 91.6h.9M336.2 90.4h.9M326.5 87.3h.9M333.3 104.0h.9M346.6 101.0h.9M348.8 89.2h.9M338.5 101.9h.9M340.9 97.7h.9M347.3 110.0h.9M339.5 100.0h.9M334.0 100.0h.9M344.1 101.7h.9M329.8 99.2h.9M331.4 92.7h.9M339.4 85.2h.9M338.4 94.3h.9M338.5 95.5h.9M343.7 84.0h.9M350.2 90.5h.9M345.5 98.6h.9M343.4 92.7h.9M345.8 90.9h.9M342.8 95.1h.9M349.3 92.2h.9M340.4 95.1h.9M345.0 100.2h.9M347.1 98.8h.9M343.8 119.8h.9M345.0 121.6h.9M345.2 116.9h.9M341.9 116.5h.9M344.6 125.4h.9M345.1 129.6h.9M344.6 129.8h.9M347.4 139.1h.9M344.7 120.6h.9M342.6 124.4h.9M345.4 116.2h.9M345.5 129.2h.9M342.4 127.2h.9M339.2 127.7h.9M342.3 133.0h.9M344.7 118.8h.9M341.3 112.0h.9M344.1 117.2h.9M340.2 120.8h.9M346.6 115.3h.9M342.6 120.4h.9M345.6 112.4h.9M345.4 125.3h.9M342.3 123.0h.9M342.7 117.3h.9M346.9 118.6h.9M345.2 131.0h.9M341.4 124.3h.9M342.4 135.0h.9M343.1 135.8h.9M341.3 130.8h.9M347.0 135.9h.9M345.4 118.3h.9M347.0 117.5h.9M345.2 125.0h.9M344.3 126.1h.9M345.9 110.6h.9M350.7 118.2h.9M344.5 122.0h.9M342.6 121.8h.9M341.4 140.2h.9M340.8 135.4h.9M342.0 119.6h.9M343.0 120.9h.9M340.1 124.1h.9M339.4 124.9h.9M341.4 109.5h.9M341.5 118.8h.9M344.1 119.5h.9M344.9 109.5h.9M345.3 135.9h.9M339.6 127.3h.9M342.7 126.5h.9M344.4 139.5h.9M343.4 117.8h.9M340.3 132.4h.9M342.3 123.9h.9M349.8 123.6h.9M344.0 113.6h.9M339.2 113.8h.9M341.7 138.8h.9M343.7 120.7h.9M344.3 121.8h.9M341.3 129.8h.9M344.0 128.2h.9M344.8 128.8h.9M343.2 125.7h.9M338.8 133.3h.9M339.2 125.3h.9M341.9 131.9h.9M344.1 120.4h.9M342.2 135.5h.9M346.5 128.1h.9M348.1 120.7h.9M341.3 121.3h.9M342.1 126.0h.9M340.6 136.5h.9M343.3 116.1h.9M342.2 128.9h.9M344.6 119.1h.9M343.8 125.7h.9M341.9 132.3h.9M345.5 108.9h.9M343.0 113.8h.9M341.0 129.1h.9M338.1 118.3h.9M341.1 123.7h.9M345.5 126.6h.9M345.6 121.8h.9M340.2 121.7h.9M341.4 119.7h.9M339.0 132.6h.9M342.6 120.6h.9M338.0 122.2h.9M341.2 124.1h.9M345.2 123.1h.9M346.7 126.3h.9M347.3 131.5h.9M340.6 133.3h.9M344.3 117.2h.9M342.4 125.1h.9M342.5 124.4h.9M345.1 120.5h.9M341.0 112.5h.9M336.9 115.4h.9M346.5 129.2h.9M339.5 123.5h.9M343.2 122.5h.9M344.5 108.7h.9M346.2 124.9h.9M343.6 124.3h.9M342.5 122.7h.9M344.1 117.2h.9M344.8 129.5h.9M343.6 113.1h.9M344.8 115.6h.9M345.8 128.1h.9M345.1 120.6h.9M348.3 135.2h.9M345.3 127.5h.9M338.1 123.3h.9M343.5 139.0h.9M344.4 132.0h.9M343.5 135.4h.9M342.6 124.1h.9M342.0 118.0h.9M341.4 116.7h.9M343.5 122.0h.9M342.5 131.7h.9M342.6 132.7h.9M341.4 120.3h.9M342.6 133.9h.9M343.2 123.3h.9M344.1 134.5h.9M342.0 120.5h.9M339.5 124.7h.9M343.6 115.4h.9M343.4 119.0h.9M339.8 126.8h.9M339.2 121.2h.9M338.5 125.5h.9M340.7 124.3h.9M341.8 130.1h.9M337.4 120.8h.9M340.0 132.5h.9M342.4 133.9h.9M340.9 119.6h.9M340.3 131.6h.9M347.0 127.7h.9M344.6 112.1h.9M341.9 131.2h.9M343.3 122.9h.9M344.4 129.5h.9M341.0 123.8h.9M338.0 126.6h.9M346.1 131.1h.9M342.5 130.7h.9M341.9 121.3h.9M347.8 113.7h.9M344.4 123.5h.9M341.8 127.1h.9M344.0 124.8h.9M342.5 118.7h.9M339.6 127.9h.9M350.0 140.4h.9M340.1 108.8h.9M341.6 117.8h.9M342.9 124.5h.9M348.0 131.4h.9M347.2 131.5h.9M343.5 132.1h.9M344.0 135.5h.9M349.9 136.9h.9M348.0 125.8h.9M341.8 123.1h.9M343.3 111.3h.9M341.8 131.1h.9M341.7 134.3h.9M343.7 124.9h.9M347.1 132.3h.9M341.1 122.7h.9M336.9 126.8h.9M338.5 118.9h.9M338.1 140.4h.9M341.6 137.6h.9M343.0 114.1h.9M337.8 127.4h.9M343.6 126.3h.9M343.3 132.7h.9M340.5 123.5h.9M342.3 130.1h.9M342.1 122.9h.9M345.4 121.6h.9M336.5 117.1h.9M340.2 128.4h.9M345.0 116.9h.9M344.1 120.2h.9M341.2 122.9h.9M342.3 124.9h.9M342.0 126.6h.9M340.8 126.2h.9M340.8 124.8h.9M339.8 132.1h.9M339.2 124.8h.9M342.0 131.1h.9M341.3 128.4h.9M344.5 129.0h.9M341.0 115.2h.9M337.3 121.2h.9M343.6 130.8h.9M340.3 125.0h.9M343.0 117.1h.9M342.4 131.3h.9M339.8 130.0h.9M339.3 127.5h.9M344.6 122.2h.9M339.3 131.0h.9M343.6 124.1h.9M344.7 122.4h.9M340.9 129.0h.9M340.9 120.9h.9M342.0 130.5h.9M342.0 123.9h.9M342.6 129.3h.9M339.5 115.0h.9M341.6 121.7h.9M341.5 119.0h.9M343.8 114.9h.9M343.4 135.0h.9M339.3 121.9h.9M343.2 128.9h.9M339.7 116.7h.9M339.8 121.4h.9M343.1 139.0h.9M341.4 126.8h.9M342.8 129.3h.9M343.1 113.4h.9M344.9 130.7h.9M343.6 131.0h.9M342.4 131.7h.9M343.4 127.3h.9M342.2 121.0h.9M341.6 117.3h.9M342.9 118.6h.9M344.2 118.6h.9M347.2 131.2h.9M344.4 135.6h.9M344.2 114.0h.9M342.1 120.8h.9M341.2 121.5h.9M340.1 120.5h.9M342.0 129.9h.9M345.0 132.0h.9M345.2 127.4h.9M342.8 120.0h.9M340.0 126.1h.9M343.6 117.2h.9M343.6 116.3h.9M342.6 125.7h.9M345.3 128.5h.9M346.0 120.9h.9M346.4 126.4h.9M344.4 129.3h.9M348.3 133.4h.9M342.9 123.1h.9M342.8 120.7h.9M343.0 124.5h.9M340.1 128.0h.9M343.7 118.9h.9M344.6 124.1h.9M341.9 125.7h.9M341.7 115.5h.9M337.2 127.5h.9M347.3 116.5h.9M341.2 128.7h.9M343.4 115.3h.9M345.6 116.1h.9M342.4 133.8h.9M344.9 118.3h.9M344.7 117.1h.9M342.0 130.0h.9M345.3 116.2h.9M346.2 125.9h.9M343.5 131.7h.9M345.0 120.6h.9M344.2 122.8h.9M345.7 125.4h.9M343.3 133.2h.9M342.0 120.7h.9M340.5 117.8h.9M342.3 124.0h.9M346.0 125.9h.9M345.4 132.4h.9M341.6 119.4h.9M343.3 124.5h.9M340.3 116.3h.9M341.4 129.1h.9M340.5 119.7h.9M338.4 130.6h.9M339.8 130.1h.9M340.2 123.8h.9M340.7 112.7h.9M344.6 127.2h.9M342.3 131.3h.9M340.9 114.3h.9M344.5 122.3h.9M342.9 118.6h.9M338.9 111.6h.9M344.9 114.6h.9M342.3 128.8h.9M342.8 107.5h.9M342.3 126.9h.9M341.5 115.4h.9M343.5 123.7h.9M342.7 127.1h.9M339.0 121.1h.9M344.8 114.2h.9M343.9 108.0h.9M339.0 133.3h.9M343.0 116.5h.9M340.2 118.1h.9M344.7 116.8h.9M339.3 137.2h.9M345.8 130.4h.9M340.2 117.8h.9M344.3 116.5h.9M345.3 124.4h.9M347.8 122.5h.9M343.6 129.8h.9M343.4 119.6h.9M344.2 128.3h.9M346.1 123.9h.9M343.7 114.0h.9M344.6 125.5h.9M349.5 133.1h.9M346.0 125.6h.9M343.3 120.7h.9M344.3 119.5h.9M344.0 115.1h.9M343.9 125.4h.9M339.4 120.7h.9M343.5 126.8h.9M343.3 119.6h.9M346.2 136.1h.9M346.5 124.2h.9M339.3 128.7h.9M341.8 117.9h.9M341.7 123.8h.9M343.7 119.8h.9M342.3 121.3h.9M345.1 131.8h.9M337.9 132.4h.9M344.3 114.0h.9M344.1 118.9h.9M343.9 132.9h.9M346.0 118.5h.9M339.8 126.2h.9M340.2 123.4h.9M342.2 126.9h.9M344.5 117.9h.9M344.8 128.2h.9M341.1 127.2h.9M342.9 122.4h.9M342.6 124.4h.9M339.3 131.9h.9M346.3 129.2h.9M345.2 134.2h.9M339.9 121.2h.9M342.6 120.7h.9M341.9 118.8h.9M344.5 126.5h.9M338.8 126.4h.9M344.5 111.7h.9M343.0 132.8h.9M345.8 125.2h.9M341.6 118.8h.9M343.7 125.5h.9M341.7 109.7h.9M338.3 120.4h.9M341.5 125.0h.9M344.6 129.5h.9M345.3 125.9h.9M341.9 118.7h.9M341.9 119.0h.9M342.4 126.9h.9M343.2 135.7h.9M342.7 123.1h.9M341.8 117.2h.9M343.7 116.4h.9M348.9 124.8h.9M343.6 108.4h.9M345.8 116.8h.9M338.3 119.8h.9M343.8 130.6h.9M341.1 124.5h.9M347.2 130.4h.9M344.9 132.4h.9M345.9 116.6h.9M342.8 127.9h.9M344.0 117.5h.9M342.9 131.7h.9M339.9 123.8h.9M344.8 126.2h.9M342.3 132.3h.9M337.5 119.5h.9M336.3 119.5h.9M340.0 118.0h.9M344.1 126.7h.9M344.0 129.2h.9M338.8 123.6h.9M340.9 132.0h.9M346.0 115.3h.9M343.3 133.2h.9M344.1 132.8h.9M344.2 135.1h.9M345.6 112.3h.9M345.3 121.5h.9M349.6 134.6h.9M340.9 124.3h.9M342.3 111.6h.9M343.3 125.4h.9M341.5 123.4h.9M343.9 117.3h.9M341.6 124.7h.9M348.2 117.4h.9M344.0 135.0h.9M342.7 113.0h.9M344.5 130.1h.9M339.5 134.2h.9M344.3 115.6h.9M344.8 128.1h.9M342.7 109.4h.9M337.6 134.5h.9M343.3 128.0h.9M342.2 135.6h.9M342.7 122.1h.9M345.3 132.2h.9M342.6 134.4h.9M349.9 128.1h.9M344.6 129.5h.9M344.9 132.7h.9M344.4 112.5h.9M348.2 137.5h.9M342.2 123.0h.9M340.4 120.7h.9M344.1 130.6h.9M343.9 132.3h.9M339.8 121.8h.9M347.1 119.6h.9M348.8 113.7h.9M344.2 131.2h.9M345.2 132.0h.9M340.6 119.6h.9M339.7 125.4h.9M342.1 122.1h.9M345.2 127.5h.9M340.2 125.6h.9M341.8 120.9h.9M345.7 123.3h.9M342.3 116.8h.9M343.8 125.4h.9M340.4 121.9h.9M345.8 127.3h.9M344.9 118.3h.9M342.2 119.3h.9M340.3 119.3h.9M343.7 120.2h.9M343.1 124.9h.9M345.1 121.4h.9M344.1 109.9h.9M342.3 130.7h.9M341.4 116.6h.9M345.5 129.8h.9M347.1 130.8h.9M340.9 118.9h.9M345.6 128.2h.9M347.2 137.7h.9M341.1 116.4h.9M340.4 112.7h.9M342.1 123.4h.9M345.8 120.0h.9M339.8 126.0h.9M344.1 121.5h.9M341.7 122.2h.9M345.7 130.0h.9M340.2 112.4h.9M347.6 125.9h.9M344.1 120.4h.9M343.8 121.5h.9M343.5 119.5h.9M348.3 112.8h.9M339.4 128.6h.9M345.7 123.5h.9M346.7 133.0h.9M340.4 122.3h.9M342.2 115.0h.9M342.1 118.5h.9M342.1 123.2h.9M343.4 117.2h.9M349.3 114.4h.9M340.7 128.5h.9M347.9 125.5h.9M343.0 115.4h.9M340.3 109.1h.9M346.1 124.4h.9M344.8 115.9h.9M342.9 118.2h.9M342.6 135.3h.9M343.7 111.1h.9M343.9 136.5h.9M342.8 138.3h.9M347.7 123.6h.9M340.6 124.3h.9M342.1 129.4h.9M341.4 129.7h.9M343.5 121.7h.9M341.3 116.6h.9M347.7 126.8h.9M345.9 124.4h.9M346.1 111.6h.9M341.8 121.2h.9M344.2 129.6h.9M342.3 129.2h.9M346.3 123.8h.9M341.9 125.8h.9M340.5 124.0h.9M340.1 127.0h.9M343.3 129.7h.9M344.3 111.6h.9M341.9 132.4h.9M340.9 119.0h.9M348.4 122.6h.9M342.5 132.8h.9M345.5 121.3h.9M341.1 103.5h.9M340.3 131.5h.9M345.6 114.5h.9M342.6 125.5h.9M341.7 122.3h.9M340.9 127.4h.9M342.6 117.4h.9M341.9 130.8h.9M346.3 129.4h.9M343.6 121.4h.9M344.6 127.7h.9M342.5 125.8h.9M337.4 134.3h.9M344.1 130.9h.9M345.3 132.0h.9M341.4 120.3h.9M344.4 115.1h.9M340.5 127.6h.9M347.0 124.0h.9M344.1 116.3h.9M350.0 130.8h.9M345.7 127.4h.9M341.3 124.5h.9M341.0 126.4h.9M340.7 130.1h.9M346.2 130.9h.9M340.0 118.9h.9M343.2 118.5h.9M342.3 124.0h.9M341.1 108.1h.9M343.2 133.9h.9M342.5 115.4h.9M346.5 122.1h.9M344.2 125.1h.9M347.6 129.4h.9M345.5 124.4h.9M341.8 119.3h.9M342.7 124.7h.9M342.3 135.0h.9M338.5 117.8h.9M341.1 126.3h.9M343.3 123.5h.9M343.6 124.1h.9M344.2 122.7h.9M342.2 121.2h.9M344.2 123.2h.9M345.5 129.8h.9M343.7 132.7h.9M347.5 121.9h.9M341.7 136.6h.9M346.1 128.8h.9M344.1 119.4h.9M345.2 114.0h.9M347.6 127.0h.9M343.5 131.5h.9M342.3 114.3h.9M343.2 128.2h.9M341.9 127.3h.9M338.3 124.0h.9M339.4 128.3h.9M343.4 120.5h.9M340.4 108.3h.9M344.7 139.4h.9M342.9 127.8h.9M343.2 124.1h.9M348.1 124.0h.9M342.2 121.2h.9M345.8 130.6h.9M344.9 121.0h.9M345.0 126.3h.9M340.4 139.4h.9M341.5 111.0h.9M345.9 138.2h.9M340.3 127.8h.9M343.6 116.2h.9M352.6 127.3h.9M344.0 122.8h.9M345.5 118.7h.9M343.7 139.8h.9M348.8 125.0h.9M352.4 130.0h.9M341.9 134.8h.9M343.5 123.9h.9M337.1 136.9h.9M340.1 127.9h.9M345.3 121.5h.9M343.4 119.8h.9M348.5 121.3h.9M341.7 130.7h.9M343.1 125.7h.9M349.7 126.1h.9M341.6 120.6h.9M346.6 123.5h.9M339.3 122.0h.9M331.7 118.4h.9M341.0 116.4h.9M347.4 135.5h.9M348.2 139.3h.9M350.7 133.7h.9M351.6 136.9h.9M341.0 123.9h.9M339.9 125.1h.9M351.9 136.7h.9M348.0 139.3h.9M340.7 123.9h.9M346.1 136.3h.9M347.2 107.5h.9M345.7 133.5h.9M345.7 138.3h.9M351.0 123.0h.9M350.9 122.0h.9M341.2 118.1h.9M337.7 122.9h.9M341.5 122.2h.9M351.1 131.6h.9M340.3 127.9h.9M349.0 134.1h.9M353.1 131.7h.9M339.7 134.2h.9M345.4 104.3h.9M353.7 121.5h.9M344.3 121.5h.9M342.2 134.4h.9M346.5 124.6h.9M339.7 118.9h.9M342.7 114.5h.9M339.2 114.8h.9M346.4 123.9h.9M340.0 134.1h.9M343.4 117.8h.9M353.0 121.8h.9M350.9 125.8h.9M345.6 124.2h.9M339.0 121.2h.9M347.2 125.8h.9M345.8 117.7h.9M347.8 123.8h.9M343.3 136.9h.9M342.6 131.5h.9M348.7 133.3h.9M345.1 135.8h.9M328.4 130.0h.9M311.0 124.4h.9M320.2 129.5h.9M301.4 124.7h.9M317.5 124.4h.9M311.5 127.2h.9M332.7 136.9h.9M317.7 127.9h.9M320.2 140.0h.9M316.9 132.1h.9M325.6 131.0h.9M329.9 138.1h.9M315.5 130.3h.9M334.3 127.5h.9M345.9 125.5h.9M314.9 123.1h.9M310.4 137.4h.9M326.8 131.3h.9M328.6 124.5h.9M320.4 133.8h.9M304.3 134.4h.9M310.4 137.2h.9M319.5 138.9h.9M328.2 132.7h.9M335.6 132.8h.9M324.5 129.8h.9M324.5 130.6h.9M319.8 132.5h.9M331.1 122.9h.9M313.1 128.1h.9M311.9 139.5h.9M330.2 124.5h.9M297.9 131.9h.9M329.0 118.9h.9M329.1 129.8h.9M309.1 123.7h.9M309.9 126.2h.9M315.9 123.5h.9M326.6 121.8h.9M334.7 135.8h.9M314.5 126.4h.9M337.7 132.0h.9M323.9 135.4h.9M321.1 135.0h.9M312.8 135.3h.9M333.4 128.7h.9M326.1 133.0h.9M314.7 121.7h.9M317.5 131.0h.9M327.3 140.0h.9M307.8 127.6h.9M330.6 132.1h.9M319.0 115.4h.9M315.6 125.1h.9M332.8 115.7h.9M314.4 120.0h.9M313.7 122.4h.9M338.0 129.5h.9M335.2 118.9h.9M301.3 133.6h.9M324.9 133.5h.9M333.8 134.0h.9M305.4 130.1h.9M320.5 118.8h.9M321.5 118.4h.9M325.0 119.7h.9M304.6 130.1h.9M317.6 131.4h.9M313.1 115.4h.9M333.9 131.8h.9M316.4 124.5h.9M323.6 121.8h.9M322.7 126.6h.9M323.1 131.6h.9M313.5 137.1h.9M331.1 136.2h.9M308.1 124.7h.9M325.0 119.3h.9M323.5 129.9h.9M328.8 129.9h.9M305.6 134.7h.9M320.5 133.3h.9M317.8 126.6h.9M331.2 125.7h.9M334.0 128.3h.9M322.5 116.3h.9M329.9 130.3h.9M337.4 122.3h.9M304.8 124.8h.9M312.0 135.2h.9M326.8 129.9h.9M327.0 123.1h.9M325.0 131.8h.9M324.8 120.4h.9M330.2 126.9h.9M318.4 118.4h.9M312.2 122.8h.9M334.0 124.2h.9M322.9 124.1h.9M316.8 129.0h.9M328.2 118.4h.9M342.2 119.7h.9M321.8 123.2h.9M314.7 125.5h.9M324.4 134.7h.9M311.4 129.5h.9M311.8 114.9h.9M323.5 121.4h.9M320.9 129.5h.9M324.5 140.6h.9M322.1 124.2h.9M332.3 135.2h.9M324.9 133.0h.9M313.4 132.4h.9M336.1 111.9h.9M310.5 125.7h.9M330.7 124.3h.9M338.3 132.0h.9M325.3 118.6h.9M316.8 131.5h.9M292.4 129.0h.9M318.8 135.3h.9M325.4 127.4h.9M322.2 121.7h.9M315.0 134.7h.9M335.0 126.4h.9M330.0 120.6h.9M322.4 126.8h.9M312.0 126.6h.9M333.7 122.1h.9M319.0 133.9h.9M332.4 127.6h.9M316.9 124.9h.9M318.8 125.9h.9M330.5 121.3h.9M328.6 134.8h.9M317.3 118.5h.9M316.3 133.2h.9M306.7 127.4h.9M310.6 127.1h.9M332.2 140.4h.9M329.7 129.3h.9M326.5 136.1h.9M315.2 120.0h.9M314.3 120.6h.9M335.9 131.7h.9M333.1 137.5h.9M329.7 124.9h.9M299.9 132.9h.9M326.2 130.6h.9M312.2 134.5h.9M329.5 134.2h.9M313.5 124.7h.9M310.6 124.0h.9M324.1 117.4h.9M310.5 123.8h.9M326.6 132.2h.9M322.2 115.4h.9M318.7 136.3h.9M318.6 128.1h.9M328.7 121.3h.9M325.0 132.3h.9M326.1 128.6h.9M316.5 118.9h.9M332.1 123.1h.9M321.8 134.2h.9M321.3 126.5h.9M330.1 133.8h.9M322.0 125.7h.9M323.3 132.0h.9M318.7 126.9h.9M321.5 120.7h.9M321.1 128.1h.9M333.9 130.7h.9M327.9 124.2h.9M315.4 133.3h.9M318.2 127.6h.9M323.2 124.3h.9M303.9 130.9h.9M311.9 128.3h.9M318.8 129.9h.9M331.7 119.2h.9M298.9 128.3h.9M320.1 124.8h.9M321.6 126.5h.9M312.5 122.1h.9M305.8 134.2h.9M318.0 133.4h.9M311.4 123.2h.9M320.7 128.2h.9M334.6 128.8h.9M329.0 130.7h.9M309.8 124.6h.9M321.9 129.9h.9M307.0 127.0h.9M318.5 130.6h.9M310.1 123.1h.9M325.7 124.3h.9M325.4 126.5h.9M316.2 122.5h.9M325.5 121.5h.9M317.5 136.9h.9M320.2 123.5h.9M318.5 127.6h.9M318.5 122.9h.9M316.8 125.9h.9M332.0 115.0h.9M314.0 130.4h.9M321.5 123.7h.9M321.3 133.2h.9M327.5 131.2h.9M318.0 125.2h.9M326.1 120.3h.9M323.4 130.1h.9M321.3 125.6h.9M334.2 123.5h.9M325.1 126.6h.9M324.2 130.5h.9M326.1 121.8h.9M317.2 131.4h.9M326.2 129.1h.9M313.1 129.3h.9M306.9 129.5h.9M322.7 118.9h.9M307.9 125.5h.9M328.0 129.7h.9M317.0 124.8h.9M343.6 124.5h.9M321.0 137.8h.9M317.2 128.0h.9M320.5 133.6h.9M301.0 130.2h.9M336.2 132.4h.9M290.2 132.0h.9M315.0 123.2h.9M307.3 123.2h.9M322.4 126.5h.9M311.8 127.6h.9M305.2 118.5h.9M313.4 126.5h.9M319.5 123.6h.9M329.5 130.8h.9M309.8 128.7h.9M331.6 117.7h.9M319.4 139.2h.9M332.8 115.3h.9M322.1 138.8h.9M320.1 126.9h.9M313.4 128.6h.9M317.1 132.6h.9M329.1 128.0h.9M316.1 123.2h.9M320.6 116.8h.9M305.4 122.7h.9M333.4 124.4h.9M329.7 128.7h.9M316.6 132.3h.9M342.2 130.6h.9M333.8 128.5h.9M300.3 132.7h.9M324.4 130.0h.9M331.7 137.3h.9M321.5 140.7h.9M336.4 128.3h.9M336.4 129.0h.9M298.8 133.4h.9M311.2 129.9h.9M329.5 129.8h.9M334.9 122.5h.9M318.2 125.1h.9M305.6 130.6h.9M310.4 129.7h.9M338.8 121.9h.9M320.6 119.7h.9M318.1 124.5h.9M304.9 126.2h.9M304.2 126.6h.9M330.5 121.2h.9M311.6 113.4h.9M335.1 125.9h.9M323.3 127.9h.9M321.1 140.1h.9M329.2 126.1h.9M316.6 126.9h.9M324.3 134.1h.9M341.2 132.3h.9M329.2 130.7h.9M305.3 117.4h.9M319.4 128.3h.9M290.2 132.5h.9M314.1 130.4h.9M333.6 122.9h.9M336.9 119.7h.9M320.7 135.4h.9M313.8 133.4h.9M335.8 128.6h.9M317.9 129.5h.9M317.2 122.9h.9M320.3 135.7h.9M325.0 129.8h.9M310.8 139.2h.9M319.7 128.9h.9M318.7 130.3h.9M335.5 127.3h.9M325.2 128.4h.9M314.1 134.7h.9M314.4 135.1h.9M323.1 127.8h.9M318.2 131.5h.9M329.8 132.9h.9M297.4 131.9h.9M312.3 127.0h.9M335.2 122.7h.9M306.7 125.0h.9M323.2 126.3h.9M315.6 115.4h.9M327.6 128.3h.9M336.2 134.5h.9M330.6 117.4h.9M299.0 131.4h.9M313.1 122.5h.9M312.1 119.8h.9M307.7 128.2h.9M314.5 129.1h.9M322.7 127.8h.9M307.3 127.8h.9M311.9 118.3h.9M304.4 134.5h.9M302.2 129.1h.9M328.3 125.8h.9M316.9 130.2h.9M330.9 122.1h.9M319.7 121.3h.9M315.9 123.1h.9M342.8 126.3h.9M324.5 120.7h.9M298.7 125.3h.9M308.6 122.8h.9M313.1 124.9h.9M327.9 136.2h.9M321.9 125.6h.9M324.7 125.7h.9M310.6 132.9h.9M318.9 128.2h.9M335.0 135.6h.9M325.8 124.7h.9M304.5 129.2h.9M323.9 121.5h.9M334.3 128.6h.9M341.8 132.2h.9M298.7 126.1h.9M316.1 129.9h.9M322.6 131.4h.9M313.6 117.1h.9M314.6 124.9h.9M303.5 133.0h.9M315.9 128.0h.9M324.7 126.8h.9M318.3 127.8h.9M334.2 127.5h.9M315.7 124.4h.9M329.3 126.1h.9M322.3 128.4h.9M312.6 135.7h.9M326.0 127.0h.9M323.8 122.4h.9M316.5 126.8h.9M298.2 132.4h.9M343.0 130.4h.9M331.9 123.4h.9M324.6 129.6h.9M332.9 127.4h.9M301.2 130.1h.9M325.6 133.1h.9M328.1 129.3h.9M326.7 122.6h.9M328.1 119.4h.9M305.8 124.4h.9M325.1 132.0h.9M324.6 129.2h.9M336.2 120.2h.9M319.1 118.3h.9M324.9 127.4h.9M325.8 118.1h.9M330.6 128.9h.9M322.1 127.3h.9M323.2 119.0h.9M322.6 126.9h.9M323.0 123.0h.9M326.1 124.8h.9M307.1 129.6h.9M318.2 120.6h.9M319.2 133.8h.9M323.3 135.3h.9M320.7 124.8h.9M303.2 133.9h.9M326.9 112.2h.9M313.5 124.9h.9M311.0 117.2h.9M323.8 124.4h.9M328.9 139.9h.9M323.5 116.6h.9M325.6 134.1h.9M324.6 130.3h.9M326.5 116.4h.9M320.5 131.4h.9M308.9 121.6h.9M320.9 124.1h.9M313.2 134.3h.9M324.0 132.4h.9M320.7 119.8h.9M316.2 129.0h.9M301.7 126.8h.9M339.3 127.4h.9M285.4 135.8h.9M309.4 128.1h.9M327.3 136.2h.9M317.9 126.0h.9M320.4 131.8h.9M321.1 122.6h.9M325.8 125.3h.9M303.4 122.0h.9M309.8 129.1h.9M327.3 122.7h.9M335.1 122.8h.9M324.1 126.0h.9M339.9 122.6h.9M303.8 132.6h.9M322.4 116.2h.9M325.2 122.6h.9M333.1 130.1h.9M303.3 137.5h.9M314.7 131.7h.9M303.5 127.5h.9M307.2 129.6h.9M313.4 129.1h.9M293.8 126.5h.9M318.6 126.8h.9M320.0 120.9h.9M334.6 132.8h.9M305.0 125.8h.9M338.4 133.8h.9M316.5 132.4h.9M324.9 124.5h.9M320.0 118.0h.9M320.2 126.3h.9M308.8 133.7h.9M327.3 125.9h.9M333.2 129.4h.9M302.7 125.5h.9M310.2 133.0h.9M323.0 107.0h.9M325.2 134.1h.9M323.7 132.3h.9M309.1 125.8h.9M351.8 120.6h.9M333.7 127.0h.9M325.8 130.7h.9M313.4 117.8h.9M302.2 133.5h.9M314.7 129.2h.9M310.9 121.9h.9M311.2 137.9h.9M326.1 129.9h.9M317.1 132.0h.9M323.1 125.9h.9M319.0 129.3h.9M320.2 122.4h.9M325.1 116.2h.9M320.5 134.1h.9M318.2 131.1h.9M309.1 122.8h.9M312.8 125.2h.9M303.2 127.7h.9M318.2 136.4h.9M305.8 130.3h.9M317.0 132.8h.9M321.8 117.4h.9M322.1 120.9h.9M326.1 130.5h.9M318.3 133.8h.9M327.9 131.4h.9M308.5 130.7h.9M303.9 136.1h.9M312.0 128.7h.9M322.8 110.5h.9M323.6 125.7h.9M332.4 123.8h.9M330.9 123.2h.9M306.4 137.2h.9M322.2 127.0h.9M327.2 118.1h.9M315.0 121.2h.9M315.8 128.6h.9M323.1 123.6h.9M331.7 130.9h.9M337.9 131.1h.9M330.5 126.7h.9M304.6 126.9h.9M334.4 119.3h.9M353.9 118.3h.9M314.2 127.2h.9M316.8 129.3h.9M315.6 127.9h.9M316.0 119.7h.9M325.9 121.8h.9M316.0 125.7h.9M306.4 126.0h.9M314.4 131.6h.9M316.2 121.7h.9M319.2 126.1h.9M340.9 117.7h.9M320.7 127.3h.9M326.9 129.6h.9M314.1 128.5h.9M308.1 137.7h.9M307.2 120.5h.9M314.8 133.8h.9M290.7 131.8h.9M306.1 116.0h.9M340.3 125.7h.9M304.3 121.0h.9M317.8 121.1h.9M314.9 132.5h.9M307.2 131.0h.9M320.5 130.5h.9M321.8 126.3h.9M324.1 135.7h.9M318.3 129.4h.9M312.5 121.8h.9M311.4 119.8h.9M313.4 126.6h.9M337.2 139.7h.9M292.0 127.8h.9M324.0 124.5h.9M308.7 124.1h.9M338.4 125.5h.9M326.5 128.2h.9M319.4 130.5h.9M340.2 131.6h.9M326.7 126.9h.9M309.3 138.8h.9M331.4 125.6h.9M332.3 119.1h.9M323.2 132.3h.9M324.5 130.2h.9M305.0 131.9h.9M296.1 127.4h.9M300.1 131.4h.9M326.9 123.8h.9M321.6 126.5h.9M323.2 125.2h.9M324.1 138.9h.9M332.6 130.6h.9M308.7 127.8h.9M316.5 133.6h.9M312.6 128.0h.9M320.3 119.5h.9M309.1 127.9h.9M309.2 117.1h.9M332.1 119.1h.9M320.9 124.5h.9M316.7 133.4h.9M330.8 134.1h.9M318.6 119.4h.9M314.5 130.0h.9M310.3 124.9h.9M329.3 119.9h.9M313.9 122.2h.9M294.8 130.4h.9M310.3 120.2h.9M320.4 136.8h.9M305.6 129.8h.9M330.4 130.3h.9M322.7 124.6h.9M317.1 132.2h.9M343.3 129.2h.9M320.0 134.5h.9M308.9 131.4h.9M320.9 134.2h.9M329.9 126.2h.9M330.7 137.1h.9M319.4 129.5h.9M307.1 129.3h.9M333.6 136.2h.9M325.8 121.5h.9M317.6 123.0h.9M331.1 126.5h.9M340.5 130.7h.9M318.7 122.5h.9M336.6 133.1h.9M332.4 125.3h.9M318.2 130.9h.9M320.1 132.8h.9M320.2 124.4h.9M310.0 127.1h.9M315.8 115.3h.9M315.7 124.7h.9M318.3 128.9h.9M307.0 124.9h.9M313.7 123.2h.9M312.8 120.5h.9M331.0 130.7h.9M318.9 130.8h.9M303.7 124.2h.9M323.7 127.8h.9M308.2 118.6h.9M313.8 126.1h.9M323.9 133.5h.9M325.2 127.8h.9M311.5 118.9h.9M335.1 127.0h.9M319.4 134.6h.9M309.7 124.7h.9M328.7 113.5h.9M330.6 129.4h.9M308.9 120.7h.9M310.7 131.6h.9M309.8 124.3h.9M330.3 119.5h.9M321.1 132.7h.9M330.0 136.0h.9M290.3 132.0h.9M310.3 130.7h.9M316.5 123.8h.9M307.7 132.5h.9M319.0 131.3h.9M305.7 133.1h.9M322.1 130.5h.9M319.5 129.7h.9M325.9 125.9h.9M331.6 125.9h.9M314.1 125.9h.9M323.2 124.0h.9M307.6 122.1h.9M333.2 133.4h.9M300.0 134.3h.9M325.2 127.2h.9M309.5 130.1h.9M325.9 129.0h.9M327.8 133.4h.9M333.8 126.9h.9M303.1 139.3h.9M319.8 121.2h.9M316.3 122.1h.9M311.6 119.9h.9M311.0 130.8h.9M325.3 126.8h.9M320.5 130.8h.9M314.5 125.2h.9M319.0 132.9h.9M332.1 125.4h.9M331.2 130.4h.9M326.4 128.9h.9M318.5 128.5h.9M312.5 135.6h.9M323.7 139.0h.9M334.8 131.7h.9M329.1 124.0h.9M324.7 133.5h.9M331.0 128.9h.9M320.1 122.1h.9M332.0 132.6h.9M321.8 125.2h.9M324.8 121.7h.9M311.0 125.2h.9M315.6 128.7h.9M322.0 125.7h.9M312.4 127.7h.9M316.2 130.7h.9M288.6 124.6h.9M311.7 128.9h.9M290.6 121.2h.9M323.6 121.5h.9M313.8 135.3h.9M305.2 137.2h.9M317.5 117.2h.9M312.9 137.0h.9M294.9 128.8h.9M304.5 135.3h.9M306.4 128.6h.9M320.3 131.6h.9M317.5 118.8h.9M316.4 129.7h.9M303.4 109.8h.9M298.8 103.8h.9M317.0 124.7h.9M325.6 129.9h.9M293.5 122.2h.9M299.4 134.0h.9M321.0 131.7h.9M323.6 128.1h.9M321.0 126.9h.9M307.6 122.9h.9M302.5 122.1h.9M327.8 127.5h.9M306.9 113.5h.9M292.7 122.2h.9M317.7 117.0h.9M316.3 125.1h.9M317.8 130.9h.9M307.6 137.8h.9M315.5 122.6h.9M327.0 115.2h.9M292.6 138.3h.9M310.9 123.0h.9M307.4 140.6h.9M302.6 111.8h.9M298.0 124.2h.9M319.7 121.9h.9M329.6 120.6h.9M309.3 119.0h.9M313.0 126.1h.9M318.9 120.5h.9M311.8 129.9h.9M315.9 125.7h.9M324.5 125.4h.9M308.3 127.0h.9M316.1 122.6h.9M299.6 124.7h.9M303.9 123.1h.9M315.8 121.3h.9M333.6 130.9h.9M318.5 133.6h.9M309.3 135.1h.9M323.9 132.7h.9M308.1 122.1h.9M296.0 110.6h.9M309.5 126.6h.9M314.4 105.0h.9M329.5 123.1h.9M297.8 120.7h.9M320.8 125.9h.9M320.7 112.1h.9M308.9 123.3h.9M298.3 121.2h.9M320.0 114.6h.9M325.5 113.7h.9M308.8 123.6h.9M324.7 115.7h.9M328.8 97.8h.9M332.9 130.0h.9M307.5 126.4h.9M299.8 128.7h.9M321.0 140.2h.9M307.0 130.8h.9M306.9 115.8h.9M299.8 129.4h.9M319.7 127.2h.9M321.6 135.1h.9M308.9 134.2h.9M304.0 136.0h.9M325.4 127.0h.9M307.0 123.2h.9M315.4 115.7h.9M319.9 111.3h.9M313.8 126.7h.9M304.3 121.8h.9M335.7 125.4h.9M297.4 126.7h.9M300.7 122.0h.9M312.1 124.2h.9M318.2 121.6h.9M297.6 127.0h.9M308.4 131.9h.9M304.3 125.8h.9M304.7 114.7h.9M326.8 134.1h.9M298.0 120.7h.9M328.6 118.8h.9M314.9 134.5h.9M315.8 132.6h.9M304.7 115.0h.9M284.4 121.9h.9M302.2 122.7h.9M307.2 122.8h.9M300.0 119.2h.9M303.7 119.3h.9M311.4 107.1h.9M345.1 127.5h.9M302.8 122.2h.9M314.0 125.3h.9M308.0 121.4h.9M284.0 133.5h.9M318.7 126.5h.9M317.2 120.0h.9M321.9 138.5h.9M308.3 130.3h.9M309.6 126.5h.9M318.5 129.7h.9M285.8 128.6h.9M308.5 130.4h.9M300.1 128.7h.9M314.5 128.8h.9M315.9 128.7h.9M299.3 117.4h.9M316.6 116.7h.9M293.4 131.8h.9M313.4 123.9h.9M307.1 106.6h.9M306.8 128.5h.9M311.5 120.3h.9M324.0 117.7h.9M304.1 124.3h.9M292.9 126.7h.9M312.9 131.6h.9M311.1 121.3h.9M312.9 125.5h.9M320.1 126.3h.9M308.6 132.3h.9M323.9 125.3h.9M305.0 121.5h.9M320.9 135.2h.9M322.4 112.5h.9M305.1 127.8h.9M305.5 122.9h.9M314.1 121.0h.9M318.9 139.0h.9M320.4 127.9h.9M324.6 120.6h.9M313.3 120.2h.9M319.5 118.5h.9" stroke="#111" stroke-width="0.9" stroke-opacity="0.8" fill="none"/>
<rect x="282.50" y="51.50" width="104.10" height="90.30" fill="none" stroke="#3c3c3c" stroke-width="0.9"/>
<path d="M335.60 51.50V141.80" stroke="#4a4a4a" stroke-width="0.9" fill="none"/><path d="M282.50 107.40H386.60" stroke="#6a6a6a" stroke-width="0.8" fill="none"/>
<path d="M290.33 141.80v-1.2M282.50 135.00h1.2M294.92 141.80v-1.2M282.50 131.03h1.2M298.17 141.80v-1.2M282.50 128.21h1.2M300.69 141.80v-1.2M282.50 126.02h1.2M302.75 141.80v-1.2M282.50 124.23h1.2M304.49 141.80v-1.2M282.50 122.72h1.2M306.00 141.80v-1.2M282.50 121.41h1.2M307.33 141.80v-1.2M282.50 120.26h1.2M316.36 141.80v-1.2M282.50 112.43h1.2M320.94 141.80v-1.2M282.50 108.45h1.2M324.19 141.80v-1.2M282.50 105.63h1.2M326.72 141.80v-1.2M282.50 103.45h1.2M328.78 141.80v-1.2M282.50 101.66h1.2M330.52 141.80v-1.2M282.50 100.15h1.2M332.03 141.80v-1.2M282.50 98.84h1.2M333.36 141.80v-1.2M282.50 97.68h1.2M342.38 141.80v-1.2M282.50 89.85h1.2M346.97 141.80v-1.2M282.50 85.88h1.2M350.22 141.80v-1.2M282.50 83.06h1.2M352.74 141.80v-1.2M282.50 80.87h1.2M354.80 141.80v-1.2M282.50 79.08h1.2M356.54 141.80v-1.2M282.50 77.57h1.2M358.05 141.80v-1.2M282.50 76.26h1.2M359.38 141.80v-1.2M282.50 75.11h1.2M368.41 141.80v-1.2M282.50 67.28h1.2M372.99 141.80v-1.2M282.50 63.30h1.2M376.24 141.80v-1.2M282.50 60.48h1.2M378.77 141.80v-1.2M282.50 58.30h1.2M380.83 141.80v-1.2M282.50 56.51h1.2M382.57 141.80v-1.2M282.50 55.00h1.2M384.08 141.80v-1.2M282.50 53.69h1.2M385.41 141.80v-1.2M282.50 52.53h1.2" stroke="#555" stroke-width="0.5" fill="none"/>
<text x="282.70" y="149.4" font-size="7.4" fill="#222">10<tspan dy="-2.6" font-size="4.4">0</tspan></text>
<text x="308.72" y="149.4" font-size="7.4" fill="#222">10<tspan dy="-2.6" font-size="4.4">1</tspan></text>
<text x="334.75" y="149.4" font-size="7.4" fill="#222">10<tspan dy="-2.6" font-size="4.4">2</tspan></text>
<text x="360.78" y="149.4" font-size="7.4" fill="#222">10<tspan dy="-2.6" font-size="4.4">3</tspan></text>
<text x="386.80" y="149.4" font-size="7.4" fill="#222">10<tspan dy="-2.6" font-size="4.4">4</tspan></text>
<path d="M469.9 68.0h.9M465.8 76.3h.9M470.6 79.1h.9M476.7 67.8h.9M465.0 74.7h.9M467.5 74.2h.9M460.7 70.8h.9M468.3 72.6h.9M472.3 68.1h.9M469.5 74.0h.9M461.8 73.8h.9M472.9 72.4h.9M470.0 74.9h.9M471.2 69.5h.9M469.8 72.3h.9M466.1 73.1h.9M472.0 75.7h.9M472.3 66.8h.9M467.1 70.6h.9M469.0 69.0h.9M470.9 69.7h.9M466.3 74.4h.9M470.8 73.3h.9M470.2 70.1h.9M467.2 73.6h.9M464.7 70.5h.9M475.1 70.9h.9M463.8 69.0h.9M469.3 71.5h.9M472.6 73.8h.9M474.7 73.4h.9M473.9 71.2h.9M464.3 74.9h.9M475.0 69.8h.9M471.6 71.6h.9M463.7 75.6h.9M467.4 73.7h.9M466.0 68.9h.9M470.5 71.9h.9M468.3 74.4h.9M464.0 75.4h.9M476.2 73.3h.9M470.4 70.4h.9M472.6 70.4h.9M458.9 73.2h.9M471.3 67.7h.9M476.1 67.0h.9M468.9 73.8h.9M469.4 70.7h.9M459.7 71.0h.9M472.2 74.0h.9M480.8 69.3h.9M476.1 69.7h.9M462.9 70.4h.9M472.9 73.9h.9M467.7 70.4h.9M476.8 72.6h.9M475.0 71.2h.9M469.5 71.5h.9M466.7 71.3h.9M465.1 68.8h.9M472.9 73.7h.9M469.4 72.1h.9M461.5 71.9h.9M468.2 69.2h.9M463.1 70.2h.9M467.6 72.0h.9M479.0 71.8h.9M470.3 69.7h.9M475.5 70.8h.9M475.4 68.3h.9M464.7 79.1h.9M477.8 70.1h.9M468.6 69.7h.9M466.8 68.4h.9M474.2 75.0h.9M470.7 73.4h.9M473.1 74.3h.9M468.4 73.2h.9M474.4 69.5h.9M466.7 73.3h.9M469.8 71.2h.9M466.7 71.2h.9M472.3 72.2h.9M470.5 73.1h.9M473.1 75.3h.9M470.1 74.0h.9M472.2 73.3h.9M469.3 77.0h.9M474.7 70.0h.9M472.2 68.1h.9M473.9 70.9h.9M477.0 67.4h.9M474.3 70.2h.9M472.5 68.4h.9M464.9 77.2h.9M475.1 72.1h.9M467.4 73.3h.9M467.0 70.4h.9M469.0 74.3h.9M466.2 72.7h.9M473.1 74.0h.9M469.4 71.9h.9M471.3 75.2h.9M465.6 70.3h.9M469.7 69.2h.9M461.3 71.9h.9M468.4 75.3h.9M467.8 75.9h.9M464.6 73.7h.9M469.8 70.3h.9M466.6 70.1h.9M469.8 71.1h.9M466.8 79.2h.9M468.4 73.4h.9M461.9 73.2h.9M473.4 70.6h.9M471.4 75.3h.9M471.9 71.4h.9M470.8 72.6h.9M474.9 70.7h.9M469.7 78.1h.9M475.2 70.7h.9M468.0 71.0h.9M461.9 77.1h.9M468.6 70.8h.9M470.2 71.6h.9M468.2 76.8h.9M468.7 71.7h.9M460.9 74.6h.9M472.9 75.4h.9M468.5 73.3h.9M473.5 74.2h.9M465.0 70.2h.9M471.8 73.2h.9M471.8 68.7h.9M474.3 71.6h.9M467.2 75.0h.9M472.6 69.9h.9M467.8 72.4h.9M463.2 76.4h.9M474.7 69.7h.9M468.8 68.3h.9M473.7 68.9h.9M472.6 73.0h.9M468.5 73.2h.9M472.5 69.9h.9M463.4 78.4h.9M465.2 77.1h.9M463.5 73.4h.9M461.3 72.5h.9M470.5 69.2h.9M473.6 69.3h.9M474.8 72.8h.9M471.3 68.7h.9M469.7 70.0h.9M469.2 71.5h.9M468.5 74.8h.9M464.9 70.1h.9M465.7 70.5h.9M463.3 73.1h.9M468.2 71.8h.9M469.6 74.2h.9M468.6 75.9h.9M465.2 74.7h.9M465.8 72.7h.9M475.1 66.3h.9M468.2 74.5h.9M466.3 69.3h.9M461.5 71.1h.9M477.6 70.4h.9M467.2 71.9h.9M463.3 77.2h.9M460.9 71.5h.9M473.8 71.0h.9M469.5 72.5h.9M467.1 74.0h.9M467.7 68.4h.9M467.1 73.9h.9M467.5 73.3h.9M470.1 73.1h.9M470.1 73.1h.9M472.8 68.1h.9M473.9 71.4h.9M472.1 74.1h.9M467.3 69.0h.9M468.7 74.0h.9M466.5 72.1h.9M461.0 73.1h.9M461.0 71.8h.9M463.9 72.4h.9M472.9 73.9h.9M465.1 72.0h.9M466.1 72.7h.9M466.1 69.5h.9M465.1 72.4h.9M468.4 69.5h.9M473.7 71.9h.9M464.1 72.3h.9M470.5 74.5h.9M467.9 69.4h.9M472.3 74.4h.9M467.9 71.8h.9M470.9 71.7h.9M468.7 68.0h.9M474.0 70.5h.9M462.3 73.9h.9M467.4 68.3h.9M459.5 74.4h.9M472.2 72.3h.9M476.5 70.5h.9M472.3 75.8h.9M470.5 73.0h.9M469.3 70.7h.9M469.6 72.8h.9M466.4 72.0h.9M468.0 73.8h.9M471.3 70.7h.9M471.9 69.5h.9M468.9 68.9h.9M459.8 77.4h.9M468.6 72.9h.9M475.3 74.7h.9M473.2 71.9h.9M464.9 68.4h.9M463.7 70.0h.9M466.7 74.7h.9M466.2 72.5h.9M468.2 70.2h.9M468.2 71.1h.9M461.5 70.0h.9M471.0 70.9h.9M464.1 74.1h.9M468.2 72.8h.9M469.3 69.5h.9M468.4 75.2h.9M467.9 72.4h.9M470.0 72.1h.9M470.8 70.5h.9M470.0 73.8h.9M472.7 73.2h.9M467.4 68.4h.9M470.2 72.2h.9M470.4 72.1h.9M471.3 73.6h.9M475.0 74.7h.9M470.3 71.2h.9M471.1 69.6h.9M468.0 69.6h.9M462.7 74.3h.9M468.7 73.6h.9M464.8 70.7h.9M466.3 78.7h.9M470.5 69.9h.9M480.1 66.7h.9M468.5 73.6h.9M463.4 79.0h.9M465.2 76.6h.9M470.7 76.0h.9M466.3 69.5h.9M470.5 70.9h.9M465.0 70.6h.9M465.4 69.9h.9M465.9 73.0h.9M468.6 70.8h.9M471.8 72.6h.9M467.1 73.0h.9M466.3 75.1h.9M471.6 74.4h.9M461.3 76.5h.9M470.4 72.0h.9M471.9 68.5h.9M469.3 72.0h.9M468.2 71.0h.9M470.1 76.2h.9M467.6 76.6h.9M468.3 73.2h.9M467.7 76.5h.9M473.3 70.7h.9M469.4 73.7h.9M468.1 70.5h.9M471.3 74.6h.9M465.3 75.2h.9M467.7 71.0h.9M460.7 77.4h.9M475.4 74.5h.9M470.1 75.3h.9M467.8 69.0h.9M477.0 70.0h.9M478.2 71.2h.9M471.7 72.9h.9M473.4 70.9h.9M477.4 76.1h.9M468.4 73.8h.9M470.0 70.7h.9M473.1 71.8h.9M473.5 69.6h.9M459.4 80.8h.9M473.5 76.0h.9M467.0 72.5h.9M465.2 69.2h.9M464.9 71.7h.9M468.1 73.6h.9M465.6 72.6h.9M469.9 74.1h.9M470.4 67.7h.9M470.5 67.3h.9M465.3 73.5h.9M472.6 70.3h.9M466.9 76.9h.9M472.9 70.1h.9M465.8 70.0h.9M467.2 72.0h.9M470.1 69.4h.9M475.7 70.6h.9M467.3 75.8h.9M473.8 70.7h.9M470.0 68.8h.9M467.5 70.9h.9M471.1 73.6h.9M471.3 70.5h.9M474.1 72.8h.9M461.0 75.8h.9M479.4 69.0h.9M472.7 73.5h.9M472.2 74.7h.9M472.5 73.1h.9M463.9 74.7h.9M473.3 70.6h.9M468.6 72.8h.9M469.7 75.0h.9M470.7 74.8h.9M467.0 73.5h.9M470.0 78.9h.9M468.5 70.0h.9M471.6 74.1h.9M472.6 71.3h.9M468.5 71.4h.9M468.3 76.2h.9M470.0 73.0h.9M470.4 70.1h.9M463.4 71.5h.9M465.5 71.8h.9M478.2 71.2h.9M467.2 72.5h.9M471.3 71.7h.9M474.0 72.4h.9M474.0 73.8h.9M468.2 73.1h.9M466.9 77.8h.9M477.4 73.8h.9M470.1 70.6h.9M470.9 72.3h.9M467.1 74.3h.9M470.2 69.3h.9M466.1 72.9h.9M472.5 75.1h.9M464.8 70.8h.9M469.3 76.9h.9M473.0 72.4h.9M473.0 75.1h.9M463.1 73.4h.9M472.3 67.1h.9M476.7 70.0h.9M468.1 75.5h.9M468.8 75.1h.9M478.2 74.1h.9M470.0 71.1h.9M461.8 74.8h.9M471.8 74.7h.9M480.1 67.9h.9M477.6 69.4h.9M465.0 71.1h.9M469.0 76.3h.9M467.9 72.9h.9M471.0 72.1h.9M466.9 67.0h.9M467.7 75.5h.9M468.0 70.5h.9M467.1 72.7h.9M470.6 71.3h.9M465.8 73.3h.9M469.1 74.6h.9M466.9 73.1h.9M470.8 68.6h.9M477.1 71.4h.9M465.8 76.7h.9M466.5 74.5h.9M472.0 73.5h.9M467.4 70.5h.9M456.5 74.6h.9M468.9 73.9h.9M464.5 73.3h.9M470.9 75.9h.9M468.8 77.9h.9M466.3 72.5h.9M460.8 68.6h.9M471.9 64.9h.9M472.6 71.9h.9M468.6 71.2h.9M469.5 71.8h.9M469.7 72.3h.9M472.5 72.1h.9M471.7 72.7h.9M471.0 70.8h.9M470.3 74.2h.9M469.2 76.5h.9M467.5 68.9h.9M473.3 70.6h.9M470.7 72.9h.9M475.2 68.6h.9M469.1 71.5h.9M468.0 72.0h.9M471.5 72.7h.9M467.7 77.8h.9M464.8 74.3h.9M470.7 70.8h.9M463.7 75.7h.9M464.5 78.2h.9M469.0 75.5h.9M462.9 72.1h.9M466.7 70.9h.9M471.0 72.2h.9M464.1 71.7h.9M467.5 72.0h.9M466.8 66.5h.9M466.2 73.4h.9M468.2 69.6h.9M465.6 70.3h.9M467.4 71.6h.9M467.5 71.5h.9M464.2 72.7h.9M462.2 75.3h.9M472.0 72.6h.9M477.1 78.7h.9M464.0 71.3h.9M463.8 74.5h.9M472.5 72.6h.9M468.1 67.4h.9M471.8 74.6h.9M467.6 74.8h.9M471.9 69.9h.9M472.4 72.5h.9M475.6 70.9h.9M466.3 76.4h.9M466.0 71.0h.9M473.4 71.4h.9M470.1 69.5h.9M466.4 73.1h.9M465.7 70.5h.9M471.9 65.5h.9M474.3 68.4h.9M469.2 67.2h.9M473.5 73.1h.9M464.5 73.1h.9M472.7 70.8h.9M468.4 72.1h.9M474.3 71.4h.9M465.6 70.6h.9M465.8 73.3h.9M471.3 74.7h.9M474.3 69.4h.9M466.2 69.9h.9M471.0 75.3h.9M474.5 72.1h.9M474.3 75.3h.9M472.9 73.4h.9M467.1 71.6h.9M467.4 76.7h.9M471.1 75.8h.9M469.0 66.9h.9M471.0 73.2h.9M469.9 73.4h.9M470.8 72.7h.9M471.5 74.3h.9M464.5 72.7h.9M470.1 71.0h.9M467.1 74.2h.9M465.8 73.5h.9M470.9 67.1h.9M473.1 72.3h.9M470.9 67.8h.9M468.7 74.4h.9M466.4 70.5h.9M462.1 73.0h.9M466.1 70.5h.9M469.1 69.7h.9M467.1 78.6h.9M472.6 71.9h.9M471.0 72.8h.9M468.0 75.8h.9M467.6 74.7h.9M474.5 68.3h.9M464.0 70.9h.9M472.9 67.4h.9M462.4 71.1h.9M475.0 70.3h.9M471.4 74.9h.9M475.1 71.7h.9M469.5 73.9h.9M469.5 70.0h.9M473.4 71.7h.9M474.1 75.7h.9M468.1 71.1h.9M472.3 72.3h.9M465.1 74.8h.9M468.8 70.2h.9M465.4 73.3h.9M467.8 76.9h.9M472.8 71.0h.9M466.1 76.0h.9M476.1 70.4h.9M462.6 74.1h.9M475.4 72.7h.9M475.4 70.5h.9M467.6 72.4h.9M470.7 72.9h.9M471.4 71.9h.9M473.7 72.5h.9M467.6 72.1h.9M471.4 74.4h.9M470.8 70.4h.9M466.5 70.7h.9M466.7 75.3h.9M470.0 75.4h.9M466.1 72.5h.9M469.9 73.1h.9M471.4 73.8h.9M473.4 73.3h.9M473.2 69.3h.9M472.4 72.1h.9M480.1 71.1h.9M473.0 68.8h.9M470.8 76.5h.9M472.5 73.7h.9M469.3 76.1h.9M471.8 73.9h.9M474.9 73.0h.9M471.1 71.4h.9M474.9 69.2h.9M455.6 74.8h.9M472.2 66.4h.9M468.7 75.6h.9M471.6 73.1h.9M475.1 69.9h.9M468.4 71.4h.9M474.3 70.9h.9M468.9 72.6h.9M468.6 69.0h.9M462.8 69.9h.9M466.0 76.2h.9M473.9 69.6h.9M477.5 70.8h.9M469.7 75.4h.9M470.9 70.5h.9M473.7 74.6h.9M474.4 72.5h.9M468.0 73.9h.9M471.0 67.9h.9M475.0 69.1h.9M463.7 72.2h.9M468.3 75.1h.9M465.7 71.7h.9M467.2 71.7h.9M469.8 73.6h.9M470.9 77.9h.9M469.6 74.1h.9M466.4 74.0h.9M476.1 71.2h.9M467.4 69.8h.9M465.7 74.6h.9M461.5 71.3h.9M470.1 66.1h.9M469.7 71.7h.9M462.8 76.2h.9M467.2 71.3h.9M475.2 72.1h.9M476.9 72.6h.9M473.3 74.5h.9M470.4 73.0h.9M468.2 71.9h.9M471.2 73.7h.9M465.7 72.6h.9M470.6 74.1h.9M471.8 72.8h.9M470.1 74.0h.9M471.6 70.3h.9M473.0 73.3h.9M470.6 73.8h.9M471.9 71.3h.9M472.5 69.0h.9M462.2 69.5h.9M478.5 66.6h.9M474.1 72.9h.9M468.3 72.6h.9M461.9 74.1h.9M465.7 75.0h.9M472.8 71.2h.9M468.6 70.2h.9M471.5 74.0h.9M473.3 66.1h.9M455.8 70.7h.9M463.3 76.0h.9M472.4 68.7h.9M466.3 70.3h.9M472.1 70.9h.9M468.5 70.6h.9M468.2 72.6h.9M468.3 72.0h.9M469.6 63.6h.9M470.6 74.8h.9M467.6 73.5h.9M466.0 72.9h.9M465.8 69.2h.9M472.2 75.2h.9M468.8 71.8h.9M469.2 76.7h.9M469.0 78.3h.9M467.1 76.5h.9M480.8 75.5h.9M470.5 70.9h.9M468.3 65.0h.9M475.1 71.0h.9M473.1 75.2h.9M479.5 72.1h.9M465.9 69.2h.9M469.7 75.0h.9M466.1 73.2h.9M463.5 74.1h.9M472.4 70.8h.9M474.6 71.6h.9M463.4 70.3h.9M469.8 70.2h.9M465.0 76.1h.9M474.0 75.0h.9M471.3 69.4h.9M469.6 70.3h.9M469.0 73.6h.9M469.5 72.5h.9M468.6 77.7h.9M473.2 71.2h.9M470.1 68.0h.9M475.8 68.5h.9M468.9 76.3h.9M465.4 73.2h.9M467.2 72.9h.9M466.8 70.5h.9M466.1 71.6h.9M474.6 72.7h.9M470.6 71.6h.9M464.6 74.5h.9M465.1 70.7h.9M470.8 72.8h.9M469.5 75.7h.9M470.2 74.7h.9M468.8 72.0h.9M470.9 71.2h.9M467.0 70.4h.9M473.9 72.6h.9M469.7 69.7h.9M470.9 74.7h.9M469.7 74.3h.9M468.7 74.4h.9M463.8 78.7h.9M468.3 77.6h.9M472.7 74.8h.9M476.0 71.2h.9M474.6 69.0h.9M468.9 74.1h.9M463.6 72.4h.9M473.6 70.0h.9M468.2 70.8h.9M467.5 73.6h.9M473.2 75.6h.9M466.3 71.6h.9M470.0 73.6h.9M462.9 75.7h.9M465.2 77.6h.9M476.0 66.7h.9M473.0 71.9h.9M470.1 70.4h.9M470.0 72.9h.9M467.0 70.5h.9M471.8 69.0h.9M473.9 76.9h.9M470.9 72.6h.9M469.0 71.3h.9M470.5 76.0h.9M472.7 72.1h.9M471.3 67.2h.9M477.8 73.5h.9M473.6 70.7h.9M471.7 75.1h.9M469.1 73.3h.9M466.9 75.8h.9M470.7 76.6h.9M470.3 72.3h.9M469.6 67.3h.9M470.3 69.0h.9M462.8 73.6h.9M472.6 71.7h.9M473.0 73.6h.9M468.2 75.2h.9M463.5 75.7h.9M468.7 71.2h.9M473.8 70.6h.9M462.4 70.7h.9M472.0 66.4h.9M466.4 68.9h.9M469.7 71.8h.9M472.8 71.0h.9M464.4 79.1h.9M470.7 69.4h.9M467.4 73.1h.9M469.6 70.3h.9M475.1 69.8h.9M463.9 72.8h.9M466.7 70.8h.9M475.3 69.2h.9M464.9 74.4h.9M466.4 77.1h.9M469.0 70.8h.9M472.5 73.1h.9M473.7 69.5h.9M467.6 68.6h.9M467.7 72.1h.9M473.3 63.9h.9M463.3 69.1h.9M459.8 76.4h.9M466.5 76.6h.9M470.4 72.0h.9M471.4 70.0h.9M472.6 73.3h.9M462.6 75.2h.9M469.6 73.3h.9M469.2 72.2h.9M469.5 70.9h.9M469.9 74.1h.9M472.5 73.3h.9M467.2 71.6h.9M464.5 76.3h.9M467.2 72.7h.9M472.6 72.3h.9M468.8 67.6h.9M474.0 71.2h.9M466.8 70.7h.9M463.4 72.6h.9M462.1 72.8h.9M477.6 71.4h.9M464.4 70.8h.9M467.4 70.6h.9M477.2 72.2h.9M473.2 68.9h.9M468.9 72.1h.9M476.0 74.2h.9M459.8 72.1h.9M469.4 66.7h.9M473.3 69.1h.9M475.0 67.5h.9M472.7 68.9h.9M460.6 75.8h.9M467.5 68.1h.9M469.3 69.9h.9M471.8 71.1h.9M462.6 73.4h.9M474.5 72.2h.9M472.8 71.9h.9M469.7 70.3h.9M470.3 70.5h.9M470.4 68.3h.9M471.2 74.1h.9M473.2 70.6h.9M466.0 77.3h.9M466.3 72.6h.9M465.1 67.9h.9M465.4 74.9h.9M466.5 71.6h.9M467.0 72.6h.9M468.7 72.8h.9M472.8 68.5h.9M476.9 72.2h.9M469.4 71.2h.9M470.8 74.9h.9M465.5 69.8h.9M470.5 68.8h.9M463.7 74.7h.9M468.3 70.2h.9M471.0 71.4h.9M466.6 74.6h.9M468.4 71.0h.9M464.8 70.0h.9M470.7 71.8h.9M476.2 70.6h.9M476.2 70.6h.9M476.7 69.6h.9M469.5 69.8h.9M468.7 71.8h.9M465.1 72.8h.9M469.9 72.1h.9M470.5 77.5h.9M478.6 70.0h.9M473.7 71.2h.9M465.0 74.3h.9M469.4 70.9h.9M467.9 69.0h.9M470.4 69.0h.9M474.7 68.3h.9M471.2 72.2h.9M470.6 73.2h.9M463.8 74.9h.9M461.6 76.0h.9M471.7 72.8h.9M472.0 74.7h.9M466.4 74.6h.9M469.2 74.1h.9M471.1 72.6h.9M468.2 76.1h.9M465.8 79.0h.9M471.0 67.4h.9M473.0 72.0h.9M464.1 74.5h.9M470.6 70.5h.9M478.5 70.2h.9M468.3 70.7h.9M471.3 71.1h.9M469.3 70.8h.9M472.5 74.4h.9M471.7 70.6h.9M469.8 69.3h.9M465.2 74.6h.9M467.6 70.6h.9M469.1 73.3h.9M470.8 76.7h.9M473.1 68.8h.9M467.1 75.2h.9M474.0 74.4h.9M463.4 69.9h.9M471.2 76.2h.9M466.6 79.2h.9M472.8 73.2h.9M473.2 72.0h.9M474.2 74.2h.9M464.1 74.3h.9M470.2 74.0h.9M461.2 74.8h.9M470.9 72.0h.9M468.2 69.8h.9M468.4 76.5h.9M470.4 70.8h.9M467.3 74.2h.9M480.4 72.9h.9M464.3 70.7h.9M466.6 73.8h.9M467.7 73.8h.9M465.7 73.6h.9M463.6 77.0h.9M468.7 73.1h.9M469.5 71.1h.9M468.5 74.2h.9M472.6 75.8h.9M466.4 71.8h.9M470.4 69.6h.9M471.4 74.3h.9M471.5 73.6h.9M467.8 69.5h.9M469.5 68.5h.9M461.4 70.9h.9M464.5 72.5h.9M472.2 73.4h.9M466.3 76.8h.9M468.6 77.5h.9M466.8 76.4h.9M467.6 72.8h.9M467.2 77.0h.9M467.6 75.1h.9M470.2 69.5h.9M471.1 76.3h.9M468.6 70.9h.9M470.9 70.1h.9M465.8 70.4h.9M466.0 70.4h.9M464.3 73.6h.9M471.6 73.5h.9M467.1 70.5h.9M465.8 72.3h.9M466.3 76.3h.9M470.4 69.1h.9M468.8 73.6h.9M473.4 68.7h.9M465.5 75.9h.9M471.6 72.5h.9M466.6 73.6h.9M468.5 69.3h.9M473.7 75.3h.9M471.7 73.4h.9M468.7 79.8h.9M472.7 71.0h.9M466.3 71.5h.9M468.9 73.0h.9M465.5 73.7h.9M465.6 74.4h.9M471.5 70.2h.9M470.7 68.9h.9M471.4 71.8h.9M467.7 73.2h.9M477.3 72.5h.9M465.1 74.7h.9M472.9 80.4h.9M469.6 74.9h.9M468.0 73.5h.9M464.7 75.2h.9M464.7 75.4h.9M475.0 71.8h.9M466.0 68.3h.9M466.9 71.7h.9M472.8 71.2h.9M467.6 72.3h.9M466.9 70.9h.9M468.3 68.0h.9M463.7 73.5h.9M467.0 76.9h.9M466.6 72.7h.9M459.9 77.3h.9M470.0 70.0h.9M474.1 70.5h.9M468.0 70.7h.9M466.1 70.9h.9M472.4 73.2h.9M465.7 71.9h.9M463.1 73.5h.9M473.6 67.5h.9M466.0 72.4h.9M458.9 72.2h.9M462.5 72.9h.9M467.2 76.2h.9M472.2 71.4h.9M466.6 73.2h.9M469.8 72.9h.9M471.2 69.0h.9M471.5 70.0h.9M468.1 74.9h.9M474.4 73.1h.9M470.1 72.8h.9M473.3 70.8h.9M467.6 71.8h.9M464.5 70.8h.9M472.9 76.4h.9M474.5 70.8h.9M471.1 75.7h.9M472.4 71.8h.9M469.3 68.1h.9M468.1 74.9h.9M467.6 65.9h.9M469.7 68.8h.9M471.5 68.2h.9M472.7 66.7h.9M465.9 72.7h.9M469.8 71.6h.9M467.4 76.2h.9M471.8 70.7h.9M466.4 72.1h.9M468.2 71.7h.9M477.3 67.8h.9M473.3 69.3h.9M470.1 66.9h.9M469.8 74.5h.9M470.5 68.4h.9M468.5 71.9h.9M467.6 70.1h.9M476.1 72.2h.9M466.8 75.3h.9M464.9 70.8h.9M466.0 76.8h.9M472.3 72.9h.9M477.4 69.7h.9M460.7 73.4h.9M465.9 73.9h.9M472.6 76.4h.9M468.6 70.4h.9M468.7 67.2h.9M465.6 70.4h.9M466.9 72.7h.9M468.8 70.6h.9M468.5 69.1h.9M467.9 68.5h.9M469.7 74.4h.9M468.2 72.4h.9M469.8 72.7h.9M476.0 69.7h.9M464.8 73.0h.9M469.2 62.7h.9M466.7 74.0h.9M466.0 73.3h.9M474.4 77.2h.9M470.7 71.6h.9M463.9 79.4h.9M467.9 74.0h.9M468.4 70.2h.9M476.0 68.4h.9M466.4 70.1h.9M472.7 74.8h.9M471.6 73.6h.9M468.1 72.0h.9M468.1 74.9h.9M473.6 70.7h.9M469.7 71.5h.9M471.1 71.0h.9M468.4 68.2h.9M467.0 71.9h.9M469.2 71.7h.9M472.4 72.6h.9M474.4 69.5h.9M469.1 70.4h.9M473.2 74.9h.9M474.4 70.0h.9M470.4 71.1h.9M471.7 70.1h.9M467.8 74.1h.9M474.4 72.9h.9M472.1 71.2h.9M466.5 69.8h.9M467.1 72.2h.9M468.6 77.1h.9M467.9 70.9h.9M467.7 71.5h.9M466.3 75.3h.9M468.8 74.4h.9M472.9 70.6h.9M467.7 71.0h.9M473.4 74.8h.9M469.9 72.6h.9M468.8 71.3h.9M465.3 73.3h.9M470.5 69.3h.9M465.3 70.2h.9M473.7 75.2h.9M471.9 71.6h.9M465.2 70.1h.9M465.7 75.9h.9M466.0 73.1h.9M471.9 74.2h.9M476.2 70.3h.9M470.3 73.8h.9M467.3 74.1h.9M465.2 70.4h.9M466.3 73.7h.9M463.4 75.9h.9M468.4 70.6h.9M465.5 71.4h.9M477.0 67.4h.9M463.6 73.0h.9M472.1 71.1h.9M467.4 72.1h.9M471.6 70.1h.9M465.4 79.1h.9M473.1 72.8h.9M471.7 69.2h.9M475.4 73.2h.9M462.1 69.6h.9M473.1 73.7h.9M471.8 75.4h.9M465.9 67.0h.9M470.5 73.6h.9M473.2 69.3h.9M470.3 71.3h.9M474.8 73.4h.9M469.4 69.3h.9M468.7 77.9h.9M463.9 71.4h.9M456.3 78.2h.9M476.1 74.4h.9M467.9 73.7h.9M475.7 71.3h.9M470.0 73.1h.9M467.3 73.9h.9M463.5 75.0h.9M463.9 67.6h.9M474.3 72.0h.9M470.7 72.6h.9M466.3 78.4h.9M468.0 72.2h.9M468.0 73.8h.9M466.3 68.1h.9M474.3 68.7h.9M467.4 70.8h.9M470.7 72.3h.9M467.5 68.6h.9M472.7 73.4h.9M469.6 71.8h.9M465.3 67.5h.9M471.0 75.2h.9M472.1 72.9h.9M462.2 76.7h.9M464.9 70.3h.9M468.5 71.5h.9M473.1 75.1h.9M471.8 70.2h.9M469.6 66.1h.9M472.2 72.3h.9M473.8 70.3h.9M465.1 69.8h.9M471.0 70.9h.9M468.1 75.7h.9M468.6 71.6h.9M471.2 76.0h.9M468.4 72.8h.9M473.7 73.3h.9M470.2 71.0h.9M472.6 70.4h.9M471.2 67.3h.9M471.6 72.8h.9M470.0 73.4h.9M473.0 71.2h.9M468.9 74.3h.9M467.8 73.6h.9M464.7 74.3h.9M466.6 72.3h.9M477.4 70.0h.9M470.1 69.4h.9M470.3 69.2h.9M470.3 70.3h.9M471.0 74.7h.9M474.8 74.9h.9M478.7 72.7h.9M472.6 65.3h.9M471.6 70.0h.9M467.0 69.7h.9M468.7 70.3h.9M474.9 73.3h.9M468.7 72.8h.9M466.4 70.9h.9M467.0 72.4h.9M470.5 68.8h.9M464.3 74.8h.9M468.7 72.6h.9M466.5 75.9h.9M474.1 70.7h.9M468.7 71.7h.9M469.1 73.9h.9M468.6 71.8h.9M469.1 69.9h.9M472.0 71.9h.9M470.8 65.8h.9M473.5 70.8h.9M471.5 66.9h.9M472.2 71.2h.9M474.0 74.5h.9M465.3 72.7h.9M466.6 74.0h.9M470.9 71.3h.9M470.0 75.2h.9M468.3 77.1h.9M463.4 73.5h.9M468.6 74.0h.9M469.8 72.0h.9M462.0 75.1h.9M467.3 71.1h.9M479.2 76.0h.9M471.4 78.0h.9M470.0 74.9h.9M472.8 73.4h.9M465.4 71.9h.9M468.5 69.4h.9M465.3 73.8h.9M465.8 69.0h.9M466.7 72.2h.9M471.7 70.4h.9M466.2 71.7h.9M475.3 67.7h.9M470.5 73.4h.9M470.9 70.1h.9M467.6 69.7h.9M461.0 74.3h.9M470.0 70.2h.9M474.6 71.0h.9M468.6 74.1h.9M468.1 75.1h.9M473.5 74.8h.9M467.4 77.5h.9M461.6 76.1h.9M475.8 70.9h.9M472.3 72.0h.9M465.3 75.5h.9M466.7 73.0h.9M471.3 75.7h.9M466.6 69.8h.9M469.8 68.9h.9M479.3 70.2h.9M472.5 70.0h.9M473.6 71.8h.9M467.5 77.7h.9M464.9 75.3h.9M466.5 73.1h.9M468.8 73.9h.9M465.8 70.3h.9M472.8 75.2h.9M470.0 73.3h.9M465.9 73.4h.9M467.8 73.6h.9M472.9 73.1h.9M468.8 72.6h.9M472.0 69.2h.9M470.5 73.4h.9M462.8 70.6h.9M475.1 68.2h.9M467.9 74.4h.9M471.5 73.7h.9M462.1 75.7h.9M467.7 73.4h.9M472.7 72.2h.9M473.4 66.8h.9M467.1 77.3h.9M472.7 69.8h.9M467.5 73.9h.9M472.4 71.6h.9M473.7 70.4h.9M471.1 67.7h.9M472.7 73.6h.9M473.8 71.3h.9M464.5 75.0h.9M474.3 70.6h.9M471.9 66.3h.9M474.5 71.8h.9M474.5 73.6h.9M468.1 73.5h.9M464.6 74.1h.9M470.5 76.0h.9M474.0 66.9h.9M469.5 72.5h.9M465.0 76.0h.9M470.6 70.6h.9M474.3 68.6h.9M469.0 71.5h.9M472.3 71.4h.9M469.8 72.9h.9M463.0 74.9h.9M463.0 74.5h.9M463.5 73.9h.9M470.0 75.2h.9M468.5 73.9h.9M467.2 73.1h.9M470.9 71.4h.9M472.2 69.3h.9M468.2 75.8h.9M474.8 69.4h.9M474.1 70.8h.9M469.6 70.8h.9M466.0 73.8h.9M473.6 77.2h.9M465.5 73.1h.9M468.1 73.7h.9M470.7 73.4h.9M473.8 70.7h.9M469.9 72.6h.9M469.6 71.7h.9M473.6 66.5h.9M473.4 76.1h.9M467.0 73.5h.9M468.9 74.6h.9M470.4 68.4h.9M467.4 78.4h.9M471.3 74.4h.9M469.0 69.7h.9M467.5 67.3h.9M471.4 70.9h.9M467.4 73.0h.9M469.6 72.8h.9M467.2 74.0h.9M471.8 70.0h.9M468.5 72.5h.9M471.1 72.9h.9M473.1 75.7h.9M468.3 71.4h.9M468.2 71.7h.9M465.7 70.6h.9M465.0 72.1h.9M478.8 72.1h.9M467.4 76.5h.9M471.1 69.2h.9M468.8 69.5h.9M466.5 74.0h.9M464.3 72.4h.9M470.8 74.1h.9M472.6 71.2h.9M468.6 72.7h.9M460.9 74.4h.9M468.0 72.7h.9M469.2 75.0h.9M464.9 73.2h.9M474.8 75.2h.9M473.7 73.0h.9M467.4 71.9h.9M476.1 68.8h.9M470.9 75.5h.9M471.8 71.0h.9M465.1 73.1h.9M468.2 71.3h.9M463.7 77.8h.9M465.9 74.2h.9M478.8 66.9h.9M469.5 71.2h.9M468.1 69.7h.9M472.6 71.3h.9M465.3 72.7h.9M468.5 73.8h.9M474.1 69.9h.9M473.1 69.6h.9M468.8 71.1h.9M471.0 72.4h.9M470.5 67.3h.9M468.0 75.7h.9M461.4 74.5h.9M467.8 68.2h.9M465.5 70.7h.9M463.7 76.6h.9M462.4 78.7h.9M471.5 71.2h.9M471.2 72.3h.9M468.1 73.9h.9M467.8 70.8h.9M469.3 72.9h.9M466.8 72.3h.9M466.8 70.9h.9M468.9 75.6h.9M465.6 72.5h.9M466.8 77.6h.9M474.5 68.8h.9M467.2 68.7h.9M465.2 70.0h.9M466.0 77.8h.9M472.7 69.4h.9M465.0 78.1h.9M467.8 68.5h.9M476.5 75.6h.9M470.3 71.6h.9M463.4 72.0h.9M470.7 77.5h.9M471.9 72.2h.9M467.5 69.8h.9M474.9 67.8h.9M476.0 69.5h.9M470.6 72.0h.9M466.9 69.3h.9M469.6 71.1h.9M465.6 72.6h.9M467.8 69.0h.9M471.9 78.8h.9M468.0 72.2h.9M465.9 63.8h.9M468.4 74.9h.9M469.4 73.5h.9M465.0 75.1h.9M469.2 74.5h.9M466.6 71.1h.9M468.2 72.0h.9M467.2 73.1h.9M474.0 72.6h.9M464.4 71.6h.9M470.3 72.5h.9M470.7 65.8h.9M478.0 71.0h.9M474.4 73.9h.9M471.4 73.6h.9M472.1 75.8h.9M468.8 70.4h.9M466.3 73.7h.9M462.7 76.9h.9M474.6 70.6h.9M466.8 72.5h.9M476.3 71.1h.9M472.2 76.0h.9M468.0 72.4h.9M470.0 70.0h.9M470.4 77.0h.9M465.0 69.7h.9M468.1 65.6h.9M469.3 70.5h.9M469.0 72.9h.9M469.2 70.0h.9M468.6 71.6h.9M468.1 74.3h.9M469.8 73.5h.9M465.3 70.3h.9M473.0 78.7h.9M473.0 73.0h.9M472.5 71.4h.9M462.6 76.1h.9M465.1 66.8h.9M469.7 68.6h.9M463.7 71.6h.9M467.1 75.4h.9M470.1 70.4h.9M455.8 71.4h.9M474.2 70.8h.9M474.8 69.2h.9M463.9 64.2h.9M466.6 72.1h.9M467.0 74.9h.9M468.9 74.0h.9M468.8 69.2h.9M466.5 76.4h.9M468.7 70.5h.9M469.2 70.9h.9M467.3 70.7h.9M470.8 72.4h.9M462.6 72.3h.9M477.1 70.2h.9M471.7 74.4h.9M472.2 76.5h.9M465.7 70.8h.9M465.4 72.2h.9M469.5 74.2h.9M471.8 70.4h.9M475.4 67.0h.9M470.2 75.8h.9M471.2 72.0h.9M471.3 75.5h.9M466.4 69.9h.9M460.6 74.9h.9M473.7 68.9h.9M472.5 71.1h.9M466.7 70.9h.9M466.4 77.1h.9M469.8 72.9h.9M464.2 70.3h.9M470.6 70.0h.9M470.9 71.0h.9M471.0 73.1h.9M465.2 76.7h.9M471.0 73.5h.9M464.8 71.9h.9M465.0 76.4h.9M469.2 72.1h.9M462.2 71.6h.9M465.0 74.4h.9M464.8 71.8h.9M470.8 69.9h.9M467.9 72.2h.9M464.9 73.9h.9M473.2 73.4h.9M466.1 75.7h.9M468.0 75.8h.9M465.6 74.2h.9M468.6 76.4h.9M473.0 68.3h.9M472.2 74.6h.9M472.8 75.1h.9M470.2 74.4h.9M470.9 75.4h.9M466.8 71.3h.9M469.4 74.7h.9M469.0 72.0h.9M466.4 68.5h.9M468.1 70.8h.9M468.4 74.2h.9M471.9 73.7h.9M472.8 73.8h.9M467.3 75.0h.9M468.0 71.4h.9M474.9 69.0h.9M474.2 71.4h.9M470.7 70.8h.9M471.7 70.8h.9M467.3 71.3h.9M473.3 69.0h.9M469.3 68.8h.9M463.9 73.0h.9M468.3 75.4h.9M476.8 70.2h.9M469.8 72.6h.9M463.1 78.4h.9M472.4 72.9h.9M466.9 74.5h.9M476.6 75.3h.9M474.6 68.3h.9M462.7 77.9h.9M466.8 74.1h.9M470.9 70.8h.9M470.3 77.9h.9M470.9 71.4h.9M468.0 72.1h.9M468.4 72.6h.9M473.1 73.0h.9M466.8 68.8h.9M469.6 71.4h.9M477.3 71.8h.9M471.4 71.7h.9M471.1 73.4h.9M468.1 73.7h.9M475.6 73.5h.9M468.4 71.3h.9M467.2 74.2h.9M471.9 73.7h.9M469.4 69.7h.9M474.9 76.3h.9M475.0 75.6h.9M465.6 71.5h.9M464.4 69.5h.9M466.2 72.5h.9M466.5 72.9h.9M472.5 71.4h.9M467.9 71.8h.9M465.5 74.9h.9M477.8 78.4h.9M462.9 76.0h.9M464.6 76.3h.9M468.8 69.3h.9M461.2 77.2h.9M463.6 78.1h.9M467.5 71.6h.9M474.4 68.2h.9M469.1 73.4h.9M463.9 74.9h.9M468.3 69.4h.9M476.6 70.7h.9M471.6 74.2h.9M469.5 72.4h.9M474.5 71.2h.9M467.3 72.7h.9M468.8 69.5h.9M460.4 78.6h.9M473.8 75.2h.9M471.9 75.0h.9M467.2 71.0h.9M469.2 75.9h.9M469.6 70.0h.9M471.8 73.0h.9M467.5 71.2h.9M467.1 71.4h.9M473.7 72.1h.9M464.2 76.3h.9M468.7 72.1h.9M465.6 72.1h.9M470.6 72.5h.9M475.7 67.2h.9M472.3 72.0h.9M473.1 71.4h.9M465.6 73.0h.9M462.0 77.6h.9M467.4 76.9h.9M472.6 70.0h.9M466.8 72.9h.9M464.0 70.3h.9M470.1 68.8h.9M467.9 69.2h.9M460.9 78.0h.9M471.0 68.8h.9M466.4 74.4h.9M464.3 70.6h.9M471.7 72.2h.9M471.7 66.4h.9M470.5 76.6h.9M470.9 75.7h.9M464.2 72.6h.9M467.3 72.1h.9M471.0 70.0h.9M459.2 72.7h.9M461.4 76.6h.9M472.4 70.1h.9M473.6 68.7h.9M474.0 71.7h.9M465.6 74.9h.9M475.9 67.9h.9M465.8 72.6h.9M467.9 68.0h.9M467.6 74.9h.9M468.5 73.1h.9M473.1 67.9h.9M478.5 73.6h.9M467.3 70.0h.9M470.2 72.5h.9M463.2 72.5h.9M470.5 70.8h.9M465.2 67.6h.9M472.1 73.2h.9M467.3 74.7h.9M467.3 74.0h.9M474.3 72.7h.9M467.0 73.7h.9M462.5 76.1h.9M470.2 72.1h.9M466.9 70.7h.9M468.0 74.4h.9M470.8 74.8h.9M475.0 69.9h.9M475.9 75.4h.9M465.2 66.9h.9M469.4 72.2h.9M477.5 69.9h.9M465.1 75.2h.9M466.2 73.1h.9M464.0 75.2h.9M468.4 70.4h.9M465.0 70.0h.9M466.4 73.6h.9M463.6 78.3h.9M473.1 71.4h.9M468.7 76.2h.9M473.0 73.3h.9M472.8 70.0h.9M467.8 76.4h.9M474.3 73.1h.9M471.2 73.6h.9M467.0 72.3h.9M468.7 72.9h.9M472.9 71.0h.9M463.5 65.4h.9M468.4 72.5h.9M471.6 73.4h.9M468.0 70.3h.9M466.3 71.8h.9M477.9 72.1h.9M461.0 75.3h.9M471.6 66.3h.9M472.1 72.1h.9M472.5 74.7h.9M468.1 73.0h.9M474.9 71.3h.9M467.8 70.5h.9M465.0 70.4h.9M466.8 79.1h.9M468.7 72.7h.9M469.0 72.4h.9M475.8 70.8h.9M461.6 78.0h.9M471.3 71.3h.9M473.0 68.5h.9M464.7 79.2h.9M469.0 70.8h.9M466.9 77.1h.9M465.1 71.4h.9M478.5 74.1h.9M461.3 75.6h.9M471.7 72.2h.9M468.9 71.4h.9M466.9 72.4h.9M473.1 70.2h.9M469.3 71.3h.9M476.1 70.2h.9M473.5 68.1h.9M468.9 71.5h.9M469.5 68.9h.9M470.3 74.5h.9M461.2 73.4h.9M471.9 76.1h.9M469.1 70.3h.9M467.5 72.9h.9M474.2 75.8h.9M473.1 70.5h.9M471.1 69.4h.9M472.3 69.7h.9M469.3 77.4h.9M470.5 75.6h.9M475.5 75.1h.9M472.3 69.7h.9M469.0 74.4h.9M472.8 75.1h.9M470.1 70.3h.9M468.8 70.6h.9M468.7 69.7h.9M472.7 73.1h.9M471.9 68.5h.9M470.7 71.2h.9M471.9 75.4h.9M468.5 67.3h.9M468.9 70.1h.9M465.1 72.2h.9M480.6 70.0h.9M469.0 69.3h.9M471.6 68.4h.9M468.4 73.7h.9M469.2 69.0h.9M462.0 75.6h.9M471.1 72.1h.9M473.3 72.4h.9M472.7 74.7h.9M474.5 71.7h.9M473.1 66.9h.9M470.1 66.4h.9M467.1 73.6h.9M470.7 71.9h.9M473.6 71.8h.9M479.1 70.2h.9M466.6 71.1h.9M470.6 70.8h.9M472.7 70.4h.9M464.6 69.6h.9M468.3 71.2h.9M473.7 73.9h.9M471.4 70.2h.9M471.3 70.1h.9M472.4 77.5h.9M469.1 78.1h.9M468.9 70.9h.9M468.9 74.0h.9M468.2 78.3h.9M472.7 71.1h.9M465.8 71.5h.9M473.5 72.8h.9M469.0 74.3h.9M469.2 72.1h.9M467.3 68.9h.9M468.7 74.0h.9M465.1 74.0h.9M463.2 75.1h.9M467.8 76.6h.9M468.5 69.6h.9M466.0 71.1h.9M468.5 76.0h.9M471.4 66.9h.9M471.3 69.8h.9M467.8 73.0h.9M470.4 74.2h.9M471.5 73.2h.9M468.8 73.5h.9M464.9 72.1h.9M463.4 75.6h.9M475.0 73.1h.9M467.8 74.1h.9M472.5 70.6h.9M461.9 77.4h.9M465.5 72.9h.9M462.1 73.6h.9M471.2 71.0h.9M470.7 71.2h.9M463.5 71.7h.9M468.6 71.0h.9M474.2 68.8h.9M469.4 70.0h.9M475.9 69.4h.9M469.8 68.2h.9M465.4 72.1h.9M470.1 68.1h.9M459.0 73.4h.9M462.1 74.0h.9M473.6 70.9h.9M473.8 75.1h.9M474.7 71.2h.9M473.4 71.7h.9M471.5 70.8h.9M468.9 74.1h.9M469.4 70.0h.9M472.7 73.9h.9M469.5 75.1h.9M465.8 69.6h.9M466.1 70.3h.9M465.7 77.4h.9M474.4 73.3h.9M473.2 69.0h.9M469.7 70.9h.9M467.0 70.8h.9M475.6 73.8h.9M464.1 69.7h.9M471.1 73.0h.9M472.7 72.4h.9M472.6 70.3h.9M473.7 68.3h.9M468.7 78.1h.9M471.3 72.2h.9M465.2 76.4h.9M470.3 73.8h.9M470.1 73.7h.9M468.1 74.0h.9M467.8 66.9h.9M474.6 73.1h.9M462.6 76.6h.9M475.1 76.5h.9M461.3 71.6h.9M467.7 74.4h.9M465.5 70.3h.9M468.5 78.9h.9M471.0 65.8h.9M463.7 74.9h.9M476.0 74.3h.9M464.3 70.6h.9M470.7 73.7h.9M473.4 75.4h.9M471.9 71.2h.9M470.9 76.6h.9M469.9 71.3h.9M467.9 67.2h.9M468.1 72.9h.9M468.3 67.1h.9M465.0 71.8h.9M467.0 69.1h.9M470.1 67.1h.9M477.7 68.8h.9M468.5 69.7h.9M471.5 70.3h.9M461.4 70.8h.9M465.5 72.4h.9M467.6 72.3h.9M473.8 73.0h.9M468.5 71.6h.9M465.1 77.0h.9M468.2 72.7h.9M469.8 78.2h.9M464.7 73.5h.9M462.6 72.9h.9M471.4 70.6h.9M470.5 71.8h.9M466.0 76.3h.9M467.5 70.4h.9M471.9 69.0h.9M472.2 72.5h.9M467.1 70.2h.9M467.0 74.5h.9M465.6 70.0h.9M466.1 69.0h.9M462.7 75.7h.9M467.3 68.4h.9M467.7 69.1h.9M473.0 72.2h.9M457.3 74.3h.9M471.2 73.0h.9M473.6 70.2h.9M471.0 76.3h.9M462.8 71.4h.9M462.4 68.7h.9M466.6 72.0h.9M468.4 69.8h.9M466.6 72.6h.9M470.3 69.9h.9M470.1 70.4h.9M469.0 68.6h.9M464.5 71.6h.9M466.4 79.4h.9M464.9 65.6h.9M466.0 71.7h.9M468.7 77.3h.9M472.8 68.4h.9M471.4 68.2h.9M469.8 72.8h.9M464.4 75.6h.9M467.1 73.3h.9M469.3 68.8h.9M466.7 77.4h.9M466.1 73.5h.9M471.9 74.6h.9M473.8 71.1h.9M465.9 79.3h.9M473.8 71.6h.9M469.2 69.5h.9M462.3 75.5h.9M473.0 70.9h.9M475.1 68.8h.9M468.7 69.9h.9M469.7 73.7h.9M470.0 72.1h.9M471.8 67.0h.9M464.5 69.7h.9M465.9 73.5h.9M470.9 71.0h.9M469.2 75.0h.9M474.9 71.7h.9M474.2 68.9h.9M471.3 75.4h.9M467.0 75.7h.9M467.5 73.2h.9M462.9 71.7h.9M474.3 72.8h.9M461.5 73.4h.9M461.4 78.6h.9M473.0 62.8h.9M465.3 71.1h.9M466.2 73.5h.9M472.4 71.4h.9M468.8 69.4h.9M475.1 73.8h.9M465.8 73.1h.9M466.6 71.2h.9M465.7 78.2h.9M469.7 75.2h.9M472.5 70.9h.9M472.6 72.2h.9M477.4 67.5h.9M474.7 66.6h.9M466.9 71.3h.9M467.8 73.5h.9M471.7 77.2h.9M474.1 68.6h.9M471.9 68.5h.9M472.0 73.5h.9M475.9 73.1h.9M468.3 72.4h.9M469.3 67.4h.9M474.3 72.2h.9M464.3 74.5h.9M463.7 69.9h.9M467.4 72.2h.9M469.6 73.9h.9M469.7 74.5h.9M476.4 73.8h.9M470.8 77.1h.9M461.2 70.5h.9M475.4 72.6h.9M474.6 73.2h.9M474.2 74.0h.9M472.9 73.7h.9M463.8 72.6h.9M463.0 74.2h.9M477.0 73.9h.9M475.2 72.6h.9M464.7 70.2h.9M470.0 72.5h.9M467.8 75.8h.9M475.6 71.0h.9M461.4 72.0h.9M474.4 69.2h.9M468.5 76.3h.9M470.0 70.2h.9M470.6 70.8h.9M466.9 73.1h.9M470.5 71.7h.9M460.2 72.6h.9M469.9 73.8h.9M470.0 74.3h.9M473.0 70.0h.9M469.4 73.6h.9M479.0 65.1h.9M474.3 70.6h.9M475.6 75.8h.9M472.3 80.5h.9M473.9 71.6h.9M471.1 70.7h.9M480.2 74.9h.9M462.0 78.1h.9M475.4 76.3h.9M470.6 75.4h.9M470.1 71.4h.9M464.3 75.1h.9M467.3 73.3h.9M467.8 70.6h.9M475.7 70.6h.9M473.4 69.8h.9M472.2 73.4h.9M469.2 74.2h.9M472.3 69.8h.9M473.3 69.9h.9M470.1 69.2h.9M468.2 71.4h.9M469.0 71.4h.9M469.2 73.4h.9M479.7 73.8h.9M466.1 71.0h.9M475.5 73.5h.9M466.9 72.6h.9M470.9 70.8h.9M470.4 76.1h.9M464.9 75.4h.9M467.0 72.0h.9M470.8 69.3h.9M470.9 73.9h.9M465.8 71.8h.9M469.3 74.2h.9M469.3 72.9h.9M470.1 68.8h.9M470.5 72.2h.9M473.4 72.1h.9M461.3 70.2h.9M468.2 72.3h.9M470.1 76.8h.9M467.1 74.4h.9M470.9 69.6h.9M466.2 73.2h.9M460.3 76.8h.9M469.7 71.5h.9M475.2 69.8h.9M467.1 72.7h.9M471.8 67.5h.9M467.6 69.8h.9M474.0 76.7h.9M465.5 72.2h.9M466.3 72.7h.9M468.7 73.3h.9M471.3 70.7h.9M470.8 71.5h.9M475.4 75.0h.9M468.6 71.1h.9M462.0 77.1h.9M471.2 69.7h.9M466.9 75.2h.9M468.8 72.7h.9M470.9 72.4h.9M467.7 72.4h.9M474.1 71.8h.9M472.8 72.8h.9M471.0 71.0h.9M472.3 70.3h.9M467.2 73.3h.9M470.7 71.8h.9M471.2 74.4h.9M471.5 77.0h.9M470.5 73.7h.9M471.4 69.7h.9M473.0 69.8h.9M467.8 73.1h.9M471.4 74.9h.9M475.5 72.8h.9M461.0 73.7h.9M469.4 72.9h.9M476.4 74.5h.9M467.6 65.3h.9M463.4 75.3h.9M470.8 69.0h.9M470.6 67.1h.9M468.4 71.4h.9M468.7 71.3h.9M472.2 70.1h.9M465.4 74.9h.9M471.6 67.3h.9M465.2 72.7h.9M471.0 67.5h.9M473.9 66.7h.9M472.5 73.2h.9M471.7 77.0h.9M475.1 69.3h.9M469.6 73.6h.9M479.7 69.9h.9M474.5 72.3h.9M465.5 71.9h.9M467.1 74.3h.9M470.7 74.8h.9M473.9 71.5h.9M477.8 68.5h.9M463.5 68.8h.9M467.4 72.4h.9M469.2 70.5h.9M470.6 74.4h.9M466.5 73.2h.9M465.0 77.6h.9M468.9 69.7h.9M471.8 74.6h.9M474.5 72.3h.9M468.3 70.1h.9M461.2 69.3h.9M470.9 70.1h.9M472.7 63.4h.9M472.2 72.3h.9M474.0 68.4h.9M476.4 74.2h.9M466.6 74.0h.9M464.1 74.7h.9M466.3 73.9h.9M474.5 71.4h.9M467.1 75.4h.9M467.4 75.3h.9M463.3 71.8h.9M465.1 70.6h.9M464.3 70.4h.9M470.7 69.7h.9M465.7 73.2h.9M467.4 70.0h.9M471.3 73.5h.9M473.4 72.2h.9M461.1 71.9h.9M468.8 69.7h.9M471.1 69.6h.9M471.7 73.1h.9M468.3 71.9h.9M469.3 74.3h.9M470.7 74.4h.9M465.8 74.1h.9M472.7 70.8h.9M466.8 71.1h.9M469.5 72.2h.9M470.6 73.1h.9M465.6 69.0h.9M468.9 74.1h.9M478.2 71.8h.9M465.8 73.9h.9M465.6 76.2h.9M467.0 70.5h.9M464.9 73.0h.9M468.7 72.5h.9M471.9 69.6h.9M475.9 71.0h.9M471.2 76.5h.9M468.1 73.9h.9M470.8 68.6h.9M471.4 69.9h.9M473.0 67.9h.9M469.2 74.6h.9M464.7 74.4h.9M463.2 78.9h.9M469.3 72.9h.9M471.4 70.0h.9M463.9 71.3h.9M462.6 69.7h.9M475.8 74.4h.9M476.1 74.5h.9M469.6 75.6h.9M469.6 76.9h.9M470.8 71.7h.9M466.0 72.8h.9M468.9 73.0h.9M467.0 72.5h.9M471.3 74.2h.9M467.9 73.5h.9M466.1 75.8h.9M468.2 70.7h.9M468.6 74.3h.9M464.5 69.6h.9M470.3 71.8h.9M469.9 68.3h.9M469.0 73.8h.9M478.1 72.4h.9M462.4 74.4h.9M468.1 71.1h.9M467.8 68.6h.9M467.6 73.8h.9M467.0 73.6h.9M473.3 71.8h.9M470.7 67.2h.9M467.0 69.8h.9M475.3 71.6h.9M469.1 73.9h.9M471.0 73.4h.9M474.2 74.0h.9M470.1 75.1h.9M474.3 69.3h.9M476.0 70.8h.9M475.8 70.9h.9M461.7 68.6h.9M469.0 69.1h.9M461.9 74.0h.9M470.6 73.7h.9M476.8 70.4h.9M473.0 67.0h.9M466.5 69.9h.9M474.3 68.7h.9M468.7 75.6h.9M474.2 76.0h.9M473.1 73.8h.9M469.4 67.7h.9M464.5 72.2h.9M470.5 74.0h.9M470.0 72.8h.9M472.2 69.6h.9M477.4 69.9h.9M471.8 65.5h.9M473.1 73.3h.9M471.2 74.0h.9M472.0 68.0h.9M468.8 66.5h.9M471.1 77.5h.9M467.0 69.6h.9M473.6 72.8h.9M476.3 69.8h.9M471.0 75.1h.9M476.2 71.5h.9M465.9 72.3h.9M468.7 71.4h.9M464.9 72.4h.9M470.2 73.1h.9M473.2 67.8h.9M470.3 73.5h.9M472.2 69.8h.9M473.0 70.4h.9M474.8 71.9h.9M471.9 69.2h.9M470.7 68.7h.9M474.1 69.0h.9M470.0 71.9h.9M468.8 72.4h.9M462.6 69.2h.9M466.8 71.4h.9M473.9 68.0h.9M464.8 68.2h.9M464.6 77.3h.9M466.6 73.9h.9M466.8 77.3h.9M465.5 76.6h.9M464.6 69.2h.9M464.2 71.5h.9M465.4 74.9h.9M470.3 74.0h.9M468.5 72.6h.9M467.5 70.2h.9M468.1 76.2h.9M469.0 73.9h.9M471.1 74.6h.9M469.4 71.2h.9M469.8 71.4h.9M470.6 73.2h.9M465.3 76.2h.9M467.1 76.4h.9M468.0 71.7h.9M468.1 74.3h.9M474.0 70.9h.9M468.8 74.5h.9M468.5 71.6h.9M467.6 71.9h.9M467.5 69.8h.9M472.5 72.6h.9M463.5 76.1h.9M467.3 73.0h.9M477.9 69.8h.9M465.2 74.5h.9M474.6 72.4h.9M467.0 73.3h.9M465.0 67.8h.9M479.4 70.5h.9M463.8 74.1h.9M464.6 71.3h.9M478.0 72.5h.9M468.8 68.4h.9M475.7 70.1h.9M466.0 73.9h.9M482.3 69.7h.9M468.8 74.8h.9M472.5 74.2h.9M470.3 72.1h.9M472.4 77.1h.9M472.8 69.2h.9M467.4 73.2h.9M464.8 70.8h.9M470.6 71.4h.9M474.2 73.5h.9M475.2 70.6h.9M473.0 69.5h.9M474.3 73.4h.9M468.7 70.3h.9M469.3 74.3h.9M472.9 70.3h.9M464.2 76.5h.9M472.5 71.2h.9M463.5 69.6h.9M471.4 72.4h.9M468.7 71.4h.9M454.6 78.7h.9M465.5 70.5h.9M465.1 73.0h.9M473.3 67.2h.9M468.7 75.0h.9M476.0 71.5h.9M473.4 71.1h.9M469.5 73.1h.9M468.2 71.6h.9M467.8 70.5h.9M468.1 70.4h.9M466.1 74.5h.9M467.6 75.3h.9M471.8 71.8h.9M474.3 71.5h.9M476.1 69.5h.9M468.0 71.5h.9M473.3 69.7h.9M468.4 75.6h.9M464.5 73.5h.9M458.3 76.3h.9M463.5 73.4h.9M471.9 68.2h.9M474.8 69.5h.9M479.8 67.2h.9M476.4 71.5h.9M465.7 73.5h.9M467.0 69.5h.9M475.8 66.3h.9M468.7 73.6h.9M462.1 73.1h.9M465.4 76.5h.9M473.7 74.5h.9M466.7 70.7h.9M467.9 71.2h.9M471.9 77.4h.9M464.7 73.1h.9M465.2 77.7h.9M475.6 67.0h.9M480.2 69.3h.9M468.6 74.2h.9M470.4 74.0h.9M467.9 75.0h.9M470.3 70.4h.9M469.7 76.0h.9M465.2 73.4h.9M474.9 69.5h.9M467.7 71.4h.9M471.1 72.1h.9M466.3 73.0h.9M475.5 68.8h.9M467.4 77.3h.9M470.0 72.3h.9M467.7 65.6h.9M475.0 72.3h.9M473.7 72.8h.9M467.5 74.2h.9M460.1 77.9h.9M461.6 73.6h.9M466.5 74.6h.9M465.9 70.1h.9M475.9 73.3h.9M480.5 60.8h.9M473.7 67.9h.9M472.9 70.9h.9M471.3 76.1h.9M469.7 71.9h.9M472.7 70.1h.9M471.6 72.4h.9M468.4 70.2h.9M471.7 72.2h.9M470.2 73.7h.9M468.5 70.8h.9M468.5 71.6h.9M468.7 70.3h.9M468.7 72.8h.9M468.4 71.4h.9M475.4 75.1h.9M476.3 77.7h.9M467.1 68.9h.9M469.7 74.4h.9M464.3 75.2h.9M467.2 75.5h.9M475.6 69.1h.9M466.5 72.4h.9M466.4 70.7h.9M466.6 70.7h.9M468.1 69.0h.9M471.3 72.2h.9M469.7 69.3h.9M475.3 73.9h.9M471.1 73.1h.9M469.9 74.3h.9M473.6 70.4h.9M470.7 72.9h.9M465.7 73.3h.9M467.6 72.5h.9M474.4 76.1h.9M470.9 70.8h.9M470.2 69.8h.9M469.3 72.3h.9M469.5 74.1h.9M472.6 71.3h.9M468.6 70.6h.9M460.9 71.9h.9M463.9 73.1h.9M465.1 73.8h.9M473.4 72.0h.9M472.5 68.8h.9M469.4 73.3h.9M466.6 69.3h.9M470.4 70.8h.9M470.3 71.5h.9M477.0 71.2h.9M473.2 73.1h.9M467.0 74.7h.9M471.6 74.6h.9M466.2 74.7h.9M462.4 76.9h.9M468.1 70.1h.9M465.9 76.8h.9M466.1 73.9h.9M466.7 71.2h.9M469.2 69.5h.9M466.4 73.3h.9M467.8 72.3h.9M466.4 70.8h.9M469.1 70.2h.9M461.0 73.9h.9M468.8 75.7h.9M470.1 69.4h.9M471.3 69.5h.9M467.3 70.0h.9M474.8 68.7h.9M467.0 73.6h.9M469.0 70.3h.9M465.0 71.2h.9M464.9 73.9h.9M462.6 73.2h.9M465.0 74.4h.9M463.6 73.2h.9M465.4 74.1h.9M473.1 70.1h.9M471.2 69.6h.9M468.1 70.2h.9M474.9 75.3h.9M468.6 71.0h.9M468.8 69.1h.9M471.6 76.3h.9M467.1 70.9h.9M461.4 73.6h.9M475.0 70.2h.9M467.4 74.2h.9M468.2 68.0h.9M471.8 69.8h.9M480.8 70.6h.9M467.5 75.0h.9M470.8 69.8h.9M467.8 77.3h.9M467.3 72.8h.9M467.8 71.2h.9M471.9 71.0h.9M473.0 72.1h.9M470.7 71.9h.9M475.3 68.9h.9M470.3 71.0h.9M462.1 75.4h.9M471.9 64.6h.9M474.1 71.8h.9M467.2 71.3h.9M467.9 72.1h.9M475.5 68.1h.9M481.1 66.2h.9M480.3 68.7h.9M476.4 70.3h.9M477.3 71.0h.9M480.5 66.0h.9M474.2 69.3h.9M475.8 70.6h.9M477.2 70.8h.9M481.2 69.6h.9M471.3 75.4h.9M477.6 69.4h.9M479.3 73.9h.9M476.2 75.4h.9M479.3 67.9h.9M476.8 71.3h.9M471.0 74.3h.9M474.1 65.2h.9M473.2 71.9h.9M466.2 69.4h.9M472.1 69.7h.9M483.9 68.5h.9M473.2 74.3h.9M472.5 72.0h.9M480.0 70.3h.9M474.6 68.7h.9M479.2 70.3h.9M465.4 72.3h.9M463.5 71.8h.9M480.8 72.5h.9M475.0 69.8h.9M487.6 71.2h.9M488.1 70.0h.9M475.1 70.0h.9M470.5 64.5h.9M475.1 71.4h.9M480.6 70.9h.9M486.6 67.1h.9M485.5 70.4h.9M479.4 70.3h.9M478.2 69.3h.9M480.5 70.5h.9M470.5 72.4h.9M480.7 70.4h.9M476.4 70.6h.9M473.5 74.2h.9M473.0 73.6h.9M468.0 74.2h.9M473.0 70.8h.9M476.3 72.1h.9M473.2 64.3h.9M470.1 75.1h.9M473.9 69.1h.9M472.4 70.8h.9M474.6 70.8h.9M463.0 71.2h.9M480.3 70.5h.9M475.6 70.4h.9M473.3 71.1h.9M471.4 71.2h.9M476.1 72.6h.9M481.5 69.9h.9M475.8 65.3h.9M467.8 75.0h.9M468.1 73.7h.9M480.2 71.9h.9M477.1 72.7h.9M481.4 68.0h.9M475.7 67.5h.9M480.5 68.9h.9M470.1 69.1h.9M462.2 77.9h.9M474.7 69.9h.9M492.3 71.4h.9M476.8 70.0h.9M478.1 71.3h.9M478.1 68.8h.9M479.0 70.8h.9M472.7 72.9h.9M476.9 69.9h.9M472.0 69.5h.9M473.4 71.9h.9M469.8 67.1h.9M473.9 70.8h.9M485.6 68.3h.9M474.8 69.1h.9M477.8 69.5h.9M477.3 75.4h.9M479.0 71.0h.9M482.4 69.3h.9M466.0 68.3h.9M479.4 71.2h.9M479.4 70.4h.9M477.6 70.0h.9M478.8 65.4h.9M479.6 68.8h.9M468.6 68.8h.9M473.1 76.0h.9M478.7 67.3h.9M468.7 70.1h.9M476.3 71.7h.9M462.4 72.4h.9M480.0 69.9h.9M473.2 70.4h.9M480.6 70.9h.9M477.1 66.6h.9M476.1 69.8h.9M482.0 70.0h.9M464.8 72.4h.9M477.9 68.9h.9M474.7 70.6h.9M468.4 75.2h.9M475.8 70.2h.9M474.6 74.5h.9M477.2 65.6h.9M476.8 73.9h.9M475.6 65.5h.9M469.3 72.2h.9M487.6 63.9h.9M474.1 71.3h.9M470.4 73.4h.9M476.3 72.0h.9M473.9 72.7h.9M471.2 66.6h.9M471.8 69.7h.9M471.6 69.3h.9M476.1 70.2h.9M476.1 66.3h.9M478.0 69.6h.9M465.3 69.9h.9M466.3 73.5h.9M479.0 75.6h.9M482.7 71.0h.9M477.4 75.1h.9M481.8 65.4h.9M471.7 74.0h.9M469.6 69.0h.9M483.2 68.1h.9M478.8 69.7h.9M476.2 70.0h.9M468.5 71.4h.9M481.8 68.0h.9M470.0 71.2h.9M471.2 74.0h.9M470.2 68.0h.9M462.6 72.7h.9M471.7 70.9h.9M480.2 70.0h.9M480.6 73.3h.9M463.9 75.0h.9M480.8 68.9h.9M479.0 67.8h.9M474.3 73.4h.9M473.6 74.1h.9M474.5 69.2h.9M465.9 74.6h.9M480.8 64.9h.9M480.6 68.8h.9M481.3 68.6h.9M470.2 66.9h.9M482.2 70.0h.9M475.5 74.6h.9M476.3 66.8h.9M473.2 71.7h.9M471.2 74.0h.9M474.7 67.8h.9M473.5 72.6h.9M471.9 71.8h.9M477.4 68.7h.9M483.3 68.0h.9M470.6 65.7h.9M475.5 70.8h.9M474.1 68.6h.9M478.5 65.9h.9M472.8 71.0h.9M475.7 71.7h.9M482.6 73.0h.9M479.9 69.6h.9M475.2 70.4h.9M482.7 73.3h.9M477.8 69.0h.9M488.2 70.5h.9M477.1 69.7h.9M472.6 71.0h.9M479.2 69.4h.9M470.6 74.4h.9M479.3 70.5h.9M477.7 72.8h.9M466.0 71.5h.9M469.2 69.2h.9M474.8 69.5h.9M477.4 70.6h.9M474.4 70.0h.9M479.2 70.1h.9M471.4 76.0h.9M476.7 69.5h.9M472.6 69.0h.9M474.7 73.6h.9M465.0 69.8h.9M466.5 72.6h.9M469.7 70.2h.9M469.7 75.2h.9M476.6 70.4h.9M472.0 70.0h.9M470.1 72.5h.9M478.4 67.7h.9M478.6 70.0h.9M476.0 71.4h.9M478.7 76.0h.9M476.2 68.1h.9M474.4 72.1h.9M474.5 70.7h.9M476.3 73.7h.9M470.8 71.7h.9M475.8 68.9h.9M469.0 72.2h.9M472.1 70.8h.9M476.5 65.6h.9M479.6 66.1h.9M462.6 72.4h.9M479.8 71.9h.9M478.2 74.1h.9M474.6 69.3h.9M479.9 71.7h.9M473.0 72.0h.9M477.8 68.3h.9M484.3 73.0h.9M471.0 68.5h.9M476.2 70.5h.9M481.6 69.2h.9M477.5 71.5h.9M471.3 70.4h.9M469.9 73.4h.9M475.7 71.5h.9M476.8 70.6h.9M472.0 67.9h.9M483.0 67.9h.9M484.6 68.9h.9M481.6 70.2h.9M472.9 69.5h.9M480.1 72.4h.9M469.7 75.6h.9M468.4 73.1h.9M470.2 72.1h.9M482.4 66.0h.9M473.0 72.5h.9M467.1 71.8h.9M481.3 69.1h.9M477.4 71.9h.9M483.5 68.5h.9M477.4 68.2h.9M478.6 75.5h.9M483.9 69.9h.9M480.6 72.8h.9M471.6 69.9h.9M475.6 71.6h.9M473.6 69.0h.9M466.0 69.5h.9M458.8 70.2h.9M480.6 74.6h.9M468.0 75.7h.9M484.5 71.9h.9M476.2 67.8h.9M480.0 70.5h.9M471.3 72.3h.9M480.4 71.2h.9M481.5 67.6h.9M477.6 72.2h.9M473.3 75.5h.9M476.5 73.2h.9M484.7 71.0h.9M476.6 71.0h.9M488.7 67.3h.9M468.8 71.5h.9M482.6 73.9h.9M484.5 68.5h.9M480.9 70.8h.9M482.0 72.0h.9M476.2 71.9h.9M476.5 73.7h.9M471.8 68.6h.9M469.8 71.9h.9M473.6 69.8h.9M485.1 68.2h.9M482.1 69.2h.9M476.6 70.6h.9M475.4 72.3h.9M474.1 69.2h.9M479.6 70.9h.9M476.0 71.3h.9M487.4 71.5h.9M479.5 70.1h.9M475.9 72.7h.9M474.9 71.8h.9M478.4 65.4h.9M475.5 73.3h.9M481.5 69.2h.9M483.6 67.4h.9M469.7 70.5h.9M467.6 71.7h.9M473.1 69.6h.9M473.5 70.9h.9M480.9 62.8h.9M480.0 67.3h.9M467.2 71.9h.9M471.0 74.9h.9M482.1 73.9h.9M477.0 69.6h.9M475.7 71.0h.9M466.9 68.8h.9M481.4 69.8h.9M472.6 72.2h.9M482.9 65.1h.9M480.1 71.3h.9M468.1 72.5h.9M478.5 66.4h.9M471.2 72.0h.9M477.9 65.6h.9M473.6 65.4h.9M469.3 72.5h.9M474.1 72.5h.9M469.6 68.2h.9M464.4 72.1h.9M479.1 70.9h.9M470.0 72.1h.9M478.6 70.4h.9M476.6 74.0h.9M482.0 70.7h.9M477.3 70.0h.9M469.8 72.3h.9M486.1 69.4h.9M475.8 64.5h.9M469.8 67.2h.9M464.8 75.1h.9M469.4 67.2h.9M474.5 75.7h.9M467.5 89.4h.9M464.3 68.5h.9M475.5 76.2h.9M476.4 72.0h.9M468.2 70.5h.9M463.6 75.1h.9M462.3 80.5h.9M466.1 77.2h.9M473.8 76.8h.9M467.3 79.6h.9M465.4 74.5h.9M474.6 72.6h.9M473.9 87.3h.9M475.5 78.8h.9M479.3 75.0h.9M470.8 84.3h.9M464.6 76.2h.9M477.6 78.2h.9M469.1 80.6h.9M468.3 65.4h.9M460.4 76.3h.9M466.2 73.0h.9M461.5 75.4h.9M465.4 79.6h.9M479.2 71.5h.9M465.0 63.1h.9M467.9 77.9h.9M480.9 69.7h.9M478.4 74.0h.9M481.3 69.1h.9M458.7 71.1h.9M480.1 61.3h.9M459.9 72.2h.9M471.0 76.6h.9M469.0 78.2h.9M472.4 71.9h.9M463.7 71.1h.9M465.4 80.1h.9M471.5 69.2h.9M461.1 77.5h.9M453.7 65.5h.9M470.7 76.1h.9M469.6 80.0h.9M469.3 80.8h.9M468.3 75.8h.9M473.1 70.5h.9M452.9 74.0h.9M478.7 76.6h.9M474.6 75.9h.9M458.0 78.4h.9M477.4 74.0h.9M470.2 79.9h.9M480.1 66.0h.9M474.1 83.3h.9M466.5 73.7h.9M460.4 83.1h.9M472.0 79.8h.9M471.1 74.3h.9M467.9 64.2h.9M476.6 68.1h.9M469.2 73.0h.9M474.9 68.6h.9M468.7 69.4h.9M457.6 73.5h.9M469.1 73.4h.9M454.9 68.5h.9M476.4 83.4h.9M460.4 76.7h.9M473.2 80.1h.9M474.1 78.5h.9M470.6 80.0h.9M462.1 74.6h.9M472.5 75.0h.9M481.3 74.5h.9M474.4 72.8h.9M459.1 72.3h.9M468.5 73.6h.9M469.0 76.8h.9M477.3 64.5h.9M470.3 81.2h.9M468.7 67.4h.9M472.2 64.8h.9M471.7 81.1h.9M473.1 73.0h.9M466.8 66.2h.9M464.5 74.4h.9M471.8 67.1h.9M459.7 77.4h.9M456.9 74.8h.9M472.5 71.5h.9M461.3 70.0h.9M457.1 81.5h.9M475.9 73.1h.9M475.5 101.4h.9M467.9 96.6h.9M470.7 101.6h.9M465.3 89.1h.9M463.3 98.8h.9M469.0 98.8h.9M468.1 97.8h.9M467.2 100.7h.9M473.7 111.3h.9M465.2 89.4h.9M461.5 85.1h.9M470.1 100.3h.9M466.4 87.5h.9M465.3 89.3h.9M460.4 110.3h.9M471.3 95.5h.9M465.5 101.1h.9M470.9 83.2h.9M467.3 92.9h.9M468.2 93.6h.9M466.6 101.8h.9M466.3 99.3h.9M470.4 91.1h.9M464.4 105.2h.9M469.3 100.1h.9M457.3 97.7h.9M480.6 94.7h.9M457.6 91.4h.9M474.7 97.3h.9M470.9 80.5h.9M469.6 82.3h.9M466.6 99.5h.9M466.4 112.2h.9M474.3 92.7h.9M469.3 85.4h.9M469.7 91.1h.9M464.4 102.1h.9M466.6 104.1h.9M464.7 88.2h.9M466.3 94.9h.9M468.3 99.7h.9M471.7 102.7h.9M468.1 96.6h.9M462.6 92.8h.9M466.6 107.4h.9M445.3 109.9h.9M440.5 105.5h.9M445.1 99.4h.9M443.4 100.3h.9M443.2 97.9h.9M438.5 103.6h.9M440.4 101.4h.9M442.4 104.4h.9M442.4 108.4h.9M436.7 105.8h.9M437.7 105.1h.9M447.6 103.5h.9" stroke="#111" stroke-width="0.9" stroke-opacity="0.8" fill="none"/>
<rect x="407.40" y="51.50" width="104.00" height="90.30" fill="none" stroke="#3c3c3c" stroke-width="0.9"/>
<path d="M459.40 51.50V141.80" stroke="#4a4a4a" stroke-width="0.9" fill="none"/><path d="M407.40 107.40H511.40" stroke="#6a6a6a" stroke-width="0.8" fill="none"/>
<path d="M415.23 141.80v-1.2M407.40 135.00h1.2M419.81 141.80v-1.2M407.40 131.03h1.2M423.05 141.80v-1.2M407.40 128.21h1.2M425.57 141.80v-1.2M407.40 126.02h1.2M427.63 141.80v-1.2M407.40 124.23h1.2M429.37 141.80v-1.2M407.40 122.72h1.2M430.88 141.80v-1.2M407.40 121.41h1.2M432.21 141.80v-1.2M407.40 120.26h1.2M441.23 141.80v-1.2M407.40 112.43h1.2M445.81 141.80v-1.2M407.40 108.45h1.2M449.05 141.80v-1.2M407.40 105.63h1.2M451.57 141.80v-1.2M407.40 103.45h1.2M453.63 141.80v-1.2M407.40 101.66h1.2M455.37 141.80v-1.2M407.40 100.15h1.2M456.88 141.80v-1.2M407.40 98.84h1.2M458.21 141.80v-1.2M407.40 97.68h1.2M467.23 141.80v-1.2M407.40 89.85h1.2M471.81 141.80v-1.2M407.40 85.88h1.2M475.05 141.80v-1.2M407.40 83.06h1.2M477.57 141.80v-1.2M407.40 80.87h1.2M479.63 141.80v-1.2M407.40 79.08h1.2M481.37 141.80v-1.2M407.40 77.57h1.2M482.88 141.80v-1.2M407.40 76.26h1.2M484.21 141.80v-1.2M407.40 75.11h1.2M493.23 141.80v-1.2M407.40 67.28h1.2M497.81 141.80v-1.2M407.40 63.30h1.2M501.05 141.80v-1.2M407.40 60.48h1.2M503.57 141.80v-1.2M407.40 58.30h1.2M505.63 141.80v-1.2M407.40 56.51h1.2M507.37 141.80v-1.2M407.40 55.00h1.2M508.88 141.80v-1.2M407.40 53.69h1.2M510.21 141.80v-1.2M407.40 52.53h1.2" stroke="#555" stroke-width="0.5" fill="none"/>
<text x="407.60" y="149.4" font-size="7.4" fill="#222">10<tspan dy="-2.6" font-size="4.4">0</tspan></text>
<text x="433.60" y="149.4" font-size="7.4" fill="#222">10<tspan dy="-2.6" font-size="4.4">1</tspan></text>
<text x="459.60" y="149.4" font-size="7.4" fill="#222">10<tspan dy="-2.6" font-size="4.4">2</tspan></text>
<text x="485.60" y="149.4" font-size="7.4" fill="#222">10<tspan dy="-2.6" font-size="4.4">3</tspan></text>
<text x="511.60" y="149.4" font-size="7.4" fill="#222">10<tspan dy="-2.6" font-size="4.4">4</tspan></text>
<text transform="translate(31.3 141.20) rotate(-90)" font-size="7.2" fill="#222">10<tspan dy="-2.5" font-size="4.4">0</tspan></text>
<text transform="translate(31.3 118.63) rotate(-90)" font-size="7.2" fill="#222">10<tspan dy="-2.5" font-size="4.4">1</tspan></text>
<text transform="translate(31.3 96.05) rotate(-90)" font-size="7.2" fill="#222">10<tspan dy="-2.5" font-size="4.4">2</tspan></text>
<text transform="translate(31.3 73.48) rotate(-90)" font-size="7.2" fill="#222">10<tspan dy="-2.5" font-size="4.4">3</tspan></text>
<text transform="translate(31.3 50.90) rotate(-90)" font-size="7.2" fill="#222">10<tspan dy="-2.5" font-size="4.4">4</tspan></text>
<text x="43.20" y="72.00" font-size="16.2" text-anchor="start" fill="#111">2</text>
<text x="134.80" y="72.00" font-size="16.2" text-anchor="end" fill="#111">5</text>
<text x="137.30" y="127.00" font-size="16.2" text-anchor="end" fill="#111">2</text>
<text x="168.20" y="72.00" font-size="16.2" text-anchor="start" fill="#111">0</text>
<text x="256.80" y="72.00" font-size="16.2" text-anchor="end" fill="#111">3</text>
<text x="260.60" y="127.00" font-size="16.2" text-anchor="end" fill="#111">70</text>
<text x="293.20" y="72.00" font-size="16.2" text-anchor="start" fill="#111">20</text>
<text x="385.50" y="72.00" font-size="16.2" text-anchor="end" fill="#111">54</text>
<text x="384.30" y="127.00" font-size="16.2" text-anchor="end" fill="#111">14</text>
<text x="416.40" y="72.00" font-size="16.2" text-anchor="start" fill="#111">1</text>
<text x="512.30" y="72.00" font-size="16.2" text-anchor="end" fill="#111">99</text>
<text x="510.60" y="127.00" font-size="16.2" text-anchor="end" fill="#111">0</text>
<text class="b" transform="translate(13.7 109) rotate(-90)" font-size="19">PI</text>
<path d="M8.75 133V176.25H74" stroke="#111" stroke-width="1.1" fill="none"/>
<path d="M8.6 121.7L14.4 133.2H2.6ZM85.9 176.4L73.6 170.4V182.4Z" fill="#111"/>
<text class="b" x="99.0" y="187.8" font-size="19.5">Annexin V</text>
<path d="M71.15 347.56V347.00M66.95 347.00H75.35" stroke="#1a1a1a" stroke-width="1" fill="none"/><rect x="63.25" y="347.56" width="15.80" height="12.69" fill="#fff" stroke="#1a1a1a" stroke-width="1"/><path d="M86.95 346.02V345.60M82.75 345.60H91.15" stroke="#1a1a1a" stroke-width="1" fill="none"/><rect x="79.05" y="346.02" width="15.80" height="14.23" fill="#1a1a1a" stroke="#1a1a1a" stroke-width="1"/><path d="M118.65 332.07V329.98M114.45 329.98H122.85" stroke="#1a1a1a" stroke-width="1" fill="none"/><rect x="110.75" y="332.07" width="15.80" height="28.18" fill="#fff" stroke="#1a1a1a" stroke-width="1"/><path d="M134.45 295.80V294.55M130.25 294.55H138.65" stroke="#1a1a1a" stroke-width="1" fill="none"/><rect x="126.55" y="295.80" width="15.80" height="64.45" fill="#1a1a1a" stroke="#1a1a1a" stroke-width="1"/><path d="M165.40 336.12V335.42M161.20 335.42H169.60" stroke="#1a1a1a" stroke-width="1" fill="none"/><rect x="157.50" y="336.12" width="15.80" height="24.13" fill="#fff" stroke="#1a1a1a" stroke-width="1"/><path d="M181.20 306.26V297.89M177.00 297.89H185.40" stroke="#1a1a1a" stroke-width="1" fill="none"/><rect x="173.30" y="306.26" width="15.80" height="53.99" fill="#1a1a1a" stroke="#1a1a1a" stroke-width="1"/><path d="M212.40 345.88V345.04M208.20 345.04H216.60" stroke="#1a1a1a" stroke-width="1" fill="none"/><rect x="204.50" y="345.88" width="15.80" height="14.37" fill="#fff" stroke="#1a1a1a" stroke-width="1"/><path d="M228.20 305.01V294.41M224.00 294.41H232.40" stroke="#1a1a1a" stroke-width="1" fill="none"/><rect x="220.30" y="305.01" width="15.80" height="55.24" fill="#1a1a1a" stroke="#1a1a1a" stroke-width="1"/>
<path d="M55.50 235.50V360.25H243.75M55.50 360.25h-3.6M55.50 332.35h-3.6M55.50 304.45h-3.6M55.50 276.55h-3.6M55.50 248.65h-3.6" stroke="#1a1a1a" stroke-width="1" fill="none"/>
<text class="b" x="51.10" y="363.75" font-size="9.9" text-anchor="end" textLength="4.9" lengthAdjust="spacingAndGlyphs">0</text>
<text class="b" x="51.10" y="335.85" font-size="9.9" text-anchor="end" textLength="9.8" lengthAdjust="spacingAndGlyphs">20</text>
<text class="b" x="51.10" y="307.95" font-size="9.9" text-anchor="end" textLength="9.8" lengthAdjust="spacingAndGlyphs">40</text>
<text class="b" x="51.10" y="280.05" font-size="9.9" text-anchor="end" textLength="9.8" lengthAdjust="spacingAndGlyphs">60</text>
<text class="b" x="51.10" y="252.15" font-size="9.9" text-anchor="end" textLength="9.8" lengthAdjust="spacingAndGlyphs">80</text>
<path d="M316.20 344.15V342.90M312.00 342.90H320.40" stroke="#1a1a1a" stroke-width="1" fill="none"/><rect x="308.25" y="344.15" width="15.90" height="15.35" fill="#fff" stroke="#1a1a1a" stroke-width="1"/><path d="M332.10 346.67V346.25M327.90 346.25H336.30" stroke="#1a1a1a" stroke-width="1" fill="none"/><rect x="324.15" y="346.67" width="15.90" height="12.83" fill="#1a1a1a" stroke="#1a1a1a" stroke-width="1"/><path d="M363.45 316.95V313.19M359.25 313.19H367.65" stroke="#1a1a1a" stroke-width="1" fill="none"/><rect x="355.50" y="316.95" width="15.90" height="42.55" fill="#fff" stroke="#1a1a1a" stroke-width="1"/><path d="M379.35 247.34V245.67M375.15 245.67H383.55" stroke="#1a1a1a" stroke-width="1" fill="none"/><rect x="371.40" y="247.34" width="15.90" height="112.16" fill="#1a1a1a" stroke="#1a1a1a" stroke-width="1"/><rect x="402.50" y="344.57" width="15.90" height="14.93" fill="#fff" stroke="#1a1a1a" stroke-width="1"/><path d="M426.35 330.07V329.51M422.15 329.51H430.55" stroke="#1a1a1a" stroke-width="1" fill="none"/><rect x="418.40" y="330.07" width="15.90" height="29.43" fill="#1a1a1a" stroke="#1a1a1a" stroke-width="1"/><rect x="449.40" y="352.52" width="15.90" height="6.98" fill="#fff" stroke="#1a1a1a" stroke-width="1"/><path d="M473.25 330.62V330.20M469.05 330.20H477.45" stroke="#1a1a1a" stroke-width="1" fill="none"/><rect x="465.30" y="330.62" width="15.90" height="28.88" fill="#1a1a1a" stroke="#1a1a1a" stroke-width="1"/>
<path d="M300.75 234.50V359.50H489.50M300.75 359.50h-3.6M300.75 331.60h-3.6M300.75 303.70h-3.6M300.75 275.80h-3.6M300.75 247.90h-3.6" stroke="#1a1a1a" stroke-width="1" fill="none"/>
<text class="b" x="296.35" y="363.00" font-size="9.9" text-anchor="end" textLength="4.9" lengthAdjust="spacingAndGlyphs">0</text>
<text class="b" x="296.35" y="335.10" font-size="9.9" text-anchor="end" textLength="9.8" lengthAdjust="spacingAndGlyphs">20</text>
<text class="b" x="296.35" y="307.20" font-size="9.9" text-anchor="end" textLength="9.8" lengthAdjust="spacingAndGlyphs">40</text>
<text class="b" x="296.35" y="279.30" font-size="9.9" text-anchor="end" textLength="9.8" lengthAdjust="spacingAndGlyphs">60</text>
<text class="b" x="296.35" y="251.40" font-size="9.9" text-anchor="end" textLength="9.8" lengthAdjust="spacingAndGlyphs">80</text>
<path d="M70.45 540.78V540.08M66.25 540.08H74.65" stroke="#1a1a1a" stroke-width="1" fill="none"/><rect x="62.50" y="540.78" width="15.90" height="12.97" fill="#fff" stroke="#1a1a1a" stroke-width="1"/><path d="M86.35 539.24V538.54M82.15 538.54H90.55" stroke="#1a1a1a" stroke-width="1" fill="none"/><rect x="78.40" y="539.24" width="15.90" height="14.51" fill="#1a1a1a" stroke="#1a1a1a" stroke-width="1"/><path d="M117.45 529.34V527.52M113.25 527.52H121.65" stroke="#1a1a1a" stroke-width="1" fill="none"/><rect x="109.50" y="529.34" width="15.90" height="24.41" fill="#fff" stroke="#1a1a1a" stroke-width="1"/><path d="M133.35 490.56V487.21M129.15 487.21H137.55" stroke="#1a1a1a" stroke-width="1" fill="none"/><rect x="125.40" y="490.56" width="15.90" height="63.19" fill="#1a1a1a" stroke="#1a1a1a" stroke-width="1"/><path d="M164.95 527.25V526.69M160.75 526.69H169.15" stroke="#1a1a1a" stroke-width="1" fill="none"/><rect x="157.00" y="527.25" width="15.90" height="26.50" fill="#fff" stroke="#1a1a1a" stroke-width="1"/><path d="M180.85 507.30V503.81M176.65 503.81H185.05" stroke="#1a1a1a" stroke-width="1" fill="none"/><rect x="172.90" y="507.30" width="15.90" height="46.45" fill="#1a1a1a" stroke="#1a1a1a" stroke-width="1"/><rect x="203.75" y="544.26" width="15.90" height="9.49" fill="#fff" stroke="#1a1a1a" stroke-width="1"/><path d="M227.60 511.34V507.99M223.40 507.99H231.80" stroke="#1a1a1a" stroke-width="1" fill="none"/><rect x="219.65" y="511.34" width="15.90" height="42.41" fill="#1a1a1a" stroke="#1a1a1a" stroke-width="1"/>
<path d="M55.00 428.75V553.75H243.00M55.00 553.75h-3.6M55.00 525.85h-3.6M55.00 497.95h-3.6M55.00 470.05h-3.6M55.00 442.15h-3.6" stroke="#1a1a1a" stroke-width="1" fill="none"/>
<text class="b" x="50.60" y="557.25" font-size="9.9" text-anchor="end" textLength="4.9" lengthAdjust="spacingAndGlyphs">0</text>
<text class="b" x="50.60" y="529.35" font-size="9.9" text-anchor="end" textLength="9.8" lengthAdjust="spacingAndGlyphs">20</text>
<text class="b" x="50.60" y="501.45" font-size="9.9" text-anchor="end" textLength="9.8" lengthAdjust="spacingAndGlyphs">40</text>
<text class="b" x="50.60" y="473.55" font-size="9.9" text-anchor="end" textLength="9.8" lengthAdjust="spacingAndGlyphs">60</text>
<text class="b" x="50.60" y="445.65" font-size="9.9" text-anchor="end" textLength="9.8" lengthAdjust="spacingAndGlyphs">80</text>
<text x="76.10" y="373.80" font-size="10.7" text-anchor="middle" stroke="#000" stroke-width="0.25">viable</text>
<text x="120.60" y="373.80" font-size="10.7" text-anchor="middle" stroke="#000" stroke-width="0.25">early</text>
<text x="120.60" y="386.10" font-size="10.7" text-anchor="middle" stroke="#000" stroke-width="0.25">apoptotic</text>
<text x="169.80" y="373.80" font-size="10.7" text-anchor="middle" stroke="#000" stroke-width="0.25">late</text>
<text x="169.80" y="386.10" font-size="10.7" text-anchor="middle" stroke="#000" stroke-width="0.25">apoptotic</text>
<text x="223.00" y="373.80" font-size="10.7" text-anchor="middle" stroke="#000" stroke-width="0.25">necrotic</text>
<text x="326.70" y="373.80" font-size="10.7" text-anchor="middle" stroke="#000" stroke-width="0.25">viable</text>
<text x="371.20" y="373.80" font-size="10.7" text-anchor="middle" stroke="#000" stroke-width="0.25">early</text>
<text x="371.20" y="386.10" font-size="10.7" text-anchor="middle" stroke="#000" stroke-width="0.25">apoptotic</text>
<text x="420.40" y="373.80" font-size="10.7" text-anchor="middle" stroke="#000" stroke-width="0.25">late</text>
<text x="420.40" y="386.10" font-size="10.7" text-anchor="middle" stroke="#000" stroke-width="0.25">apoptotic</text>
<text x="473.80" y="373.80" font-size="10.7" text-anchor="middle" stroke="#000" stroke-width="0.25">necrotic</text>
<text x="75.20" y="567.60" font-size="10.7" text-anchor="middle" stroke="#000" stroke-width="0.25">viable</text>
<text x="119.70" y="567.60" font-size="10.7" text-anchor="middle" stroke="#000" stroke-width="0.25">early</text>
<text x="119.70" y="580.00" font-size="10.7" text-anchor="middle" stroke="#000" stroke-width="0.25">apoptotic</text>
<text x="169.50" y="567.60" font-size="10.7" text-anchor="middle" stroke="#000" stroke-width="0.25">late</text>
<text x="169.50" y="580.00" font-size="10.7" text-anchor="middle" stroke="#000" stroke-width="0.25">apoptotic</text>
<text x="222.50" y="567.60" font-size="10.7" text-anchor="middle" stroke="#000" stroke-width="0.25">necrotic</text>
<text class="b" transform="translate(35.10 341.00) rotate(-90)" font-size="10.4" textLength="84.4" lengthAdjust="spacingAndGlyphs">% uptake /binding</text>
<text class="b" transform="translate(280.10 340.40) rotate(-90)" font-size="10.4" textLength="84.4" lengthAdjust="spacingAndGlyphs">% uptake /binding</text>
<text class="b" transform="translate(34.50 534.80) rotate(-90)" font-size="10.4" textLength="84.4" lengthAdjust="spacingAndGlyphs">% uptake /binding</text>
<text class="b" transform="translate(300.70 528.00) rotate(-90)" font-size="9.9" textLength="80" lengthAdjust="spacingAndGlyphs">% uptake /binding</text>
<text class="b" x="78.9" y="234.8" font-size="19.3">DC</text>
<text class="b" y="236.90" font-size="20.1"><tspan x="324.10">M</tspan><tspan x="339.90" font-weight="normal" font-size="19.5">ϕ</tspan><tspan x="351.80">2</tspan></text>
<text class="b" y="430.60" font-size="20.1"><tspan x="78.10">M</tspan><tspan x="94.30" font-weight="normal" font-size="19.5">ϕ</tspan><tspan x="105.30">1</tspan></text>
<rect x="194" y="253.4" width="18" height="8.3" fill="#fff" stroke="#1a1a1a" stroke-width="1"/>
<rect x="194" y="267.6" width="18" height="8.3" fill="#1a1a1a" stroke="#1a1a1a" stroke-width="1"/>
<text x="214.20" y="260.90" font-size="10.3" text-anchor="start">4°C</text>
<text x="214.20" y="275.60" font-size="10.3" text-anchor="start">37°C</text>
<path d="M351.55 527.46V525.48M345.45 525.48H357.65" stroke="#1a1a1a" stroke-width="1.2" fill="none"/><rect x="340.10" y="527.66" width="22.90" height="24.94" fill="#a3a3a3" stroke="#161616" stroke-width="1.4"/><path d="M387.05 519.91V518.30M380.95 518.30H393.15" stroke="#1a1a1a" stroke-width="1.2" fill="none"/><rect x="375.50" y="520.11" width="23.10" height="32.49" fill="#1a1a1a" stroke="#161616" stroke-width="1.4"/><path d="M445.88 439.81V432.99M439.77 432.99H451.98" stroke="#1a1a1a" stroke-width="1.2" fill="none"/><rect x="434.45" y="440.01" width="22.85" height="112.59" fill="#a3a3a3" stroke="#161616" stroke-width="1.4"/><path d="M481.12 444.12V443.40M475.02 443.40H487.23" stroke="#1a1a1a" stroke-width="1.2" fill="none"/><rect x="469.70" y="444.32" width="22.85" height="108.28" fill="#1a1a1a" stroke="#161616" stroke-width="1.4"/>
<path d="M321.25 427.00V552.60H510.5M321.25 552.60h-3.8M321.25 534.64h-3.8M321.25 516.68h-3.8M321.25 498.72h-3.8M321.25 480.76h-3.8M321.25 462.80h-3.8M321.25 444.84h-3.8M321.25 426.88h-3.8M369.5 552.60v4M463.3 552.60v9" stroke="#1a1a1a" stroke-width="1" fill="none"/>
<text class="b" x="316.85" y="556.10" font-size="9.9" text-anchor="end" textLength="4.9" lengthAdjust="spacingAndGlyphs">0</text>
<text class="b" x="316.85" y="538.14" font-size="9.9" text-anchor="end" textLength="9.8" lengthAdjust="spacingAndGlyphs">10</text>
<text class="b" x="316.85" y="520.18" font-size="9.9" text-anchor="end" textLength="9.8" lengthAdjust="spacingAndGlyphs">20</text>
<text class="b" x="316.85" y="502.22" font-size="9.9" text-anchor="end" textLength="9.8" lengthAdjust="spacingAndGlyphs">30</text>
<text class="b" x="316.85" y="484.26" font-size="9.9" text-anchor="end" textLength="9.8" lengthAdjust="spacingAndGlyphs">40</text>
<text class="b" x="316.85" y="466.30" font-size="9.9" text-anchor="end" textLength="9.8" lengthAdjust="spacingAndGlyphs">50</text>
<text class="b" x="316.85" y="448.34" font-size="9.9" text-anchor="end" textLength="9.8" lengthAdjust="spacingAndGlyphs">60</text>
<text class="b" x="316.85" y="430.38" font-size="9.9" text-anchor="end" textLength="9.8" lengthAdjust="spacingAndGlyphs">70</text>
<text class="b" x="360.90" y="565.40" font-size="9.8" text-anchor="start">4<tspan font-weight="normal" font-size="9.3" dy="1.2" dx="0.3" fill="#444">°</tspan><tspan dy="-1.2" dx="0.6">C</tspan></text>
<text class="b" x="453.00" y="565.40" font-size="9.8" text-anchor="start">37<tspan font-weight="normal" font-size="9.3" dy="1.2" dx="0.3" fill="#444">°</tspan><tspan dy="-1.2" dx="0.6">C</tspan></text>
<rect x="331.6" y="442.2" width="17.8" height="7.8" fill="#a3a3a3" stroke="#1a1a1a" stroke-width="1.2"/>
<rect x="331.6" y="456.6" width="17.8" height="8.2" fill="#1a1a1a" stroke="#1a1a1a" stroke-width="1.2"/>
<text x="351.2" y="449.7" font-size="10.3">Mϕ2</text>
<text x="351.2" y="464.4" font-size="10.3">Mϕ2+αIL-10R</text>
</svg></body></html>
